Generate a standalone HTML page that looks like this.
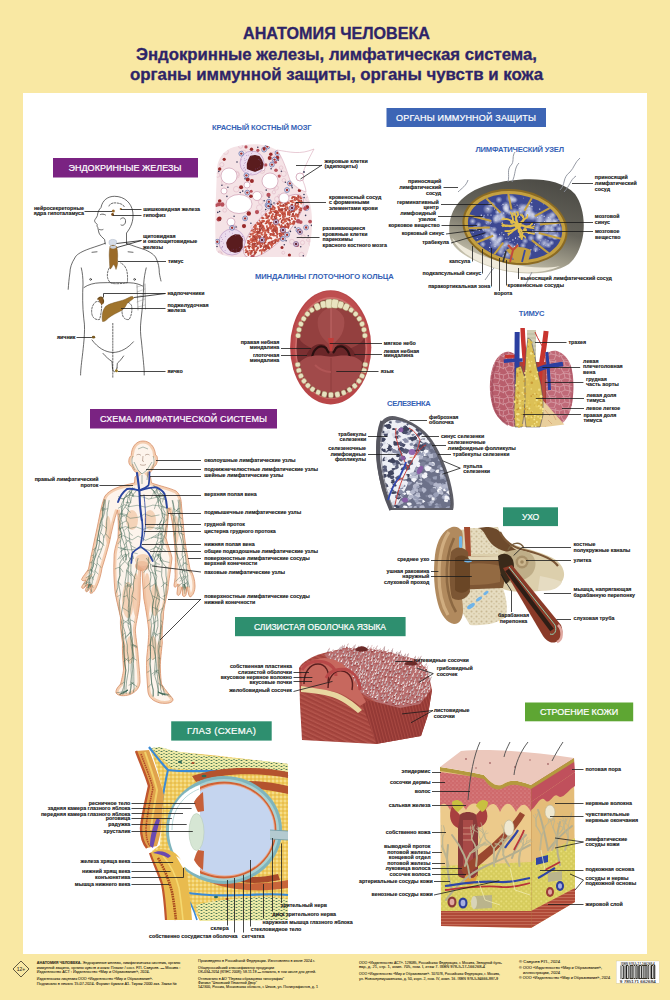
<!DOCTYPE html>
<html><head><meta charset="utf-8">
<style>
html,body{margin:0;padding:0;width:670px;height:1000px;overflow:hidden;background:#f9e8a3;}
svg{position:absolute;left:0;top:0;display:block;}
text{font-family:"Liberation Sans",sans-serif;}
.t{font-weight:bold;fill:#2e2468;stroke:#2e2468;stroke-width:0.3;}
.b{font-weight:normal;fill:#fff;stroke:#fff;stroke-width:0.2;font-size:9px;}
.h{font-weight:bold;fill:#3562b6;font-size:7.6px;}
.l{font-size:5.6px;fill:#1a1a1a;font-weight:bold;}
.ln{stroke:#1a1a1a;stroke-width:0.7;fill:none;}
.f{font-size:3.6px;fill:#3a3320;}
</style></head><body>
<svg width="670" height="1000" viewBox="0 0 670 1000">
<!-- white panel -->
<rect x="23" y="93" width="624" height="861" fill="#ffffff"/>

<!-- title -->
<text class="t" x="243" y="38.5" font-size="16" textLength="187" lengthAdjust="spacingAndGlyphs">АНАТОМИЯ ЧЕЛОВЕКА</text>
<text class="t" x="136" y="59.8" font-size="16" textLength="401" lengthAdjust="spacingAndGlyphs">Эндокринные железы, лимфатическая система,</text>
<text class="t" x="130" y="80.4" font-size="16" textLength="413" lengthAdjust="spacingAndGlyphs">органы иммунной защиты, органы чувств и кожа</text>

<!-- banners -->
<rect x="53" y="158" width="145" height="19.5" fill="#7a2382"/>
<text class="b" x="68.5" y="171" textLength="113" lengthAdjust="spacing">ЭНДОКРИННЫЕ ЖЕЛЕЗЫ</text>
<rect x="386.5" y="108" width="159.5" height="19" fill="#3d65b5"/>
<text class="b" x="396" y="120.8" textLength="140" lengthAdjust="spacing">ОРГАНЫ ИММУННОЙ ЗАЩИТЫ</text>
<rect x="90" y="409" width="187" height="19.5" fill="#7a2382"/>
<text class="b" x="100" y="422" textLength="167" lengthAdjust="spacing">СХЕМА ЛИМФАТИЧЕСКОЙ СИСТЕМЫ</text>
<rect x="503" y="507.3" width="55" height="18.8" fill="#2e8f6f"/>
<text class="b" x="522" y="519.7" style="font-size:8.6px" textLength="17.3" lengthAdjust="spacing">УХО</text>
<rect x="235" y="617" width="170.6" height="19.2" fill="#2e8f6f"/>
<text class="b" x="254" y="630" style="font-size:8.5px" textLength="132" lengthAdjust="spacing">СЛИЗИСТАЯ ОБОЛОЧКА ЯЗЫКА</text>
<rect x="171.2" y="721.3" width="100.5" height="19.3" fill="#2e8f6f"/>
<text class="b" x="187" y="734.3" style="font-size:9.6px" textLength="69" lengthAdjust="spacing">ГЛАЗ (СХЕМА)</text>
<rect x="525" y="702.5" width="108.2" height="18.8" fill="#5ea633"/>
<text class="b" x="540" y="715.3" textLength="78.2" lengthAdjust="spacing">СТРОЕНИЕ КОЖИ</text>

<!-- section headings (blue) -->
<text class="h" x="212" y="130" textLength="99.6" lengthAdjust="spacing">КРАСНЫЙ КОСТНЫЙ МОЗГ</text>
<text class="h" x="475.4" y="151.7" textLength="88.6" lengthAdjust="spacing">ЛИМФАТИЧЕСКИЙ УЗЕЛ</text>
<text class="h" x="255" y="279.3" textLength="138.8" lengthAdjust="spacing">МИНДАЛИНЫ ГЛОТОЧНОГО КОЛЬЦА</text>
<text class="h" x="518.8" y="315.6" textLength="25.6" lengthAdjust="spacing">ТИМУС</text>
<text class="h" x="387" y="405.9" textLength="43.7" lengthAdjust="spacing">СЕЛЕЗЕНКА</text>

<!-- ILLUSTRATIONS -->
<defs>
  <linearGradient id="lnOut" x1="0.6" y1="0" x2="0.2" y2="1">
    <stop offset="0" stop-color="#4e4d47"/>
    <stop offset="0.4" stop-color="#65635a"/>
    <stop offset="0.7" stop-color="#a39f8d"/>
    <stop offset="1" stop-color="#e6e1cc"/>
  </linearGradient>
  <radialGradient id="blueLobe" cx="0.5" cy="0.5" r="0.6">
    <stop offset="0" stop-color="#8a93c4"/>
    <stop offset="1" stop-color="#3e4a94"/>
  </radialGradient>
  <pattern id="speck" width="6" height="6" patternUnits="userSpaceOnUse">
    <circle cx="1.5" cy="1.5" r="0.8" fill="#dfe3f5"/>
    <circle cx="4.5" cy="4" r="0.6" fill="#c9cfee"/>
  </pattern>
</defs>
<!-- LYMPH NODE -->
<g id="lymphnode">
<path d="M449.5,235 C447,212 460,193 488,185 C518,177 558,175 575,194 C588,212 587,248 569,264 C549,277 512,276 485,265 C465,257 451,248 449.5,235 Z" fill="url(#lnOut)"/>
<path d="M452,238 C458,252 480,266 510,271 C530,274 548,272 560,266 C540,270 505,266 478,254 C462,247 455,241 452,238Z" fill="#efeadb"/>
<defs><radialGradient id="cloud"><stop offset="0" stop-color="#e8ecf8" stop-opacity="0.95"/><stop offset="1" stop-color="#e8ecf8" stop-opacity="0"/></radialGradient></defs>
<g transform="rotate(10 515 227)">
<ellipse cx="515" cy="227" rx="53" ry="37.5" fill="#8a6a24"/>
<ellipse cx="515" cy="227" rx="51" ry="35.5" fill="#c4a040"/>
<ellipse cx="515" cy="227" rx="47.5" ry="32.5" fill="#3c4892"/>
</g>
<clipPath id="lnclip"><ellipse cx="515" cy="227" rx="47.5" ry="32.5" transform="rotate(10 515 227)"/></clipPath>
<g clip-path="url(#lnclip)">
<circle cx="551.5" cy="242.8" r="2.9" fill="url(#cloud)" opacity="0.8"/>
<circle cx="512.3" cy="199.7" r="4.4" fill="url(#cloud)" opacity="0.8"/>
<circle cx="506.5" cy="244.0" r="4.3" fill="url(#cloud)" opacity="0.8"/>
<circle cx="549.3" cy="221.9" r="3.9" fill="url(#cloud)" opacity="0.8"/>
<circle cx="493.7" cy="239.3" r="4.3" fill="url(#cloud)" opacity="0.8"/>
<circle cx="486.6" cy="236.3" r="4.1" fill="url(#cloud)" opacity="0.8"/>
<circle cx="503.2" cy="218.1" r="3.1" fill="url(#cloud)" opacity="0.8"/>
<circle cx="506.1" cy="205.7" r="4.6" fill="url(#cloud)" opacity="0.8"/>
<circle cx="536.7" cy="232.1" r="3.8" fill="url(#cloud)" opacity="0.8"/>
<circle cx="514.6" cy="212.1" r="4.4" fill="url(#cloud)" opacity="0.8"/>
<circle cx="493.8" cy="236.1" r="4.6" fill="url(#cloud)" opacity="0.8"/>
<circle cx="548.5" cy="245.2" r="3.3" fill="url(#cloud)" opacity="0.8"/>
<circle cx="500.6" cy="238.5" r="3.7" fill="url(#cloud)" opacity="0.8"/>
<circle cx="527.4" cy="214.1" r="3.9" fill="url(#cloud)" opacity="0.8"/>
<circle cx="491.8" cy="233.2" r="2.8" fill="url(#cloud)" opacity="0.8"/>
<circle cx="505.9" cy="208.8" r="3.7" fill="url(#cloud)" opacity="0.8"/>
<circle cx="499.4" cy="219.0" r="4.5" fill="url(#cloud)" opacity="0.8"/>
<circle cx="533.3" cy="216.8" r="4.5" fill="url(#cloud)" opacity="0.8"/>
<circle cx="507.1" cy="210.9" r="3.2" fill="url(#cloud)" opacity="0.8"/>
<circle cx="539.3" cy="236.6" r="3.6" fill="url(#cloud)" opacity="0.8"/>
<circle cx="485.1" cy="228.7" r="3.9" fill="url(#cloud)" opacity="0.8"/>
<circle cx="531.1" cy="238.0" r="3.9" fill="url(#cloud)" opacity="0.8"/>
<circle cx="494.0" cy="229.5" r="3.2" fill="url(#cloud)" opacity="0.8"/>
<circle cx="553.6" cy="223.5" r="4.3" fill="url(#cloud)" opacity="0.8"/>
<circle cx="497.6" cy="242.2" r="4.3" fill="url(#cloud)" opacity="0.8"/>
<circle cx="483.1" cy="218.1" r="2.6" fill="url(#cloud)" opacity="0.8"/>
<circle cx="509.9" cy="212.4" r="3.3" fill="url(#cloud)" opacity="0.8"/>
<circle cx="472.6" cy="221.3" r="3.5" fill="url(#cloud)" opacity="0.8"/>
<circle cx="501.4" cy="214.9" r="4.8" fill="url(#cloud)" opacity="0.8"/>
<circle cx="515.5" cy="248.6" r="4.2" fill="url(#cloud)" opacity="0.8"/>
<circle cx="505.9" cy="208.2" r="4.1" fill="url(#cloud)" opacity="0.8"/>
<circle cx="559.1" cy="228.9" r="3.9" fill="url(#cloud)" opacity="0.8"/>
<circle cx="495.5" cy="218.0" r="3.7" fill="url(#cloud)" opacity="0.8"/>
<circle cx="497.4" cy="212.1" r="2.8" fill="url(#cloud)" opacity="0.8"/>
<circle cx="528.6" cy="253.4" r="3.0" fill="url(#cloud)" opacity="0.8"/>
<circle cx="478.6" cy="224.8" r="3.1" fill="url(#cloud)" opacity="0.8"/>
<circle cx="525.6" cy="208.0" r="4.9" fill="url(#cloud)" opacity="0.8"/>
<circle cx="523.0" cy="245.6" r="3.4" fill="url(#cloud)" opacity="0.8"/>
<circle cx="510.9" cy="246.2" r="3.6" fill="url(#cloud)" opacity="0.8"/>
<circle cx="482.8" cy="244.2" r="3.3" fill="url(#cloud)" opacity="0.8"/>
<circle cx="550.3" cy="235.9" r="3.6" fill="url(#cloud)" opacity="0.8"/>
<circle cx="552.3" cy="231.0" r="4.3" fill="url(#cloud)" opacity="0.8"/>
<circle cx="492.8" cy="204.7" r="3.2" fill="url(#cloud)" opacity="0.8"/>
<circle cx="529.4" cy="211.7" r="4.6" fill="url(#cloud)" opacity="0.8"/>
<circle cx="547.1" cy="226.8" r="3.6" fill="url(#cloud)" opacity="0.8"/>
<circle cx="488.1" cy="209.2" r="5.4" fill="url(#cloud)" opacity="0.75"/>
<circle cx="550.1" cy="218.0" r="5.8" fill="url(#cloud)" opacity="0.75"/>
<circle cx="545.9" cy="230.9" r="5.8" fill="url(#cloud)" opacity="0.75"/>
<circle cx="490.7" cy="204.5" r="3.3" fill="url(#cloud)" opacity="0.75"/>
<circle cx="488.9" cy="230.5" r="4.6" fill="url(#cloud)" opacity="0.75"/>
<circle cx="495.8" cy="220.5" r="3.7" fill="url(#cloud)" opacity="0.75"/>
<circle cx="507.4" cy="254.7" r="5.3" fill="url(#cloud)" opacity="0.75"/>
<circle cx="535.8" cy="249.2" r="3.4" fill="url(#cloud)" opacity="0.75"/>
<circle cx="497.3" cy="216.0" r="3.0" fill="url(#cloud)" opacity="0.75"/>
<circle cx="532.8" cy="214.3" r="3.6" fill="url(#cloud)" opacity="0.75"/>
<circle cx="555.2" cy="224.0" r="3.9" fill="url(#cloud)" opacity="0.75"/>
<circle cx="547.1" cy="221.6" r="5.0" fill="url(#cloud)" opacity="0.75"/>
<circle cx="526.8" cy="254.4" r="5.1" fill="url(#cloud)" opacity="0.75"/>
<circle cx="555.0" cy="221.2" r="3.9" fill="url(#cloud)" opacity="0.75"/>
<circle cx="499.0" cy="239.9" r="3.4" fill="url(#cloud)" opacity="0.75"/>
<circle cx="540.5" cy="234.5" r="4.8" fill="url(#cloud)" opacity="0.75"/>
<circle cx="551.1" cy="227.5" r="4.0" fill="url(#cloud)" opacity="0.75"/>
<circle cx="500.6" cy="251.8" r="4.4" fill="url(#cloud)" opacity="0.75"/>
<circle cx="502.2" cy="246.8" r="5.1" fill="url(#cloud)" opacity="0.75"/>
<circle cx="555.0" cy="237.2" r="3.1" fill="url(#cloud)" opacity="0.75"/>
<circle cx="514.9" cy="199.9" r="3.1" fill="url(#cloud)" opacity="0.75"/>
<circle cx="521.9" cy="207.6" r="4.7" fill="url(#cloud)" opacity="0.75"/>
<circle cx="537.1" cy="227.9" r="3.5" fill="url(#cloud)" opacity="0.75"/>
<circle cx="539.5" cy="222.2" r="5.3" fill="url(#cloud)" opacity="0.75"/>
<circle cx="552.9" cy="214.8" r="4.0" fill="url(#cloud)" opacity="0.75"/>
<circle cx="495.0" cy="244.6" r="5.3" fill="url(#cloud)" opacity="0.75"/>
<circle cx="544.3" cy="243.1" r="5.4" fill="url(#cloud)" opacity="0.75"/>
<circle cx="529.0" cy="215.5" r="5.8" fill="url(#cloud)" opacity="0.75"/>
<circle cx="539.1" cy="237.6" r="4.8" fill="url(#cloud)" opacity="0.75"/>
<circle cx="539.9" cy="217.4" r="5.8" fill="url(#cloud)" opacity="0.75"/>
<circle cx="488.1" cy="221.7" r="4.0" fill="url(#cloud)" opacity="0.75"/>
<circle cx="525.1" cy="241.0" r="3.4" fill="url(#cloud)" opacity="0.75"/>
<circle cx="498.9" cy="199.7" r="3.5" fill="url(#cloud)" opacity="0.75"/>
<circle cx="556.0" cy="235.8" r="4.6" fill="url(#cloud)" opacity="0.75"/>
<circle cx="493.1" cy="237.0" r="4.8" fill="url(#cloud)" opacity="0.75"/>
<circle cx="529.4" cy="208.1" r="4.3" fill="url(#cloud)" opacity="0.75"/>
<circle cx="553.9" cy="236.7" r="3.1" fill="url(#cloud)" opacity="0.75"/>
<circle cx="475.4" cy="228.1" r="3.4" fill="url(#cloud)" opacity="0.75"/>
<circle cx="510.2" cy="198.5" r="4.9" fill="url(#cloud)" opacity="0.75"/>
<circle cx="520.6" cy="211.5" r="4.3" fill="url(#cloud)" opacity="0.75"/>
<circle cx="539.3" cy="249.6" r="0.4" fill="#d8def2"/>
<circle cx="470.9" cy="236.1" r="0.6" fill="#d8def2"/>
<circle cx="543.3" cy="224.1" r="0.5" fill="#d8def2"/>
<circle cx="511.2" cy="207.1" r="0.4" fill="#d8def2"/>
<circle cx="499.5" cy="234.3" r="0.5" fill="#d8def2"/>
<circle cx="559.7" cy="224.8" r="0.6" fill="#d8def2"/>
<circle cx="490.1" cy="227.1" r="0.3" fill="#d8def2"/>
<circle cx="509.5" cy="253.4" r="0.6" fill="#d8def2"/>
<circle cx="489.7" cy="247.4" r="0.6" fill="#d8def2"/>
<circle cx="503.0" cy="204.4" r="0.6" fill="#d8def2"/>
<circle cx="491.1" cy="245.9" r="0.4" fill="#d8def2"/>
<circle cx="476.5" cy="229.4" r="0.6" fill="#d8def2"/>
<circle cx="502.9" cy="256.0" r="0.6" fill="#d8def2"/>
<circle cx="502.3" cy="222.2" r="0.5" fill="#d8def2"/>
<circle cx="514.8" cy="251.2" r="0.5" fill="#d8def2"/>
<circle cx="529.2" cy="205.4" r="0.6" fill="#d8def2"/>
<circle cx="495.0" cy="246.3" r="0.6" fill="#d8def2"/>
<circle cx="526.9" cy="211.8" r="0.6" fill="#d8def2"/>
<circle cx="539.7" cy="209.1" r="0.7" fill="#d8def2"/>
<circle cx="544.5" cy="221.4" r="0.5" fill="#d8def2"/>
<circle cx="535.5" cy="251.0" r="0.7" fill="#d8def2"/>
<circle cx="479.2" cy="230.5" r="0.6" fill="#d8def2"/>
<circle cx="512.6" cy="213.8" r="0.6" fill="#d8def2"/>
<circle cx="484.1" cy="215.3" r="0.5" fill="#d8def2"/>
<circle cx="487.3" cy="208.4" r="0.6" fill="#d8def2"/>
<circle cx="512.2" cy="217.0" r="0.4" fill="#d8def2"/>
<circle cx="482.5" cy="235.6" r="0.4" fill="#d8def2"/>
<circle cx="501.6" cy="205.5" r="0.3" fill="#d8def2"/>
<circle cx="494.0" cy="229.6" r="0.3" fill="#d8def2"/>
<circle cx="531.2" cy="239.3" r="0.4" fill="#d8def2"/>
<circle cx="520.3" cy="236.7" r="0.5" fill="#d8def2"/>
<circle cx="490.4" cy="242.7" r="0.5" fill="#d8def2"/>
<circle cx="518.3" cy="256.2" r="0.3" fill="#d8def2"/>
<circle cx="495.9" cy="235.8" r="0.5" fill="#d8def2"/>
<circle cx="545.5" cy="245.3" r="0.4" fill="#d8def2"/>
<circle cx="547.8" cy="232.2" r="0.3" fill="#d8def2"/>
<circle cx="491.1" cy="222.2" r="0.5" fill="#d8def2"/>
<circle cx="553.9" cy="219.9" r="0.5" fill="#d8def2"/>
<circle cx="528.3" cy="205.2" r="0.4" fill="#d8def2"/>
<circle cx="535.8" cy="244.6" r="0.5" fill="#d8def2"/>
<circle cx="558.4" cy="218.9" r="0.5" fill="#d8def2"/>
<circle cx="489.7" cy="250.4" r="0.3" fill="#d8def2"/>
<circle cx="540.1" cy="240.7" r="0.5" fill="#d8def2"/>
<circle cx="536.7" cy="245.0" r="0.7" fill="#d8def2"/>
<circle cx="495.2" cy="240.4" r="0.4" fill="#d8def2"/>
<circle cx="503.4" cy="256.7" r="0.5" fill="#d8def2"/>
<circle cx="557.0" cy="219.9" r="0.5" fill="#d8def2"/>
<circle cx="512.2" cy="257.9" r="0.5" fill="#d8def2"/>
<circle cx="494.0" cy="235.4" r="0.7" fill="#d8def2"/>
<circle cx="491.8" cy="227.8" r="0.5" fill="#d8def2"/>
<circle cx="539.5" cy="243.0" r="0.5" fill="#d8def2"/>
<circle cx="504.5" cy="252.6" r="0.6" fill="#d8def2"/>
<circle cx="546.0" cy="228.8" r="0.4" fill="#d8def2"/>
<circle cx="550.9" cy="216.5" r="0.4" fill="#d8def2"/>
<circle cx="512.9" cy="239.9" r="0.7" fill="#d8def2"/>
<circle cx="506.0" cy="249.0" r="0.5" fill="#d8def2"/>
<circle cx="494.5" cy="209.0" r="0.6" fill="#d8def2"/>
<circle cx="543.3" cy="244.7" r="0.4" fill="#d8def2"/>
<circle cx="490.7" cy="223.5" r="0.4" fill="#d8def2"/>
<circle cx="486.6" cy="223.3" r="0.4" fill="#d8def2"/>
<circle cx="514.0" cy="204.6" r="0.3" fill="#d8def2"/>
<circle cx="514.6" cy="246.5" r="0.7" fill="#d8def2"/>
<circle cx="539.0" cy="213.1" r="0.3" fill="#d8def2"/>
<circle cx="519.9" cy="208.4" r="0.5" fill="#d8def2"/>
<circle cx="506.1" cy="204.4" r="0.5" fill="#d8def2"/>
<circle cx="537.5" cy="217.5" r="0.5" fill="#d8def2"/>
<circle cx="527.2" cy="215.9" r="0.4" fill="#d8def2"/>
<circle cx="522.8" cy="217.3" r="0.6" fill="#d8def2"/>
<circle cx="505.5" cy="209.1" r="0.4" fill="#d8def2"/>
<circle cx="523.3" cy="198.1" r="0.4" fill="#d8def2"/>
<circle cx="483.6" cy="229.9" r="0.5" fill="#d8def2"/>
<circle cx="505.8" cy="238.3" r="0.5" fill="#d8def2"/>
<circle cx="521.2" cy="216.7" r="0.4" fill="#d8def2"/>
<circle cx="531.7" cy="202.7" r="0.6" fill="#d8def2"/>
<circle cx="551.7" cy="231.0" r="0.7" fill="#d8def2"/>
<circle cx="551.5" cy="226.7" r="0.3" fill="#d8def2"/>
<circle cx="526.5" cy="215.0" r="0.6" fill="#d8def2"/>
<circle cx="550.2" cy="219.6" r="0.4" fill="#d8def2"/>
<circle cx="503.5" cy="255.5" r="0.4" fill="#d8def2"/>
<circle cx="494.0" cy="215.1" r="0.4" fill="#d8def2"/>
<circle cx="503.9" cy="219.7" r="0.3" fill="#d8def2"/>
<circle cx="503.1" cy="234.7" r="0.3" fill="#d8def2"/>
<circle cx="481.3" cy="215.3" r="0.7" fill="#d8def2"/>
<circle cx="533.5" cy="241.2" r="0.4" fill="#d8def2"/>
<circle cx="491.0" cy="215.1" r="0.7" fill="#d8def2"/>
<circle cx="503.8" cy="234.7" r="0.6" fill="#d8def2"/>
<circle cx="535.0" cy="246.0" r="0.5" fill="#d8def2"/>
<circle cx="541.9" cy="215.4" r="0.5" fill="#d8def2"/>
<circle cx="512.4" cy="248.5" r="0.4" fill="#d8def2"/>
<circle cx="515.1" cy="206.2" r="0.4" fill="#d8def2"/>
<circle cx="517.5" cy="244.6" r="0.6" fill="#d8def2"/>
<circle cx="530.9" cy="249.7" r="0.6" fill="#d8def2"/>
<circle cx="545.5" cy="239.3" r="0.3" fill="#d8def2"/>
<circle cx="538.4" cy="242.9" r="0.4" fill="#d8def2"/>
<circle cx="536.1" cy="213.0" r="0.4" fill="#d8def2"/>
<circle cx="519.3" cy="217.2" r="0.6" fill="#d8def2"/>
<circle cx="532.9" cy="231.3" r="0.7" fill="#d8def2"/>
<circle cx="506.1" cy="213.9" r="0.3" fill="#d8def2"/>
<circle cx="549.8" cy="222.9" r="0.6" fill="#d8def2"/>
<circle cx="536.8" cy="244.9" r="0.4" fill="#d8def2"/>
<circle cx="517.3" cy="243.8" r="0.5" fill="#d8def2"/>
<circle cx="499.6" cy="241.6" r="0.4" fill="#d8def2"/>
<circle cx="532.0" cy="206.3" r="0.6" fill="#d8def2"/>
<circle cx="477.2" cy="238.4" r="0.5" fill="#d8def2"/>
<circle cx="487.9" cy="214.9" r="0.6" fill="#d8def2"/>
<circle cx="501.4" cy="234.1" r="0.3" fill="#d8def2"/>
<circle cx="519.5" cy="237.0" r="0.7" fill="#d8def2"/>
<circle cx="476.9" cy="230.1" r="0.3" fill="#d8def2"/>
<circle cx="473.2" cy="232.4" r="0.5" fill="#d8def2"/>
<circle cx="488.9" cy="235.6" r="0.3" fill="#d8def2"/>
<circle cx="525.8" cy="237.8" r="0.4" fill="#d8def2"/>
<circle cx="483.2" cy="245.9" r="0.4" fill="#d8def2"/>
<circle cx="514.4" cy="242.6" r="0.4" fill="#d8def2"/>
<circle cx="510.0" cy="241.3" r="0.5" fill="#d8def2"/>
<circle cx="557.8" cy="233.0" r="0.4" fill="#d8def2"/>
<circle cx="548.4" cy="217.7" r="0.6" fill="#d8def2"/>
<circle cx="471.4" cy="232.3" r="0.3" fill="#d8def2"/>
<circle cx="503.5" cy="213.1" r="0.6" fill="#d8def2"/>
<circle cx="512.5" cy="214.0" r="0.4" fill="#d8def2"/>
<circle cx="536.2" cy="229.3" r="0.3" fill="#d8def2"/>
<circle cx="478.2" cy="244.9" r="0.4" fill="#d8def2"/>
<circle cx="504.0" cy="245.3" r="0.4" fill="#d8def2"/>
<circle cx="510.9" cy="201.9" r="0.4" fill="#d8def2"/>
<circle cx="517.1" cy="251.2" r="0.7" fill="#d8def2"/>
<circle cx="498.0" cy="211.9" r="0.7" fill="#d8def2"/>
<circle cx="531.0" cy="227.4" r="0.6" fill="#d8def2"/>
<circle cx="501.9" cy="232.7" r="0.5" fill="#d8def2"/>
<circle cx="545.6" cy="225.6" r="0.4" fill="#d8def2"/>
<circle cx="528.6" cy="233.2" r="0.7" fill="#d8def2"/>
<circle cx="471.1" cy="228.7" r="0.3" fill="#d8def2"/>
<circle cx="515.6" cy="237.7" r="0.5" fill="#d8def2"/>
<circle cx="535.7" cy="232.6" r="0.5" fill="#d8def2"/>
<circle cx="509.6" cy="237.1" r="0.3" fill="#d8def2"/>
<circle cx="534.5" cy="224.6" r="0.5" fill="#d8def2"/>
<circle cx="489.6" cy="239.2" r="0.3" fill="#d8def2"/>
<circle cx="508.1" cy="238.0" r="0.5" fill="#d8def2"/>
<circle cx="544.2" cy="216.3" r="0.6" fill="#d8def2"/>
<circle cx="518.3" cy="236.7" r="0.5" fill="#d8def2"/>
<circle cx="482.8" cy="228.9" r="0.5" fill="#d8def2"/>
<circle cx="488.6" cy="209.0" r="0.7" fill="#d8def2"/>
<circle cx="504.9" cy="245.1" r="0.6" fill="#d8def2"/>
<circle cx="517.9" cy="239.0" r="0.4" fill="#d8def2"/>
<circle cx="548.1" cy="240.8" r="0.6" fill="#d8def2"/>
<circle cx="508.0" cy="238.5" r="0.3" fill="#d8def2"/>
<circle cx="515.5" cy="238.4" r="0.5" fill="#d8def2"/>
<circle cx="495.6" cy="220.1" r="0.3" fill="#d8def2"/>
<circle cx="510.2" cy="216.9" r="0.4" fill="#d8def2"/>
<circle cx="509.2" cy="244.3" r="0.3" fill="#d8def2"/>
<circle cx="493.8" cy="234.9" r="0.6" fill="#d8def2"/>
<circle cx="474.9" cy="217.0" r="0.6" fill="#d8def2"/>
<circle cx="517.0" cy="204.9" r="0.5" fill="#d8def2"/>
<circle cx="529.3" cy="205.2" r="0.7" fill="#d8def2"/>
<circle cx="510.0" cy="202.4" r="0.4" fill="#d8def2"/>
<circle cx="525.0" cy="210.4" r="0.4" fill="#d8def2"/>
<circle cx="532.9" cy="232.3" r="0.4" fill="#d8def2"/>
<circle cx="504.6" cy="212.9" r="0.3" fill="#d8def2"/>
<circle cx="517.8" cy="205.4" r="0.3" fill="#d8def2"/>
<circle cx="532.3" cy="230.9" r="0.4" fill="#d8def2"/>
<circle cx="543.3" cy="203.7" r="0.5" fill="#d8def2"/>
<circle cx="518.3" cy="245.8" r="0.4" fill="#d8def2"/>
<path d="M491.3,221.0 L458.6,212.6" stroke="#c4a040" stroke-width="2"/>
<path d="M500.6,212.6 L480.6,192.6" stroke="#c4a040" stroke-width="2"/>
<path d="M511.5,209.5 L506.6,185.4" stroke="#c4a040" stroke-width="2"/>
<path d="M524.5,210.7 L537.5,188.1" stroke="#c4a040" stroke-width="2"/>
<path d="M534.9,216.1 L562.3,201.1" stroke="#c4a040" stroke-width="2"/>
<path d="M539.9,224.6 L574.4,221.2" stroke="#c4a040" stroke-width="2"/>
<path d="M538.7,233.0 L571.4,241.4" stroke="#c4a040" stroke-width="2"/>
<path d="M531.8,240.1 L555.1,258.2" stroke="#c4a040" stroke-width="2"/>
<path d="M517.2,244.6 L520.2,268.8" stroke="#c4a040" stroke-width="2"/>
<path d="M503.2,242.6 L486.8,264.1" stroke="#c4a040" stroke-width="2"/>
<path d="M493.2,235.8 L463.0,248.0" stroke="#c4a040" stroke-width="2"/>
<path d="M489.8,227.6 L455.0,228.5" stroke="#c4a040" stroke-width="2"/>
</g>
<g stroke="#e2be4a" fill="none" stroke-linecap="round">
<path d="M517.9,225.5 Q522.6,224.6 525.1,226.6" stroke-width="2.4"/>
<path d="M525.1,226.6 Q526.7,227.2 530.7,227.5" stroke-width="1.8"/>
<path d="M530.7,227.5 Q531.9,228.6 533.7,228.4" stroke-width="1.3"/>
<path d="M530.7,227.5 Q533.7,227.1 534.2,226.1" stroke-width="1.3"/>
<path d="M525.1,226.6 Q528.4,226.0 530.4,225.9" stroke-width="1.8"/>
<path d="M530.4,225.9 Q530.5,224.3 532.4,223.9" stroke-width="1.3"/>
<path d="M530.4,225.9 Q531.3,223.4 532.3,223.8" stroke-width="1.3"/>
<path d="M516.5,226.3 Q518.6,227.7 522.5,232.0" stroke-width="2.4"/>
<path d="M522.5,232.0 Q524.3,231.1 529.1,232.8" stroke-width="1.8"/>
<path d="M529.1,232.8 Q531.4,232.7 534.2,233.3" stroke-width="1.3"/>
<path d="M529.1,232.8 Q530.2,233.6 534.0,234.1" stroke-width="1.3"/>
<path d="M522.5,232.0 Q522.5,235.4 521.2,236.1" stroke-width="1.8"/>
<path d="M521.2,236.1 Q520.4,237.1 522.2,239.0" stroke-width="1.3"/>
<path d="M521.2,236.1 Q521.6,237.6 521.5,239.3" stroke-width="1.3"/>
<path d="M519.2,225.3 Q518.2,228.3 519.0,231.5" stroke-width="2.4"/>
<path d="M519.0,231.5 Q520.0,232.1 520.3,235.0" stroke-width="1.8"/>
<path d="M520.3,235.0 Q520.8,236.8 519.7,236.9" stroke-width="1.3"/>
<path d="M520.3,235.0 Q522.3,235.6 521.5,236.9" stroke-width="1.3"/>
<path d="M519.0,231.5 Q519.9,232.2 522.3,235.5" stroke-width="1.8"/>
<path d="M522.3,235.5 Q523.1,238.3 521.2,238.2" stroke-width="1.3"/>
<path d="M522.3,235.5 Q525.3,236.3 525.4,237.9" stroke-width="1.3"/>
<path d="M518.2,226.8 Q515.4,229.2 512.9,230.4" stroke-width="2.4"/>
<path d="M512.9,230.4 Q511.8,229.9 508.4,231.3" stroke-width="1.8"/>
<path d="M508.4,231.3 Q507.9,231.2 505.0,231.0" stroke-width="1.3"/>
<path d="M508.4,231.3 Q507.9,230.5 505.8,231.4" stroke-width="1.3"/>
<path d="M512.9,230.4 Q511.6,233.1 510.4,233.0" stroke-width="1.8"/>
<path d="M510.4,233.0 Q507.9,235.5 508.3,235.0" stroke-width="1.3"/>
<path d="M510.4,233.0 Q509.7,233.3 508.0,233.4" stroke-width="1.3"/>
<path d="M518.8,225.8 Q515.0,224.6 510.3,226.1" stroke-width="2.4"/>
<path d="M510.3,226.1 Q508.8,225.0 504.9,225.5" stroke-width="1.8"/>
<path d="M504.9,225.5 Q503.8,225.6 502.0,223.5" stroke-width="1.3"/>
<path d="M504.9,225.5 Q502.5,225.8 501.9,225.5" stroke-width="1.3"/>
<path d="M510.3,226.1 Q508.8,225.5 505.6,226.0" stroke-width="1.8"/>
<path d="M505.6,226.0 Q505.9,225.8 503.4,225.0" stroke-width="1.3"/>
<path d="M505.6,226.0 Q505.1,225.3 502.8,226.5" stroke-width="1.3"/>
<path d="M519.9,225.5 Q516.2,223.4 512.6,221.3" stroke-width="2.4"/>
<path d="M512.6,221.3 Q508.8,219.5 506.7,219.2" stroke-width="1.8"/>
<path d="M506.7,219.2 Q504.7,219.9 503.1,218.0" stroke-width="1.3"/>
<path d="M506.7,219.2 Q504.5,218.5 501.7,219.3" stroke-width="1.3"/>
<path d="M512.6,221.3 Q513.6,220.0 512.2,216.1" stroke-width="1.8"/>
<path d="M512.2,216.1 Q515.2,213.2 515.3,212.8" stroke-width="1.3"/>
<path d="M512.2,216.1 Q511.1,213.4 510.5,212.4" stroke-width="1.3"/>
<path d="M517.8,224.7 Q516.4,220.7 516.0,218.7" stroke-width="2.4"/>
<path d="M516.0,218.7 Q516.3,217.4 515.4,215.1" stroke-width="1.8"/>
<path d="M515.4,215.1 Q513.7,214.0 512.9,213.3" stroke-width="1.3"/>
<path d="M515.4,215.1 Q513.9,212.6 513.3,213.1" stroke-width="1.3"/>
<path d="M516.0,218.7 Q515.9,217.4 518.1,214.9" stroke-width="1.8"/>
<path d="M518.1,214.9 Q516.9,212.0 518.1,212.0" stroke-width="1.3"/>
<path d="M518.1,214.9 Q518.9,213.8 516.7,211.9" stroke-width="1.3"/>
<path d="M518.8,225.4 Q520.4,222.7 523.1,220.6" stroke-width="2.4"/>
<path d="M523.1,220.6 Q524.2,218.7 523.2,216.4" stroke-width="1.8"/>
<path d="M523.2,216.4 Q520.2,215.4 520.2,214.5" stroke-width="1.3"/>
<path d="M523.2,216.4 Q522.4,215.9 521.9,214.2" stroke-width="1.3"/>
<path d="M523.1,220.6 Q526.2,217.7 526.8,217.7" stroke-width="1.8"/>
<path d="M526.8,217.7 Q527.7,215.0 527.6,214.7" stroke-width="1.3"/>
<path d="M526.8,217.7 Q527.8,216.3 527.6,215.3" stroke-width="1.3"/>
</g>
<g fill="#e2be4a"><circle cx="518" cy="226" r="3"/><circle cx="512" cy="222" r="2"/><circle cx="525" cy="230" r="2"/></g>
<path d="M506,250 C510,254 513,258 516,263 L528,263 C529,258 530,254 531,250 C523,246 513,246 506,250Z" fill="#c4a040"/>
<path d="M510,262 L513,250 L518,245 M513,250 L508,245" stroke="#c24a3a" stroke-width="2" fill="none"/>
<path d="M522,262 L525,250" stroke="#3a4aa0" stroke-width="1.8"/>
<path d="M503,262 L506,251" stroke="#333" stroke-width="1.6"/>
<g stroke="#8a8f9a" stroke-width="0.9" fill="none">
    <path d="M508,182 C510,174 506,170 512,164 C514,160 512,156 515,152"/>
    <path d="M512,182 C516,174 514,168 519,163"/>
    <path d="M560,190 C566,184 562,178 570,172 C574,168 575,162 580,158"/>
    <path d="M564,192 C570,186 570,180 576,176"/>
    <path d="M458,192 C462,188 466,186 468,180"/>
    <path d="M494,268 C490,272 488,276 485,280"/>
    <path d="M532,272 C530,276 528,280 525,286"/>
  </g>
</g>

<!-- MOUTH -->
<g id="mouth">
  <ellipse cx="330.7" cy="347.3" rx="40.6" ry="57.1" fill="#b84648"/>
  <ellipse cx="330.7" cy="345" rx="38" ry="54" fill="#c45656" opacity="0.5"/>
  <ellipse cx="331" cy="348" rx="36" ry="51" fill="#cf6e6c"/>
  <ellipse cx="331" cy="348.5" rx="34.5" ry="49.5" fill="#7c3032"/>
  <path d="M299,338 C299,314 313,303 331,303 C349,303 363,314 364,338 C360,347 345,351 331,351 C317,351 303,347 299,338Z" fill="#94403f"/>
  <path d="M318,318 C322,310 328,308 331,308 L331,345 C322,340 316,330 318,318Z" fill="#a85452" opacity="0.6"/>
  <path d="M344,318 C340,310 334,308 331,308 L331,345 C340,340 346,330 344,318Z" fill="#b05a58" opacity="0.6"/>
  <line x1="331" y1="305" x2="331" y2="346" stroke="#c87070" stroke-width="0.8"/>
  <path d="M306,356 C310,346 318,342 325,345 C327,348 328,352 331,354 C334,352 335,348 337,345 C344,342 352,346 356,356 Z" fill="#6a2628"/>
  <path d="M312,357 C314,348 320,344 326,348 C327,350 328,352 329,353 M350,357 C348,348 342,344 336,348 C335,350 334,352 333,353" stroke="#2a1010" stroke-width="2.2" fill="none"/>
  <path d="M328,338 C329,342 329,346 330,350 C330.5,352 331.5,352 332,350 C333,346 333,342 334,338 Z" fill="#c03c3a"/>
  <path d="M300,362 C306,355 318,354 331,357 C344,354 356,355 362,362 C362,380 350,392 331,393 C312,392 300,380 300,362Z" fill="#a14a4a"/>
  <path d="M331,358 L331,392" stroke="#8a3a3a" stroke-width="0.8"/>
  <path d="M315,365 C320,370 325,372 331,372" stroke="#c06060" stroke-width="2" fill="none" opacity="0.5"/>
<rect x="295.7" y="333.1" width="4.8" height="5" rx="2" fill="#e9e4c0" stroke="#9a8a5c" stroke-width="0.4" transform="rotate(-86 298.1 335.6)"/>
<rect x="296.6" y="327.2" width="4.8" height="5" rx="2" fill="#e9e4c0" stroke="#9a8a5c" stroke-width="0.4" transform="rotate(-76 299.0 329.7)"/>
<rect x="298.5" y="321.5" width="4.8" height="5" rx="2" fill="#e9e4c0" stroke="#9a8a5c" stroke-width="0.4" transform="rotate(-66 300.9 324.0)"/>
<rect x="301.3" y="316.2" width="4.8" height="5" rx="2" fill="#e9e4c0" stroke="#9a8a5c" stroke-width="0.4" transform="rotate(-56 303.7 318.7)"/>
<rect x="305.0" y="311.5" width="4.8" height="5" rx="2" fill="#e9e4c0" stroke="#9a8a5c" stroke-width="0.4" transform="rotate(-46 307.4 314.0)"/>
<rect x="309.4" y="307.6" width="4.8" height="5" rx="2" fill="#e9e4c0" stroke="#9a8a5c" stroke-width="0.4" transform="rotate(-36 311.8 310.1)"/>
<rect x="314.4" y="303.2" width="5.8" height="7" rx="2" fill="#e9e4c0" stroke="#9a8a5c" stroke-width="0.4" transform="rotate(-25 317.3 306.7)"/>
<rect x="320.5" y="301.0" width="5.8" height="7" rx="2" fill="#e9e4c0" stroke="#9a8a5c" stroke-width="0.4" transform="rotate(-14 323.4 304.5)"/>
<rect x="325.7" y="299.1" width="7" height="9" rx="2" fill="#e9e4c0" stroke="#9a8a5c" stroke-width="0.4" transform="rotate(-4 329.2 303.6)"/>
<rect x="331.5" y="299.2" width="7" height="9" rx="2" fill="#e9e4c0" stroke="#9a8a5c" stroke-width="0.4" transform="rotate(6 335.0 303.7)"/>
<rect x="337.8" y="301.3" width="5.8" height="7" rx="2" fill="#e9e4c0" stroke="#9a8a5c" stroke-width="0.4" transform="rotate(16 340.7 304.8)"/>
<rect x="343.3" y="303.5" width="5.8" height="7" rx="2" fill="#e9e4c0" stroke="#9a8a5c" stroke-width="0.4" transform="rotate(26 346.2 307.0)"/>
<rect x="348.8" y="307.6" width="4.8" height="5" rx="2" fill="#e9e4c0" stroke="#9a8a5c" stroke-width="0.4" transform="rotate(36 351.2 310.1)"/>
<rect x="353.2" y="311.5" width="4.8" height="5" rx="2" fill="#e9e4c0" stroke="#9a8a5c" stroke-width="0.4" transform="rotate(46 355.6 314.0)"/>
<rect x="356.9" y="316.2" width="4.8" height="5" rx="2" fill="#e9e4c0" stroke="#9a8a5c" stroke-width="0.4" transform="rotate(56 359.3 318.7)"/>
<rect x="359.7" y="321.5" width="4.8" height="5" rx="2" fill="#e9e4c0" stroke="#9a8a5c" stroke-width="0.4" transform="rotate(66 362.1 324.0)"/>
<rect x="361.6" y="327.2" width="4.8" height="5" rx="2" fill="#e9e4c0" stroke="#9a8a5c" stroke-width="0.4" transform="rotate(76 364.0 329.7)"/>
<rect x="362.5" y="333.1" width="4.8" height="5" rx="2" fill="#e9e4c0" stroke="#9a8a5c" stroke-width="0.4" transform="rotate(86 364.9 335.6)"/>
<rect x="295.4" y="362.1" width="4.6" height="5" rx="1.6" fill="#e6e1c0" stroke="#9a8a5c" stroke-width="0.4" transform="rotate(84 297.7 364.6)"/>
<rect x="296.5" y="367.9" width="4.6" height="5" rx="1.6" fill="#e6e1c0" stroke="#9a8a5c" stroke-width="0.4" transform="rotate(74 298.8 370.4)"/>
<rect x="298.6" y="373.4" width="4.6" height="5" rx="1.6" fill="#e6e1c0" stroke="#9a8a5c" stroke-width="0.4" transform="rotate(64 300.9 375.9)"/>
<rect x="301.7" y="378.5" width="4.6" height="5" rx="1.6" fill="#e6e1c0" stroke="#9a8a5c" stroke-width="0.4" transform="rotate(54 304.0 381.0)"/>
<rect x="305.6" y="383.0" width="4.6" height="5" rx="1.6" fill="#e6e1c0" stroke="#9a8a5c" stroke-width="0.4" transform="rotate(44 307.9 385.5)"/>
<rect x="310.2" y="386.7" width="4.6" height="5" rx="1.6" fill="#e6e1c0" stroke="#9a8a5c" stroke-width="0.4" transform="rotate(34 312.5 389.2)"/>
<rect x="315.9" y="389.8" width="4.6" height="5" rx="1.6" fill="#e6e1c0" stroke="#9a8a5c" stroke-width="0.4" transform="rotate(23 318.2 392.3)"/>
<rect x="321.9" y="391.5" width="5" height="5.6" rx="1.6" fill="#e6e1c0" stroke="#9a8a5c" stroke-width="0.4" transform="rotate(12 324.4 394.3)"/>
<rect x="328.4" y="392.2" width="5" height="5.6" rx="1.6" fill="#e6e1c0" stroke="#9a8a5c" stroke-width="0.4" transform="rotate(1 330.9 395.0)"/>
<rect x="334.9" y="391.7" width="5" height="5.6" rx="1.6" fill="#e6e1c0" stroke="#9a8a5c" stroke-width="0.4" transform="rotate(-10 337.4 394.5)"/>
<rect x="341.4" y="390.2" width="4.6" height="5" rx="1.6" fill="#e6e1c0" stroke="#9a8a5c" stroke-width="0.4" transform="rotate(-21 343.7 392.7)"/>
<rect x="347.2" y="387.3" width="4.6" height="5" rx="1.6" fill="#e6e1c0" stroke="#9a8a5c" stroke-width="0.4" transform="rotate(-32 349.5 389.8)"/>
<rect x="352.4" y="383.4" width="4.6" height="5" rx="1.6" fill="#e6e1c0" stroke="#9a8a5c" stroke-width="0.4" transform="rotate(-43 354.7 385.9)"/>
<rect x="356.7" y="378.5" width="4.6" height="5" rx="1.6" fill="#e6e1c0" stroke="#9a8a5c" stroke-width="0.4" transform="rotate(-54 359.0 381.0)"/>
<rect x="359.8" y="373.4" width="4.6" height="5" rx="1.6" fill="#e6e1c0" stroke="#9a8a5c" stroke-width="0.4" transform="rotate(-64 362.1 375.9)"/>
<rect x="361.9" y="367.9" width="4.6" height="5" rx="1.6" fill="#e6e1c0" stroke="#9a8a5c" stroke-width="0.4" transform="rotate(-74 364.2 370.4)"/>
<rect x="363.0" y="362.1" width="4.6" height="5" rx="1.6" fill="#e6e1c0" stroke="#9a8a5c" stroke-width="0.4" transform="rotate(-84 365.3 364.6)"/>
</g>


<!-- THYMUS -->
<defs>
  <pattern id="lungnet" width="14" height="12" patternUnits="userSpaceOnUse">
    <path d="M0,3 L4,1 L9,2 L14,3 M4,1 L5,6 L1,8 L0,7 M5,6 L10,7 L9,2 M10,7 L14,9 M1,8 L3,12 M10,7 L8,12 M14,3 L13,7 L14,9 M3,12 L8,12 M9,2 L10,0 M4,1 L3,0" stroke="#e2b4bc" stroke-width="0.55" fill="none"/>
  </pattern>
</defs>
<g id="thymus">
  <path d="M513,427 C500,422 494,414 492,404 C489,392 489,378 493,366 C496,358 501,353 506,352 C510,351 514,353 517,356 L517,427Z" fill="#b95e6c"/>
  <path d="M513,427 C500,422 494,414 492,404 C489,392 489,378 493,366 C496,358 501,353 506,352 C510,351 514,353 517,356 L517,427Z" fill="url(#lungnet)"/>
  <path d="M497,362 C492,372 491,388 493,402 C495,412 500,420 508,425" stroke="#a24a5a" stroke-width="2" fill="none" opacity="0.7"/>
  <path d="M545,425 L545,355 C548,352 552,350 557,351 C563,353 568,358 571,366 C574,376 574,392 572,404 C570,414 566,421 560,425Z" fill="#c06a78"/>
  <path d="M545,425 L545,355 C548,352 552,350 557,351 C563,353 568,358 571,366 C574,376 574,392 572,404 C570,414 566,421 560,425Z" fill="url(#lungnet)"/>
  <path d="M570,366 C573,378 573,394 571,406" stroke="#a85060" stroke-width="1.5" fill="none" opacity="0.6"/>
  <path d="M516,362 L546,362 L546,427 L516,427Z" fill="#a8403a"/>
  <path d="M522,370 L545,368 L545,400 L540,405 L524,405Z" fill="#b84a40"/>
  <rect x="527" y="330" width="9" height="36" fill="#cfcdb4"/>
  <g stroke="#a9a790" stroke-width="0.6"><line x1="527" y1="334" x2="536" y2="334"/><line x1="527" y1="338" x2="536" y2="338"/><line x1="527" y1="342" x2="536" y2="342"/><line x1="527" y1="346" x2="536" y2="346"/><line x1="527" y1="350" x2="536" y2="350"/><line x1="527" y1="354" x2="536" y2="354"/><line x1="527" y1="358" x2="536" y2="358"/><line x1="527" y1="362" x2="536" y2="362"/></g>
  <path d="M505,356.6 C510,356 514,356 519,356.5" stroke="#c8342e" stroke-width="3" fill="none"/>
  <path d="M522.6,328 C523,340 524,352 525.3,366" stroke="#c8342e" stroke-width="4.5" fill="none"/>
  <path d="M546.1,331 C545,342 543,354 541.4,364 C539,374 539,384 539.5,395" stroke="#c8342e" stroke-width="5" fill="none"/>
  <path d="M535,332 C538,340 543,346 545,352" stroke="#c8342e" stroke-width="1" fill="none"/>
  <path d="M517.2,332 C517,345 517,360 517,375 C517,385 517.5,392 518,398" stroke="#2b3fa0" stroke-width="5" fill="none"/>
  <path d="M503.8,361.3 C510,360.5 516,360 522.6,360" stroke="#2b3fa0" stroke-width="3.6" fill="none"/>
  <path d="M563,364 C556,365 548,366 542,368 C538,369.5 536,370.5 534,372" stroke="#2b3fa0" stroke-width="4.6" fill="none"/>
  <path d="M546.8,352 C548,364 549,376 549.5,390" stroke="#2b3fa0" stroke-width="3" fill="none"/>
  <path d="M513.2,427.1 L542.8,400.2 L564.3,424.4 L545,427 Z" fill="#e9cf9c"/>
  <path d="M545,410 L550,416 M553,414 L556,420 M548,420 L552,424" stroke="#c88a5a" stroke-width="0.5"/>
  <path d="M528,338 L531,340 L534,352 L537,368 L541,385 L543,400 L543,415 L540,427 L526,427 L524,410 L524,390 L525,370 L526,352Z" fill="#dcc056" stroke="#3a3a60" stroke-width="0.5"/>
  <path d="M516,368 L521,366 L525,378 L525,400 L524,415 L522,427 L515,427 L514,410 L515,390Z" fill="#dcc056" stroke="#3a3a60" stroke-width="0.5"/>
<circle cx="517.4" cy="399.5" r="0.9" fill="#c99a38"/>
<circle cx="519.1" cy="408.9" r="0.7" fill="#e6cc60"/>
<circle cx="529.4" cy="408.5" r="0.9" fill="#f4e48e"/>
<circle cx="531.3" cy="342.4" r="1.2" fill="#d9b848"/>
<circle cx="534.9" cy="376.2" r="1.0" fill="#f0dc80"/>
<circle cx="528.4" cy="346.7" r="0.6" fill="#c99a38"/>
<circle cx="517.3" cy="403.0" r="0.9" fill="#f0dc80"/>
<circle cx="536.9" cy="406.2" r="1.3" fill="#e6cc60"/>
<circle cx="530.4" cy="371.7" r="1.2" fill="#c99a38"/>
<circle cx="524.1" cy="377.5" r="0.8" fill="#f0dc80"/>
<circle cx="528.0" cy="360.4" r="0.7" fill="#f4e48e"/>
<circle cx="535.6" cy="426.4" r="0.9" fill="#f4e48e"/>
<circle cx="530.2" cy="404.8" r="1.0" fill="#d9b848"/>
<circle cx="515.7" cy="397.6" r="1.2" fill="#c99a38"/>
<circle cx="523.0" cy="406.1" r="0.8" fill="#c99a38"/>
<circle cx="517.6" cy="420.9" r="1.1" fill="#d9b848"/>
<circle cx="524.4" cy="398.9" r="1.2" fill="#e6cc60"/>
<circle cx="531.5" cy="417.3" r="1.0" fill="#f0dc80"/>
<circle cx="534.0" cy="422.1" r="0.7" fill="#d9b848"/>
<circle cx="514.3" cy="410.1" r="0.6" fill="#f0dc80"/>
<circle cx="521.5" cy="414.5" r="0.6" fill="#c99a38"/>
<circle cx="520.2" cy="372.3" r="1.1" fill="#c99a38"/>
<circle cx="516.6" cy="395.8" r="0.6" fill="#f0dc80"/>
<circle cx="519.0" cy="413.1" r="1.2" fill="#d9b848"/>
<circle cx="531.8" cy="375.2" r="1.2" fill="#e6cc60"/>
<circle cx="527.7" cy="348.8" r="0.8" fill="#e6cc60"/>
<circle cx="534.6" cy="423.8" r="0.8" fill="#f4e48e"/>
<circle cx="534.5" cy="405.2" r="0.7" fill="#d9b848"/>
<circle cx="516.6" cy="415.8" r="0.7" fill="#c99a38"/>
<circle cx="529.8" cy="365.8" r="1.2" fill="#f0dc80"/>
<circle cx="532.5" cy="352.7" r="0.7" fill="#f0dc80"/>
<circle cx="536.6" cy="405.6" r="1.1" fill="#e6cc60"/>
<circle cx="540.8" cy="407.2" r="0.9" fill="#f4e48e"/>
<circle cx="530.7" cy="414.6" r="0.8" fill="#d9b848"/>
<circle cx="535.0" cy="364.9" r="0.8" fill="#f4e48e"/>
<circle cx="517.2" cy="402.8" r="1.2" fill="#c99a38"/>
<circle cx="538.5" cy="381.1" r="0.7" fill="#e6cc60"/>
<circle cx="531.8" cy="382.8" r="1.3" fill="#c99a38"/>
<circle cx="522.2" cy="400.3" r="1.1" fill="#e6cc60"/>
<circle cx="518.3" cy="392.7" r="1.3" fill="#c99a38"/>
<circle cx="538.9" cy="405.9" r="1.0" fill="#f0dc80"/>
<circle cx="535.3" cy="379.3" r="0.9" fill="#e6cc60"/>
<circle cx="520.2" cy="400.8" r="1.1" fill="#f0dc80"/>
<circle cx="527.0" cy="357.8" r="0.8" fill="#f0dc80"/>
<circle cx="519.5" cy="420.1" r="0.6" fill="#f4e48e"/>
<circle cx="517.7" cy="370.3" r="1.2" fill="#e6cc60"/>
<circle cx="537.7" cy="393.7" r="1.1" fill="#e6cc60"/>
<circle cx="540.3" cy="400.3" r="0.8" fill="#c99a38"/>
<circle cx="532.3" cy="411.9" r="0.7" fill="#f4e48e"/>
<circle cx="518.7" cy="416.6" r="0.7" fill="#d9b848"/>
<circle cx="517.8" cy="384.1" r="1.3" fill="#e6cc60"/>
<circle cx="536.5" cy="378.5" r="1.3" fill="#f4e48e"/>
<circle cx="517.5" cy="375.9" r="0.9" fill="#c99a38"/>
<circle cx="531.2" cy="353.4" r="1.3" fill="#f4e48e"/>
<circle cx="531.7" cy="361.5" r="0.7" fill="#f0dc80"/>
<circle cx="525.0" cy="373.0" r="1.0" fill="#f0dc80"/>
<circle cx="518.2" cy="424.4" r="0.8" fill="#f4e48e"/>
<circle cx="532.8" cy="416.2" r="0.6" fill="#c99a38"/>
<circle cx="528.5" cy="339.6" r="0.9" fill="#e6cc60"/>
<circle cx="517.5" cy="388.5" r="1.0" fill="#f0dc80"/>
<circle cx="525.3" cy="386.8" r="1.0" fill="#d9b848"/>
<circle cx="539.2" cy="389.8" r="1.2" fill="#f0dc80"/>
<circle cx="514.7" cy="418.8" r="0.7" fill="#d9b848"/>
<circle cx="528.4" cy="384.4" r="1.0" fill="#e6cc60"/>
<circle cx="527.5" cy="409.6" r="0.7" fill="#c99a38"/>
<circle cx="538.6" cy="397.5" r="1.0" fill="#d9b848"/>
<circle cx="534.5" cy="396.1" r="0.6" fill="#d9b848"/>
<circle cx="519.7" cy="369.0" r="0.9" fill="#c99a38"/>
<circle cx="534.8" cy="403.0" r="0.9" fill="#e6cc60"/>
<circle cx="528.6" cy="403.0" r="1.0" fill="#e6cc60"/>
<circle cx="532.7" cy="352.0" r="0.9" fill="#c99a38"/>
<circle cx="517.3" cy="414.3" r="1.2" fill="#f4e48e"/>
<circle cx="534.4" cy="356.0" r="1.0" fill="#e6cc60"/>
<circle cx="542.9" cy="409.0" r="1.2" fill="#f4e48e"/>
<circle cx="529.0" cy="362.3" r="1.1" fill="#f0dc80"/>
<circle cx="517.9" cy="385.7" r="1.0" fill="#c99a38"/>
<circle cx="529.6" cy="370.1" r="0.8" fill="#e6cc60"/>
<circle cx="517.3" cy="396.9" r="1.0" fill="#e6cc60"/>
<circle cx="537.4" cy="405.1" r="0.8" fill="#d9b848"/>
<circle cx="526.2" cy="370.8" r="0.9" fill="#f0dc80"/>
<circle cx="518.8" cy="408.6" r="1.0" fill="#c99a38"/>
<circle cx="538.5" cy="403.8" r="1.3" fill="#d9b848"/>
<circle cx="531.2" cy="389.0" r="0.7" fill="#f0dc80"/>
<circle cx="519.5" cy="403.5" r="1.1" fill="#f0dc80"/>
<circle cx="523.7" cy="387.8" r="1.0" fill="#f0dc80"/>
<circle cx="534.9" cy="415.6" r="0.9" fill="#f4e48e"/>
<circle cx="520.3" cy="407.9" r="1.2" fill="#f4e48e"/>
<circle cx="518.6" cy="414.0" r="1.1" fill="#f4e48e"/>
<circle cx="536.8" cy="422.0" r="1.1" fill="#f4e48e"/>
<circle cx="518.8" cy="381.8" r="0.8" fill="#f0dc80"/>
<circle cx="534.7" cy="366.8" r="0.9" fill="#e6cc60"/>
<circle cx="541.1" cy="396.2" r="1.3" fill="#f4e48e"/>
<circle cx="519.7" cy="400.8" r="1.0" fill="#f0dc80"/>
<circle cx="533.0" cy="394.5" r="0.7" fill="#c99a38"/>
<circle cx="525.3" cy="376.8" r="1.1" fill="#f0dc80"/>
<circle cx="531.3" cy="376.4" r="0.6" fill="#d9b848"/>
<circle cx="533.2" cy="377.9" r="1.1" fill="#d9b848"/>
<circle cx="541.8" cy="404.9" r="0.9" fill="#c99a38"/>
<circle cx="517.4" cy="409.5" r="1.1" fill="#c99a38"/>
<circle cx="521.9" cy="424.7" r="0.7" fill="#f0dc80"/>
<circle cx="517.0" cy="393.4" r="0.8" fill="#d9b848"/>
<circle cx="515.7" cy="385.2" r="1.0" fill="#f4e48e"/>
<circle cx="519.2" cy="388.3" r="0.7" fill="#d9b848"/>
<circle cx="531.0" cy="411.3" r="1.1" fill="#e6cc60"/>
<circle cx="534.7" cy="417.4" r="0.6" fill="#f0dc80"/>
<circle cx="528.4" cy="418.0" r="0.9" fill="#e6cc60"/>
<circle cx="527.6" cy="360.1" r="0.8" fill="#d9b848"/>
<circle cx="524.2" cy="381.2" r="0.9" fill="#c99a38"/>
<circle cx="522.7" cy="408.9" r="0.8" fill="#d9b848"/>
<circle cx="534.3" cy="419.4" r="0.9" fill="#f4e48e"/>
<circle cx="534.8" cy="393.7" r="0.8" fill="#f0dc80"/>
<circle cx="541.1" cy="402.8" r="0.9" fill="#f4e48e"/>
<circle cx="518.2" cy="420.0" r="1.0" fill="#f0dc80"/>
<circle cx="517.5" cy="424.7" r="1.1" fill="#f4e48e"/>
<circle cx="519.6" cy="395.9" r="0.8" fill="#f0dc80"/>
<circle cx="523.7" cy="413.8" r="0.8" fill="#d9b848"/>
<circle cx="531.6" cy="412.5" r="0.9" fill="#c99a38"/>
<circle cx="522.8" cy="418.0" r="0.8" fill="#d9b848"/>
<circle cx="536.8" cy="400.1" r="1.2" fill="#f4e48e"/>
<circle cx="525.0" cy="393.6" r="1.2" fill="#c99a38"/>
<circle cx="519.0" cy="426.6" r="1.2" fill="#d9b848"/>
<circle cx="540.8" cy="418.2" r="1.3" fill="#f0dc80"/>
<circle cx="528.5" cy="400.5" r="0.7" fill="#e6cc60"/>
<circle cx="517.5" cy="419.0" r="1.1" fill="#f0dc80"/>
<circle cx="527.0" cy="406.2" r="0.7" fill="#f4e48e"/>
<circle cx="531.2" cy="396.1" r="0.9" fill="#c99a38"/>
<circle cx="524.9" cy="403.0" r="0.8" fill="#f4e48e"/>
<circle cx="538.1" cy="416.7" r="1.0" fill="#f0dc80"/>
<circle cx="522.3" cy="400.6" r="0.7" fill="#c99a38"/>
<circle cx="523.6" cy="394.2" r="0.8" fill="#f4e48e"/>
<circle cx="517.7" cy="388.7" r="0.8" fill="#e6cc60"/>
<circle cx="535.7" cy="391.9" r="0.7" fill="#d9b848"/>
<circle cx="525.1" cy="408.8" r="1.1" fill="#c99a38"/>
<circle cx="526.3" cy="416.5" r="1.0" fill="#f4e48e"/>
<circle cx="535.5" cy="421.9" r="0.7" fill="#d9b848"/>
<circle cx="532.3" cy="426.3" r="1.2" fill="#f0dc80"/>
<circle cx="514.8" cy="401.7" r="1.2" fill="#f0dc80"/>
<circle cx="542.8" cy="411.2" r="1.0" fill="#f4e48e"/>
<circle cx="541.3" cy="416.2" r="0.7" fill="#f0dc80"/>
<circle cx="540.5" cy="408.5" r="1.1" fill="#f0dc80"/>
<circle cx="517.3" cy="373.8" r="1.0" fill="#c99a38"/>
<circle cx="537.4" cy="372.1" r="0.9" fill="#f4e48e"/>
<circle cx="528.9" cy="419.9" r="1.2" fill="#d9b848"/>
<circle cx="527.2" cy="379.5" r="1.2" fill="#e6cc60"/>
<circle cx="533.7" cy="379.5" r="1.1" fill="#d9b848"/>
<circle cx="522.4" cy="392.7" r="1.0" fill="#f0dc80"/>
<circle cx="536.8" cy="394.2" r="0.7" fill="#c99a38"/>
<circle cx="517.9" cy="385.8" r="0.7" fill="#d9b848"/>
<circle cx="536.8" cy="375.0" r="0.8" fill="#e6cc60"/>
<circle cx="528.6" cy="344.0" r="1.1" fill="#e6cc60"/>
<circle cx="521.7" cy="425.1" r="1.3" fill="#d9b848"/>
</g>


<!-- SPLEEN -->
<defs>
  <pattern id="spl" width="9" height="8" patternUnits="userSpaceOnUse">
    <rect width="9" height="8" fill="#8b90a6"/>
    <path d="M1,1 C3,0 5,2 4,4 C3,6 1,5 1,3Z" fill="#5d6179"/>
    <path d="M6,4 C8,3 9,6 7,7 C5,8 5,5 6,4Z" fill="#e8eaf2"/>
    <circle cx="7" cy="1.5" r="0.8" fill="#c8a070"/>
  </pattern>
  <pattern id="spl2" width="8" height="8" patternUnits="userSpaceOnUse">
    <rect width="8" height="8" fill="#f2f3f7"/>
    <path d="M1,2 C3,0 6,1 5,3 C4,5 2,5 1,4Z" fill="#7c8098"/>
    <path d="M5,6 C7,5 8,7 6,8" stroke="#6a6e88" stroke-width="0.8" fill="none"/>
  </pattern>
</defs>
<g id="spleen">
<path d="M382,421 C386,416 392,415 398,417 C410,420 424,428 432,440 C442,455 450,475 453,495 C454,502 454,507 453,510 L391,510 C385,500 380,485 377,466 C375,450 376,432 382,421Z" fill="#5d5d66"/>
<clipPath id="splclip"><path d="M385,423 C389,419 394,419 399,420 C411,423 423,431 430,442 C440,457 447,476 450,495 C451,502 451,506 450,508 L394,508 C388,498 384,484 381,466 C379,450 380,433 385,423Z"/></clipPath>
<path d="M385,423 C389,419 394,419 399,420 C411,423 423,431 430,442 C440,457 447,476 450,495 C451,502 451,506 450,508 L394,508 C388,498 384,484 381,466 C379,450 380,433 385,423Z" fill="#eef0f6"/>
<g clip-path="url(#splclip)">
<path d="M428,438 C420,460 410,480 396,508 L455,510 L455,430Z" fill="#6c7189"/>
<path d="M425.7,475.4 423.7,477.3 420.0,478.1 419.4,475.8 419.5,474.2 420.8,472.9 423.0,473.4Z" fill="#b4b8cc"/>
<path d="M420.2,500.8 420.3,502.4 417.6,503.4 414.8,502.0 415.0,498.4 416.7,498.7 420.3,498.5Z" fill="#9aa0b8"/>
<path d="M419.5,445.9 418.6,446.9 417.6,448.3 415.3,446.6 415.9,445.8 416.7,444.7 418.2,444.8Z" fill="#8a8fa8"/>
<path d="M396.9,434.3 395.1,435.8 392.5,436.0 391.8,435.4 391.7,433.0 393.4,432.4 396.0,432.7Z" fill="#d8dbe6"/>
<path d="M437.1,498.7 435.8,500.2 431.9,500.9 431.6,499.1 431.6,496.6 432.9,495.5 435.7,496.6Z" fill="#8a8fa6"/>
<path d="M438.8,445.4 438.2,448.2 436.1,448.6 432.3,446.9 434.0,444.4 436.3,442.5 439.4,444.0Z" fill="#8a8fa6"/>
<path d="M425.2,463.8 425.5,465.8 422.6,465.8 419.9,466.0 419.3,463.5 423.0,461.5 426.0,462.5Z" fill="#7d829a"/>
<path d="M380.1,504.5 379.7,504.9 377.4,506.4 377.2,505.0 375.9,503.5 378.3,501.9 380.8,503.0Z" fill="#4a4f6a"/>
<path d="M443.7,417.6 443.4,418.2 442.1,418.8 441.2,418.0 441.1,417.3 441.9,416.7 443.0,416.8Z" fill="#b4b8cc"/>
<path d="M441.0,466.9 441.0,468.1 438.9,468.6 436.9,468.1 437.3,466.3 439.0,464.7 441.1,465.2Z" fill="#8a8fa6"/>
<path d="M402.2,452.6 401.3,454.5 399.8,454.7 399.0,453.7 398.7,452.2 399.9,451.8 400.9,452.5Z" fill="#4a4f6a"/>
<path d="M428.2,434.1 427.3,434.7 425.8,435.2 423.9,434.4 424.3,433.2 425.6,431.6 427.0,432.5Z" fill="#d8dbe6"/>
<path d="M401.3,493.5 400.8,494.4 399.1,494.5 398.1,494.5 397.7,492.4 399.3,492.6 401.5,492.3Z" fill="#575c78"/>
<path d="M450.2,465.3 448.4,467.0 446.5,467.1 445.2,466.2 444.6,464.8 447.0,464.2 447.9,464.7Z" fill="#f4f5fa"/>
<path d="M417.2,507.3 416.4,507.8 414.7,507.9 413.3,507.6 414.1,506.2 414.8,506.2 416.1,505.8Z" fill="#b4b8cc"/>
<path d="M402.3,494.1 400.6,495.0 399.8,496.0 397.4,494.7 396.3,492.7 398.4,490.9 401.0,492.0Z" fill="#3f445e"/>
<path d="M390.0,494.1 387.9,496.2 385.6,497.1 384.3,495.7 384.1,493.8 385.8,491.9 387.4,493.1Z" fill="#eceef4"/>
<path d="M404.5,483.2 403.6,484.9 401.8,484.8 399.5,483.7 399.2,482.1 401.0,482.2 402.7,482.4Z" fill="#eceef4"/>
<path d="M399.5,506.3 399.0,508.5 395.7,508.1 394.3,507.4 393.1,505.8 396.6,504.7 398.4,505.3Z" fill="#3f445e"/>
<path d="M452.2,432.0 452.1,433.3 450.4,434.8 448.7,433.0 448.5,431.6 448.8,430.0 452.7,430.9Z" fill="#c4c8d8"/>
<path d="M423.0,456.4 421.8,458.1 420.0,457.9 419.6,457.0 419.0,455.6 420.5,455.5 422.5,455.3Z" fill="#f4f5fa"/>
<path d="M396.0,429.5 394.4,430.0 393.9,430.2 392.3,429.8 392.0,428.8 393.3,427.9 394.6,428.3Z" fill="#3f445e"/>
<path d="M442.3,430.1 441.9,431.2 440.5,431.4 438.6,430.7 439.8,429.8 440.5,428.9 442.3,429.4Z" fill="#8a8fa6"/>
<path d="M406.0,463.2 405.6,465.3 404.7,465.5 402.6,464.6 402.0,461.7 403.7,461.2 405.5,462.4Z" fill="#d8dbe6"/>
<path d="M411.3,492.8 410.7,494.6 407.1,494.8 406.4,492.6 405.9,491.2 407.8,490.4 410.1,490.7Z" fill="#f4f5fa"/>
<path d="M394.4,477.2 393.9,478.5 391.7,479.3 389.8,478.2 390.4,476.6 391.4,475.4 393.7,475.5Z" fill="#4a4f6a"/>
<path d="M444.3,491.0 442.4,493.4 440.4,492.4 437.1,492.1 439.3,489.5 439.3,488.3 444.1,488.5Z" fill="#7d829a"/>
<path d="M444.1,422.4 442.9,423.4 441.9,424.5 440.0,423.1 440.5,422.0 442.5,421.4 444.0,420.7Z" fill="#8a8fa6"/>
<path d="M394.0,489.1 391.7,491.3 390.1,490.2 388.7,489.9 388.8,487.7 389.5,487.3 391.8,487.7Z" fill="#eceef4"/>
<path d="M405.8,486.1 403.8,486.9 403.1,487.1 401.7,486.5 401.7,485.1 403.5,485.2 404.2,484.7Z" fill="#575c78"/>
<path d="M416.6,489.7 415.6,491.0 412.5,491.0 412.2,489.5 412.3,488.3 413.3,487.6 415.8,487.2Z" fill="#9aa0b8"/>
<path d="M396.3,430.9 394.2,432.5 393.2,433.3 390.5,433.0 390.1,430.6 392.4,429.9 395.7,430.1Z" fill="#eceef4"/>
<path d="M451.3,426.7 451.3,427.5 449.9,428.3 448.8,426.9 448.6,425.9 450.1,424.9 451.1,426.2Z" fill="#9aa0b8"/>
<path d="M436.5,489.1 436.4,490.8 434.5,490.0 433.5,489.4 432.6,487.3 434.0,486.9 436.1,487.0Z" fill="#c4c8d8"/>
<path d="M393.4,417.0 392.5,417.5 391.4,418.3 390.7,417.2 390.5,416.3 391.5,415.4 392.9,415.4Z" fill="#eceef4"/>
<path d="M398.1,440.1 396.0,442.4 394.0,442.5 392.3,441.2 392.8,439.5 393.8,438.6 395.8,439.7Z" fill="#eceef4"/>
<path d="M404.5,422.9 404.2,423.4 402.4,423.9 401.0,423.2 401.2,421.4 403.0,421.5 404.7,421.7Z" fill="#d8dbe6"/>
<path d="M382.7,496.9 382.4,497.7 381.3,497.9 380.2,497.2 379.2,496.4 380.6,495.5 382.5,495.9Z" fill="#8a8fa8"/>
<path d="M448.7,496.6 446.6,498.8 443.6,499.5 441.4,498.1 442.9,495.1 444.1,493.9 446.6,493.4Z" fill="#9aa0b8"/>
<path d="M445.8,487.0 444.8,488.2 443.2,488.1 442.2,487.5 442.6,486.2 443.4,485.5 444.3,485.7Z" fill="#9aa0b8"/>
<path d="M401.4,436.9 400.0,437.4 399.1,437.4 398.2,436.6 397.2,435.9 398.6,434.8 400.3,435.7Z" fill="#8a8fa8"/>
<path d="M390.6,506.5 390.5,508.7 387.0,509.9 384.1,507.4 385.4,506.5 387.1,503.8 389.4,505.4Z" fill="#8a8fa8"/>
<path d="M442.9,459.4 441.9,462.0 439.7,461.2 437.7,460.7 438.7,459.0 439.8,457.8 442.2,458.2Z" fill="#9aa0b8"/>
<path d="M441.7,488.8 440.3,491.1 438.9,490.9 437.2,490.1 437.5,488.6 437.7,486.7 440.5,487.6Z" fill="#f4f5fa"/>
<path d="M405.7,444.4 404.0,447.3 401.9,446.4 398.9,445.5 399.9,443.2 400.8,442.2 403.1,443.3Z" fill="#4a4f6a"/>
<path d="M380.9,448.1 379.5,449.8 377.6,449.3 376.1,448.8 376.2,447.5 377.5,446.7 380.4,446.3Z" fill="#3f445e"/>
<path d="M422.5,433.7 420.1,435.3 418.9,436.1 416.6,435.6 417.5,433.9 419.1,432.0 421.3,432.1Z" fill="#3f445e"/>
<path d="M433.0,496.2 431.7,497.0 429.4,498.2 427.9,496.5 427.6,495.6 429.8,494.4 431.9,494.8Z" fill="#b4b8cc"/>
<path d="M406.5,421.0 405.8,422.2 404.4,422.8 402.9,421.7 401.9,420.5 403.8,419.2 405.8,419.6Z" fill="#3f445e"/>
<path d="M408.7,440.8 408.5,442.5 404.8,442.9 404.0,441.6 402.0,439.4 405.3,438.0 406.8,438.7Z" fill="#8a8fa8"/>
<path d="M435.8,470.1 433.6,471.8 431.5,472.6 429.5,471.7 429.9,469.9 431.3,467.8 432.9,469.1Z" fill="#b4b8cc"/>
<path d="M382.3,433.3 382.2,434.9 380.9,435.6 377.8,434.3 379.2,432.7 380.5,431.0 382.2,430.8Z" fill="#3f445e"/>
<path d="M428.3,431.5 428.2,433.5 426.0,434.4 423.3,432.0 423.9,430.6 426.0,429.3 428.4,429.1Z" fill="#4a4f6a"/>
<path d="M426.8,490.6 425.5,492.3 423.6,492.6 423.3,491.8 422.2,490.4 424.4,489.6 425.7,490.1Z" fill="#8a8fa6"/>
<path d="M412.7,495.5 412.1,497.5 411.1,497.5 409.9,496.3 410.1,495.2 411.1,493.9 412.4,494.8Z" fill="#f4f5fa"/>
<path d="M400.5,463.2 399.8,464.0 395.9,465.4 393.8,464.3 393.7,461.1 397.1,460.1 398.6,461.1Z" fill="#4a4f6a"/>
<path d="M429.4,467.7 428.5,468.7 426.2,469.9 423.9,469.1 423.9,466.8 425.2,464.8 428.2,464.5Z" fill="#b4b8cc"/>
<path d="M382.0,422.7 381.2,423.0 379.0,423.5 377.3,422.9 377.6,421.0 379.2,420.0 381.1,421.2Z" fill="#eceef4"/>
<path d="M385.3,470.9 385.2,472.3 382.6,473.2 380.9,472.7 381.6,470.2 382.9,469.1 385.7,469.3Z" fill="#8a8fa8"/>
<path d="M411.3,423.9 409.6,425.9 407.0,426.5 406.4,425.3 406.1,423.2 408.8,421.6 410.6,422.2Z" fill="#eceef4"/>
<path d="M405.8,428.4 405.9,430.0 403.5,430.6 403.0,428.9 403.1,427.8 404.4,426.5 406.0,426.9Z" fill="#d8dbe6"/>
<path d="M421.5,452.1 420.5,453.3 417.4,453.2 416.4,453.0 416.9,450.4 417.6,449.0 420.3,450.0Z" fill="#d8dbe6"/>
<path d="M438.7,493.1 437.8,494.9 435.6,496.5 434.2,494.1 433.6,492.2 435.4,491.8 437.4,491.6Z" fill="#7d829a"/>
<path d="M437.7,448.9 436.2,450.9 434.8,451.2 432.9,449.6 432.3,448.1 434.3,447.6 436.9,447.5Z" fill="#8a8fa6"/>
<path d="M410.5,422.4 409.6,423.1 407.2,424.0 406.7,422.6 406.7,421.5 406.7,420.4 408.9,421.1Z" fill="#eceef4"/>
<path d="M390.8,451.9 390.6,453.2 388.8,453.4 385.8,452.3 386.8,450.5 388.2,449.7 390.5,449.9Z" fill="#4a4f6a"/>
<path d="M406.3,459.3 405.6,461.0 403.3,461.1 400.8,460.8 400.7,459.0 403.7,457.2 405.7,457.3Z" fill="#d8dbe6"/>
<path d="M435.9,447.4 434.8,449.2 433.4,448.4 432.6,448.3 431.8,447.3 432.9,446.2 435.1,447.0Z" fill="#9aa0b8"/>
<path d="M419.9,435.6 419.7,436.4 417.5,436.7 416.5,435.5 416.5,434.9 417.4,433.7 419.3,434.0Z" fill="#575c78"/>
<path d="M392.1,446.6 390.8,449.4 387.6,449.0 386.2,447.1 387.3,445.5 387.2,443.5 390.1,444.8Z" fill="#3f445e"/>
<path d="M448.6,487.7 447.3,490.2 443.8,489.9 441.2,489.0 441.9,486.3 443.1,484.6 447.7,485.1Z" fill="#b4b8cc"/>
<path d="M411.2,435.3 409.8,435.9 408.8,436.0 408.0,435.4 407.6,433.9 409.1,433.3 410.2,434.2Z" fill="#eceef4"/>
<path d="M412.8,423.0 411.9,424.0 410.7,425.4 408.6,424.1 409.2,422.4 409.9,422.0 412.1,422.4Z" fill="#3f445e"/>
<path d="M384.1,422.2 383.5,424.3 380.9,423.9 379.4,423.5 379.4,421.9 381.4,421.4 382.8,420.7Z" fill="#8a8fa8"/>
<path d="M449.9,497.7 449.5,499.9 447.1,499.3 445.3,498.9 445.2,497.2 447.4,497.0 449.0,496.9Z" fill="#b4b8cc"/>
<path d="M419.1,441.1 419.4,441.9 417.9,441.7 416.3,441.9 416.3,439.8 417.6,439.8 418.6,440.2Z" fill="#8a8fa8"/>
<path d="M397.5,502.3 396.8,504.1 393.5,504.3 390.6,503.7 392.3,501.5 393.3,499.7 396.0,500.0Z" fill="#eceef4"/>
<path d="M441.8,489.9 440.1,490.8 437.3,491.7 434.9,490.1 434.9,489.2 437.5,486.5 439.0,487.7Z" fill="#8a8fa6"/>
<path d="M425.4,501.7 423.9,502.3 423.2,503.1 421.9,502.1 420.7,500.8 422.7,499.6 424.0,500.3Z" fill="#f4f5fa"/>
<path d="M434.9,447.0 433.4,448.2 430.9,449.3 429.8,448.5 430.4,446.1 431.3,445.0 435.0,444.8Z" fill="#8a8fa6"/>
<path d="M428.4,449.1 427.5,450.3 425.3,451.4 425.1,449.5 425.1,448.4 425.9,447.8 428.6,447.8Z" fill="#8a8fa6"/>
<path d="M411.6,479.9 411.1,482.0 407.9,481.9 405.7,480.0 406.2,479.2 407.2,477.1 410.0,477.5Z" fill="#575c78"/>
<path d="M431.7,467.4 429.6,470.9 425.8,471.2 425.1,469.6 424.8,466.9 427.4,465.8 429.7,466.6Z" fill="#f4f5fa"/>
<path d="M406.1,475.4 405.7,477.4 403.2,478.1 402.0,476.3 402.3,475.4 403.6,474.1 405.3,474.9Z" fill="#eceef4"/>
<path d="M402.8,453.7 401.0,456.1 399.4,456.1 397.7,455.0 396.6,452.5 399.6,452.8 401.2,451.6Z" fill="#575c78"/>
<path d="M424.3,440.4 424.0,442.1 422.5,443.3 419.3,441.9 420.1,440.1 421.8,438.8 425.3,438.5Z" fill="#3f445e"/>
<path d="M416.6,453.7 414.9,454.4 413.9,455.0 412.6,453.8 413.0,452.6 413.4,452.1 415.5,451.8Z" fill="#575c78"/>
<path d="M396.5,436.0 396.7,437.4 393.1,438.3 392.6,436.2 393.3,435.0 394.9,433.4 396.3,433.5Z" fill="#d8dbe6"/>
<path d="M431.7,502.6 430.1,504.4 428.9,504.1 427.8,503.4 427.1,502.2 429.1,501.7 430.4,502.4Z" fill="#8a8fa6"/>
<path d="M416.0,477.9 414.7,479.6 411.5,480.8 411.1,479.1 409.6,476.2 412.4,475.5 414.6,475.4Z" fill="#c4c8d8"/>
<path d="M386.0,439.0 384.1,441.8 380.4,442.1 379.4,440.1 379.7,438.5 380.8,437.4 383.9,437.6Z" fill="#3f445e"/>
<path d="M385.9,443.9 386.6,445.6 383.4,445.7 382.3,444.8 382.0,443.7 383.4,442.1 385.5,441.6Z" fill="#d8dbe6"/>
<path d="M415.5,416.7 413.9,418.4 410.9,419.5 409.5,417.7 409.2,416.4 411.7,415.3 413.6,415.4Z" fill="#4a4f6a"/>
<path d="M444.4,476.7 443.3,477.5 441.3,477.7 440.9,477.0 439.8,474.9 441.9,473.9 443.8,474.5Z" fill="#8a8fa6"/>
<path d="M428.3,440.2 427.2,441.4 426.2,442.3 424.3,440.9 424.2,439.8 426.1,438.3 426.7,439.5Z" fill="#eceef4"/>
<path d="M412.3,507.0 411.3,508.1 410.4,508.1 408.5,507.9 408.3,506.4 410.5,506.1 412.3,505.8Z" fill="#b4b8cc"/>
<path d="M438.0,455.2 436.7,457.1 433.5,458.6 431.2,456.4 431.6,454.0 433.0,452.7 436.1,453.1Z" fill="#8a8fa6"/>
<path d="M411.9,437.7 411.4,439.6 409.5,439.9 407.5,439.3 407.5,437.1 409.5,437.1 411.1,436.6Z" fill="#8a8fa8"/>
<path d="M397.3,506.6 395.9,509.2 393.5,510.7 391.8,508.1 391.5,506.5 393.4,505.5 395.8,505.4Z" fill="#3f445e"/>
<path d="M407.6,426.9 406.2,428.3 404.7,429.4 402.8,427.9 403.4,426.0 405.2,425.3 406.4,426.0Z" fill="#4a4f6a"/>
<path d="M448.9,497.3 447.2,498.9 444.2,499.4 443.1,497.8 441.9,496.5 444.7,495.7 446.9,496.2Z" fill="#b4b8cc"/>
<path d="M389.9,491.2 388.0,492.5 387.1,492.0 385.7,492.1 385.3,490.7 387.2,489.6 389.0,489.3Z" fill="#575c78"/>
<path d="M415.7,492.2 414.1,493.8 412.2,495.3 409.3,492.9 410.7,490.9 412.1,489.8 414.0,490.2Z" fill="#b4b8cc"/>
<path d="M457.0,440.0 455.9,441.1 454.5,442.4 453.0,440.1 452.4,439.1 455.0,437.2 457.2,438.3Z" fill="#b4b8cc"/>
<path d="M426.4,419.3 424.9,421.1 422.3,421.0 421.5,420.1 420.8,418.4 422.8,417.4 425.5,417.0Z" fill="#d8dbe6"/>
<path d="M402.6,441.8 401.4,443.0 400.3,443.5 398.8,442.3 398.6,440.7 399.8,440.2 401.6,440.6Z" fill="#d8dbe6"/>
<path d="M416.7,441.9 415.2,442.5 413.3,444.0 410.9,443.6 411.7,440.5 413.1,438.8 415.5,439.8Z" fill="#d8dbe6"/>
<path d="M446.5,485.2 445.4,487.0 443.4,488.7 440.9,486.1 441.0,484.7 442.5,483.0 444.2,483.9Z" fill="#9aa0b8"/>
<path d="M431.4,460.2 430.0,461.5 427.9,461.5 425.9,461.4 425.7,458.8 428.3,458.1 429.8,457.0Z" fill="#8a8fa6"/>
<path d="M416.5,474.2 414.8,475.5 413.2,476.1 410.4,474.7 409.9,473.0 413.3,472.2 416.1,472.0Z" fill="#b4b8cc"/>
<path d="M383.0,444.8 382.7,446.7 381.4,447.1 379.8,445.3 378.9,443.3 381.4,443.1 382.2,443.1Z" fill="#575c78"/>
<path d="M452.6,493.2 451.1,494.7 447.9,495.4 446.9,493.7 445.1,491.5 447.2,490.0 451.7,490.6Z" fill="#7d829a"/>
<path d="M436.1,433.3 435.4,434.9 433.9,435.6 433.2,433.5 432.2,431.9 434.4,430.9 435.1,431.9Z" fill="#c4c8d8"/>
<path d="M439.2,504.6 439.0,505.9 437.3,505.9 434.7,505.1 434.7,504.2 436.8,503.0 438.4,504.1Z" fill="#9aa0b8"/>
<path d="M420.4,470.7 418.4,471.8 417.3,471.5 416.5,471.0 416.1,469.7 416.9,469.0 418.5,469.5Z" fill="#7d829a"/>
<path d="M456.0,428.3 454.4,429.6 452.8,429.4 449.5,428.4 450.9,427.1 452.1,425.7 453.9,426.8Z" fill="#c4c8d8"/>
<path d="M449.9,476.7 448.5,477.4 447.7,477.9 446.8,477.3 446.6,475.9 447.4,475.4 448.9,475.8Z" fill="#f4f5fa"/>
<path d="M447.2,490.1 446.3,491.0 444.5,491.2 443.4,490.9 443.1,489.5 445.2,488.4 446.4,489.1Z" fill="#f4f5fa"/>
<path d="M432.9,416.6 431.9,417.9 429.3,418.8 426.9,417.6 427.0,415.1 428.5,414.2 430.7,415.7Z" fill="#eceef4"/>
<path d="M456.7,448.8 456.0,449.8 454.0,451.0 452.8,449.6 452.0,448.1 454.2,447.2 456.9,447.5Z" fill="#9aa0b8"/>
<path d="M412.5,461.8 413.2,464.3 410.1,465.4 407.6,462.8 407.7,460.7 410.6,460.0 413.1,460.4Z" fill="#575c78"/>
<path d="M428.2,495.5 427.8,496.4 426.8,497.5 425.4,496.2 425.7,495.0 426.7,495.0 427.7,494.7Z" fill="#7d829a"/>
<path d="M394.7,489.7 393.5,491.5 392.2,491.5 391.0,490.8 390.1,488.9 391.0,487.9 393.2,489.1Z" fill="#575c78"/>
<path d="M402.4,422.0 400.0,422.7 397.7,423.3 395.2,422.2 395.8,419.9 397.6,418.6 399.9,419.3Z" fill="#8a8fa8"/>
<path d="M388.9,483.8 387.7,485.9 385.7,485.5 384.9,484.5 384.7,483.7 385.4,482.1 387.6,482.7Z" fill="#eceef4"/>
<path d="M412.1,504.0 410.1,505.7 408.3,505.7 407.6,505.0 406.7,503.0 408.3,502.4 410.4,502.6Z" fill="#f4f5fa"/>
<path d="M440.9,438.3 440.0,439.8 438.8,441.0 436.2,438.8 436.5,437.7 437.9,436.5 441.4,436.7Z" fill="#b4b8cc"/>
<path d="M391.5,426.9 390.3,428.8 389.1,428.9 387.9,427.9 387.4,426.9 388.9,425.4 390.6,426.3Z" fill="#3f445e"/>
<path d="M434.5,498.8 434.6,500.5 431.8,500.4 431.7,499.7 431.6,498.0 431.7,497.1 434.9,497.8Z" fill="#f4f5fa"/>
<path d="M446.9,477.7 444.4,478.8 442.9,479.0 439.9,479.5 440.1,476.8 442.9,475.8 444.4,476.2Z" fill="#9aa0b8"/>
<path d="M402.8,443.9 401.8,445.6 398.6,445.6 395.9,444.8 396.7,442.1 399.6,441.9 401.0,441.3Z" fill="#575c78"/>
<path d="M403.9,428.1 403.3,429.5 402.0,429.5 400.4,428.6 400.2,427.1 401.3,426.7 403.4,427.1Z" fill="#8a8fa8"/>
<path d="M390.3,491.4 387.6,492.5 385.5,493.1 383.2,492.9 384.2,490.3 386.2,489.7 388.0,488.4Z" fill="#eceef4"/>
<path d="M414.0,420.9 414.1,423.0 411.1,422.9 410.0,421.6 409.2,420.7 410.8,419.0 413.4,420.3Z" fill="#d8dbe6"/>
<path d="M451.4,418.1 449.7,419.2 448.9,419.5 446.0,418.8 446.3,417.5 448.9,416.4 450.0,416.5Z" fill="#b4b8cc"/>
<path d="M402.8,497.3 402.8,498.1 400.4,498.5 400.1,497.5 399.9,496.2 400.5,495.8 402.0,496.3Z" fill="#b4b8cc"/>
<path d="M417.0,439.0 416.2,439.8 414.5,440.4 413.1,439.2 413.1,437.4 414.4,437.5 417.0,437.1Z" fill="#575c78"/>
<path d="M428.1,454.2 427.1,455.2 423.7,456.2 422.0,454.7 421.6,453.0 424.2,452.7 426.5,452.9Z" fill="#f4f5fa"/>
<path d="M413.1,496.3 412.8,497.6 409.9,499.8 408.1,497.7 408.8,495.2 410.8,493.1 412.0,495.1Z" fill="#f4f5fa"/>
<path d="M418.0,476.6 417.6,478.7 415.5,478.5 412.2,477.4 414.1,476.1 415.2,475.5 418.2,474.6Z" fill="#c4c8d8"/>
<path d="M406.0,458.9 403.3,460.5 401.4,461.7 398.3,459.9 399.3,457.5 401.4,455.2 404.8,456.1Z" fill="#575c78"/>
<path d="M400.2,496.8 399.4,498.9 397.3,499.0 396.4,498.1 395.6,495.5 396.6,494.9 399.7,495.8Z" fill="#4a4f6a"/>
<path d="M406.2,510.7 404.6,512.6 402.9,512.9 400.4,511.2 399.4,509.2 401.8,508.4 404.8,507.2Z" fill="#7d829a"/>
<path d="M419.6,486.9 418.1,488.2 415.8,488.8 412.9,487.8 412.9,485.3 415.2,483.6 418.4,483.6Z" fill="#b4b8cc"/>
<path d="M382.7,430.1 381.7,432.6 379.9,431.9 377.7,431.0 378.2,429.6 379.0,429.2 381.5,429.3Z" fill="#3f445e"/>
<path d="M435.7,447.7 435.1,448.3 434.2,448.8 432.8,448.2 432.0,446.8 434.1,446.1 434.9,446.3Z" fill="#9aa0b8"/>
<path d="M414.1,419.0 413.5,420.6 411.9,421.3 409.0,420.4 410.0,418.6 410.9,416.9 412.7,418.0Z" fill="#3f445e"/>
<path d="M391.4,446.7 389.0,448.1 387.8,449.3 385.5,447.3 385.8,445.8 387.9,443.9 389.1,445.3Z" fill="#3f445e"/>
<path d="M382.2,485.3 381.9,487.1 378.3,487.5 377.6,486.3 377.1,484.3 377.8,483.4 380.8,484.6Z" fill="#d8dbe6"/>
<path d="M444.3,437.1 443.2,439.3 440.6,440.2 438.9,438.7 438.4,435.4 440.7,436.2 443.2,436.2Z" fill="#f4f5fa"/>
<path d="M425.7,508.7 423.6,508.9 421.1,510.0 419.9,509.3 419.1,506.2 421.2,505.3 423.9,506.5Z" fill="#b4b8cc"/>
<path d="M451.0,489.9 449.5,491.7 447.4,492.0 446.1,490.6 445.9,488.6 447.1,487.4 449.2,488.7Z" fill="#b4b8cc"/>
<path d="M457.8,468.2 456.9,469.4 454.7,469.8 451.9,468.0 452.7,466.9 454.0,464.8 456.5,464.9Z" fill="#8a8fa6"/>
<path d="M395.2,481.7 394.2,483.2 392.3,483.7 390.7,482.5 390.9,481.4 392.4,481.2 394.1,481.3Z" fill="#3f445e"/>
<path d="M396.4,417.2 394.1,419.3 392.6,419.5 389.6,418.4 389.6,416.8 392.4,415.1 395.4,415.8Z" fill="#3f445e"/>
<path d="M385.6,506.7 383.7,509.0 380.9,509.5 378.4,508.8 378.2,506.3 381.3,504.0 383.8,504.8Z" fill="#d8dbe6"/>
<path d="M404.1,494.8 403.8,496.0 401.9,496.6 400.5,495.4 400.6,493.7 402.4,493.3 403.7,493.7Z" fill="#8a8fa6"/>
<path d="M403.8,502.1 402.6,503.7 400.6,503.9 399.1,503.4 400.2,501.5 400.8,500.5 402.6,500.7Z" fill="#b4b8cc"/>
<path d="M441.1,442.7 440.5,444.2 438.9,445.0 438.4,443.6 437.9,442.3 439.2,441.2 440.2,441.7Z" fill="#b4b8cc"/>
<path d="M455.0,417.4 454.0,418.8 451.6,419.4 450.2,417.4 449.4,415.2 451.8,415.7 453.5,416.0Z" fill="#f4f5fa"/>
<path d="M429.6,449.4 429.3,451.0 426.0,452.2 424.9,450.9 425.3,449.0 426.6,446.4 427.8,448.1Z" fill="#8a8fa6"/>
<path d="M382.1,478.7 381.5,480.8 378.2,480.3 375.9,480.2 376.4,477.9 378.9,476.2 381.1,476.7Z" fill="#575c78"/>
<path d="M380.5,464.4 380.3,466.0 378.1,465.3 376.3,464.4 375.9,462.5 377.9,462.9 380.8,462.4Z" fill="#eceef4"/>
<path d="M406.4,493.3 405.4,494.7 404.2,495.0 403.2,493.8 402.1,492.8 404.2,491.6 404.8,492.5Z" fill="#f4f5fa"/>
<path d="M417.3,498.1 416.3,499.9 414.0,500.4 413.3,499.3 411.7,497.0 414.0,495.7 416.9,496.7Z" fill="#b4b8cc"/>
<path d="M422.1,479.8 422.1,481.0 420.0,481.6 419.3,480.6 418.7,479.5 420.8,478.4 422.0,478.5Z" fill="#c4c8d8"/>
<path d="M409.2,416.2 405.6,417.9 404.3,419.1 402.7,416.9 400.9,415.2 405.0,414.8 406.9,415.2Z" fill="#8a8fa8"/>
<path d="M410.5,424.8 409.4,425.8 408.2,426.4 406.8,425.1 405.9,423.3 407.5,423.1 410.1,423.3Z" fill="#575c78"/>
<path d="M421.1,504.6 421.3,505.1 420.1,505.4 418.2,505.0 418.9,504.0 420.2,502.9 421.0,503.3Z" fill="#8a8fa6"/>
<path d="M400.3,447.6 401.4,448.9 398.0,450.0 396.3,448.6 397.0,446.7 398.0,446.1 399.9,444.8Z" fill="#d8dbe6"/>
<path d="M407.0,508.9 406.1,510.7 403.1,512.3 401.8,509.9 401.4,508.3 403.1,506.4 406.4,508.0Z" fill="#9aa0b8"/>
<path d="M397.2,487.2 395.9,489.1 393.8,490.3 392.3,488.1 391.6,487.0 393.9,485.9 395.2,485.9Z" fill="#eceef4"/>
<path d="M409.9,467.4 410.3,469.2 407.0,470.5 404.8,468.7 405.8,467.3 406.3,464.7 410.0,465.1Z" fill="#575c78"/>
<path d="M426.6,458.4 426.2,460.5 424.2,460.2 421.4,459.2 422.6,457.3 423.8,456.7 426.6,457.0Z" fill="#8a8fa6"/>
<path d="M386.3,485.1 385.8,486.2 384.0,486.4 382.0,485.6 382.4,484.2 383.7,482.3 386.8,483.6Z" fill="#3f445e"/>
<path d="M452.6,416.5 451.5,419.0 448.8,419.3 446.3,417.6 446.4,416.6 448.3,415.2 450.8,414.4Z" fill="#b4b8cc"/>
<path d="M434.1,502.2 432.7,503.3 431.5,504.0 429.9,503.2 429.5,501.6 431.4,500.5 433.6,500.5Z" fill="#b4b8cc"/>
<path d="M427.4,473.6 427.4,475.0 425.1,474.9 423.3,474.2 423.8,472.8 424.9,472.6 426.0,472.3Z" fill="#f4f5fa"/>
<path d="M407.7,507.0 407.3,508.5 404.8,508.0 403.1,507.3 403.3,505.7 404.9,505.6 406.9,506.0Z" fill="#f4f5fa"/>
<path d="M442.1,485.4 440.5,486.4 438.3,487.5 437.1,486.4 437.2,484.9 438.5,483.3 441.0,483.2Z" fill="#b4b8cc"/>
<path d="M423.5,491.1 422.3,491.5 419.8,491.7 418.4,490.8 418.4,489.9 419.4,488.0 422.0,487.9Z" fill="#8a8fa6"/>
<path d="M454.6,478.4 453.9,481.3 450.9,481.7 449.9,479.4 449.9,477.9 451.0,477.0 454.2,477.7Z" fill="#7d829a"/>
<path d="M411.8,483.3 410.1,484.7 409.2,485.5 407.4,484.9 407.9,482.6 407.7,481.2 411.9,481.9Z" fill="#9aa0b8"/>
<path d="M417.7,426.3 418.1,427.2 416.0,426.9 415.1,426.9 415.0,425.5 416.3,424.4 417.4,425.2Z" fill="#eceef4"/>
<path d="M443.6,492.9 442.3,495.0 439.9,494.1 436.8,494.1 437.4,490.8 440.4,490.7 441.4,490.5Z" fill="#c4c8d8"/>
<path d="M401.1,497.4 398.7,499.4 397.8,499.3 395.7,498.1 394.8,496.7 397.7,495.4 399.3,496.3Z" fill="#3f445e"/>
<path d="M455.4,483.7 454.5,484.2 452.7,484.7 451.6,484.4 451.1,483.0 452.4,481.3 454.9,481.6Z" fill="#9aa0b8"/>
<path d="M413.0,444.4 412.9,445.6 410.7,445.9 409.9,444.9 409.4,443.9 410.9,442.7 412.9,443.3Z" fill="#8a8fa8"/>
<path d="M446.0,425.6 446.5,427.9 443.7,427.4 440.9,427.0 442.4,425.3 443.1,424.1 445.7,424.4Z" fill="#f4f5fa"/>
<path d="M426.7,445.4 425.8,446.3 423.3,446.7 422.4,445.9 421.8,443.8 423.4,443.2 425.7,442.0Z" fill="#575c78"/>
<path d="M422.6,499.9 422.0,502.3 420.7,501.5 418.8,501.7 418.6,499.0 420.6,498.7 421.6,499.1Z" fill="#b4b8cc"/>
<path d="M454.2,447.8 452.8,448.2 450.2,448.7 447.7,447.4 447.2,445.7 450.1,444.7 453.5,445.2Z" fill="#b4b8cc"/>
<path d="M422.4,433.7 420.5,434.9 418.8,435.0 417.9,434.0 418.1,432.7 419.8,432.1 421.6,431.7Z" fill="#3f445e"/>
<path d="M415.2,438.3 413.8,439.9 411.9,440.0 409.2,439.3 409.8,437.2 411.8,436.9 413.5,436.8Z" fill="#3f445e"/>
<path d="M451.2,451.2 451.2,452.5 449.4,452.7 448.4,452.0 448.3,450.4 449.8,449.1 451.5,449.8Z" fill="#b4b8cc"/>
<path d="M448.9,509.2 447.8,511.0 445.7,510.9 444.8,510.3 445.2,508.8 446.2,507.0 449.2,507.6Z" fill="#b4b8cc"/>
<path d="M420.5,496.2 417.7,499.5 415.6,499.1 413.2,498.2 412.8,495.5 415.5,494.1 417.3,494.8Z" fill="#9aa0b8"/>
<path d="M420.9,470.4 419.2,472.0 417.4,473.5 415.8,471.3 414.7,469.3 416.0,467.1 419.8,469.1Z" fill="#9aa0b8"/>
<path d="M446.2,459.9 446.3,460.9 444.2,461.6 441.7,461.4 441.5,458.1 443.6,457.6 447.3,457.8Z" fill="#8a8fa6"/>
<path d="M441.2,506.0 442.4,507.2 438.7,508.2 436.8,506.8 437.6,504.8 439.4,503.7 441.1,503.8Z" fill="#7d829a"/>
<path d="M426.9,417.3 424.5,418.8 423.1,418.6 421.7,418.0 421.6,416.7 422.5,415.4 425.3,415.1Z" fill="#eceef4"/>
<path d="M418.0,453.1 416.2,455.0 413.7,455.9 413.4,453.8 412.0,453.0 414.3,452.1 416.6,451.8Z" fill="#eceef4"/>
<path d="M453.3,454.2 452.7,455.4 450.0,456.3 448.8,454.6 447.4,453.7 449.9,452.7 451.7,452.6Z" fill="#f4f5fa"/>
<path d="M437.0,477.9 436.4,479.7 435.1,479.4 433.2,479.3 432.5,477.0 434.1,476.4 436.8,476.0Z" fill="#9aa0b8"/>
<path d="M390.3,508.4 388.3,510.7 385.9,512.0 383.5,509.9 383.1,508.4 386.7,507.3 388.3,506.2Z" fill="#4a4f6a"/>
<path d="M425.0,447.0 424.3,448.4 419.9,448.6 418.4,447.3 418.7,444.8 419.6,444.2 422.4,444.5Z" fill="#3f445e"/>
<path d="M419.9,494.7 420.5,496.7 418.1,497.3 414.8,495.4 416.5,493.6 417.5,493.4 419.7,492.7Z" fill="#c4c8d8"/>
<path d="M406.9,479.1 405.3,480.8 402.5,480.3 401.2,479.6 401.5,478.8 403.4,476.5 405.3,476.8Z" fill="#575c78"/>
<path d="M452.4,453.9 451.7,454.3 449.0,455.7 447.3,453.9 448.3,452.6 449.7,451.8 451.6,451.3Z" fill="#f4f5fa"/>
<path d="M388.7,445.2 387.7,447.8 385.4,448.4 384.9,446.4 383.8,445.0 386.1,443.5 388.6,444.2Z" fill="#eceef4"/>
<path d="M437.7,416.9 436.4,419.7 434.5,418.7 433.6,417.7 432.6,416.8 434.1,415.5 436.3,416.2Z" fill="#3f445e"/>
<path d="M441.4,488.2 441.0,490.6 438.9,490.2 437.8,489.3 436.4,487.3 439.4,486.1 440.5,487.6Z" fill="#b4b8cc"/>
<path d="M407.1,465.7 406.8,467.1 405.4,466.8 404.6,466.2 404.5,465.3 405.3,464.1 406.8,465.0Z" fill="#8a8fa8"/>
<path d="M413.8,417.2 411.9,418.4 409.3,419.5 408.0,418.2 409.0,416.2 410.0,415.3 412.2,415.0Z" fill="#eceef4"/>
<path d="M382.8,436.2 381.8,437.4 379.4,438.2 377.9,437.8 378.4,435.9 380.1,435.0 381.2,435.4Z" fill="#d8dbe6"/>
<path d="M447.7,460.5 447.8,461.6 445.9,462.4 444.1,460.6 444.8,459.3 446.2,459.2 447.4,458.6Z" fill="#9aa0b8"/>
<path d="M443.6,423.5 441.9,424.3 440.3,424.6 438.1,424.1 439.0,422.9 440.1,422.4 442.6,422.6Z" fill="#f4f5fa"/>
<path d="M421.8,503.5 420.4,505.0 418.8,506.2 417.3,504.7 415.9,503.5 418.3,502.2 421.2,501.6Z" fill="#b4b8cc"/>
<path d="M454.8,431.5 453.9,433.2 452.3,434.5 448.5,433.0 448.5,431.0 452.4,428.4 455.7,429.8Z" fill="#9aa0b8"/>
<path d="M433.7,429.9 432.4,430.5 431.2,431.1 429.9,430.7 430.0,429.5 431.0,428.9 432.5,428.8Z" fill="#575c78"/>
<path d="M427.6,476.6 426.4,478.2 423.9,478.7 421.7,477.0 422.2,474.3 424.1,474.5 426.4,474.1Z" fill="#f4f5fa"/>
<path d="M385.7,449.9 385.8,452.4 383.6,452.1 381.2,449.9 380.7,449.0 383.1,447.9 384.7,447.5Z" fill="#3f445e"/>
<path d="M400.3,451.8 398.2,453.5 396.4,453.3 393.2,453.2 393.5,451.0 395.6,450.2 399.2,449.9Z" fill="#d8dbe6"/>
<path d="M386.1,493.4 384.6,495.0 383.4,495.5 382.6,494.2 382.7,493.3 383.2,492.8 385.3,493.0Z" fill="#4a4f6a"/>
<path d="M419.8,444.6 419.4,445.4 417.8,445.9 415.7,444.7 414.9,443.0 417.8,441.7 419.7,441.8Z" fill="#8a8fa8"/>
<path d="M404.8,449.6 403.0,451.5 401.8,452.1 398.3,450.7 398.0,448.7 400.9,446.8 402.7,447.5Z" fill="#3f445e"/>
<path d="M396.7,485.8 395.9,486.4 394.4,486.5 393.3,486.1 392.3,484.4 393.6,483.8 395.9,484.2Z" fill="#3f445e"/>
<path d="M385.5,434.7 382.8,435.8 381.4,436.2 377.7,434.6 377.7,432.9 381.2,431.8 384.4,432.2Z" fill="#eceef4"/>
<path d="M388.3,447.2 385.2,448.5 383.7,449.2 382.0,447.4 381.9,446.4 383.4,444.9 386.7,444.5Z" fill="#eceef4"/>
<path d="M412.4,452.8 411.4,453.5 410.2,454.3 408.1,453.9 408.4,452.0 409.9,451.1 412.0,452.0Z" fill="#eceef4"/>
<path d="M405.4,461.9 404.4,463.3 403.0,462.7 401.7,462.7 402.0,461.3 402.8,460.3 404.5,460.9Z" fill="#d8dbe6"/>
<path d="M448.0,479.3 447.1,480.1 445.6,480.7 443.9,479.7 444.5,478.7 445.8,477.6 447.6,477.9Z" fill="#8a8fa6"/>
<path d="M387.3,459.3 385.5,460.3 382.8,461.4 382.5,460.4 382.8,458.8 384.3,456.7 386.5,457.7Z" fill="#3f445e"/>
<path d="M418.4,489.4 417.9,492.2 416.1,491.7 413.8,490.4 413.4,489.2 414.8,487.8 416.9,488.7Z" fill="#b4b8cc"/>
<path d="M387.1,469.5 387.6,471.9 383.9,471.5 382.2,471.8 382.1,469.4 384.5,468.6 386.6,468.2Z" fill="#575c78"/>
<path d="M403.3,487.0 403.2,488.8 400.6,489.4 398.4,488.6 399.1,486.0 400.4,484.3 403.1,485.4Z" fill="#8a8fa8"/>
<path d="M398.7,432.5 398.1,434.3 397.0,435.0 395.5,433.3 395.6,432.4 396.9,430.2 398.2,431.0Z" fill="#575c78"/>
<path d="M389.1,427.2 389.2,428.5 386.8,428.3 384.7,428.1 383.5,425.4 386.8,424.2 387.9,425.5Z" fill="#3f445e"/>
<path d="M452.2,418.7 452.4,420.0 450.1,419.6 448.6,419.2 448.3,417.1 449.3,416.4 451.4,417.3Z" fill="#7d829a"/>
<path d="M442.0,487.9 442.0,489.0 440.2,488.6 438.8,488.4 439.2,487.3 439.9,486.6 441.4,486.3Z" fill="#f4f5fa"/>
<path d="M391.1,476.1 390.5,477.6 388.7,477.8 387.5,477.0 386.8,474.8 388.5,474.0 390.3,473.5Z" fill="#3f445e"/>
<path d="M405.4,465.6 403.5,467.2 402.3,467.0 400.2,465.9 399.3,463.4 401.9,463.7 403.8,464.0Z" fill="#4a4f6a"/>
<path d="M438.9,417.8 438.8,418.5 437.5,418.6 436.7,417.9 436.4,417.1 437.2,415.9 438.8,416.9Z" fill="#f4f5fa"/>
<path d="M410.3,432.5 408.5,434.5 406.7,435.4 404.6,434.3 404.0,431.3 406.3,430.4 408.1,431.1Z" fill="#d8dbe6"/>
<path d="M451.7,464.8 451.0,467.4 448.3,467.4 446.7,465.9 446.6,464.5 448.5,463.6 451.0,463.7Z" fill="#f4f5fa"/>
<path d="M443.2,468.8 442.3,470.1 440.7,470.1 439.6,468.6 440.0,467.7 440.8,466.9 442.1,467.6Z" fill="#c4c8d8"/>
<path d="M443.1,437.0 443.5,438.5 440.0,440.5 438.0,438.6 438.0,436.1 439.7,434.3 442.5,435.0Z" fill="#8a8fa6"/>
<path d="M417.7,445.8 417.4,447.3 414.7,448.1 414.1,446.6 412.9,444.9 415.3,444.1 416.8,443.9Z" fill="#575c78"/>
<path d="M449.7,508.0 448.9,508.6 447.4,509.6 446.8,508.4 446.2,507.6 447.9,506.9 448.4,507.1Z" fill="#8a8fa6"/>
<path d="M444.5,472.4 443.3,475.1 441.5,474.3 439.0,473.0 439.4,471.7 441.4,471.1 443.8,471.2Z" fill="#9aa0b8"/>
<path d="M431.8,442.6 429.9,443.2 428.5,443.7 426.7,442.3 426.2,441.4 427.5,439.8 430.8,440.0Z" fill="#f4f5fa"/>
<path d="M443.0,416.8 441.5,418.2 440.1,419.4 438.6,417.4 437.5,415.2 439.6,415.0 442.5,414.3Z" fill="#9aa0b8"/>
<path d="M398.1,437.0 398.8,438.6 396.0,438.7 394.5,437.6 395.0,436.0 395.9,435.9 398.4,435.7Z" fill="#3f445e"/>
<path d="M396.2,468.4 394.3,470.0 393.2,471.1 391.7,469.5 391.7,468.2 393.5,467.9 395.3,467.7Z" fill="#4a4f6a"/>
<path d="M434.9,464.3 434.6,465.5 432.3,465.9 430.9,464.4 430.7,462.9 432.4,461.8 434.4,462.5Z" fill="#f4f5fa"/>
<path d="M427.6,452.4 426.4,454.5 425.4,453.8 423.6,452.9 423.4,451.3 425.1,450.6 426.2,450.9Z" fill="#f4f5fa"/>
<path d="M456.0,489.2 454.6,490.0 452.8,490.5 451.0,489.4 451.6,488.1 452.8,486.9 454.1,487.4Z" fill="#f4f5fa"/>
<path d="M439.5,432.6 438.9,433.8 436.6,435.8 434.1,433.2 435.0,431.4 437.5,429.9 438.6,430.3Z" fill="#f4f5fa"/>
<path d="M394.0,451.7 392.6,452.3 389.9,453.4 388.9,451.8 389.3,450.9 390.6,449.2 392.5,450.4Z" fill="#eceef4"/>
<path d="M391.7,422.3 391.4,423.8 390.0,423.3 389.2,422.9 388.6,421.8 390.5,421.2 391.5,421.3Z" fill="#4a4f6a"/>
<path d="M409.5,450.8 406.8,454.0 404.7,453.3 403.4,453.3 401.9,450.6 405.3,448.2 409.1,449.8Z" fill="#575c78"/>
<path d="M407.2,422.9 405.0,425.1 402.8,425.7 401.3,423.9 401.1,421.8 403.1,421.9 406.9,421.4Z" fill="#eceef4"/>
<path d="M449.9,485.3 449.4,486.6 447.1,486.5 445.7,486.3 446.2,484.5 446.9,483.5 448.5,484.0Z" fill="#b4b8cc"/>
<path d="M430.8,453.1 428.7,455.4 426.4,455.3 424.6,453.8 424.2,452.3 426.5,450.9 430.0,451.5Z" fill="#9aa0b8"/>
<path d="M396.6,503.0 395.2,504.6 393.3,505.5 391.0,505.2 391.7,502.4 394.0,500.8 396.7,501.4Z" fill="#d8dbe6"/>
<path d="M411.8,426.5 410.9,427.5 409.9,428.1 407.0,427.3 407.9,425.1 409.2,424.3 412.4,424.6Z" fill="#eceef4"/>
<path d="M454.6,475.8 452.2,477.2 450.6,476.8 449.8,475.7 449.1,474.3 450.1,473.2 452.7,474.6Z" fill="#f4f5fa"/>
<path d="M447.3,486.0 446.5,487.7 443.2,487.8 441.4,487.8 441.6,485.8 443.9,484.6 446.4,483.9Z" fill="#b4b8cc"/>
<path d="M419.4,450.7 417.5,451.5 415.8,451.9 414.0,450.8 413.9,449.8 416.1,449.3 418.3,448.5Z" fill="#3f445e"/>
<path d="M390.0,432.8 388.6,433.7 385.7,434.5 382.8,432.8 384.3,430.9 386.3,429.7 389.3,430.0Z" fill="#d8dbe6"/>
<path d="M438.9,471.2 438.7,473.0 437.2,472.9 435.4,472.2 435.4,470.9 436.9,469.6 439.5,469.6Z" fill="#f4f5fa"/>
<path d="M385.5,490.2 385.3,491.8 383.3,492.1 381.5,490.7 381.7,489.7 383.2,487.9 385.6,488.0Z" fill="#8a8fa8"/>
<path d="M407.0,465.5 405.6,468.3 402.0,468.1 400.2,466.6 401.1,465.5 402.0,463.8 405.2,464.6Z" fill="#575c78"/>
<path d="M446.8,426.4 445.9,428.1 444.3,428.0 443.2,427.6 442.8,425.8 444.1,425.4 445.2,426.1Z" fill="#f4f5fa"/>
<path d="M425.2,419.7 423.9,422.6 420.6,421.7 419.3,421.7 418.0,419.6 420.7,417.5 423.8,418.5Z" fill="#eceef4"/>
<path d="M393.5,471.5 392.8,472.2 391.1,472.7 390.7,471.8 391.0,470.6 392.1,470.1 392.8,470.4Z" fill="#4a4f6a"/>
<path d="M451.1,419.1 450.0,420.6 447.9,421.8 446.7,420.4 446.8,419.0 448.6,418.1 450.6,418.5Z" fill="#f4f5fa"/>
<path d="M421.3,453.0 421.1,455.6 417.0,455.3 416.1,454.7 415.3,452.6 418.3,451.1 420.2,451.3Z" fill="#8a8fa8"/>
<path d="M422.3,423.6 420.2,424.5 418.6,424.5 415.7,424.0 416.2,421.3 418.5,420.0 420.2,420.8Z" fill="#eceef4"/>
<path d="M382.5,426.0 381.9,428.2 380.0,427.7 378.3,427.5 378.2,424.4 379.8,423.5 381.8,424.4Z" fill="#4a4f6a"/>
<path d="M446.8,454.7 444.9,455.2 443.3,456.0 441.5,455.3 441.4,452.6 443.6,452.2 444.1,452.8Z" fill="#f4f5fa"/>
<path d="M387.4,429.2 387.6,431.2 384.9,431.1 383.0,430.3 382.1,428.9 383.9,426.6 386.3,427.0Z" fill="#eceef4"/>
<path d="M439.3,453.0 438.9,454.3 436.6,454.6 435.9,453.7 435.8,452.4 437.1,451.3 438.4,452.1Z" fill="#7d829a"/>
<path d="M441.8,490.3 439.8,491.2 438.1,492.2 436.9,490.7 437.4,489.5 438.6,488.4 440.4,488.9Z" fill="#f4f5fa"/>
<path d="M451.7,456.4 450.7,457.4 449.4,457.1 447.9,456.7 448.2,455.0 449.9,454.0 451.3,455.3Z" fill="#9aa0b8"/>
<path d="M423.2,457.1 422.2,459.2 419.8,459.4 418.6,457.6 418.6,456.6 420.3,455.8 421.7,455.9Z" fill="#b4b8cc"/>
<path d="M422.5,483.0 421.9,485.1 418.7,484.3 416.1,483.7 415.9,481.9 418.4,481.5 419.7,481.4Z" fill="#c4c8d8"/>
<path d="M391.9,467.2 389.9,469.5 387.3,469.8 386.8,468.8 385.4,466.7 387.3,465.3 390.3,466.0Z" fill="#eceef4"/>
<path d="M431.4,478.8 430.5,481.8 427.9,482.4 424.8,480.3 424.9,478.3 428.0,477.2 429.1,478.2Z" fill="#7d829a"/>
<path d="M452.2,422.7 452.3,423.9 449.9,423.6 448.4,423.1 448.4,421.8 449.4,420.5 452.1,420.7Z" fill="#f4f5fa"/>
<path d="M438.7,445.0 438.7,446.1 436.7,445.7 436.2,445.2 436.2,443.9 436.6,443.6 438.5,443.7Z" fill="#8a8fa6"/>
<path d="M436.7,431.2 435.9,431.5 434.3,432.1 432.8,431.7 432.7,430.2 434.2,429.2 436.7,429.7Z" fill="#b4b8cc"/>
<path d="M443.7,475.2 443.1,477.4 440.7,477.6 439.6,475.6 440.1,474.4 441.1,472.8 443.6,473.9Z" fill="#b4b8cc"/>
<path d="M396.6,492.7 395.5,493.8 392.7,494.0 391.1,493.4 391.3,492.3 393.6,491.3 396.2,491.2Z" fill="#3f445e"/>
<path d="M428.3,452.3 426.6,453.1 424.9,453.9 424.7,452.6 423.5,450.6 425.5,449.5 428.5,450.3Z" fill="#f4f5fa"/>
<path d="M398.7,467.5 398.0,468.5 395.5,469.8 395.2,468.2 395.3,466.2 396.3,465.0 398.4,464.9Z" fill="#575c78"/>
<path d="M439.9,484.4 437.9,486.2 436.7,487.1 433.3,486.0 433.3,483.6 436.2,482.2 437.5,483.2Z" fill="#b4b8cc"/>
<path d="M400.9,496.9 399.2,497.6 397.8,497.7 395.3,497.7 394.8,495.6 396.7,494.8 398.8,495.3Z" fill="#8a8fa8"/>
<path d="M417.3,426.2 417.7,427.9 414.1,427.7 412.3,427.7 411.6,425.1 414.4,424.1 416.8,425.4Z" fill="#eceef4"/>
<path d="M444.0,417.9 443.6,418.9 442.4,419.1 441.0,418.4 440.2,417.4 442.7,415.9 443.9,416.8Z" fill="#8a8fa6"/>
<path d="M413.1,431.0 411.4,432.0 410.4,433.0 408.9,432.0 409.5,431.0 409.8,429.3 412.6,429.8Z" fill="#4a4f6a"/>
<path d="M384.4,432.3 384.3,433.1 381.9,432.9 380.5,433.3 380.7,431.5 381.7,430.8 384.2,430.8Z" fill="#4a4f6a"/>
<path d="M392.0,460.7 391.0,462.2 388.9,462.0 387.8,461.9 388.0,460.6 389.3,459.3 390.5,459.9Z" fill="#3f445e"/>
<path d="M455.0,508.4 454.3,510.0 451.7,510.7 449.8,509.1 450.3,507.8 452.0,506.2 453.8,506.9Z" fill="#8a8fa6"/>
<path d="M405.8,417.4 404.9,420.0 403.2,420.5 401.4,418.7 401.1,415.9 402.9,416.1 404.8,416.0Z" fill="#8a8fa8"/>
<path d="M441.9,421.3 441.3,422.7 439.8,424.1 437.7,422.0 436.9,419.3 439.7,418.8 442.1,419.4Z" fill="#c4c8d8"/>
<path d="M405.0,492.8 402.4,493.2 400.0,494.6 397.5,492.6 397.4,490.4 400.9,489.5 402.1,490.3Z" fill="#8a8fa8"/>
<path d="M429.5,423.9 428.4,425.0 426.9,425.5 425.4,424.8 425.1,423.3 426.8,422.3 428.2,423.2Z" fill="#d8dbe6"/>
<path d="M440.9,446.8 440.7,449.1 436.7,448.8 434.7,448.9 434.6,444.9 437.8,444.6 440.0,444.8Z" fill="#7d829a"/>
<path d="M396.9,451.4 395.7,452.5 393.9,453.0 392.9,451.8 392.6,451.1 393.0,448.9 395.9,450.0Z" fill="#575c78"/>
<path d="M420.3,463.2 419.3,464.7 417.5,465.6 416.3,464.4 416.6,462.7 417.3,461.6 419.8,462.6Z" fill="#f4f5fa"/>
<path d="M393.1,450.3 393.1,453.0 391.3,453.5 388.1,450.9 389.3,450.1 389.9,447.7 393.0,447.9Z" fill="#8a8fa8"/>
<path d="M403.1,457.2 403.0,458.4 400.8,458.7 398.9,458.2 399.3,456.2 401.4,455.1 402.8,455.7Z" fill="#8a8fa8"/>
<path d="M391.6,489.7 391.5,490.6 390.6,491.0 389.1,490.6 388.8,489.6 390.2,488.4 391.5,489.1Z" fill="#eceef4"/>
<path d="M403.6,450.0 403.1,451.0 401.7,451.1 400.2,450.2 400.4,449.4 401.5,448.8 402.8,448.6Z" fill="#4a4f6a"/>
<path d="M409.8,498.9 409.3,500.6 408.2,500.8 406.6,500.2 406.9,498.7 407.4,497.4 409.1,497.9Z" fill="#9aa0b8"/>
<path d="M424.8,506.4 423.4,507.1 422.9,507.9 421.7,506.9 421.7,505.8 422.9,505.3 423.7,505.4Z" fill="#b4b8cc"/>
<path d="M442.4,491.4 442.6,493.2 441.1,493.5 439.8,492.1 438.7,490.2 440.6,490.3 442.5,490.7Z" fill="#b4b8cc"/>
<path d="M381.2,487.2 380.8,489.0 379.4,488.5 377.0,488.3 377.1,486.2 378.9,485.0 380.9,485.4Z" fill="#eceef4"/>
<path d="M410.1,428.6 407.6,431.9 406.0,431.7 404.0,429.4 402.1,428.4 406.2,426.2 408.3,427.7Z" fill="#3f445e"/>
<path d="M405.1,467.2 403.6,467.9 400.8,468.8 399.2,467.5 399.8,466.1 401.8,464.7 404.8,464.4Z" fill="#eceef4"/>
<path d="M409.7,475.2 409.5,476.8 406.8,477.4 406.6,475.8 405.4,474.8 407.7,474.1 409.5,473.9Z" fill="#3f445e"/>
<path d="M449.1,490.0 449.0,490.9 446.8,491.8 445.7,490.4 445.0,489.1 446.0,487.6 448.8,489.2Z" fill="#9aa0b8"/>
<path d="M424.9,441.1 423.9,442.4 421.9,442.4 421.5,441.6 419.8,440.3 422.4,439.3 424.0,439.6Z" fill="#eceef4"/>
<path d="M443.5,425.2 442.3,426.0 440.5,426.1 438.7,425.1 439.7,424.0 439.8,422.7 442.1,422.3Z" fill="#c4c8d8"/>
<path d="M409.0,422.9 408.6,423.6 407.0,423.2 406.5,423.0 405.3,422.2 407.4,421.6 408.0,421.7Z" fill="#eceef4"/>
<path d="M421.1,481.3 421.2,482.7 418.9,483.1 417.8,482.4 418.0,480.9 419.0,480.1 420.5,480.5Z" fill="#7d829a"/>
<path d="M444.7,451.3 442.5,452.0 439.3,453.7 437.4,451.8 437.0,450.1 439.7,449.2 443.9,448.8Z" fill="#c4c8d8"/>
<path d="M432.9,455.6 433.1,458.1 429.3,458.2 428.8,456.7 427.8,454.7 429.5,453.9 433.0,453.7Z" fill="#b4b8cc"/>
<path d="M423.4,466.9 424.2,468.6 421.7,469.4 420.1,467.5 419.5,465.8 421.8,464.7 424.3,465.9Z" fill="#7d829a"/>
<path d="M454.1,422.2 453.1,424.1 451.2,424.4 447.9,423.7 449.9,422.3 452.0,419.8 453.2,419.8Z" fill="#8a8fa6"/>
<path d="M455.0,442.8 452.7,445.5 450.3,445.3 447.8,444.1 447.4,442.6 451.1,440.9 453.0,441.3Z" fill="#c4c8d8"/>
<path d="M396.3,508.1 395.3,509.1 392.9,509.2 391.8,508.7 391.3,507.7 393.0,506.5 395.3,506.7Z" fill="#eceef4"/>
<path d="M417.9,417.1 415.3,420.2 413.7,420.2 410.4,418.3 410.0,415.7 413.5,414.6 415.6,415.6Z" fill="#d8dbe6"/>
<path d="M414.3,496.8 413.2,497.8 410.0,498.7 408.2,497.6 409.4,495.1 411.1,494.8 412.4,495.3Z" fill="#b4b8cc"/>
<path d="M415.1,434.5 413.5,435.7 412.2,436.5 411.8,435.5 411.1,434.4 413.0,433.8 414.0,433.8Z" fill="#8a8fa8"/>
<path d="M457.1,441.0 455.7,442.8 454.5,443.2 453.5,441.5 453.2,440.0 453.7,439.3 455.6,440.1Z" fill="#9aa0b8"/>
<path d="M452.7,420.5 452.3,421.5 449.4,422.8 447.0,421.4 446.5,419.7 449.7,418.4 452.9,418.4Z" fill="#7d829a"/>
<path d="M400.6,455.5 399.4,456.8 397.8,457.2 395.8,456.2 396.7,454.7 398.0,453.9 399.8,454.5Z" fill="#3f445e"/>
<path d="M423.3,431.7 421.7,432.8 420.2,433.1 419.0,433.0 419.4,430.9 420.4,430.0 422.9,430.6Z" fill="#8a8fa8"/>
<path d="M396.6,451.2 395.2,453.4 393.0,452.8 391.7,451.1 392.2,450.1 392.9,449.2 395.0,449.5Z" fill="#8a8fa8"/>
<path d="M452.7,447.9 452.3,449.9 450.6,449.3 450.3,448.7 449.1,447.4 451.1,446.2 453.0,447.0Z" fill="#c4c8d8"/>
<path d="M417.0,448.3 417.2,449.4 414.7,450.1 414.0,448.6 413.0,446.9 414.8,446.5 416.2,446.7Z" fill="#8a8fa8"/>
<path d="M436.8,490.4 435.6,492.2 432.1,492.6 430.9,492.0 430.3,489.1 432.3,488.3 434.7,488.0Z" fill="#7d829a"/>
<path d="M383.1,485.8 382.3,487.6 380.4,487.9 378.9,485.6 378.6,484.1 380.1,483.5 383.0,483.9Z" fill="#575c78"/>
<path d="M386.8,476.3 386.4,477.1 384.2,478.0 381.9,477.3 382.9,474.8 384.5,473.8 386.3,474.3Z" fill="#3f445e"/>
<path d="M446.1,422.6 445.1,423.6 444.2,424.0 442.3,423.9 443.0,422.6 443.4,421.6 445.1,421.3Z" fill="#c4c8d8"/>
<path d="M416.9,479.5 415.4,481.1 414.3,482.4 411.6,480.5 411.5,479.2 412.9,477.9 416.3,478.2Z" fill="#f4f5fa"/>
<path d="M406.7,430.8 405.9,431.9 402.7,433.5 401.3,431.9 401.8,429.9 403.8,428.3 404.8,428.7Z" fill="#3f445e"/>
<path d="M452.0,474.8 451.6,476.0 449.2,476.9 446.9,475.1 447.7,473.6 449.2,472.8 451.6,472.4Z" fill="#9aa0b8"/>
<path d="M453.6,459.8 452.5,460.3 452.1,461.4 450.6,460.1 450.3,458.7 451.4,458.2 453.2,458.8Z" fill="#8a8fa6"/>
<path d="M419.6,473.4 420.1,474.8 417.9,474.7 415.7,474.8 416.0,472.4 417.9,472.5 419.4,471.7Z" fill="#9aa0b8"/>
<path d="M419.9,465.3 420.7,467.2 418.1,467.3 416.2,466.6 416.1,465.1 418.2,464.1 419.1,463.8Z" fill="#f4f5fa"/>
<path d="M453.0,432.8 452.7,433.5 451.3,433.9 450.2,433.4 450.4,432.1 451.2,431.5 452.7,431.5Z" fill="#f4f5fa"/>
<path d="M438.7,494.2 438.3,496.0 435.6,497.4 433.3,495.2 433.0,493.9 435.2,492.6 437.4,492.2Z" fill="#9aa0b8"/>
<path d="M400.9,429.9 400.7,431.4 399.6,431.5 398.2,430.3 398.3,429.6 399.5,428.2 400.2,428.6Z" fill="#3f445e"/>
<path d="M450.0,484.1 450.5,485.3 448.0,486.5 445.8,484.6 445.3,482.3 447.4,481.5 450.2,482.4Z" fill="#b4b8cc"/>
<path d="M444.3,426.9 443.5,428.0 440.5,428.4 438.9,427.0 438.9,426.0 441.1,424.8 443.0,424.3Z" fill="#9aa0b8"/>
<path d="M448.8,427.1 448.6,427.7 447.4,428.0 445.7,427.9 445.8,426.5 446.8,425.0 448.6,425.3Z" fill="#8a8fa6"/>
<path d="M387.8,458.9 387.1,460.4 385.2,460.3 384.2,459.4 384.5,458.5 384.8,456.8 386.4,457.5Z" fill="#d8dbe6"/>
<path d="M455.2,492.0 455.0,493.1 454.1,493.4 452.4,492.4 452.2,491.1 454.0,490.2 454.9,490.2Z" fill="#b4b8cc"/>
<path d="M451.9,481.2 450.9,483.9 449.2,484.6 446.4,483.7 446.6,480.9 448.6,480.6 451.4,480.5Z" fill="#b4b8cc"/>
<path d="M419.3,486.9 418.0,488.3 417.3,489.1 416.1,487.5 416.3,486.9 416.9,486.3 418.8,485.8Z" fill="#9aa0b8"/>
<path d="M399.1,425.6 397.7,426.6 395.9,427.5 395.5,426.7 395.9,425.2 396.8,424.1 397.8,425.1Z" fill="#eceef4"/>
<path d="M448.9,497.7 449.6,499.4 447.4,499.5 444.5,498.8 444.7,496.1 446.0,495.3 449.0,496.7Z" fill="#f4f5fa"/>
<path d="M424.0,455.0 423.7,456.2 421.0,455.8 419.7,455.0 420.1,454.1 420.9,453.3 423.1,452.1Z" fill="#9aa0b8"/>
<path d="M400.6,478.4 400.3,480.5 397.7,479.6 396.0,479.8 395.1,477.4 398.5,475.3 400.8,476.6Z" fill="#575c78"/>
<path d="M382.3,495.7 379.9,498.1 377.9,498.2 376.6,497.1 376.6,495.2 378.5,493.8 381.0,494.8Z" fill="#eceef4"/>
<path d="M453.1,438.1 450.4,440.1 448.8,441.8 446.8,439.2 446.3,437.8 448.8,436.0 450.8,436.3Z" fill="#8a8fa6"/>
<path d="M404.6,468.4 404.9,469.8 402.3,470.2 400.5,469.9 401.4,467.7 402.5,467.2 404.0,467.4Z" fill="#4a4f6a"/>
<path d="M380.2,501.3 379.4,502.4 378.4,502.4 377.9,501.8 377.6,501.1 378.0,499.9 380.2,500.5Z" fill="#4a4f6a"/>
<path d="M435.3,430.8 434.8,432.6 432.9,432.3 431.9,431.8 431.3,430.6 432.4,429.3 434.2,430.0Z" fill="#f4f5fa"/>
<path d="M410.8,432.7 410.1,434.6 407.6,435.3 406.2,434.1 406.2,432.6 407.1,430.6 409.5,431.7Z" fill="#8a8fa8"/>
<path d="M414.1,509.3 414.2,511.3 411.5,511.3 410.0,510.7 410.8,509.1 411.2,507.5 414.3,508.4Z" fill="#b4b8cc"/>
<path d="M426.6,489.9 425.5,491.2 423.8,493.3 421.9,490.5 421.8,489.5 422.5,487.1 425.9,488.6Z" fill="#b4b8cc"/>
<path d="M439.8,508.5 437.9,509.7 436.7,509.9 435.1,508.7 434.4,507.0 436.1,506.0 438.5,506.6Z" fill="#9aa0b8"/>
<path d="M454.4,437.7 453.1,438.5 451.0,439.3 450.7,438.7 449.8,436.8 451.4,436.7 453.4,435.8Z" fill="#8a8fa6"/>
<path d="M450.6,426.0 450.1,426.8 447.4,428.2 446.0,426.6 446.6,424.6 447.8,423.4 451.0,424.3Z" fill="#f4f5fa"/>
<path d="M443.1,434.7 440.8,436.3 439.3,437.6 438.0,435.7 436.4,434.4 438.3,433.5 442.3,433.5Z" fill="#8a8fa6"/>
<path d="M401.3,451.7 401.2,454.3 398.2,454.1 395.7,453.4 395.7,451.2 398.5,450.3 400.4,450.3Z" fill="#8a8fa8"/>
<path d="M386.8,468.0 386.4,469.4 383.9,468.8 381.5,468.0 382.5,466.2 384.5,465.2 386.8,465.9Z" fill="#575c78"/>
<path d="M399.0,443.9 397.0,445.4 394.4,445.7 393.5,444.2 393.3,442.1 394.0,440.8 396.7,442.0Z" fill="#3f445e"/>
<path d="M388.5,486.7 385.9,487.5 383.7,487.4 381.9,487.6 381.4,484.8 384.1,484.3 387.6,484.2Z" fill="#4a4f6a"/>
<path d="M432.5,504.8 431.5,505.4 429.8,505.9 428.6,505.4 428.4,504.2 429.8,503.4 431.2,504.0Z" fill="#9aa0b8"/>
<path d="M394.4,480.3 394.6,482.0 392.8,482.2 391.4,480.8 391.1,480.3 392.5,479.5 394.2,479.1Z" fill="#3f445e"/>
<path d="M429.9,428.0 430.0,429.2 428.2,429.0 425.9,428.6 426.0,427.5 428.3,426.4 429.9,426.8Z" fill="#4a4f6a"/>
<path d="M448.7,444.0 446.8,446.6 444.0,447.1 442.4,445.3 443.3,443.8 444.8,442.7 446.4,443.4Z" fill="#f4f5fa"/>
<path d="M396.6,464.5 395.4,465.4 393.4,465.5 392.6,464.4 392.2,462.8 394.2,462.7 395.4,462.0Z" fill="#8a8fa8"/>
<path d="M443.8,429.1 443.0,431.5 441.3,430.7 439.9,430.1 438.4,428.4 440.7,427.5 443.7,426.9Z" fill="#b4b8cc"/>
<path d="M395.7,460.2 395.0,462.3 393.0,463.5 389.3,462.0 390.2,459.4 392.6,457.4 394.8,459.7Z" fill="#3f445e"/>
<path d="M384.9,480.5 384.7,481.4 382.6,481.4 382.2,481.0 381.5,479.8 382.4,479.1 384.1,478.9Z" fill="#4a4f6a"/>
<path d="M401.7,451.8 401.2,453.1 398.7,453.4 398.7,452.6 397.9,451.0 399.3,450.5 400.8,450.4Z" fill="#8a8fa8"/>
<path d="M380.0,499.7 379.5,500.5 377.8,501.3 376.9,499.9 375.8,498.7 377.7,498.2 379.3,498.8Z" fill="#3f445e"/>
<path d="M454.6,476.0 453.6,477.9 450.1,478.0 449.2,475.8 449.2,473.6 451.7,474.0 454.0,473.5Z" fill="#9aa0b8"/>
<path d="M420.8,504.8 419.4,506.8 417.7,506.6 415.9,506.0 416.9,504.1 417.9,504.1 420.1,503.7Z" fill="#7d829a"/>
<path d="M417.2,438.5 414.4,440.1 412.2,441.4 410.6,440.1 411.6,437.8 413.6,436.7 415.4,435.5Z" fill="#3f445e"/>
<path d="M407.5,477.6 407.3,479.1 404.7,479.6 402.3,479.5 403.2,476.4 405.0,475.5 407.3,475.3Z" fill="#eceef4"/>
<path d="M401.1,504.1 400.1,505.1 398.4,505.4 396.5,504.9 396.7,503.9 398.2,503.3 399.5,503.1Z" fill="#b4b8cc"/>
<path d="M434.5,483.1 432.2,484.9 430.4,484.7 429.0,483.1 428.0,481.5 430.6,481.2 432.5,481.9Z" fill="#8a8fa6"/>
<path d="M453.9,492.7 451.2,495.9 448.9,494.6 448.1,493.7 446.1,492.3 449.9,489.5 452.8,490.3Z" fill="#f4f5fa"/>
<path d="M435.1,464.4 433.2,465.6 431.7,465.5 428.2,464.6 429.0,462.3 431.1,462.1 433.0,462.9Z" fill="#b4b8cc"/>
<path d="M382.4,437.1 379.6,439.3 377.6,439.7 376.6,438.1 375.9,437.0 378.3,435.9 380.6,435.7Z" fill="#4a4f6a"/>
<path d="M456.1,433.0 454.8,434.3 453.4,434.8 452.0,433.8 451.4,433.2 453.4,432.1 455.1,431.6Z" fill="#8a8fa6"/>
<path d="M392.8,452.4 390.5,454.2 388.7,453.8 386.9,453.1 387.0,452.1 388.6,451.1 391.5,450.5Z" fill="#d8dbe6"/>
<path d="M454.6,436.2 454.1,437.5 452.6,438.1 451.2,436.8 451.3,436.1 452.1,435.3 454.3,435.2Z" fill="#8a8fa6"/>
<path d="M419.4,493.9 418.7,495.1 417.6,495.4 416.1,494.5 415.8,492.8 417.6,492.6 419.0,492.5Z" fill="#b4b8cc"/>
<path d="M391.7,449.8 390.6,451.4 389.7,451.1 388.0,450.6 387.8,449.1 389.0,448.3 391.8,448.6Z" fill="#3f445e"/>
<path d="M406.1,421.6 405.4,423.0 403.2,422.7 402.6,422.1 402.5,421.2 403.4,420.1 404.2,420.6Z" fill="#8a8fa8"/>
<path d="M450.8,508.5 450.6,509.8 448.0,509.8 446.4,508.8 446.8,507.1 447.9,506.3 450.4,506.3Z" fill="#9aa0b8"/>
<path d="M448.1,500.6 447.5,502.2 445.7,502.0 443.9,501.3 444.3,499.6 445.6,499.0 448.1,499.7Z" fill="#f4f5fa"/>
<path d="M442.6,448.0 441.9,450.2 440.4,449.3 439.0,449.4 439.9,447.8 440.6,447.4 441.8,447.4Z" fill="#c4c8d8"/>
<path d="M387.7,435.0 387.5,437.0 385.1,436.9 384.0,435.4 383.2,433.6 385.7,433.7 388.1,433.5Z" fill="#4a4f6a"/>
<path d="M419.1,429.5 419.5,431.4 417.9,431.9 416.0,430.5 415.4,429.0 417.1,427.8 418.8,428.7Z" fill="#4a4f6a"/>
<path d="M391.5,426.0 389.6,427.5 387.5,428.9 386.1,426.7 385.0,425.4 388.0,423.9 389.4,423.7Z" fill="#3f445e"/>
<path d="M390.9,438.5 391.5,439.4 389.5,439.7 388.1,439.1 387.6,437.6 389.7,436.5 390.6,436.8Z" fill="#eceef4"/>
<path d="M404.7,485.7 402.9,487.2 400.5,488.4 399.0,486.8 398.9,485.4 401.5,484.2 403.3,484.5Z" fill="#d8dbe6"/>
<path d="M422.7,501.0 421.4,502.8 419.6,502.3 418.1,501.5 418.2,500.2 419.9,499.9 421.2,499.8Z" fill="#7d829a"/>
<path d="M408.1,432.3 406.1,434.3 404.3,433.9 403.0,433.9 402.4,431.5 404.4,431.3 406.4,430.8Z" fill="#4a4f6a"/>
<path d="M394.2,474.0 392.8,474.7 390.9,475.4 388.3,474.7 387.8,471.8 390.7,470.3 393.4,471.2Z" fill="#3f445e"/>
<path d="M424.9,448.3 423.3,451.0 420.7,451.0 419.6,449.7 418.0,447.8 421.2,445.9 422.3,447.3Z" fill="#4a4f6a"/>
<path d="M412.6,457.2 l-3.0,0.5" stroke="#d49a5a" stroke-width="0.7"/>
</g>
<path d="M385,423 C389,419 394,419 399,420 C411,423 423,431 430,442 C440,457 447,476 450,495 C451,502 451,506 450,508" stroke="#3e3e48" stroke-width="0.7" fill="none"/>
<path d="M382,421 C378,432 377,450 379,466 C381,482 385,497 391,510" stroke="#55555e" stroke-width="3.4" fill="none"/>
<path d="M384,424 C381,434 380,450 382,466 C384,482 388,496 393,508" stroke="#8a8a94" stroke-width="1" fill="none"/>
<path d="M395,505 C398,490 402,478 408,468 C414,458 418,450 420,440 M408,468 C404,460 400,452 398,445 M414,458 C418,452 422,446 426,445 M402,478 C398,480 394,484 392,488 M420,440 C417,434 413,430 409,428 M398,445 C396,438 395,432 396,428" stroke="#c8342e" stroke-width="0.9" fill="none"/>
<path d="M388,500 C391,490 395,482 400,476 C403,470 405,466 406,462" stroke="#3048b0" stroke-width="1.8" fill="none"/>
<g fill="#8a5aa8" opacity="0.9"><ellipse cx="412" cy="452" rx="3.5" ry="3"/><ellipse cx="401" cy="430" rx="2.5" ry="2.2"/><ellipse cx="420" cy="470" rx="2.5" ry="4.5" transform="rotate(30 420 470)"/><ellipse cx="405" cy="500" rx="3" ry="2.5"/><ellipse cx="403" cy="458" rx="2.5" ry="2"/></g>
</g>


<!-- EAR -->
<defs>
  <pattern id="bone" width="5" height="5" patternUnits="userSpaceOnUse">
    <rect width="5" height="5" fill="#e6dcc0"/>
    <circle cx="1.5" cy="1.5" r="1" fill="#c9b994"/>
    <circle cx="4" cy="3.8" r="0.8" fill="#d2c39e"/>
  </pattern>
  <linearGradient id="auric" x1="0" y1="0" x2="1" y2="0">
    <stop offset="0" stop-color="#c09a6c"/><stop offset="0.5" stop-color="#a6805a"/><stop offset="1" stop-color="#8d6844"/>
  </linearGradient>
</defs>
<g id="ear">
  <!-- temporal bone upper -->
  <path d="M458,530 L498,527 C500,535 506,542 515,545 C530,550 545,553 556,560 C566,568 566,578 560,584 C550,590 538,592 525,592 C512,592 505,590 500,588 L462,588 Z" fill="#dccfac"/>
  <rect x="470" y="528" width="28" height="26" fill="url(#bone)"/>
  <path d="M464,527 L470,527 L471,556 L466,556 Z" fill="#a44c30"/>
  <path d="M478,528 C485,529 486,540 494,546 C502,552 510,553 520,552 C512,548 506,542 500,532 C498,529 492,527 486,527Z" fill="#6d4a2c"/>
  <path d="M500,532 C506,544 515,548 528,551 C540,554 552,558 558,566" stroke="#7a5636" stroke-width="2.2" fill="none"/>
  <path d="M500,556 C506,550 518,548 528,552 C536,556 538,566 532,574 C524,582 512,584 504,582Z" fill="#bfae88"/>
  <circle cx="522" cy="562" r="6.5" fill="#a8916a"/><circle cx="522" cy="562" r="4" fill="#cbb68e"/><circle cx="522" cy="562" r="1.8" fill="#a08860"/>
  <path d="M508,550 C512,542 520,541 524,548" stroke="#7a6040" stroke-width="1.4" fill="none"/>
  <path d="M540,576 C550,578 558,580 562,582 C558,590 548,592 538,590Z" fill="#e6dcc2"/>
  <!-- lower bone porous -->
  <path d="M462,586 L502,586 C506,596 508,606 506,616 C500,623 485,626 470,625 L462,612Z" fill="url(#bone)"/>
  <!-- canal -->
  <path d="M452,557 L500,556 C505,566 506,576 503,588 L452,590 Z" fill="#7e5634"/>
  <path d="M452,557 L500,556 L500,560 L452,561Z" fill="#e4d8b8"/>
  <path d="M458,566 C472,562 488,563 500,566 L500,582 C488,585 470,586 458,584Z" fill="#936a42"/>
  <!-- middle ear cavity -->
  <path d="M498,556 C503,552 510,553 513,560 C516,570 512,580 506,584 C501,578 499,568 498,556Z" fill="#3a2a1a"/>
  <!-- auricle -->
  <path d="M452,527 C443,530 437,540 435,555 C433,572 434,590 438,604 C441,615 447,623 454,624 C460,624 463,618 463,610 C463,602 461,596 461,590 L461,560 C462,548 464,538 462,531 C459,527 456,526 452,527Z" fill="#b18a5e"/>
  <path d="M449,532 C442,542 439,558 439,575 C439,592 442,605 448,615" stroke="#d0ad80" stroke-width="3.2" fill="none"/>
  <path d="M454,538 C448,550 446,566 447,582 C448,594 451,604 456,612" stroke="#8c6842" stroke-width="2.6" fill="none"/>
  <path d="M451,552 C455,546 463,546 468,552 L470,592 C466,600 458,602 452,598 C449,588 449,564 451,552Z" fill="#7c5634"/>
  <path d="M455,558 C460,554 466,555 470,560 L470,588 C465,594 459,594 455,590Z" fill="#6a4626"/>
  <!-- blue spots -->
  <g fill="#70b4e8"><rect x="459" y="536" width="3.2" height="12" rx="1.6"/><ellipse cx="468" cy="561" rx="4" ry="1.4"/><ellipse cx="471" cy="606" rx="4.5" ry="2" transform="rotate(-35 471 606)"/><ellipse cx="479" cy="599" rx="3.5" ry="1.6" transform="rotate(-35 479 599)"/><ellipse cx="486" cy="593" rx="3" ry="1.4" transform="rotate(-35 486 593)"/></g>
  <!-- eustachian tube -->
  <path d="M503,568 L512,565 L561,625 C564,632 562,640 556,642 C550,644 546,640 543,636 Z" fill="#8a3a28"/>
  <path d="M507,570 L552,630" stroke="#2e1e16" stroke-width="4.5" fill="none"/>
  <path d="M509,567 L555,625 C557,630 555,636 550,634" stroke="#8fd0b0" stroke-width="1" fill="none"/>
  <path d="M558,625 C563,630 563,640 557,642" stroke="#e0a8a0" stroke-width="2.5" fill="none"/>
</g>


<!-- TONGUE -->
<defs>
  <pattern id="musc" width="6" height="4" patternUnits="userSpaceOnUse" patternTransform="rotate(25)">
    <rect width="6" height="4" fill="#a8463f"/>
    <path d="M0,1 L6,1.4" stroke="#c46a5e" stroke-width="0.6"/>
    <path d="M0,3 L6,2.7" stroke="#8e3630" stroke-width="0.5"/>
  </pattern>
  <pattern id="musc2" width="3" height="8" patternUnits="userSpaceOnUse" patternTransform="rotate(-15)">
    <rect width="3" height="8" fill="#9c3d38"/>
    <path d="M1,0 L1.3,8" stroke="#7e2c2a" stroke-width="0.6"/>
    <path d="M2.4,0 L2.4,8" stroke="#b85a50" stroke-width="0.4"/>
  </pattern>
</defs>
<g id="tongue">
  <path d="M299,668 C302,662 312,656 324,653 L345,648 L380,650 L418,660 L428,672 L432,690 L428,715 L421,736 L376,744 L302,740 L300,705 Z" fill="url(#musc)"/>
  <path d="M360,700 L398,704 L418,702 L432,690 L428,715 L421,736 L376,744 L368,720 Z" fill="url(#musc2)"/>
  <path d="M324,654 L345,648 L380,650 L418,660 L428,672 L431,690 L420,704 L400,708 L376,702 L356,690 L340,674 Z" fill="#b87070"/>
<path d="M345.7,648.2 L348.4,642.9 L347.6,648.2Z" fill="#9a4444"/>
<path d="M346.3,646.9 L348.4,642.9 L347.9,646.9Z" fill="#e8e0e0"/>
<path d="M341.4,649.2 L345.0,644.6 L343.9,649.2Z" fill="#b86060"/>
<path d="M342.3,648.1 L345.0,644.6 L344.3,648.1Z" fill="#d0c8cc"/>
<path d="M356.5,649.5 L359.1,645.5 L358.4,649.5Z" fill="#9a4444"/>
<path d="M357.1,648.5 L359.1,645.5 L358.6,648.5Z" fill="#d0c8cc"/>
<path d="M360.0,649.6 L362.1,645.6 L361.8,649.6Z" fill="#b86060"/>
<path d="M360.5,648.6 L362.1,645.6 L362.0,648.6Z" fill="#e8e0e0"/>
<path d="M369.2,649.7 L372.3,644.7 L371.5,649.7Z" fill="#b86060"/>
<path d="M369.9,648.4 L372.3,644.7 L371.7,648.4Z" fill="#f2eeee"/>
<path d="M352.5,649.9 L355.5,644.0 L354.5,649.9Z" fill="#a85050"/>
<path d="M353.2,648.4 L355.5,644.0 L354.8,648.4Z" fill="#d0c8cc"/>
<path d="M364.6,650.8 L368.8,645.3 L367.0,650.8Z" fill="#9a4444"/>
<path d="M365.6,649.4 L368.8,645.3 L367.5,649.4Z" fill="#d0c8cc"/>
<path d="M339.4,650.9 L342.8,644.8 L341.9,650.9Z" fill="#a85050"/>
<path d="M340.2,649.4 L342.8,644.8 L342.2,649.4Z" fill="#d0c8cc"/>
<path d="M382.2,651.0 L385.1,646.1 L384.3,651.0Z" fill="#9a4444"/>
<path d="M382.9,649.8 L385.1,646.1 L384.6,649.8Z" fill="#c8c0c4"/>
<path d="M349.9,651.3 L354.2,645.3 L352.1,651.3Z" fill="#a85050"/>
<path d="M350.9,649.8 L354.2,645.3 L352.7,649.8Z" fill="#e8e0e0"/>
<path d="M337.1,651.3 L340.8,646.5 L339.0,651.3Z" fill="#a85050"/>
<path d="M338.0,650.1 L340.8,646.5 L339.5,650.1Z" fill="#d0c8cc"/>
<path d="M373.4,651.5 L377.8,645.1 L375.4,651.5Z" fill="#9a4444"/>
<path d="M374.5,649.9 L377.8,645.1 L376.1,649.9Z" fill="#e8e0e0"/>
<path d="M362.1,651.7 L364.7,647.1 L364.3,651.7Z" fill="#a85050"/>
<path d="M362.7,650.6 L364.7,647.1 L364.5,650.6Z" fill="#c8c0c4"/>
<path d="M378.3,651.8 L380.6,647.7 L380.3,651.8Z" fill="#b86060"/>
<path d="M378.8,650.7 L380.6,647.7 L380.4,650.7Z" fill="#e8e0e0"/>
<path d="M358.8,652.1 L361.5,647.8 L360.6,652.1Z" fill="#9a4444"/>
<path d="M359.4,651.0 L361.5,647.8 L360.9,651.0Z" fill="#e8e0e0"/>
<path d="M346.3,652.3 L349.9,646.5 L348.1,652.3Z" fill="#a85050"/>
<path d="M347.2,650.8 L349.9,646.5 L348.6,650.8Z" fill="#c8c0c4"/>
<path d="M366.4,652.6 L370.4,647.5 L368.9,652.6Z" fill="#b86060"/>
<path d="M367.3,651.3 L370.4,647.5 L369.3,651.3Z" fill="#c8c0c4"/>
<path d="M370.4,652.6 L374.4,646.6 L372.8,652.6Z" fill="#9a4444"/>
<path d="M371.4,651.1 L374.4,646.6 L373.2,651.1Z" fill="#f2eeee"/>
<path d="M380.4,653.1 L384.3,647.1 L382.8,653.1Z" fill="#9a4444"/>
<path d="M381.3,651.6 L384.3,647.1 L383.3,651.6Z" fill="#f2eeee"/>
<path d="M376.1,653.2 L379.6,649.0 L378.2,653.2Z" fill="#b86060"/>
<path d="M376.9,652.1 L379.6,649.0 L378.6,652.1Z" fill="#c8c0c4"/>
<path d="M330.6,653.2 L333.3,649.1 L333.1,653.2Z" fill="#b86060"/>
<path d="M331.2,652.1 L333.3,649.1 L333.2,652.1Z" fill="#e8e0e0"/>
<path d="M326.3,653.3 L329.7,647.5 L328.4,653.3Z" fill="#a85050"/>
<path d="M327.1,651.8 L329.7,647.5 L328.8,651.8Z" fill="#d0c8cc"/>
<path d="M352.4,653.6 L356.0,647.7 L355.0,653.6Z" fill="#a85050"/>
<path d="M353.2,652.1 L356.0,647.7 L355.3,652.1Z" fill="#c8c0c4"/>
<path d="M356.4,653.6 L359.5,647.6 L358.7,653.6Z" fill="#b86060"/>
<path d="M357.2,652.1 L359.5,647.6 L359.0,652.1Z" fill="#c8c0c4"/>
<path d="M389.6,653.7 L393.2,648.1 L392.1,653.7Z" fill="#9a4444"/>
<path d="M390.5,652.3 L393.2,648.1 L392.4,652.3Z" fill="#d0c8cc"/>
<path d="M335.7,653.9 L339.1,649.3 L338.0,653.9Z" fill="#b86060"/>
<path d="M336.5,652.8 L339.1,649.3 L338.3,652.8Z" fill="#d0c8cc"/>
<path d="M341.4,654.2 L344.6,649.1 L343.6,654.2Z" fill="#b86060"/>
<path d="M342.2,652.9 L344.6,649.1 L343.9,652.9Z" fill="#c8c0c4"/>
<path d="M361.2,654.3 L364.1,650.1 L363.8,654.3Z" fill="#a85050"/>
<path d="M361.9,653.3 L364.1,650.1 L363.9,653.3Z" fill="#f2eeee"/>
<path d="M385.1,654.3 L388.5,648.9 L387.7,654.3Z" fill="#a85050"/>
<path d="M385.9,652.9 L388.5,648.9 L387.9,652.9Z" fill="#e8e0e0"/>
<path d="M372.7,654.5 L376.7,649.8 L375.2,654.5Z" fill="#a85050"/>
<path d="M373.6,653.3 L376.7,649.8 L375.7,653.3Z" fill="#e8e0e0"/>
<path d="M347.6,654.7 L350.8,650.2 L349.6,654.7Z" fill="#9a4444"/>
<path d="M348.3,653.5 L350.8,650.2 L349.9,653.5Z" fill="#d0c8cc"/>
<path d="M364.2,655.3 L367.4,651.1 L366.2,655.3Z" fill="#9a4444"/>
<path d="M364.9,654.2 L367.4,651.1 L366.5,654.2Z" fill="#d0c8cc"/>
<path d="M394.5,655.6 L397.3,651.2 L396.6,655.6Z" fill="#a85050"/>
<path d="M395.2,654.5 L397.3,651.2 L396.8,654.5Z" fill="#c8c0c4"/>
<path d="M397.1,656.1 L401.2,650.1 L399.3,656.1Z" fill="#9a4444"/>
<path d="M398.1,654.6 L401.2,650.1 L399.8,654.6Z" fill="#c8c0c4"/>
<path d="M352.3,656.4 L355.1,651.9 L354.5,656.4Z" fill="#a85050"/>
<path d="M352.9,655.2 L355.1,651.9 L354.7,655.2Z" fill="#c8c0c4"/>
<path d="M327.5,656.4 L330.4,652.3 L329.4,656.4Z" fill="#b86060"/>
<path d="M328.2,655.4 L330.4,652.3 L329.7,655.4Z" fill="#f2eeee"/>
<path d="M390.4,656.4 L393.6,652.2 L392.2,656.4Z" fill="#b86060"/>
<path d="M391.1,655.4 L393.6,652.2 L392.6,655.4Z" fill="#f2eeee"/>
<path d="M355.2,656.5 L358.3,650.8 L357.2,656.5Z" fill="#9a4444"/>
<path d="M355.9,655.0 L358.3,650.8 L357.5,655.0Z" fill="#d0c8cc"/>
<path d="M359.0,656.5 L361.9,651.1 L361.0,656.5Z" fill="#b86060"/>
<path d="M359.7,655.1 L361.9,651.1 L361.3,655.1Z" fill="#d0c8cc"/>
<path d="M332.8,656.5 L336.4,652.4 L335.4,656.5Z" fill="#9a4444"/>
<path d="M333.7,655.5 L336.4,652.4 L335.7,655.5Z" fill="#c8c0c4"/>
<path d="M376.9,656.9 L380.9,651.3 L379.3,656.9Z" fill="#a85050"/>
<path d="M377.8,655.5 L380.9,651.3 L379.8,655.5Z" fill="#d0c8cc"/>
<path d="M366.7,657.0 L371.2,650.7 L368.9,657.0Z" fill="#a85050"/>
<path d="M367.8,655.5 L371.2,650.7 L369.5,655.5Z" fill="#d0c8cc"/>
<path d="M344.8,657.4 L347.8,652.6 L346.6,657.4Z" fill="#b86060"/>
<path d="M345.5,656.2 L347.8,652.6 L347.0,656.2Z" fill="#f2eeee"/>
<path d="M381.2,657.5 L384.3,652.8 L383.6,657.5Z" fill="#9a4444"/>
<path d="M382.0,656.3 L384.3,652.8 L383.8,656.3Z" fill="#e8e0e0"/>
<path d="M341.9,657.5 L345.7,652.3 L344.4,657.5Z" fill="#9a4444"/>
<path d="M342.8,656.2 L345.7,652.3 L344.8,656.2Z" fill="#d0c8cc"/>
<path d="M399.1,657.6 L401.6,653.5 L401.7,657.6Z" fill="#b86060"/>
<path d="M399.7,656.6 L401.6,653.5 L401.7,656.6Z" fill="#c8c0c4"/>
<path d="M386.9,657.7 L390.3,653.1 L389.3,657.7Z" fill="#a85050"/>
<path d="M387.7,656.5 L390.3,653.1 L389.6,656.5Z" fill="#e8e0e0"/>
<path d="M339.0,657.8 L342.7,653.3 L341.1,657.8Z" fill="#b86060"/>
<path d="M339.9,656.7 L342.7,653.3 L341.6,656.7Z" fill="#e8e0e0"/>
<path d="M364.0,657.9 L367.6,653.9 L366.6,657.9Z" fill="#b86060"/>
<path d="M364.8,656.9 L367.6,653.9 L366.9,656.9Z" fill="#c8c0c4"/>
<path d="M349.9,658.1 L352.9,654.0 L352.5,658.1Z" fill="#9a4444"/>
<path d="M350.6,657.1 L352.9,654.0 L352.6,657.1Z" fill="#c8c0c4"/>
<path d="M329.9,658.2 L333.0,652.9 L332.1,658.2Z" fill="#a85050"/>
<path d="M330.6,656.8 L333.0,652.9 L332.4,656.8Z" fill="#d0c8cc"/>
<path d="M394.8,658.3 L398.5,652.1 L397.3,658.3Z" fill="#9a4444"/>
<path d="M395.7,656.7 L398.5,652.1 L397.7,656.7Z" fill="#e8e0e0"/>
<path d="M335.9,658.3 L338.7,654.0 L338.1,658.3Z" fill="#b86060"/>
<path d="M336.5,657.3 L338.7,654.0 L338.3,657.3Z" fill="#f2eeee"/>
<path d="M347.3,658.4 L350.5,652.1 L349.4,658.4Z" fill="#a85050"/>
<path d="M348.0,656.8 L350.5,652.1 L349.7,656.8Z" fill="#c8c0c4"/>
<path d="M402.2,658.5 L405.9,653.3 L404.3,658.5Z" fill="#9a4444"/>
<path d="M403.1,657.2 L405.9,653.3 L404.8,657.2Z" fill="#c8c0c4"/>
<path d="M384.1,658.7 L388.1,653.5 L386.7,658.7Z" fill="#9a4444"/>
<path d="M385.0,657.4 L388.1,653.5 L387.1,657.4Z" fill="#c8c0c4"/>
<path d="M405.3,658.8 L408.5,652.9 L407.7,658.8Z" fill="#9a4444"/>
<path d="M406.1,657.3 L408.5,652.9 L408.0,657.3Z" fill="#c8c0c4"/>
<path d="M353.3,658.9 L357.3,652.6 L355.1,658.9Z" fill="#9a4444"/>
<path d="M354.3,657.4 L357.3,652.6 L355.7,657.4Z" fill="#c8c0c4"/>
<path d="M372.2,659.0 L375.7,653.2 L374.7,659.0Z" fill="#9a4444"/>
<path d="M373.0,657.6 L375.7,653.2 L375.0,657.6Z" fill="#d0c8cc"/>
<path d="M376.6,659.7 L379.8,653.7 L378.9,659.7Z" fill="#9a4444"/>
<path d="M377.3,658.2 L379.8,653.7 L379.2,658.2Z" fill="#e8e0e0"/>
<path d="M356.5,659.8 L361.2,653.5 L358.3,659.8Z" fill="#a85050"/>
<path d="M357.6,658.2 L361.2,653.5 L359.1,658.2Z" fill="#c8c0c4"/>
<path d="M370.0,660.0 L373.4,654.1 L371.9,660.0Z" fill="#9a4444"/>
<path d="M370.8,658.5 L373.4,654.1 L372.3,658.5Z" fill="#e8e0e0"/>
<path d="M361.7,660.1 L364.7,654.3 L363.6,660.1Z" fill="#b86060"/>
<path d="M362.4,658.6 L364.7,654.3 L364.0,658.6Z" fill="#c8c0c4"/>
<path d="M412.7,660.1 L416.0,655.4 L414.9,660.1Z" fill="#b86060"/>
<path d="M413.5,658.9 L416.0,655.4 L415.2,658.9Z" fill="#c8c0c4"/>
<path d="M366.7,660.4 L369.4,655.7 L369.2,660.4Z" fill="#a85050"/>
<path d="M367.3,659.2 L369.4,655.7 L369.3,659.2Z" fill="#f2eeee"/>
<path d="M344.1,660.6 L347.3,655.8 L346.0,660.6Z" fill="#a85050"/>
<path d="M344.9,659.4 L347.3,655.8 L346.4,659.4Z" fill="#c8c0c4"/>
<path d="M328.6,660.8 L331.6,655.7 L330.9,660.8Z" fill="#a85050"/>
<path d="M329.3,659.5 L331.6,655.7 L331.1,659.5Z" fill="#d0c8cc"/>
<path d="M404.1,661.0 L407.5,655.8 L406.3,661.0Z" fill="#9a4444"/>
<path d="M404.9,659.7 L407.5,655.8 L406.7,659.7Z" fill="#f2eeee"/>
<path d="M417.6,661.1 L421.6,655.6 L419.6,661.1Z" fill="#a85050"/>
<path d="M418.5,659.7 L421.6,655.6 L420.2,659.7Z" fill="#c8c0c4"/>
<path d="M349.0,661.2 L352.8,656.3 L351.1,661.2Z" fill="#a85050"/>
<path d="M349.9,660.0 L352.8,656.3 L351.6,660.0Z" fill="#c8c0c4"/>
<path d="M391.2,661.2 L396.2,654.8 L393.8,661.2Z" fill="#b86060"/>
<path d="M392.4,659.6 L396.2,654.8 L394.5,659.6Z" fill="#f2eeee"/>
<path d="M395.0,661.3 L399.6,655.2 L396.9,661.3Z" fill="#b86060"/>
<path d="M396.1,659.8 L399.6,655.2 L397.7,659.8Z" fill="#c8c0c4"/>
<path d="M337.3,661.3 L339.5,657.1 L339.2,661.3Z" fill="#9a4444"/>
<path d="M337.8,660.3 L339.5,657.1 L339.3,660.3Z" fill="#f2eeee"/>
<path d="M352.0,661.5 L355.7,655.5 L354.2,661.5Z" fill="#a85050"/>
<path d="M352.8,660.0 L355.7,655.5 L354.6,660.0Z" fill="#f2eeee"/>
<path d="M333.2,661.7 L336.5,656.5 L335.5,661.7Z" fill="#b86060"/>
<path d="M334.0,660.4 L336.5,656.5 L335.8,660.4Z" fill="#d0c8cc"/>
<path d="M363.5,661.8 L366.5,657.7 L365.8,661.8Z" fill="#9a4444"/>
<path d="M364.2,660.8 L366.5,657.7 L366.0,660.8Z" fill="#f2eeee"/>
<path d="M407.0,661.8 L410.3,657.0 L409.2,661.8Z" fill="#b86060"/>
<path d="M407.8,660.6 L410.3,657.0 L409.5,660.6Z" fill="#f2eeee"/>
<path d="M372.8,661.9 L376.3,657.2 L375.0,661.9Z" fill="#a85050"/>
<path d="M373.6,660.7 L376.3,657.2 L375.4,660.7Z" fill="#d0c8cc"/>
<path d="M381.8,661.9 L384.9,656.3 L384.2,661.9Z" fill="#9a4444"/>
<path d="M382.5,660.5 L384.9,656.3 L384.4,660.5Z" fill="#f2eeee"/>
<path d="M399.3,662.1 L402.9,655.8 L401.1,662.1Z" fill="#a85050"/>
<path d="M400.2,660.5 L402.9,655.8 L401.6,660.5Z" fill="#c8c0c4"/>
<path d="M414.3,662.3 L419.2,656.2 L416.8,662.3Z" fill="#b86060"/>
<path d="M415.5,660.8 L419.2,656.2 L417.5,660.8Z" fill="#e8e0e0"/>
<path d="M369.4,662.8 L372.8,656.8 L371.8,662.8Z" fill="#b86060"/>
<path d="M370.2,661.3 L372.8,656.8 L372.1,661.3Z" fill="#e8e0e0"/>
<path d="M339.0,663.2 L343.1,658.0 L341.3,663.2Z" fill="#b86060"/>
<path d="M339.9,661.9 L343.1,658.0 L341.8,661.9Z" fill="#f2eeee"/>
<path d="M359.9,663.3 L363.7,657.1 L361.8,663.3Z" fill="#a85050"/>
<path d="M360.8,661.8 L363.7,657.1 L362.3,661.8Z" fill="#e8e0e0"/>
<path d="M419.3,663.4 L423.2,658.6 L421.6,663.4Z" fill="#9a4444"/>
<path d="M420.2,662.2 L423.2,658.6 L422.0,662.2Z" fill="#d0c8cc"/>
<path d="M366.7,663.5 L369.6,659.3 L369.0,663.5Z" fill="#a85050"/>
<path d="M367.4,662.4 L369.6,659.3 L369.2,662.4Z" fill="#c8c0c4"/>
<path d="M335.6,663.6 L339.9,658.2 L337.8,663.6Z" fill="#b86060"/>
<path d="M336.7,662.3 L339.9,658.2 L338.4,662.3Z" fill="#f2eeee"/>
<path d="M385.9,663.6 L389.9,658.5 L388.3,663.6Z" fill="#9a4444"/>
<path d="M386.8,662.4 L389.9,658.5 L388.7,662.4Z" fill="#f2eeee"/>
<path d="M375.8,663.7 L378.9,659.0 L377.9,663.7Z" fill="#a85050"/>
<path d="M376.5,662.5 L378.9,659.0 L378.2,662.5Z" fill="#e8e0e0"/>
<path d="M350.2,663.8 L354.8,657.6 L352.2,663.8Z" fill="#9a4444"/>
<path d="M351.3,662.3 L354.8,657.6 L352.9,662.3Z" fill="#e8e0e0"/>
<path d="M390.5,663.9 L393.1,659.4 L393.0,663.9Z" fill="#b86060"/>
<path d="M391.1,662.8 L393.1,659.4 L393.1,662.8Z" fill="#d0c8cc"/>
<path d="M393.5,663.9 L397.2,657.4 L395.8,663.9Z" fill="#a85050"/>
<path d="M394.4,662.3 L397.2,657.4 L396.2,662.3Z" fill="#c8c0c4"/>
<path d="M408.2,664.1 L412.0,658.4 L410.4,664.1Z" fill="#b86060"/>
<path d="M409.1,662.7 L412.0,658.4 L410.8,662.7Z" fill="#f2eeee"/>
<path d="M344.5,664.2 L347.8,658.9 L346.5,664.2Z" fill="#b86060"/>
<path d="M345.3,662.8 L347.8,658.9 L346.8,662.8Z" fill="#f2eeee"/>
<path d="M355.2,664.2 L358.6,659.9 L357.6,664.2Z" fill="#a85050"/>
<path d="M356.0,663.1 L358.6,659.9 L357.9,663.1Z" fill="#c8c0c4"/>
<path d="M373.1,664.4 L377.5,657.9 L375.0,664.4Z" fill="#b86060"/>
<path d="M374.1,662.8 L377.5,657.9 L375.7,662.8Z" fill="#f2eeee"/>
<path d="M378.3,664.4 L381.2,659.6 L380.5,664.4Z" fill="#9a4444"/>
<path d="M379.0,663.2 L381.2,659.6 L380.7,663.2Z" fill="#f2eeee"/>
<path d="M331.8,664.5 L335.0,658.5 L333.8,664.5Z" fill="#9a4444"/>
<path d="M332.5,663.0 L335.0,658.5 L334.2,663.0Z" fill="#f2eeee"/>
<path d="M382.8,664.5 L386.2,659.7 L385.2,664.5Z" fill="#a85050"/>
<path d="M383.6,663.3 L386.2,659.7 L385.5,663.3Z" fill="#e8e0e0"/>
<path d="M402.2,665.1 L405.3,659.9 L404.4,665.1Z" fill="#b86060"/>
<path d="M403.0,663.8 L405.3,659.9 L404.7,663.8Z" fill="#e8e0e0"/>
<path d="M398.1,665.1 L401.8,659.0 L400.0,665.1Z" fill="#a85050"/>
<path d="M399.0,663.6 L401.8,659.0 L400.5,663.6Z" fill="#e8e0e0"/>
<path d="M415.3,665.2 L419.3,660.0 L417.8,665.2Z" fill="#a85050"/>
<path d="M416.2,663.9 L419.3,660.0 L418.3,663.9Z" fill="#d0c8cc"/>
<path d="M363.0,665.6 L366.6,659.8 L365.3,665.6Z" fill="#b86060"/>
<path d="M363.9,664.2 L366.6,659.8 L365.7,664.2Z" fill="#d0c8cc"/>
<path d="M411.1,665.8 L415.1,660.4 L413.2,665.8Z" fill="#a85050"/>
<path d="M412.1,664.4 L415.1,660.4 L413.7,664.4Z" fill="#d0c8cc"/>
<path d="M337.4,665.8 L340.7,660.6 L339.7,665.8Z" fill="#9a4444"/>
<path d="M338.1,664.5 L340.7,660.6 L340.0,664.5Z" fill="#c8c0c4"/>
<path d="M346.4,665.8 L349.1,660.6 L348.6,665.8Z" fill="#9a4444"/>
<path d="M347.0,664.5 L349.1,660.6 L348.8,664.5Z" fill="#e8e0e0"/>
<path d="M353.1,666.0 L356.7,659.7 L355.4,666.0Z" fill="#9a4444"/>
<path d="M353.9,664.4 L356.7,659.7 L355.8,664.4Z" fill="#f2eeee"/>
<path d="M359.8,666.2 L363.4,660.3 L361.7,666.2Z" fill="#b86060"/>
<path d="M360.7,664.7 L363.4,660.3 L362.2,664.7Z" fill="#c8c0c4"/>
<path d="M334.1,666.2 L337.2,660.5 L336.2,666.2Z" fill="#a85050"/>
<path d="M334.8,664.8 L337.2,660.5 L336.5,664.8Z" fill="#f2eeee"/>
<path d="M392.2,666.3 L395.1,660.3 L394.4,666.3Z" fill="#9a4444"/>
<path d="M392.9,664.8 L395.1,660.3 L394.6,664.8Z" fill="#e8e0e0"/>
<path d="M387.9,666.3 L391.0,661.3 L390.3,666.3Z" fill="#b86060"/>
<path d="M388.6,665.0 L391.0,661.3 L390.5,665.0Z" fill="#e8e0e0"/>
<path d="M370.0,666.6 L373.5,660.2 L372.2,666.6Z" fill="#a85050"/>
<path d="M370.8,665.0 L373.5,660.2 L372.6,665.0Z" fill="#d0c8cc"/>
<path d="M395.8,666.8 L399.5,660.7 L398.0,666.8Z" fill="#9a4444"/>
<path d="M396.7,665.3 L399.5,660.7 L398.4,665.3Z" fill="#f2eeee"/>
<path d="M356.4,666.8 L359.8,660.5 L358.2,666.8Z" fill="#9a4444"/>
<path d="M357.2,665.3 L359.8,660.5 L358.7,665.3Z" fill="#e8e0e0"/>
<path d="M342.7,666.9 L346.5,660.5 L344.6,666.9Z" fill="#9a4444"/>
<path d="M343.6,665.3 L346.5,660.5 L345.1,665.3Z" fill="#e8e0e0"/>
<path d="M418.2,667.0 L421.7,662.8 L420.7,667.0Z" fill="#9a4444"/>
<path d="M419.0,666.0 L421.7,662.8 L421.0,666.0Z" fill="#f2eeee"/>
<path d="M377.5,667.1 L381.3,660.8 L379.6,667.1Z" fill="#b86060"/>
<path d="M378.4,665.5 L381.3,660.8 L380.1,665.5Z" fill="#d0c8cc"/>
<path d="M350.0,667.2 L353.5,662.1 L352.4,667.2Z" fill="#b86060"/>
<path d="M350.8,665.9 L353.5,662.1 L352.7,665.9Z" fill="#d0c8cc"/>
<path d="M406.2,667.2 L410.4,661.5 L408.0,667.2Z" fill="#a85050"/>
<path d="M407.2,665.8 L410.4,661.5 L408.7,665.8Z" fill="#f2eeee"/>
<path d="M366.1,667.3 L369.1,662.7 L368.6,667.3Z" fill="#9a4444"/>
<path d="M366.8,666.2 L369.1,662.7 L368.8,666.2Z" fill="#d0c8cc"/>
<path d="M401.1,667.7 L404.9,661.8 L403.3,667.7Z" fill="#b86060"/>
<path d="M402.0,666.2 L404.9,661.8 L403.8,666.2Z" fill="#e8e0e0"/>
<path d="M409.2,667.8 L411.6,663.4 L411.1,667.8Z" fill="#b86060"/>
<path d="M409.7,666.7 L411.6,663.4 L411.3,666.7Z" fill="#c8c0c4"/>
<path d="M381.2,667.8 L384.0,662.8 L383.0,667.8Z" fill="#9a4444"/>
<path d="M381.9,666.6 L384.0,662.8 L383.3,666.6Z" fill="#e8e0e0"/>
<path d="M422.6,668.4 L427.4,662.1 L425.2,668.4Z" fill="#b86060"/>
<path d="M423.8,666.8 L427.4,662.1 L425.8,666.8Z" fill="#e8e0e0"/>
<path d="M364.0,668.5 L366.8,663.2 L365.8,668.5Z" fill="#b86060"/>
<path d="M364.6,667.2 L366.8,663.2 L366.1,667.2Z" fill="#e8e0e0"/>
<path d="M345.9,668.8 L349.4,664.5 L347.8,668.8Z" fill="#b86060"/>
<path d="M346.7,667.8 L349.4,664.5 L348.3,667.8Z" fill="#f2eeee"/>
<path d="M338.1,668.9 L341.4,664.5 L340.3,668.9Z" fill="#b86060"/>
<path d="M338.9,667.8 L341.4,664.5 L340.7,667.8Z" fill="#e8e0e0"/>
<path d="M393.3,668.9 L397.1,664.5 L395.8,668.9Z" fill="#a85050"/>
<path d="M394.2,667.8 L397.1,664.5 L396.2,667.8Z" fill="#f2eeee"/>
<path d="M374.7,668.9 L378.4,664.0 L376.9,668.9Z" fill="#b86060"/>
<path d="M375.6,667.7 L378.4,664.0 L377.3,667.7Z" fill="#d0c8cc"/>
<path d="M413.5,669.0 L416.5,663.6 L415.7,669.0Z" fill="#b86060"/>
<path d="M414.2,667.7 L416.5,663.6 L416.0,667.7Z" fill="#e8e0e0"/>
<path d="M358.3,669.3 L361.2,664.2 L360.6,669.3Z" fill="#a85050"/>
<path d="M359.0,668.0 L361.2,664.2 L360.8,668.0Z" fill="#e8e0e0"/>
<path d="M389.6,669.5 L392.6,664.8 L391.6,669.5Z" fill="#b86060"/>
<path d="M390.3,668.3 L392.6,664.8 L391.9,668.3Z" fill="#f2eeee"/>
<path d="M370.9,669.5 L374.9,663.5 L372.9,669.5Z" fill="#9a4444"/>
<path d="M371.8,668.0 L374.9,663.5 L373.4,668.0Z" fill="#d0c8cc"/>
<path d="M399.0,669.6 L403.4,663.7 L401.1,669.6Z" fill="#9a4444"/>
<path d="M400.0,668.1 L403.4,663.7 L401.7,668.1Z" fill="#c8c0c4"/>
<path d="M407.2,669.9 L411.1,663.6 L409.3,669.9Z" fill="#a85050"/>
<path d="M408.1,668.3 L411.1,663.6 L409.8,668.3Z" fill="#e8e0e0"/>
<path d="M343.0,670.2 L347.0,663.9 L345.3,670.2Z" fill="#b86060"/>
<path d="M343.9,668.6 L347.0,663.9 L345.8,668.6Z" fill="#d0c8cc"/>
<path d="M424.6,670.3 L428.3,665.3 L426.9,670.3Z" fill="#9a4444"/>
<path d="M425.4,669.1 L428.3,665.3 L427.3,669.1Z" fill="#f2eeee"/>
<path d="M416.4,670.3 L419.0,666.1 L418.4,670.3Z" fill="#b86060"/>
<path d="M417.0,669.3 L419.0,666.1 L418.6,669.3Z" fill="#f2eeee"/>
<path d="M396.2,670.4 L399.4,664.4 L398.7,670.4Z" fill="#b86060"/>
<path d="M396.9,668.9 L399.4,664.4 L398.9,668.9Z" fill="#e8e0e0"/>
<path d="M382.8,670.4 L387.6,664.0 L385.3,670.4Z" fill="#a85050"/>
<path d="M384.0,668.8 L387.6,664.0 L385.9,668.8Z" fill="#e8e0e0"/>
<path d="M385.9,670.5 L390.3,664.5 L387.7,670.5Z" fill="#a85050"/>
<path d="M387.0,669.0 L390.3,664.5 L388.4,669.0Z" fill="#e8e0e0"/>
<path d="M380.0,670.6 L383.9,664.8 L382.6,670.6Z" fill="#a85050"/>
<path d="M380.9,669.1 L383.9,664.8 L383.0,669.1Z" fill="#e8e0e0"/>
<path d="M340.0,670.8 L343.7,665.8 L342.5,670.8Z" fill="#9a4444"/>
<path d="M340.8,669.5 L343.7,665.8 L342.8,669.5Z" fill="#c8c0c4"/>
<path d="M365.5,671.2 L369.8,664.7 L368.1,671.2Z" fill="#9a4444"/>
<path d="M366.5,669.6 L369.8,664.7 L368.5,669.6Z" fill="#e8e0e0"/>
<path d="M377.0,671.3 L380.0,666.0 L378.9,671.3Z" fill="#b86060"/>
<path d="M377.7,669.9 L380.0,666.0 L379.2,669.9Z" fill="#c8c0c4"/>
<path d="M337.2,671.5 L340.1,666.8 L339.3,671.5Z" fill="#b86060"/>
<path d="M337.9,670.3 L340.1,666.8 L339.6,670.3Z" fill="#f2eeee"/>
<path d="M403.0,671.5 L406.2,666.4 L405.5,671.5Z" fill="#9a4444"/>
<path d="M403.7,670.2 L406.2,666.4 L405.8,670.2Z" fill="#e8e0e0"/>
<path d="M392.9,671.7 L395.9,665.7 L395.0,671.7Z" fill="#a85050"/>
<path d="M393.6,670.2 L395.9,665.7 L395.3,670.2Z" fill="#f2eeee"/>
<path d="M413.7,671.7 L416.7,666.6 L416.1,671.7Z" fill="#b86060"/>
<path d="M414.4,670.4 L416.7,666.6 L416.3,670.4Z" fill="#f2eeee"/>
<path d="M419.3,671.9 L423.4,665.7 L421.3,671.9Z" fill="#b86060"/>
<path d="M420.3,670.3 L423.4,665.7 L421.9,670.3Z" fill="#d0c8cc"/>
<path d="M345.3,671.9 L348.7,667.8 L347.5,671.9Z" fill="#a85050"/>
<path d="M346.1,670.9 L348.7,667.8 L347.9,670.9Z" fill="#f2eeee"/>
<path d="M358.3,671.9 L360.9,667.5 L360.4,671.9Z" fill="#a85050"/>
<path d="M358.9,670.8 L360.9,667.5 L360.6,670.8Z" fill="#f2eeee"/>
<path d="M374.2,672.1 L376.7,667.4 L376.2,672.1Z" fill="#b86060"/>
<path d="M374.7,670.9 L376.7,667.4 L376.4,670.9Z" fill="#f2eeee"/>
<path d="M388.7,672.2 L391.8,666.6 L391.2,672.2Z" fill="#9a4444"/>
<path d="M389.5,670.8 L391.8,666.6 L391.4,670.8Z" fill="#c8c0c4"/>
<path d="M409.0,672.2 L412.1,667.5 L411.5,672.2Z" fill="#9a4444"/>
<path d="M409.7,671.0 L412.1,667.5 L411.7,671.0Z" fill="#e8e0e0"/>
<path d="M369.8,672.4 L373.8,666.4 L371.9,672.4Z" fill="#9a4444"/>
<path d="M370.7,670.9 L373.8,666.4 L372.5,670.9Z" fill="#f2eeee"/>
<path d="M354.8,672.4 L357.8,666.8 L356.7,672.4Z" fill="#9a4444"/>
<path d="M355.5,671.0 L357.8,666.8 L357.0,671.0Z" fill="#f2eeee"/>
<path d="M349.3,672.8 L352.1,667.6 L351.6,672.8Z" fill="#9a4444"/>
<path d="M349.9,671.5 L352.1,667.6 L351.7,671.5Z" fill="#e8e0e0"/>
<path d="M422.1,672.9 L425.5,666.9 L424.4,672.9Z" fill="#b86060"/>
<path d="M422.9,671.4 L425.5,666.9 L424.7,671.4Z" fill="#d0c8cc"/>
<path d="M381.8,673.3 L385.2,668.7 L384.2,673.3Z" fill="#b86060"/>
<path d="M382.6,672.1 L385.2,668.7 L384.5,672.1Z" fill="#d0c8cc"/>
<path d="M363.4,673.3 L366.1,668.9 L365.4,673.3Z" fill="#9a4444"/>
<path d="M364.0,672.2 L366.1,668.9 L365.6,672.2Z" fill="#d0c8cc"/>
<path d="M360.2,673.4 L364.0,667.8 L362.8,673.4Z" fill="#a85050"/>
<path d="M361.1,672.0 L364.0,667.8 L363.1,672.0Z" fill="#c8c0c4"/>
<path d="M378.9,673.5 L381.7,667.7 L381.1,673.5Z" fill="#a85050"/>
<path d="M379.6,672.0 L381.7,667.7 L381.3,672.0Z" fill="#c8c0c4"/>
<path d="M397.2,673.8 L400.7,669.1 L399.7,673.8Z" fill="#9a4444"/>
<path d="M398.0,672.6 L400.7,669.1 L400.0,672.6Z" fill="#d0c8cc"/>
<path d="M385.3,674.2 L388.8,670.1 L387.7,674.2Z" fill="#9a4444"/>
<path d="M386.1,673.1 L388.8,670.1 L388.0,673.1Z" fill="#c8c0c4"/>
<path d="M343.0,674.3 L346.5,669.0 L345.2,674.3Z" fill="#9a4444"/>
<path d="M343.8,673.0 L346.5,669.0 L345.6,673.0Z" fill="#f2eeee"/>
<path d="M413.4,674.4 L417.1,668.2 L415.6,674.4Z" fill="#b86060"/>
<path d="M414.3,672.8 L417.1,668.2 L416.0,672.8Z" fill="#e8e0e0"/>
<path d="M417.0,674.4 L421.6,668.2 L419.1,674.4Z" fill="#b86060"/>
<path d="M418.1,672.9 L421.6,668.2 L419.7,672.9Z" fill="#e8e0e0"/>
<path d="M394.9,674.5 L397.5,669.7 L396.9,674.5Z" fill="#9a4444"/>
<path d="M395.5,673.3 L397.5,669.7 L397.1,673.3Z" fill="#c8c0c4"/>
<path d="M352.5,674.8 L355.9,669.8 L354.9,674.8Z" fill="#b86060"/>
<path d="M353.3,673.6 L355.9,669.8 L355.2,673.6Z" fill="#d0c8cc"/>
<path d="M368.4,674.9 L371.9,669.8 L370.2,674.9Z" fill="#a85050"/>
<path d="M369.2,673.6 L371.9,669.8 L370.6,673.6Z" fill="#d0c8cc"/>
<path d="M407.8,674.9 L411.7,669.9 L410.3,674.9Z" fill="#9a4444"/>
<path d="M408.7,673.7 L411.7,669.9 L410.7,673.7Z" fill="#d0c8cc"/>
<path d="M356.7,675.2 L360.5,669.6 L358.5,675.2Z" fill="#b86060"/>
<path d="M357.6,673.8 L360.5,669.6 L359.1,673.8Z" fill="#d0c8cc"/>
<path d="M392.2,675.2 L396.7,669.3 L394.1,675.2Z" fill="#9a4444"/>
<path d="M393.3,673.7 L396.7,669.3 L394.8,673.7Z" fill="#c8c0c4"/>
<path d="M424.3,675.3 L428.3,669.7 L426.5,675.3Z" fill="#b86060"/>
<path d="M425.2,673.9 L428.3,669.7 L427.0,673.9Z" fill="#c8c0c4"/>
<path d="M376.1,675.3 L379.6,669.4 L378.6,675.3Z" fill="#9a4444"/>
<path d="M376.9,673.9 L379.6,669.4 L378.9,673.9Z" fill="#d0c8cc"/>
<path d="M404.2,675.7 L408.4,669.2 L406.8,675.7Z" fill="#a85050"/>
<path d="M405.2,674.1 L408.4,669.2 L407.3,674.1Z" fill="#c8c0c4"/>
<path d="M373.3,675.8 L377.3,670.5 L375.6,675.8Z" fill="#a85050"/>
<path d="M374.2,674.5 L377.3,670.5 L376.1,674.5Z" fill="#f2eeee"/>
<path d="M419.9,675.9 L422.9,671.1 L421.9,675.9Z" fill="#a85050"/>
<path d="M420.6,674.7 L422.9,671.1 L422.2,674.7Z" fill="#f2eeee"/>
<path d="M380.5,676.0 L384.1,671.0 L382.5,676.0Z" fill="#a85050"/>
<path d="M381.4,674.8 L384.1,671.0 L382.9,674.8Z" fill="#f2eeee"/>
<path d="M400.4,676.0 L403.1,671.7 L402.7,676.0Z" fill="#b86060"/>
<path d="M401.0,675.0 L403.1,671.7 L402.9,675.0Z" fill="#c8c0c4"/>
<path d="M362.0,676.3 L365.8,671.4 L363.9,676.3Z" fill="#9a4444"/>
<path d="M362.9,675.1 L365.8,671.4 L364.5,675.1Z" fill="#e8e0e0"/>
<path d="M359.4,676.3 L364.0,669.8 L361.3,676.3Z" fill="#a85050"/>
<path d="M360.5,674.7 L364.0,669.8 L362.0,674.7Z" fill="#f2eeee"/>
<path d="M347.2,677.1 L351.9,670.9 L349.5,677.1Z" fill="#b86060"/>
<path d="M348.3,675.6 L351.9,670.9 L350.1,675.6Z" fill="#d0c8cc"/>
<path d="M354.6,677.1 L358.0,672.9 L356.8,677.1Z" fill="#a85050"/>
<path d="M355.4,676.1 L358.0,672.9 L357.1,676.1Z" fill="#d0c8cc"/>
<path d="M364.6,677.2 L367.5,671.1 L366.7,677.2Z" fill="#b86060"/>
<path d="M365.3,675.7 L367.5,671.1 L366.9,675.7Z" fill="#e8e0e0"/>
<path d="M426.9,677.2 L429.7,672.1 L428.8,677.2Z" fill="#a85050"/>
<path d="M427.5,675.9 L429.7,672.1 L429.1,675.9Z" fill="#e8e0e0"/>
<path d="M384.0,677.5 L387.8,671.2 L386.2,677.5Z" fill="#9a4444"/>
<path d="M384.9,675.9 L387.8,671.2 L386.6,675.9Z" fill="#e8e0e0"/>
<path d="M343.4,677.6 L346.5,672.4 L345.7,677.6Z" fill="#9a4444"/>
<path d="M344.1,676.3 L346.5,672.4 L346.0,676.3Z" fill="#d0c8cc"/>
<path d="M370.7,677.7 L374.9,671.6 L372.6,677.7Z" fill="#b86060"/>
<path d="M371.7,676.2 L374.9,671.6 L373.2,676.2Z" fill="#e8e0e0"/>
<path d="M387.9,677.8 L392.1,671.5 L390.1,677.8Z" fill="#a85050"/>
<path d="M388.9,676.2 L392.1,671.5 L390.7,676.2Z" fill="#e8e0e0"/>
<path d="M390.5,677.9 L394.7,671.9 L392.9,677.9Z" fill="#9a4444"/>
<path d="M391.5,676.4 L394.7,671.9 L393.4,676.4Z" fill="#c8c0c4"/>
<path d="M357.2,678.1 L361.2,671.7 L359.6,678.1Z" fill="#9a4444"/>
<path d="M358.1,676.5 L361.2,671.7 L360.1,676.5Z" fill="#e8e0e0"/>
<path d="M394.2,678.1 L397.6,673.8 L396.2,678.1Z" fill="#b86060"/>
<path d="M395.0,677.0 L397.6,673.8 L396.6,677.0Z" fill="#f2eeee"/>
<path d="M405.1,678.2 L408.1,673.5 L407.2,678.2Z" fill="#a85050"/>
<path d="M405.8,677.0 L408.1,673.5 L407.4,677.0Z" fill="#c8c0c4"/>
<path d="M415.2,678.2 L419.2,672.5 L417.1,678.2Z" fill="#a85050"/>
<path d="M416.1,676.8 L419.2,672.5 L417.7,676.8Z" fill="#c8c0c4"/>
<path d="M410.4,678.3 L414.4,671.9 L412.9,678.3Z" fill="#b86060"/>
<path d="M411.4,676.7 L414.4,671.9 L413.3,676.7Z" fill="#e8e0e0"/>
<path d="M423.3,678.6 L427.5,673.4 L425.8,678.6Z" fill="#9a4444"/>
<path d="M424.3,677.3 L427.5,673.4 L426.3,677.3Z" fill="#f2eeee"/>
<path d="M379.3,678.7 L382.0,674.5 L381.3,678.7Z" fill="#9a4444"/>
<path d="M379.9,677.6 L382.0,674.5 L381.5,677.6Z" fill="#f2eeee"/>
<path d="M351.5,678.7 L355.4,672.4 L354.0,678.7Z" fill="#a85050"/>
<path d="M352.4,677.1 L355.4,672.4 L354.4,677.1Z" fill="#f2eeee"/>
<path d="M367.1,678.8 L370.0,673.2 L369.0,678.8Z" fill="#a85050"/>
<path d="M367.8,677.4 L370.0,673.2 L369.3,677.4Z" fill="#d0c8cc"/>
<path d="M419.7,678.8 L423.4,672.8 L422.2,678.8Z" fill="#9a4444"/>
<path d="M420.6,677.3 L423.4,672.8 L422.6,677.3Z" fill="#d0c8cc"/>
<path d="M397.7,678.9 L400.3,674.7 L399.8,678.9Z" fill="#b86060"/>
<path d="M398.3,677.9 L400.3,674.7 L400.0,677.9Z" fill="#f2eeee"/>
<path d="M401.6,679.0 L406.2,673.1 L403.7,679.0Z" fill="#b86060"/>
<path d="M402.7,677.5 L406.2,673.1 L404.4,677.5Z" fill="#d0c8cc"/>
<path d="M362.3,679.5 L365.2,675.2 L364.2,679.5Z" fill="#a85050"/>
<path d="M363.0,678.4 L365.2,675.2 L364.5,678.4Z" fill="#c8c0c4"/>
<path d="M348.9,679.5 L352.4,675.1 L351.0,679.5Z" fill="#a85050"/>
<path d="M349.7,678.4 L352.4,675.1 L351.4,678.4Z" fill="#f2eeee"/>
<path d="M344.9,679.8 L347.8,675.5 L347.4,679.8Z" fill="#a85050"/>
<path d="M345.6,678.7 L347.8,675.5 L347.6,678.7Z" fill="#f2eeee"/>
<path d="M372.1,679.9 L375.2,675.7 L374.4,679.9Z" fill="#a85050"/>
<path d="M372.8,678.9 L375.2,675.7 L374.7,678.9Z" fill="#d0c8cc"/>
<path d="M374.9,680.0 L379.2,674.0 L376.8,680.0Z" fill="#9a4444"/>
<path d="M375.9,678.5 L379.2,674.0 L377.4,678.5Z" fill="#c8c0c4"/>
<path d="M359.6,680.0 L363.7,673.7 L361.8,680.0Z" fill="#9a4444"/>
<path d="M360.6,678.4 L363.7,673.7 L362.3,678.4Z" fill="#e8e0e0"/>
<path d="M356.5,680.6 L360.8,674.6 L358.8,680.6Z" fill="#9a4444"/>
<path d="M357.6,679.1 L360.8,674.6 L359.4,679.1Z" fill="#e8e0e0"/>
<path d="M369.5,680.7 L373.0,676.2 L372.1,680.7Z" fill="#b86060"/>
<path d="M370.3,679.6 L373.0,676.2 L372.3,679.6Z" fill="#f2eeee"/>
<path d="M409.5,681.0 L412.2,676.4 L411.4,681.0Z" fill="#9a4444"/>
<path d="M410.1,679.9 L412.2,676.4 L411.7,679.9Z" fill="#d0c8cc"/>
<path d="M390.5,681.1 L393.3,677.1 L392.5,681.1Z" fill="#a85050"/>
<path d="M391.1,680.1 L393.3,677.1 L392.8,680.1Z" fill="#e8e0e0"/>
<path d="M403.8,681.3 L406.7,677.2 L405.8,681.3Z" fill="#a85050"/>
<path d="M404.5,680.3 L406.7,677.2 L406.1,680.3Z" fill="#c8c0c4"/>
<path d="M427.7,681.6 L431.8,676.3 L429.9,681.6Z" fill="#9a4444"/>
<path d="M428.7,680.2 L431.8,676.3 L430.4,680.2Z" fill="#c8c0c4"/>
<path d="M417.2,681.6 L420.2,677.3 L419.4,681.6Z" fill="#a85050"/>
<path d="M417.9,680.5 L420.2,677.3 L419.7,680.5Z" fill="#c8c0c4"/>
<path d="M413.0,682.0 L416.3,677.4 L415.1,682.0Z" fill="#9a4444"/>
<path d="M413.8,680.9 L416.3,677.4 L415.4,680.9Z" fill="#e8e0e0"/>
<path d="M397.4,682.3 L399.8,677.6 L399.4,682.3Z" fill="#a85050"/>
<path d="M398.0,681.1 L399.8,677.6 L399.5,681.1Z" fill="#c8c0c4"/>
<path d="M384.1,682.4 L387.4,676.3 L386.6,682.4Z" fill="#b86060"/>
<path d="M384.9,680.9 L387.4,676.3 L386.8,680.9Z" fill="#f2eeee"/>
<path d="M380.8,682.5 L383.8,677.4 L383.3,682.5Z" fill="#a85050"/>
<path d="M381.5,681.2 L383.8,677.4 L383.5,681.2Z" fill="#e8e0e0"/>
<path d="M358.3,682.7 L361.1,678.5 L360.9,682.7Z" fill="#b86060"/>
<path d="M358.9,681.7 L361.1,678.5 L361.0,681.7Z" fill="#c8c0c4"/>
<path d="M378.0,682.9 L380.8,678.1 L379.8,682.9Z" fill="#9a4444"/>
<path d="M378.6,681.7 L380.8,678.1 L380.1,681.7Z" fill="#e8e0e0"/>
<path d="M351.5,683.0 L355.5,677.6 L353.7,683.0Z" fill="#b86060"/>
<path d="M352.5,681.7 L355.5,677.6 L354.2,681.7Z" fill="#c8c0c4"/>
<path d="M363.0,683.0 L366.7,677.8 L365.1,683.0Z" fill="#9a4444"/>
<path d="M363.9,681.7 L366.7,677.8 L365.5,681.7Z" fill="#f2eeee"/>
<path d="M367.0,683.1 L370.0,677.4 L368.9,683.1Z" fill="#b86060"/>
<path d="M367.7,681.6 L370.0,677.4 L369.2,681.6Z" fill="#e8e0e0"/>
<path d="M425.8,683.3 L429.9,676.9 L427.7,683.3Z" fill="#a85050"/>
<path d="M426.8,681.7 L429.9,676.9 L428.3,681.7Z" fill="#d0c8cc"/>
<path d="M388.8,683.3 L391.5,678.9 L391.0,683.3Z" fill="#9a4444"/>
<path d="M389.5,682.2 L391.5,678.9 L391.2,682.2Z" fill="#c8c0c4"/>
<path d="M393.7,683.4 L397.3,677.5 L396.1,683.4Z" fill="#9a4444"/>
<path d="M394.5,682.0 L397.3,677.5 L396.4,682.0Z" fill="#f2eeee"/>
<path d="M374.0,683.5 L376.6,679.1 L376.3,683.5Z" fill="#b86060"/>
<path d="M374.6,682.4 L376.6,679.1 L376.4,682.4Z" fill="#f2eeee"/>
<path d="M421.6,683.5 L426.2,677.2 L423.9,683.5Z" fill="#a85050"/>
<path d="M422.7,682.0 L426.2,677.2 L424.5,682.0Z" fill="#e8e0e0"/>
<path d="M407.6,683.6 L410.7,678.9 L409.5,683.6Z" fill="#9a4444"/>
<path d="M408.4,682.4 L410.7,678.9 L409.8,682.4Z" fill="#f2eeee"/>
<path d="M369.9,684.7 L373.5,678.4 L372.0,684.7Z" fill="#a85050"/>
<path d="M370.7,683.1 L373.5,678.4 L372.4,683.1Z" fill="#f2eeee"/>
<path d="M418.8,684.8 L422.8,679.0 L421.4,684.8Z" fill="#a85050"/>
<path d="M419.7,683.3 L422.8,679.0 L421.8,683.3Z" fill="#f2eeee"/>
<path d="M401.4,684.8 L404.4,680.6 L403.9,684.8Z" fill="#b86060"/>
<path d="M402.0,683.7 L404.4,680.6 L404.1,683.7Z" fill="#e8e0e0"/>
<path d="M360.1,684.8 L364.8,678.5 L362.3,684.8Z" fill="#9a4444"/>
<path d="M361.3,683.3 L364.8,678.5 L363.0,683.3Z" fill="#f2eeee"/>
<path d="M383.2,685.0 L386.4,679.3 L385.1,685.0Z" fill="#b86060"/>
<path d="M383.9,683.6 L386.4,679.3 L385.5,683.6Z" fill="#d0c8cc"/>
<path d="M412.4,685.1 L415.4,679.6 L414.7,685.1Z" fill="#a85050"/>
<path d="M413.1,683.8 L415.4,679.6 L415.0,683.8Z" fill="#e8e0e0"/>
<path d="M357.4,685.2 L359.9,681.0 L359.6,685.2Z" fill="#a85050"/>
<path d="M358.0,684.1 L359.9,681.0 L359.7,684.1Z" fill="#f2eeee"/>
<path d="M405.1,685.2 L408.4,680.0 L407.0,685.2Z" fill="#a85050"/>
<path d="M405.9,683.9 L408.4,680.0 L407.4,683.9Z" fill="#e8e0e0"/>
<path d="M396.1,685.3 L399.7,680.3 L398.6,685.3Z" fill="#b86060"/>
<path d="M396.9,684.0 L399.7,680.3 L399.0,684.0Z" fill="#f2eeee"/>
<path d="M409.6,685.5 L412.4,681.1 L412.0,685.5Z" fill="#9a4444"/>
<path d="M410.2,684.4 L412.4,681.1 L412.2,684.4Z" fill="#f2eeee"/>
<path d="M352.0,685.7 L355.2,679.3 L354.3,685.7Z" fill="#b86060"/>
<path d="M352.7,684.1 L355.2,679.3 L354.5,684.1Z" fill="#f2eeee"/>
<path d="M363.0,685.7 L366.1,680.7 L365.2,685.7Z" fill="#9a4444"/>
<path d="M363.8,684.5 L366.1,680.7 L365.5,684.5Z" fill="#c8c0c4"/>
<path d="M389.3,685.9 L391.9,681.3 L391.5,685.9Z" fill="#9a4444"/>
<path d="M389.9,684.8 L391.9,681.3 L391.7,684.8Z" fill="#d0c8cc"/>
<path d="M372.2,685.9 L375.7,679.7 L374.7,685.9Z" fill="#9a4444"/>
<path d="M373.0,684.4 L375.7,679.7 L375.0,684.4Z" fill="#d0c8cc"/>
<path d="M399.4,686.5 L404.2,680.1 L401.4,686.5Z" fill="#9a4444"/>
<path d="M400.6,684.9 L404.2,680.1 L402.1,684.9Z" fill="#e8e0e0"/>
<path d="M407.0,686.8 L410.6,682.8 L409.5,686.8Z" fill="#9a4444"/>
<path d="M407.9,685.8 L410.6,682.8 L409.8,685.8Z" fill="#e8e0e0"/>
<path d="M379.9,686.9 L383.2,680.7 L382.3,686.9Z" fill="#a85050"/>
<path d="M380.6,685.3 L383.2,680.7 L382.6,685.3Z" fill="#c8c0c4"/>
<path d="M367.6,686.9 L371.2,681.4 L369.5,686.9Z" fill="#b86060"/>
<path d="M368.4,685.5 L371.2,681.4 L370.0,685.5Z" fill="#c8c0c4"/>
<path d="M423.6,687.3 L427.4,680.8 L425.9,687.3Z" fill="#a85050"/>
<path d="M424.5,685.7 L427.4,680.8 L426.3,685.7Z" fill="#e8e0e0"/>
<path d="M384.4,687.6 L388.2,681.8 L386.9,687.6Z" fill="#a85050"/>
<path d="M385.3,686.1 L388.2,681.8 L387.3,686.1Z" fill="#c8c0c4"/>
<path d="M413.2,687.6 L417.2,682.0 L415.7,687.6Z" fill="#a85050"/>
<path d="M414.1,686.2 L417.2,682.0 L416.1,686.2Z" fill="#e8e0e0"/>
<path d="M359.5,687.8 L363.1,681.4 L361.4,687.8Z" fill="#9a4444"/>
<path d="M360.4,686.2 L363.1,681.4 L361.9,686.2Z" fill="#c8c0c4"/>
<path d="M392.1,688.0 L395.3,682.3 L394.3,688.0Z" fill="#a85050"/>
<path d="M392.9,686.6 L395.3,682.3 L394.6,686.6Z" fill="#d0c8cc"/>
<path d="M403.8,688.0 L407.5,683.3 L405.8,688.0Z" fill="#b86060"/>
<path d="M404.7,686.8 L407.5,683.3 L406.3,686.8Z" fill="#f2eeee"/>
<path d="M375.6,688.2 L378.8,682.3 L377.8,688.2Z" fill="#9a4444"/>
<path d="M376.4,686.7 L378.8,682.3 L378.1,686.7Z" fill="#e8e0e0"/>
<path d="M426.8,688.2 L430.5,682.9 L429.0,688.2Z" fill="#a85050"/>
<path d="M427.7,686.9 L430.5,682.9 L429.4,686.9Z" fill="#c8c0c4"/>
<path d="M394.9,688.4 L397.8,683.9 L397.1,688.4Z" fill="#b86060"/>
<path d="M395.5,687.2 L397.8,683.9 L397.4,687.2Z" fill="#c8c0c4"/>
<path d="M417.3,688.4 L421.7,682.3 L419.9,688.4Z" fill="#b86060"/>
<path d="M418.4,686.9 L421.7,682.3 L420.4,686.9Z" fill="#e8e0e0"/>
<path d="M354.7,688.4 L358.6,683.4 L357.1,688.4Z" fill="#9a4444"/>
<path d="M355.6,687.2 L358.6,683.4 L357.5,687.2Z" fill="#e8e0e0"/>
<path d="M411.0,688.6 L414.9,683.2 L413.1,688.6Z" fill="#9a4444"/>
<path d="M411.9,687.2 L414.9,683.2 L413.6,687.2Z" fill="#c8c0c4"/>
<path d="M387.5,688.6 L391.2,682.8 L389.6,688.6Z" fill="#a85050"/>
<path d="M388.4,687.2 L391.2,682.8 L390.1,687.2Z" fill="#c8c0c4"/>
<path d="M362.1,688.9 L365.2,684.2 L363.9,688.9Z" fill="#b86060"/>
<path d="M362.8,687.8 L365.2,684.2 L364.3,687.8Z" fill="#e8e0e0"/>
<path d="M380.6,689.4 L384.4,684.7 L382.8,689.4Z" fill="#b86060"/>
<path d="M381.5,688.2 L384.4,684.7 L383.2,688.2Z" fill="#f2eeee"/>
<path d="M401.3,689.5 L405.5,683.3 L403.6,689.5Z" fill="#b86060"/>
<path d="M402.3,688.0 L405.5,683.3 L404.1,688.0Z" fill="#e8e0e0"/>
<path d="M420.1,689.9 L423.1,684.6 L422.4,689.9Z" fill="#a85050"/>
<path d="M420.8,688.6 L423.1,684.6 L422.6,688.6Z" fill="#d0c8cc"/>
<path d="M372.4,690.0 L375.1,685.8 L374.8,690.0Z" fill="#a85050"/>
<path d="M373.0,688.9 L375.1,685.8 L374.9,688.9Z" fill="#d0c8cc"/>
<path d="M424.4,690.2 L427.8,685.1 L426.9,690.2Z" fill="#b86060"/>
<path d="M425.2,688.9 L427.8,685.1 L427.2,688.9Z" fill="#c8c0c4"/>
<path d="M369.2,690.4 L372.6,684.7 L371.6,690.4Z" fill="#a85050"/>
<path d="M370.0,688.9 L372.6,684.7 L371.9,688.9Z" fill="#c8c0c4"/>
<path d="M385.4,690.4 L389.3,685.4 L387.7,690.4Z" fill="#b86060"/>
<path d="M386.3,689.2 L389.3,685.4 L388.2,689.2Z" fill="#d0c8cc"/>
<path d="M389.9,690.5 L392.5,686.0 L391.7,690.5Z" fill="#9a4444"/>
<path d="M390.5,689.4 L392.5,686.0 L392.0,689.4Z" fill="#e8e0e0"/>
<path d="M415.1,690.5 L418.3,685.5 L417.0,690.5Z" fill="#a85050"/>
<path d="M415.8,689.3 L418.3,685.5 L417.4,689.3Z" fill="#e8e0e0"/>
<path d="M393.2,690.8 L396.2,684.7 L395.5,690.8Z" fill="#a85050"/>
<path d="M393.9,689.3 L396.2,684.7 L395.7,689.3Z" fill="#d0c8cc"/>
<path d="M417.3,691.0 L420.7,685.3 L419.8,691.0Z" fill="#9a4444"/>
<path d="M418.1,689.6 L420.7,685.3 L420.1,689.6Z" fill="#f2eeee"/>
<path d="M357.6,691.0 L361.6,685.1 L359.6,691.0Z" fill="#9a4444"/>
<path d="M358.5,689.5 L361.6,685.1 L360.1,689.5Z" fill="#e8e0e0"/>
<path d="M427.2,691.1 L430.5,685.9 L429.5,691.1Z" fill="#b86060"/>
<path d="M428.0,689.8 L430.5,685.9 L429.8,689.8Z" fill="#e8e0e0"/>
<path d="M364.0,691.1 L367.8,686.1 L366.5,691.1Z" fill="#a85050"/>
<path d="M364.9,689.9 L367.8,686.1 L366.9,689.9Z" fill="#e8e0e0"/>
<path d="M382.9,691.2 L386.7,685.7 L385.1,691.2Z" fill="#a85050"/>
<path d="M383.8,689.8 L386.7,685.7 L385.5,689.8Z" fill="#e8e0e0"/>
<path d="M376.9,691.7 L380.9,685.5 L378.8,691.7Z" fill="#a85050"/>
<path d="M377.9,690.1 L380.9,685.5 L379.4,690.1Z" fill="#c8c0c4"/>
<path d="M398.7,691.8 L402.6,687.1 L400.9,691.8Z" fill="#9a4444"/>
<path d="M399.6,690.6 L402.6,687.1 L401.4,690.6Z" fill="#d0c8cc"/>
<path d="M422.0,691.9 L425.9,686.9 L424.5,691.9Z" fill="#b86060"/>
<path d="M422.9,690.6 L425.9,686.9 L424.9,690.6Z" fill="#e8e0e0"/>
<path d="M395.8,691.9 L398.4,686.8 L397.7,691.9Z" fill="#a85050"/>
<path d="M396.4,690.6 L398.4,686.8 L397.9,690.6Z" fill="#f2eeee"/>
<path d="M410.0,692.1 L414.5,686.5 L412.5,692.1Z" fill="#a85050"/>
<path d="M411.0,690.7 L414.5,686.5 L413.1,690.7Z" fill="#d0c8cc"/>
<path d="M401.6,692.2 L404.5,686.9 L403.7,692.2Z" fill="#b86060"/>
<path d="M402.3,690.8 L404.5,686.9 L403.9,690.8Z" fill="#f2eeee"/>
<path d="M387.3,692.8 L392.2,686.5 L389.7,692.8Z" fill="#a85050"/>
<path d="M388.5,691.3 L392.2,686.5 L390.4,691.3Z" fill="#e8e0e0"/>
<path d="M372.1,693.1 L374.8,689.0 L374.1,693.1Z" fill="#b86060"/>
<path d="M372.7,692.1 L374.8,689.0 L374.4,692.1Z" fill="#d0c8cc"/>
<path d="M390.9,693.2 L393.5,688.0 L392.7,693.2Z" fill="#a85050"/>
<path d="M391.5,691.9 L393.5,688.0 L392.9,691.9Z" fill="#c8c0c4"/>
<path d="M369.1,693.3 L372.2,688.4 L371.1,693.3Z" fill="#b86060"/>
<path d="M369.8,692.1 L372.2,688.4 L371.5,692.1Z" fill="#e8e0e0"/>
<path d="M425.7,693.5 L428.1,689.0 L427.7,693.5Z" fill="#9a4444"/>
<path d="M426.3,692.4 L428.1,689.0 L427.8,692.4Z" fill="#e8e0e0"/>
<path d="M385.0,693.6 L389.0,688.0 L387.0,693.6Z" fill="#b86060"/>
<path d="M385.9,692.2 L389.0,688.0 L387.6,692.2Z" fill="#c8c0c4"/>
<path d="M361.5,693.7 L364.6,688.9 L363.4,693.7Z" fill="#a85050"/>
<path d="M362.3,692.5 L364.6,688.9 L363.7,692.5Z" fill="#f2eeee"/>
<path d="M379.0,693.9 L383.5,688.0 L381.1,693.9Z" fill="#b86060"/>
<path d="M380.1,692.4 L383.5,688.0 L381.8,692.4Z" fill="#e8e0e0"/>
<path d="M405.1,694.0 L408.5,689.1 L407.2,694.0Z" fill="#b86060"/>
<path d="M405.9,692.8 L408.5,689.1 L407.6,692.8Z" fill="#e8e0e0"/>
<path d="M419.7,694.0 L423.6,689.1 L421.7,694.0Z" fill="#b86060"/>
<path d="M420.6,692.8 L423.6,689.1 L422.2,692.8Z" fill="#e8e0e0"/>
<path d="M382.3,694.1 L386.8,688.2 L384.4,694.1Z" fill="#9a4444"/>
<path d="M383.4,692.6 L386.8,688.2 L385.1,692.6Z" fill="#f2eeee"/>
<path d="M415.7,694.2 L419.7,688.7 L418.3,694.2Z" fill="#b86060"/>
<path d="M416.6,692.8 L419.7,688.7 L418.7,692.8Z" fill="#c8c0c4"/>
<path d="M408.1,694.4 L412.1,688.7 L410.5,694.4Z" fill="#9a4444"/>
<path d="M409.0,693.0 L412.1,688.7 L410.9,693.0Z" fill="#d0c8cc"/>
<path d="M422.4,694.5 L425.5,689.6 L424.9,694.5Z" fill="#9a4444"/>
<path d="M423.1,693.3 L425.5,689.6 L425.1,693.3Z" fill="#d0c8cc"/>
<path d="M375.0,694.8 L378.2,690.2 L377.0,694.8Z" fill="#b86060"/>
<path d="M375.7,693.7 L378.2,690.2 L377.3,693.7Z" fill="#c8c0c4"/>
<path d="M394.4,695.0 L397.5,690.5 L396.7,695.0Z" fill="#9a4444"/>
<path d="M395.1,693.9 L397.5,690.5 L396.9,693.9Z" fill="#c8c0c4"/>
<path d="M365.8,695.3 L369.3,690.0 L367.7,695.3Z" fill="#a85050"/>
<path d="M366.7,693.9 L369.3,690.0 L368.2,693.9Z" fill="#f2eeee"/>
<path d="M388.6,695.4 L391.7,690.0 L390.4,695.4Z" fill="#b86060"/>
<path d="M389.3,694.1 L391.7,690.0 L390.8,694.1Z" fill="#e8e0e0"/>
<path d="M401.3,695.8 L404.5,690.9 L403.2,695.8Z" fill="#a85050"/>
<path d="M402.0,694.6 L404.5,690.9 L403.5,694.6Z" fill="#e8e0e0"/>
<path d="M371.2,695.9 L374.9,690.0 L373.4,695.9Z" fill="#b86060"/>
<path d="M372.1,694.4 L374.9,690.0 L373.8,694.4Z" fill="#e8e0e0"/>
<path d="M411.2,695.9 L415.6,689.9 L413.2,695.9Z" fill="#a85050"/>
<path d="M412.2,694.4 L415.6,689.9 L413.8,694.4Z" fill="#d0c8cc"/>
<path d="M398.7,696.5 L402.0,691.8 L400.5,696.5Z" fill="#9a4444"/>
<path d="M399.5,695.3 L402.0,691.8 L400.9,695.3Z" fill="#f2eeee"/>
<path d="M417.6,697.1 L420.2,692.4 L420.0,697.1Z" fill="#b86060"/>
<path d="M418.2,695.9 L420.2,692.4 L420.1,695.9Z" fill="#c8c0c4"/>
<path d="M368.2,697.2 L372.7,690.9 L370.1,697.2Z" fill="#a85050"/>
<path d="M369.3,695.7 L372.7,690.9 L370.8,695.7Z" fill="#d0c8cc"/>
<path d="M415.3,697.4 L418.3,691.2 L417.2,697.4Z" fill="#9a4444"/>
<path d="M416.0,695.8 L418.3,691.2 L417.5,695.8Z" fill="#d0c8cc"/>
<path d="M386.6,697.4 L390.2,691.7 L389.0,697.4Z" fill="#a85050"/>
<path d="M387.5,695.9 L390.2,691.7 L389.3,695.9Z" fill="#c8c0c4"/>
<path d="M392.8,697.4 L396.9,691.1 L394.8,697.4Z" fill="#9a4444"/>
<path d="M393.7,695.9 L396.9,691.1 L395.3,695.9Z" fill="#f2eeee"/>
<path d="M375.6,697.4 L378.6,693.0 L378.0,697.4Z" fill="#9a4444"/>
<path d="M376.3,696.3 L378.6,693.0 L378.2,696.3Z" fill="#f2eeee"/>
<path d="M423.7,697.5 L427.0,693.0 L426.2,697.5Z" fill="#b86060"/>
<path d="M424.5,696.4 L427.0,693.0 L426.4,696.4Z" fill="#e8e0e0"/>
<path d="M382.7,697.7 L386.0,693.5 L385.1,697.7Z" fill="#9a4444"/>
<path d="M383.5,696.7 L386.0,693.5 L385.4,696.7Z" fill="#e8e0e0"/>
<path d="M408.0,698.0 L411.5,691.9 L410.0,698.0Z" fill="#a85050"/>
<path d="M408.8,696.4 L411.5,691.9 L410.5,696.4Z" fill="#d0c8cc"/>
<path d="M379.9,698.3 L383.9,692.8 L381.7,698.3Z" fill="#9a4444"/>
<path d="M380.8,696.9 L383.9,692.8 L382.3,696.9Z" fill="#d0c8cc"/>
<path d="M420.4,698.3 L422.9,693.7 L422.3,698.3Z" fill="#9a4444"/>
<path d="M421.0,697.2 L422.9,693.7 L422.5,697.2Z" fill="#f2eeee"/>
<path d="M390.0,698.6 L393.4,694.4 L392.2,698.6Z" fill="#a85050"/>
<path d="M390.8,697.5 L393.4,694.4 L392.5,697.5Z" fill="#e8e0e0"/>
<path d="M370.3,698.7 L373.6,694.4 L372.6,698.7Z" fill="#a85050"/>
<path d="M371.0,697.6 L373.6,694.4 L372.9,697.6Z" fill="#f2eeee"/>
<path d="M373.5,699.3 L377.0,694.3 L375.9,699.3Z" fill="#9a4444"/>
<path d="M374.3,698.0 L377.0,694.3 L376.3,698.0Z" fill="#f2eeee"/>
<path d="M413.3,699.4 L415.8,695.0 L415.6,699.4Z" fill="#9a4444"/>
<path d="M413.9,698.3 L415.8,695.0 L415.7,698.3Z" fill="#f2eeee"/>
<path d="M403.2,699.9 L407.5,694.5 L405.5,699.9Z" fill="#9a4444"/>
<path d="M404.2,698.5 L407.5,694.5 L406.1,698.5Z" fill="#c8c0c4"/>
<path d="M406.5,700.1 L410.2,695.0 L408.3,700.1Z" fill="#9a4444"/>
<path d="M407.4,698.8 L410.2,695.0 L408.8,698.8Z" fill="#c8c0c4"/>
<path d="M393.4,700.2 L396.2,695.3 L395.5,700.2Z" fill="#a85050"/>
<path d="M394.0,699.0 L396.2,695.3 L395.7,699.0Z" fill="#f2eeee"/>
<path d="M399.0,700.7 L402.2,694.8 L401.0,700.7Z" fill="#9a4444"/>
<path d="M399.8,699.2 L402.2,694.8 L401.4,699.2Z" fill="#c8c0c4"/>
<path d="M380.7,700.7 L384.8,695.2 L382.9,700.7Z" fill="#a85050"/>
<path d="M381.6,699.3 L384.8,695.2 L383.5,699.3Z" fill="#c8c0c4"/>
<path d="M387.5,700.7 L390.8,694.4 L389.4,700.7Z" fill="#a85050"/>
<path d="M388.3,699.1 L390.8,694.4 L389.8,699.1Z" fill="#e8e0e0"/>
<path d="M375.7,701.0 L378.4,695.6 L377.7,701.0Z" fill="#b86060"/>
<path d="M376.3,699.7 L378.4,695.6 L377.9,699.7Z" fill="#c8c0c4"/>
<path d="M395.5,701.3 L399.9,694.9 L398.0,701.3Z" fill="#a85050"/>
<path d="M396.5,699.7 L399.9,694.9 L398.5,699.7Z" fill="#e8e0e0"/>
<path d="M419.5,701.4 L422.6,696.4 L421.5,701.4Z" fill="#a85050"/>
<path d="M420.2,700.2 L422.6,696.4 L421.8,700.2Z" fill="#c8c0c4"/>
<path d="M390.0,702.4 L392.5,698.1 L392.1,702.4Z" fill="#b86060"/>
<path d="M390.5,701.3 L392.5,698.1 L392.2,701.3Z" fill="#e8e0e0"/>
<path d="M410.0,702.4 L412.7,697.5 L411.9,702.4Z" fill="#9a4444"/>
<path d="M410.6,701.2 L412.7,697.5 L412.1,701.2Z" fill="#c8c0c4"/>
<path d="M416.1,702.4 L420.0,696.4 L418.3,702.4Z" fill="#9a4444"/>
<path d="M417.0,700.9 L420.0,696.4 L418.8,700.9Z" fill="#d0c8cc"/>
<path d="M385.2,703.0 L389.6,696.6 L387.6,703.0Z" fill="#9a4444"/>
<path d="M386.2,701.4 L389.6,696.6 L388.1,701.4Z" fill="#d0c8cc"/>
<path d="M402.4,703.1 L406.3,698.4 L404.8,703.1Z" fill="#9a4444"/>
<path d="M403.3,701.9 L406.3,698.4 L405.2,701.9Z" fill="#e8e0e0"/>
<path d="M382.4,703.7 L385.9,698.9 L384.5,703.7Z" fill="#b86060"/>
<path d="M383.2,702.5 L385.9,698.9 L384.9,702.5Z" fill="#f2eeee"/>
<path d="M405.8,703.8 L409.3,699.5 L408.0,703.8Z" fill="#9a4444"/>
<path d="M406.6,702.7 L409.3,699.5 L408.4,702.7Z" fill="#e8e0e0"/>
<path d="M413.0,704.2 L416.1,699.8 L415.0,704.2Z" fill="#b86060"/>
<path d="M413.7,703.1 L416.1,699.8 L415.3,703.1Z" fill="#d0c8cc"/>
<path d="M391.5,704.5 L395.8,698.1 L393.9,704.5Z" fill="#9a4444"/>
<path d="M392.5,702.9 L395.8,698.1 L394.5,702.9Z" fill="#d0c8cc"/>
<path d="M399.5,704.6 L403.2,699.4 L401.4,704.6Z" fill="#b86060"/>
<path d="M400.3,703.3 L403.2,699.4 L401.9,703.3Z" fill="#d0c8cc"/>
<path d="M409.2,705.0 L413.4,699.2 L411.5,705.0Z" fill="#a85050"/>
<path d="M410.2,703.5 L413.4,699.2 L412.0,703.5Z" fill="#f2eeee"/>
<path d="M396.8,705.8 L400.4,700.9 L399.1,705.8Z" fill="#9a4444"/>
<path d="M397.7,704.6 L400.4,700.9 L399.5,704.6Z" fill="#f2eeee"/>
<path d="M401.8,706.1 L404.6,702.0 L403.7,706.1Z" fill="#b86060"/>
<path d="M402.4,705.1 L404.6,702.0 L404.0,705.1Z" fill="#d0c8cc"/>
<path d="M394.2,706.2 L397.3,701.1 L396.2,706.2Z" fill="#9a4444"/>
<path d="M395.0,704.9 L397.3,701.1 L396.5,704.9Z" fill="#f2eeee"/>
  <path d="M301,667 C305,662 314,659 324,658 C334,658 344,663 350,672 C356,684 362,694 366,702 L360,706 C352,700 344,694 336,692 C326,690 316,690 302,690 Z" fill="#c7685e"/>
  <path d="M301,686 C312,688 324,689 334,692 C344,695 354,702 362,710 L358,713 C350,706 341,700 332,697 C322,694 312,693 301,692Z" fill="#e8d6a0"/>
  
  <path d="M304,684 C304,672 310,664 318,664 C326,664 330,672 328,682" stroke="#5a1e1e" stroke-width="1.4" fill="none"/>
  <path d="M302,670 C306,662 316,660 324,662 C332,664 336,670 336,676" stroke="#b84848" stroke-width="3" fill="none"/>
  <path d="M328,688 C328,678 334,670 342,671 C350,672 354,680 352,690" stroke="#5a1e1e" stroke-width="1.4" fill="none"/>
  <path d="M326,678 C330,670 340,668 348,670 C356,674 360,682 360,690" stroke="#b84848" stroke-width="3" fill="none"/>
  <path d="M404,664 C408,660 415,660 418,664 C414,666 408,666 404,664Z" fill="#6a2a28"/>
  <path d="M355,650 C358,645 366,645 368,650 C364,652 358,652 355,650Z" fill="#6a2a28"/>
  
</g>


<!-- EYE -->
<defs>
  <pattern id="fat" width="4" height="4" patternUnits="userSpaceOnUse">
    <rect width="4" height="4" fill="#f0cc5e"/>
    <circle cx="1" cy="1" r="0.9" fill="#f8e4a0"/>
    <circle cx="3" cy="3" r="0.9" fill="#e4b84c"/>
  </pattern>
  <pattern id="gdots" width="5" height="3" patternUnits="userSpaceOnUse">
    <rect width="5" height="3" fill="#eeeaa6"/>
    <ellipse cx="1.5" cy="1.5" rx="1.1" ry="0.6" fill="#3d6b4e"/>
    <ellipse cx="4" cy="0.5" rx="0.8" ry="0.5" fill="#5c8a5e"/>
  </pattern>
  <clipPath id="eyeR"><rect x="199.5" y="760" width="100" height="140"/></clipPath>
</defs>
<g id="eye">
  <!-- orbit fat region -->
  <path d="M150,749 L220,756 L288,764 L288,919 L200,921 C190,905 184,885 178,870 L176,858 C170,852 160,850 152,851 L160,845 L163,800 C162,785 158,770 150,749Z" fill="url(#fat)"/>
  <!-- top band with green dots -->
  <path d="M151,748 L160,747 C175,752 200,755 230,758 C255,760 275,762 288,764 L288,776 C270,772 250,770 228,770 C205,770 185,770 172,768 C165,762 158,755 151,748Z" fill="url(#gdots)"/>
  <!-- bottom band -->
  <path d="M196,905 C215,900 240,898 262,897 C272,897 282,898 288,899 L288,920 L201,921 C199,915 197,910 196,905Z" fill="url(#gdots)"/>
  <!-- blue fascia -->
  <path d="M149,747 C156,756 162,764 168,770 C180,772 205,771 230,771 C255,771 275,773 288,776" stroke="#3a8ad6" stroke-width="2.2" fill="none"/>
  <path d="M168,770 C165,782 163,795 161,808" stroke="#3a8ad6" stroke-width="2" fill="none"/>
  <path d="M183,892 C198,895 220,896 245,895 C265,894 280,894 288,895" stroke="#3a8ad6" stroke-width="2.2" fill="none"/>
  <path d="M183,892 C190,900 194,910 197,920" stroke="#3a8ad6" stroke-width="1.6" fill="none"/>
  <!-- muscles -->
  
  <path d="M200,874 C225,884 255,886 288,880 L288,888 C255,893 225,890 205,880Z" fill="#c8643a"/>
  <path d="M230,874 C245,878 262,878 278,874 L280,880 C262,884 245,884 232,880Z" fill="#a84a2a"/>
  <!-- eyeball -->
  <path d="M192,776 C220,766 255,766 288,772 L288,778 C255,772 222,773 196,782Z" fill="#b4532e"/>
  <path d="M200,786 C228,778 262,780 288,786 L288,794 C262,788 232,786 206,792Z" fill="#b4532e"/>
  <ellipse cx="224" cy="830" rx="58" ry="54" fill="#7fb4bc"/>
  <ellipse cx="224" cy="830" rx="55" ry="51" fill="#a9d1d2"/>
  <ellipse cx="224" cy="830" rx="52.5" ry="48.5" fill="#d4e6e8"/>
  <ellipse cx="224" cy="830" rx="52.5" ry="48.5" fill="#cf6234" clip-path="url(#eyeR)"/>
  <ellipse cx="224.5" cy="830" rx="50.5" ry="46.5" fill="#e9a88e" clip-path="url(#eyeR)"/>
  <ellipse cx="225" cy="830" rx="49" ry="45.5" fill="#c5d5ef" clip-path="url(#eyeR)"/>
  <path d="M169,830 C169,806 182,791 200,785 L200,876 C182,869 169,854 169,830Z" fill="#ffffff"/>
  <path d="M172,830 C172,809 184,795 199,789" stroke="#a9d1d2" stroke-width="0.8" fill="none"/>
  <path d="M270,830 L288,831 L288,840 L270,839Z" fill="#b3cad0"/>
  <path d="M270,830 L288,831 M270,839 L288,840" stroke="#6d9aa6" stroke-width="0.8"/>
  <!-- iris & ciliary -->
  <path d="M194,802 C197,797 200,794 203,792 L204,811 L198,812 C196,809 195,805 194,802Z" fill="#c6603a"/>
  <path d="M194,860 C197,865 200,868 203,870 L204,851 L198,850 C196,853 195,857 194,860Z" fill="#c6603a"/>
  <!-- lens -->
  <ellipse cx="196.5" cy="832" rx="7.5" ry="18.5" fill="#d6e6d4" stroke="#b8ccb8" stroke-width="0.6"/>
  <!-- upper lid -->
  <path d="M136,751 C140,762 146,775 149,786 C146,800 142,815 141,828 C141,836 143,843 147,848 L157,846 C160,838 162,826 162,812 L164,795 C160,780 155,765 149,750 Z" fill="#e0a24c"/>
  <path d="M136,751 C140,762 146,775 149,786 C146,800 142,815 141,828 C141,836 143,843 147,848" stroke="#c0562e" stroke-width="2.4" fill="none"/>
  <path d="M141,754 C145,765 150,777 153,788 C150,802 147,815 146,828 C146,836 147,842 150,846" stroke="#b24a2a" stroke-width="1.6" stroke-dasharray="1.5 0.8" fill="none"/>
  <path d="M145,752 C149,764 154,777 157,790 C155,803 152,816 151,830" stroke="#f2d068" stroke-width="2" fill="none"/>
  <path d="M150,846 C150,836 153,826 157,818 L160,820 C157,830 155,840 153,848Z" fill="#6a4ab0"/>
  <!-- lower lid -->
  <path d="M150,853 C156,848 167,848 175,853 C181,858 185,866 187,876 C189,889 191,904 192,920 L166,920 C165,905 164,893 162,884 C158,872 153,862 150,853 Z" fill="#e9bb4e"/>
  <path d="M150,853 C153,862 158,872 162,884 C164,893 165,905 166,920" stroke="#c0562e" stroke-width="2.2" fill="none"/>
  <path d="M158,858 C164,868 169,880 172,892 C174,902 175,912 176,920" stroke="#a8481e" stroke-width="2.6" stroke-dasharray="1.6 0.8" fill="none"/>
  <path d="M163,856 C170,864 176,876 179,888 C181,900 182,910 183,920" stroke="#f4d870" stroke-width="1.6" fill="none"/>
  <path d="M153,853 C158,850 166,851 171,856 L168,858 C163,855 158,854 153,853Z" fill="#6a4ab0"/>
  <path d="M176,856 C180,858 184,862 186,866 L183,868Z" fill="#ffffff"/>
  <!-- small vessels in fat -->
  <g fill="#2e6a5a"><ellipse cx="180" cy="762" rx="2" ry="1.2"/><ellipse cx="204" cy="776" rx="2.5" ry="1.3"/><ellipse cx="216" cy="897" rx="2" ry="1.2"/></g>
  <g fill="#a84a2a"><ellipse cx="193" cy="763" rx="1.6" ry="1"/><ellipse cx="227" cy="899" rx="1.6" ry="1"/></g>
</g>


<!-- SKIN -->
<defs>
  <pattern id="fatY" width="5" height="5" patternUnits="userSpaceOnUse">
    <rect width="5" height="5" fill="#d6cc5c"/>
    <circle cx="1.3" cy="1.3" r="1.1" fill="#e6dc78"/>
    <circle cx="3.8" cy="3.7" r="1.1" fill="#e2d66c"/>
  </pattern>
  <pattern id="derm" width="4" height="4" patternUnits="userSpaceOnUse">
    <rect width="4" height="4" fill="#cf6a6c"/>
    <circle cx="1" cy="1" r="0.6" fill="#e6a4a4"/>
    <circle cx="3" cy="3" r="0.5" fill="#dc9090"/>
  </pattern>
  <pattern id="mus" width="6" height="3" patternUnits="userSpaceOnUse">
    <rect width="6" height="3" fill="#b04a38"/>
    <line x1="0" y1="0.5" x2="6" y2="0.5" stroke="#d08068" stroke-width="0.6"/>
  </pattern>
</defs>
<g id="skin">
  <!-- right face -->
  <path d="M531,785 L574,758 L575,902 L531,928 Z" fill="#e4bc78"/>
  <path d="M531,785 L574,758 L575,772 L531,802 Z" fill="#c0505c"/>
  <path d="M531,802 L575,772 L575,786 C568,790 563,800 558,796 C553,792 550,806 545,800 C540,795 536,808 531,810Z" fill="#c0505c"/>
  <path d="M531,862 L575,838 L575,888 L531,911 Z" fill="url(#fatY)"/>
  <path d="M531,911 L575,888 L575,902 L531,928 Z" fill="url(#mus)"/>
  <path d="M531,785 L531,928" stroke="#b07a40" stroke-width="0.6"/>
  <!-- front face -->
  <path d="M440,768 L531,785 L531,928 L441,926 Z" fill="#ecca8c"/>
  <path d="M440,772 C455,774 470,776 485,778 C492,785 498,790 505,785 C512,781 520,783 531,787 L531,812 C525,800 520,805 516,812 C510,800 505,802 500,812 C495,800 490,803 484,812 C478,800 470,802 466,810 C460,800 454,803 450,810 C446,802 443,803 440,806 Z" fill="url(#derm)"/>
  <path d="M441,866 L531,862 L531,912 L441,912 Z" fill="url(#fatY)"/>
  <path d="M441,911 L531,911 L531,928 L441,926 Z" fill="url(#mus)"/>
  <!-- epidermis band -->
  <path d="M440,767 C455,769 470,772 484,775 C490,782 497,789 505,783 C512,779 520,781 531,785 L531,789 C520,785 512,783 505,787 C497,793 489,787 484,779 C470,776 455,773 440,771Z" fill="#b49a3e"/>
  <path d="M531,785 L574,758 L574,762 L531,789Z" fill="#b49a3e"/>
  <!-- top face -->
  <path d="M440,767 L461,751 C490,748 530,752 574,758 L531,785 C520,781 512,779 505,783 C497,789 490,782 484,775 C470,772 455,769 440,767Z" fill="#ecc8bc"/>
  <g fill="#a86a6a"><circle cx="466" cy="759" r="0.9"/><circle cx="490" cy="763" r="0.9"/><circle cx="515" cy="767" r="0.9"/><circle cx="548" cy="764" r="0.9"/><circle cx="476" cy="768" r="0.8"/><circle cx="530" cy="760" r="0.8"/></g>
  <!-- hairs -->
  <g stroke="#4a4a4a" stroke-width="0.9" fill="none">
    <path d="M480,742 C474,755 470,775 468,800"/>
    <path d="M510,742 C507,748 505,752 504,757"/>
    <path d="M528,742 C520,752 515,765 514,775"/>
    <path d="M563,742 C559,748 555,755 552,761"/>
  </g>
  <!-- hair follicle -->
  <path d="M458,818 C460,810 476,810 478,818 L478,875 C476,880 460,880 458,875Z" fill="#8a3a3a"/>
  <path d="M463,820 L473,820 L473,872 L463,872Z" fill="#a84a48"/>
  <g stroke="#e8c0a0" stroke-width="0.6"><line x1="463" y1="828" x2="473" y2="828"/><line x1="463" y1="834" x2="473" y2="834"/><line x1="463" y1="840" x2="473" y2="840"/></g>
  <path d="M452,806 C448,815 450,825 458,828 L460,815Z M484,806 C490,815 488,825 478,828 L476,815Z" fill="#a84040"/>
  <path d="M452,802 C456,798 462,800 464,806 L458,812 C454,810 452,806 452,802Z M476,806 C478,800 484,798 488,802 C488,806 486,810 482,812Z" fill="#c8c040"/>
  <path d="M466,872 C470,880 474,880 478,872 L476,880 C472,888 466,886 464,880Z" fill="#e0a040"/>
  <!-- diagonal brown muscle (arrector) -->
  <path d="M460,868 C480,855 505,835 520,812 L525,815 C510,840 485,862 465,876Z" fill="#9a4830"/>
  <!-- nerve branches -->
  <g stroke="#b4ae90" stroke-width="2" fill="none" stroke-linecap="round">
    <path d="M446,900 C460,880 475,870 495,862 C510,856 520,850 530,845"/>
    <path d="M470,878 C468,860 460,845 452,835"/>
    <path d="M495,862 C498,850 505,840 512,832"/>
    <path d="M512,858 C515,848 520,840 526,835"/>
    <path d="M548,850 C545,835 542,820 538,810"/>
    <path d="M548,850 C556,840 564,832 572,826"/>
    <path d="M560,865 C556,850 556,835 560,822"/>
    <path d="M452,890 C447,875 446,860 448,845"/>
  </g>
  <!-- extra nerves -->
<clipPath id="skinclip"><path d="M441,800 L531,808 L531,870 L441,870Z M531,800 L575,775 L575,855 L531,870Z"/></clipPath>
<g clip-path="url(#skinclip)"><g stroke="#bcb592" fill="none" stroke-linecap="round" opacity="0.95">
<path d="M448.5,866.0 Q447.1,857.4 443.1,849.0" stroke-width="2.0"/>
<path d="M443.1,849.0 Q442.1,842.7 442.6,837.6" stroke-width="1.4"/>
<path d="M442.6,837.6 Q445.0,832.8 444.6,830.5" stroke-width="1.0"/>
<path d="M444.6,830.5 Q444.9,827.9 443.5,826.1" stroke-width="0.7"/>
<path d="M444.6,830.5 Q443.5,826.9 443.5,825.6" stroke-width="0.7"/>
<path d="M442.6,837.6 Q441.6,833.5 441.0,830.0" stroke-width="1.0"/>
<path d="M441.0,830.0 Q441.0,827.8 441.3,825.4" stroke-width="0.7"/>
<path d="M441.0,830.0 Q439.3,826.7 440.5,825.2" stroke-width="0.7"/>
<path d="M443.1,849.0 Q439.8,843.4 436.6,837.8" stroke-width="1.4"/>
<path d="M436.6,837.8 Q438.1,834.1 437.3,829.2" stroke-width="1.0"/>
<path d="M437.3,829.2 Q437.0,825.4 439.2,824.4" stroke-width="0.7"/>
<path d="M437.3,829.2 Q436.5,827.4 434.0,823.7" stroke-width="0.7"/>
<path d="M436.6,837.8 Q435.7,833.9 435.2,827.8" stroke-width="1.0"/>
<path d="M435.2,827.8 Q433.7,824.3 429.9,821.8" stroke-width="0.7"/>
<path d="M435.2,827.8 Q433.7,824.4 430.2,823.4" stroke-width="0.7"/>
<path d="M464.9,866.0 Q466.4,860.1 470.3,853.2" stroke-width="2.0"/>
<path d="M470.3,853.2 Q474.3,852.1 477.5,848.8" stroke-width="1.4"/>
<path d="M477.5,848.8 Q480.8,846.3 482.4,845.4" stroke-width="1.0"/>
<path d="M482.4,845.4 Q483.7,843.6 484.8,841.7" stroke-width="0.7"/>
<path d="M482.4,845.4 Q483.1,844.5 486.4,845.4" stroke-width="0.7"/>
<path d="M477.5,848.8 Q480.1,847.4 481.7,844.8" stroke-width="1.0"/>
<path d="M481.7,844.8 Q483.9,844.1 485.2,843.1" stroke-width="0.7"/>
<path d="M481.7,844.8 Q483.2,844.0 485.1,843.4" stroke-width="0.7"/>
<path d="M470.3,853.2 Q474.2,849.1 477.1,846.4" stroke-width="1.4"/>
<path d="M477.1,846.4 Q481.3,844.7 483.9,843.1" stroke-width="1.0"/>
<path d="M483.9,843.1 Q485.4,843.8 489.5,845.0" stroke-width="0.7"/>
<path d="M483.9,843.1 Q485.5,843.6 489.7,842.8" stroke-width="0.7"/>
<path d="M477.1,846.4 Q480.8,844.4 483.2,844.5" stroke-width="1.0"/>
<path d="M483.2,844.5 Q484.6,843.8 487.5,844.6" stroke-width="0.7"/>
<path d="M483.2,844.5 Q485.3,843.3 486.0,841.6" stroke-width="0.7"/>
<path d="M476.1,866.0 Q477.5,857.9 476.4,849.7" stroke-width="2.0"/>
<path d="M476.4,849.7 Q475.3,843.9 471.6,839.0" stroke-width="1.4"/>
<path d="M471.6,839.0 Q473.1,834.6 474.1,830.2" stroke-width="1.0"/>
<path d="M474.1,830.2 Q471.8,827.9 472.2,824.8" stroke-width="0.7"/>
<path d="M474.1,830.2 Q473.1,826.7 474.7,824.5" stroke-width="0.7"/>
<path d="M471.6,839.0 Q471.5,834.0 471.1,831.1" stroke-width="1.0"/>
<path d="M471.1,831.1 Q473.4,829.7 474.1,825.7" stroke-width="0.7"/>
<path d="M471.1,831.1 Q469.8,827.6 470.6,826.1" stroke-width="0.7"/>
<path d="M476.4,849.7 Q479.4,844.1 480.7,840.2" stroke-width="1.4"/>
<path d="M480.7,840.2 Q483.3,836.3 483.5,834.6" stroke-width="1.0"/>
<path d="M483.5,834.6 Q485.3,833.3 486.2,830.8" stroke-width="0.7"/>
<path d="M483.5,834.6 Q484.5,834.3 488.1,833.0" stroke-width="0.7"/>
<path d="M480.7,840.2 Q478.1,835.0 478.3,832.4" stroke-width="1.0"/>
<path d="M478.3,832.4 Q477.4,832.2 473.7,830.1" stroke-width="0.7"/>
<path d="M478.3,832.4 Q479.8,830.4 478.6,827.1" stroke-width="0.7"/>
<path d="M494.1,866.0 Q493.8,858.3 493.9,848.5" stroke-width="2.0"/>
<path d="M493.9,848.5 Q490.4,842.4 485.6,839.3" stroke-width="1.4"/>
<path d="M485.6,839.3 Q484.3,836.0 482.2,831.9" stroke-width="1.0"/>
<path d="M482.2,831.9 Q478.8,829.1 476.8,828.5" stroke-width="0.7"/>
<path d="M482.2,831.9 Q480.9,830.4 477.2,829.1" stroke-width="0.7"/>
<path d="M485.6,839.3 Q485.3,835.4 482.9,830.1" stroke-width="1.0"/>
<path d="M482.9,830.1 Q482.6,827.3 480.9,822.8" stroke-width="0.7"/>
<path d="M482.9,830.1 Q480.8,828.7 477.5,827.1" stroke-width="0.7"/>
<path d="M493.9,848.5 Q498.8,842.7 502.4,839.4" stroke-width="1.4"/>
<path d="M502.4,839.4 Q504.2,833.9 504.0,830.7" stroke-width="1.0"/>
<path d="M504.0,830.7 Q502.3,826.8 501.7,825.0" stroke-width="0.7"/>
<path d="M504.0,830.7 Q505.0,829.1 507.4,826.4" stroke-width="0.7"/>
<path d="M502.4,839.4 Q506.9,839.9 510.1,837.9" stroke-width="1.0"/>
<path d="M510.1,837.9 Q512.1,837.0 515.1,834.4" stroke-width="0.7"/>
<path d="M510.1,837.9 Q512.0,835.9 515.1,835.3" stroke-width="0.7"/>
<path d="M509.3,866.0 Q506.1,861.6 503.3,854.8" stroke-width="2.0"/>
<path d="M503.3,854.8 Q503.6,852.0 504.2,846.7" stroke-width="1.4"/>
<path d="M504.2,846.7 Q503.1,844.8 502.5,841.9" stroke-width="1.0"/>
<path d="M502.5,841.9 Q501.5,839.0 503.4,838.0" stroke-width="0.7"/>
<path d="M502.5,841.9 Q502.7,839.2 501.8,838.2" stroke-width="0.7"/>
<path d="M504.2,846.7 Q502.8,845.0 502.2,842.1" stroke-width="1.0"/>
<path d="M502.2,842.1 Q501.8,841.4 499.2,839.6" stroke-width="0.7"/>
<path d="M502.2,842.1 Q501.8,839.5 500.7,838.6" stroke-width="0.7"/>
<path d="M503.3,854.8 Q503.1,851.0 502.1,847.3" stroke-width="1.4"/>
<path d="M502.1,847.3 Q503.1,846.2 503.7,842.3" stroke-width="1.0"/>
<path d="M503.7,842.3 Q502.8,839.9 502.2,838.7" stroke-width="0.7"/>
<path d="M503.7,842.3 Q504.6,842.3 506.8,840.5" stroke-width="0.7"/>
<path d="M502.1,847.3 Q499.9,845.2 498.2,844.3" stroke-width="1.0"/>
<path d="M498.2,844.3 Q497.2,843.5 494.8,843.3" stroke-width="0.7"/>
<path d="M498.2,844.3 Q497.5,843.7 494.9,844.7" stroke-width="0.7"/>
<path d="M519.5,866.0 Q518.3,858.7 520.0,853.1" stroke-width="2.0"/>
<path d="M520.0,853.1 Q521.0,849.1 523.2,844.6" stroke-width="1.4"/>
<path d="M523.2,844.6 Q521.1,842.6 521.4,838.8" stroke-width="1.0"/>
<path d="M521.4,838.8 Q519.8,836.5 519.3,834.8" stroke-width="0.7"/>
<path d="M521.4,838.8 Q518.3,837.7 518.1,836.6" stroke-width="0.7"/>
<path d="M523.2,844.6 Q524.2,842.5 523.3,837.7" stroke-width="1.0"/>
<path d="M523.3,837.7 Q524.3,834.6 523.1,832.4" stroke-width="0.7"/>
<path d="M523.3,837.7 Q524.7,834.7 524.8,833.0" stroke-width="0.7"/>
<path d="M520.0,853.1 Q520.2,848.5 523.1,845.9" stroke-width="1.4"/>
<path d="M523.1,845.9 Q526.3,844.7 526.8,841.3" stroke-width="1.0"/>
<path d="M526.8,841.3 Q525.9,839.1 527.5,837.6" stroke-width="0.7"/>
<path d="M526.8,841.3 Q529.7,840.4 531.0,839.4" stroke-width="0.7"/>
<path d="M523.1,845.9 Q524.8,844.4 528.0,842.6" stroke-width="1.0"/>
<path d="M528.0,842.6 Q528.2,841.3 530.8,840.4" stroke-width="0.7"/>
<path d="M528.0,842.6 Q528.5,841.6 532.0,841.6" stroke-width="0.7"/>
<path d="M540.0,850.0 Q540.8,842.9 541.6,835.5" stroke-width="1.8"/>
<path d="M541.6,835.5 Q540.0,831.7 536.2,825.8" stroke-width="1.3"/>
<path d="M536.2,825.8 Q535.3,820.8 535.6,818.6" stroke-width="0.9"/>
<path d="M535.6,818.6 Q538.0,816.3 537.7,813.4" stroke-width="0.7"/>
<path d="M535.6,818.6 Q537.7,816.5 538.5,813.6" stroke-width="0.7"/>
<path d="M536.2,825.8 Q536.8,822.8 536.1,819.0" stroke-width="0.9"/>
<path d="M536.1,819.0 Q534.0,818.0 533.2,815.2" stroke-width="0.7"/>
<path d="M536.1,819.0 Q537.1,816.0 535.5,814.1" stroke-width="0.7"/>
<path d="M541.6,835.5 Q544.4,829.8 545.4,825.9" stroke-width="1.3"/>
<path d="M545.4,825.9 Q547.7,823.8 550.2,821.4" stroke-width="0.9"/>
<path d="M550.2,821.4 Q551.7,819.5 553.4,818.9" stroke-width="0.7"/>
<path d="M550.2,821.4 Q553.9,819.4 554.9,819.2" stroke-width="0.7"/>
<path d="M545.4,825.9 Q548.6,824.1 548.9,819.6" stroke-width="0.9"/>
<path d="M548.9,819.6 Q551.7,817.0 552.9,817.1" stroke-width="0.7"/>
<path d="M548.9,819.6 Q552.0,817.1 552.5,816.5" stroke-width="0.7"/>
<path d="M552.0,850.0 Q555.1,844.3 556.5,836.0" stroke-width="1.8"/>
<path d="M556.5,836.0 Q554.1,830.6 553.0,827.5" stroke-width="1.3"/>
<path d="M553.0,827.5 Q551.0,824.2 551.0,821.0" stroke-width="0.9"/>
<path d="M551.0,821.0 Q548.9,818.7 548.3,817.9" stroke-width="0.7"/>
<path d="M551.0,821.0 Q549.0,820.0 549.2,816.4" stroke-width="0.7"/>
<path d="M553.0,827.5 Q553.3,825.6 554.5,821.0" stroke-width="0.9"/>
<path d="M554.5,821.0 Q554.2,817.7 552.9,816.0" stroke-width="0.7"/>
<path d="M554.5,821.0 Q553.5,820.4 552.7,817.1" stroke-width="0.7"/>
<path d="M556.5,836.0 Q560.9,832.9 562.8,829.3" stroke-width="1.3"/>
<path d="M562.8,829.3 Q564.1,826.6 563.7,823.5" stroke-width="0.9"/>
<path d="M563.7,823.5 Q565.5,821.8 567.0,820.5" stroke-width="0.7"/>
<path d="M563.7,823.5 Q561.6,821.5 562.1,820.3" stroke-width="0.7"/>
<path d="M562.8,829.3 Q563.5,825.6 565.3,822.6" stroke-width="0.9"/>
<path d="M565.3,822.6 Q566.4,818.7 567.7,817.5" stroke-width="0.7"/>
<path d="M565.3,822.6 Q565.4,820.0 565.4,818.1" stroke-width="0.7"/>
<path d="M565.0,850.0 Q567.9,842.2 568.2,836.8" stroke-width="1.8"/>
<path d="M568.2,836.8 Q566.3,832.4 564.5,829.2" stroke-width="1.3"/>
<path d="M564.5,829.2 Q563.3,826.3 560.4,826.1" stroke-width="0.9"/>
<path d="M560.4,826.1 Q558.3,824.9 557.7,823.1" stroke-width="0.7"/>
<path d="M560.4,826.1 Q559.0,825.8 557.6,823.5" stroke-width="0.7"/>
<path d="M564.5,829.2 Q563.6,825.3 565.4,823.1" stroke-width="0.9"/>
<path d="M565.4,823.1 Q564.9,822.7 566.6,819.5" stroke-width="0.7"/>
<path d="M565.4,823.1 Q564.1,820.3 565.4,819.2" stroke-width="0.7"/>
<path d="M568.2,836.8 Q567.7,832.5 568.4,826.2" stroke-width="1.3"/>
<path d="M568.4,826.2 Q568.8,821.5 570.5,818.2" stroke-width="0.9"/>
<path d="M570.5,818.2 Q571.4,816.9 571.7,812.9" stroke-width="0.7"/>
<path d="M570.5,818.2 Q570.5,816.6 571.3,813.2" stroke-width="0.7"/>
<path d="M568.4,826.2 Q566.4,823.2 563.8,821.1" stroke-width="0.9"/>
<path d="M563.8,821.1 Q562.6,820.2 559.0,819.2" stroke-width="0.7"/>
<path d="M563.8,821.1 Q563.2,818.5 562.5,816.0" stroke-width="0.7"/>
</g>
</g>
  <!-- vessels -->
  <g stroke="#2f45a6" stroke-width="2.2" fill="none"><path d="M445,886 C460,884 480,880 500,882 C510,883 520,880 530,878"/><path d="M555,868 C548,872 542,876 538,878"/><path d="M505,848 C510,840 515,836 518,830"/></g>
  <g stroke="#b8343a" stroke-width="1.8" fill="none"><path d="M445,890 C462,888 482,885 502,887 C515,888 522,885 530,883"/><path d="M545,870 L560,862"/><path d="M514,850 C518,842 522,836 524,830"/></g>
  <!-- tubes bottom -->
  <ellipse cx="452" cy="902" rx="4.5" ry="5.5" fill="#8a3a38"/><ellipse cx="452" cy="902" rx="2.4" ry="3.2" fill="#e0a8a0"/>
  <ellipse cx="463" cy="903" rx="4.5" ry="5.5" fill="#2e3e9a"/><ellipse cx="463" cy="903" rx="2.4" ry="3.2" fill="#a8b0e0"/>
  <path d="M474,896 L492,895 L492,908 L474,909Z" fill="#bab48c"/><ellipse cx="474" cy="902.5" rx="3" ry="6.5" fill="#d8d4b8"/>
  <ellipse cx="560" cy="886" rx="4" ry="5" fill="#2e3e9a"/><ellipse cx="560" cy="886" rx="2" ry="2.8" fill="#a8b0e0"/>
  <ellipse cx="550" cy="892" rx="4" ry="5" fill="#9a3a38"/><ellipse cx="550" cy="892" rx="2" ry="2.8" fill="#e0a8a0"/>
  <path d="M548,873 L562,871 L562,880 L548,882Z" fill="#bab48c"/>
  <path d="M536,858 L548,855 L548,862 L536,865Z" fill="#2f45a6"/>
  <!-- glands -->
  <ellipse cx="509" cy="828" rx="5" ry="8" fill="#efe8d0" stroke="#b8b090" stroke-width="0.6"/>
  <ellipse cx="550" cy="812" rx="5" ry="7" fill="#efe8d0" stroke="#b8b090" stroke-width="0.6"/>
  <!-- fat cell lines -->
  <g stroke="#f2ecb8" stroke-width="0.7" fill="none"><path d="M478,880 L485,900 L500,905 M510,868 L515,890 L530,895 M541,850 L545,870"/></g>
</g>

<!-- MARROW -->
<g id="marrow">
<path d="M217,168 C218,158 224,150 234,147 C244,144 258,143 268,146 L277,150 C284,160 287,172 290,180 C294,186 300,190 306,192 C310,200 312,210 312,222 C312,236 310,248 306,257 L232,257 C224,256 218,254 216,250 C215,235 215,215 216,195 Z" fill="#f5e3e6"/>
<clipPath id="bmclip"><path d="M217,168 C218,158 224,150 234,147 C244,144 258,143 268,146 L277,150 C284,160 287,172 290,180 C294,186 300,190 306,192 C310,200 312,210 312,222 C312,236 310,248 306,257 L232,257 C224,256 218,254 216,250 C215,235 215,215 216,195 Z"/></clipPath>
<g clip-path="url(#bmclip)">
<circle cx="259.4" cy="207.7" r="2.9" fill="none" stroke="#d8a8bc" stroke-width="0.4"/>
<circle cx="260.7" cy="201.9" r="2.4" fill="none" stroke="#d8a8bc" stroke-width="0.4"/>
<circle cx="233.7" cy="202.3" r="2.4" fill="none" stroke="#d8a8bc" stroke-width="0.4"/>
<circle cx="292.1" cy="155.5" r="2.0" fill="none" stroke="#d8a8bc" stroke-width="0.4"/>
<circle cx="224.7" cy="235.7" r="2.5" fill="none" stroke="#d8a8bc" stroke-width="0.4"/>
<circle cx="220.0" cy="255.0" r="2.9" fill="none" stroke="#d8a8bc" stroke-width="0.4"/>
<circle cx="278.8" cy="213.9" r="1.7" fill="none" stroke="#d8a8bc" stroke-width="0.4"/>
<circle cx="217.4" cy="204.2" r="1.6" fill="none" stroke="#d8a8bc" stroke-width="0.4"/>
<circle cx="234.3" cy="172.1" r="1.5" fill="none" stroke="#d8a8bc" stroke-width="0.4"/>
<circle cx="260.5" cy="194.3" r="2.8" fill="none" stroke="#d8a8bc" stroke-width="0.4"/>
<circle cx="265.8" cy="216.7" r="2.2" fill="none" stroke="#d8a8bc" stroke-width="0.4"/>
<circle cx="279.6" cy="196.2" r="1.9" fill="none" stroke="#d8a8bc" stroke-width="0.4"/>
<circle cx="311.8" cy="256.5" r="2.8" fill="none" stroke="#d8a8bc" stroke-width="0.4"/>
<circle cx="283.9" cy="180.3" r="1.8" fill="none" stroke="#d8a8bc" stroke-width="0.4"/>
<circle cx="243.7" cy="152.9" r="2.6" fill="none" stroke="#d8a8bc" stroke-width="0.4"/>
<circle cx="254.4" cy="239.8" r="2.1" fill="none" stroke="#d8a8bc" stroke-width="0.4"/>
<circle cx="308.0" cy="239.9" r="1.5" fill="none" stroke="#d8a8bc" stroke-width="0.4"/>
<circle cx="236.1" cy="247.0" r="2.2" fill="none" stroke="#d8a8bc" stroke-width="0.4"/>
<circle cx="310.1" cy="189.5" r="1.6" fill="none" stroke="#d8a8bc" stroke-width="0.4"/>
<circle cx="276.4" cy="232.2" r="1.9" fill="none" stroke="#d8a8bc" stroke-width="0.4"/>
<circle cx="224.4" cy="182.2" r="2.9" fill="none" stroke="#d8a8bc" stroke-width="0.4"/>
<circle cx="288.8" cy="158.2" r="1.9" fill="none" stroke="#d8a8bc" stroke-width="0.4"/>
<circle cx="225.7" cy="151.7" r="2.7" fill="none" stroke="#d8a8bc" stroke-width="0.4"/>
<circle cx="233.1" cy="207.6" r="2.2" fill="none" stroke="#d8a8bc" stroke-width="0.4"/>
<circle cx="234.3" cy="227.0" r="1.7" fill="none" stroke="#d8a8bc" stroke-width="0.4"/>
<circle cx="277.8" cy="158.0" r="2.1" fill="none" stroke="#d8a8bc" stroke-width="0.4"/>
<circle cx="236.4" cy="175.2" r="3.0" fill="none" stroke="#d8a8bc" stroke-width="0.4"/>
<circle cx="293.1" cy="179.1" r="2.8" fill="none" stroke="#d8a8bc" stroke-width="0.4"/>
<circle cx="236.2" cy="189.2" r="2.8" fill="none" stroke="#d8a8bc" stroke-width="0.4"/>
<circle cx="277.6" cy="156.2" r="3.0" fill="none" stroke="#d8a8bc" stroke-width="0.4"/>
<circle cx="236.5" cy="173.9" r="2.7" fill="none" stroke="#d8a8bc" stroke-width="0.4"/>
<circle cx="247.6" cy="178.2" r="1.6" fill="none" stroke="#d8a8bc" stroke-width="0.4"/>
<circle cx="224.7" cy="210.3" r="1.9" fill="none" stroke="#d8a8bc" stroke-width="0.4"/>
<circle cx="273.7" cy="186.6" r="2.2" fill="none" stroke="#d8a8bc" stroke-width="0.4"/>
<circle cx="308.1" cy="199.2" r="2.4" fill="none" stroke="#d8a8bc" stroke-width="0.4"/>
<circle cx="299.2" cy="165.5" r="1.7" fill="none" stroke="#d8a8bc" stroke-width="0.4"/>
<circle cx="303.2" cy="236.6" r="1.9" fill="none" stroke="#d8a8bc" stroke-width="0.4"/>
<circle cx="234.2" cy="227.8" r="2.9" fill="none" stroke="#d8a8bc" stroke-width="0.4"/>
<circle cx="234.9" cy="251.4" r="2.8" fill="none" stroke="#d8a8bc" stroke-width="0.4"/>
<circle cx="273.9" cy="192.2" r="1.7" fill="none" stroke="#d8a8bc" stroke-width="0.4"/>
<circle cx="219.7" cy="252.8" r="1.9" fill="none" stroke="#d8a8bc" stroke-width="0.4"/>
<circle cx="283.6" cy="173.8" r="2.7" fill="none" stroke="#d8a8bc" stroke-width="0.4"/>
<circle cx="273.3" cy="177.9" r="1.8" fill="none" stroke="#d8a8bc" stroke-width="0.4"/>
<circle cx="285.2" cy="152.7" r="1.8" fill="none" stroke="#d8a8bc" stroke-width="0.4"/>
<circle cx="269.7" cy="240.5" r="2.4" fill="none" stroke="#d8a8bc" stroke-width="0.4"/>
<circle cx="242.9" cy="247.7" r="1.8" fill="none" stroke="#d8a8bc" stroke-width="0.4"/>
<circle cx="217.6" cy="175.1" r="2.2" fill="none" stroke="#d8a8bc" stroke-width="0.4"/>
<circle cx="221.8" cy="164.7" r="2.1" fill="none" stroke="#d8a8bc" stroke-width="0.4"/>
<circle cx="270.9" cy="159.7" r="2.0" fill="none" stroke="#d8a8bc" stroke-width="0.4"/>
<circle cx="301.5" cy="254.8" r="2.5" fill="none" stroke="#d8a8bc" stroke-width="0.4"/>
<circle cx="282.4" cy="210.5" r="1.7" fill="none" stroke="#d8a8bc" stroke-width="0.4"/>
<circle cx="219.4" cy="147.0" r="2.9" fill="none" stroke="#d8a8bc" stroke-width="0.4"/>
<circle cx="283.3" cy="252.8" r="1.5" fill="none" stroke="#d8a8bc" stroke-width="0.4"/>
<circle cx="277.1" cy="199.0" r="2.6" fill="none" stroke="#d8a8bc" stroke-width="0.4"/>
<circle cx="246.6" cy="256.9" r="1.6" fill="none" stroke="#d8a8bc" stroke-width="0.4"/>
<circle cx="268.4" cy="227.5" r="2.9" fill="none" stroke="#d8a8bc" stroke-width="0.4"/>
<circle cx="286.8" cy="223.8" r="2.7" fill="none" stroke="#d8a8bc" stroke-width="0.4"/>
<circle cx="303.8" cy="184.4" r="2.5" fill="none" stroke="#d8a8bc" stroke-width="0.4"/>
<circle cx="302.5" cy="242.6" r="2.1" fill="none" stroke="#d8a8bc" stroke-width="0.4"/>
<circle cx="291.9" cy="241.7" r="2.4" fill="none" stroke="#d8a8bc" stroke-width="0.4"/>
<circle cx="276.0" cy="187.8" r="2.4" fill="none" stroke="#d8a8bc" stroke-width="0.4"/>
<circle cx="274.5" cy="154.0" r="2.5" fill="none" stroke="#d8a8bc" stroke-width="0.4"/>
<circle cx="311.4" cy="243.5" r="2.6" fill="none" stroke="#d8a8bc" stroke-width="0.4"/>
<circle cx="253.3" cy="227.3" r="2.4" fill="none" stroke="#d8a8bc" stroke-width="0.4"/>
<circle cx="258.3" cy="238.9" r="1.6" fill="none" stroke="#d8a8bc" stroke-width="0.4"/>
<circle cx="288.0" cy="148.3" r="2.4" fill="none" stroke="#d8a8bc" stroke-width="0.4"/>
<circle cx="262.2" cy="170.8" r="2.5" fill="none" stroke="#d8a8bc" stroke-width="0.4"/>
<circle cx="263.7" cy="213.8" r="2.9" fill="none" stroke="#d8a8bc" stroke-width="0.4"/>
<circle cx="240.6" cy="146.3" r="2.0" fill="none" stroke="#d8a8bc" stroke-width="0.4"/>
<circle cx="281.1" cy="167.7" r="1.8" fill="none" stroke="#d8a8bc" stroke-width="0.4"/>
<ellipse cx="273.5" cy="226" rx="41" ry="15" transform="rotate(-47 273.5 226)" fill="#fbefee" stroke="#c898b0" stroke-width="0.7"/>
<ellipse cx="260.2" cy="236.3" rx="1.5" ry="1.0" fill="#b8463a" transform="rotate(51 260.2 236.3)"/>
<ellipse cx="279.9" cy="209.4" rx="1.2" ry="0.8" fill="#b8463a" transform="rotate(10 279.9 209.4)"/>
<ellipse cx="283.2" cy="223.0" rx="1.5" ry="1.0" fill="#d0604c" transform="rotate(159 283.2 223.0)"/>
<ellipse cx="278.9" cy="208.8" rx="1.1" ry="0.8" fill="#c85848" transform="rotate(116 278.9 208.8)"/>
<ellipse cx="249.6" cy="244.2" rx="1.2" ry="0.8" fill="#d0604c" transform="rotate(12 249.6 244.2)"/>
<ellipse cx="284.3" cy="213.4" rx="1.5" ry="0.8" fill="#c4503e" transform="rotate(121 284.3 213.4)"/>
<ellipse cx="254.7" cy="240.0" rx="1.4" ry="0.7" fill="#a83e34" transform="rotate(57 254.7 240.0)"/>
<ellipse cx="288.7" cy="225.1" rx="1.7" ry="0.8" fill="#c85848" transform="rotate(179 288.7 225.1)"/>
<ellipse cx="264.0" cy="228.8" rx="1.6" ry="1.1" fill="#c85848" transform="rotate(118 264.0 228.8)"/>
<ellipse cx="251.8" cy="251.8" rx="1.6" ry="0.8" fill="#a83e34" transform="rotate(85 251.8 251.8)"/>
<ellipse cx="287.2" cy="218.9" rx="1.4" ry="1.0" fill="#a83e34" transform="rotate(56 287.2 218.9)"/>
<ellipse cx="268.8" cy="228.0" rx="1.5" ry="0.9" fill="#c85848" transform="rotate(143 268.8 228.0)"/>
<ellipse cx="254.8" cy="236.7" rx="1.2" ry="1.0" fill="#c85848" transform="rotate(139 254.8 236.7)"/>
<ellipse cx="275.4" cy="229.1" rx="1.3" ry="0.7" fill="#b8463a" transform="rotate(1 275.4 229.1)"/>
<ellipse cx="265.8" cy="246.7" rx="1.2" ry="0.7" fill="#c85848" transform="rotate(42 265.8 246.7)"/>
<ellipse cx="268.4" cy="247.8" rx="1.4" ry="0.7" fill="#a83e34" transform="rotate(107 268.4 247.8)"/>
<ellipse cx="252.5" cy="237.9" rx="1.5" ry="0.8" fill="#d0604c" transform="rotate(127 252.5 237.9)"/>
<ellipse cx="275.8" cy="218.6" rx="1.5" ry="1.0" fill="#a83e34" transform="rotate(157 275.8 218.6)"/>
<ellipse cx="283.6" cy="234.2" rx="1.2" ry="0.9" fill="#c85848" transform="rotate(150 283.6 234.2)"/>
<ellipse cx="301.0" cy="202.9" rx="1.6" ry="0.8" fill="#d0604c" transform="rotate(80 301.0 202.9)"/>
<ellipse cx="294.9" cy="200.0" rx="1.2" ry="0.8" fill="#c4503e" transform="rotate(22 294.9 200.0)"/>
<ellipse cx="266.0" cy="237.8" rx="1.2" ry="0.9" fill="#c4503e" transform="rotate(91 266.0 237.8)"/>
<ellipse cx="293.4" cy="223.7" rx="1.6" ry="0.9" fill="#b8463a" transform="rotate(6 293.4 223.7)"/>
<ellipse cx="274.6" cy="228.8" rx="1.2" ry="0.7" fill="#b8463a" transform="rotate(44 274.6 228.8)"/>
<ellipse cx="270.6" cy="243.9" rx="1.3" ry="0.9" fill="#d0604c" transform="rotate(90 270.6 243.9)"/>
<ellipse cx="268.1" cy="231.3" rx="1.5" ry="0.7" fill="#c4503e" transform="rotate(51 268.1 231.3)"/>
<ellipse cx="291.9" cy="216.2" rx="1.5" ry="0.7" fill="#b8463a" transform="rotate(3 291.9 216.2)"/>
<ellipse cx="280.0" cy="211.3" rx="1.3" ry="0.7" fill="#d0604c" transform="rotate(40 280.0 211.3)"/>
<ellipse cx="297.7" cy="216.2" rx="1.6" ry="1.0" fill="#d0604c" transform="rotate(110 297.7 216.2)"/>
<ellipse cx="293.9" cy="216.2" rx="1.1" ry="0.8" fill="#b8463a" transform="rotate(120 293.9 216.2)"/>
<ellipse cx="274.6" cy="223.3" rx="1.5" ry="1.0" fill="#b8463a" transform="rotate(147 274.6 223.3)"/>
<ellipse cx="291.9" cy="204.8" rx="1.4" ry="1.0" fill="#a83e34" transform="rotate(165 291.9 204.8)"/>
<ellipse cx="254.3" cy="254.7" rx="1.4" ry="0.9" fill="#c85848" transform="rotate(133 254.3 254.7)"/>
<ellipse cx="273.2" cy="232.1" rx="1.4" ry="0.9" fill="#c4503e" transform="rotate(72 273.2 232.1)"/>
<ellipse cx="275.6" cy="231.0" rx="1.4" ry="0.9" fill="#d0604c" transform="rotate(69 275.6 231.0)"/>
<ellipse cx="278.2" cy="206.8" rx="1.1" ry="1.0" fill="#d0604c" transform="rotate(149 278.2 206.8)"/>
<ellipse cx="293.1" cy="215.0" rx="1.5" ry="0.7" fill="#d0604c" transform="rotate(81 293.1 215.0)"/>
<ellipse cx="268.1" cy="221.8" rx="1.1" ry="0.7" fill="#b8463a" transform="rotate(119 268.1 221.8)"/>
<ellipse cx="253.9" cy="239.4" rx="1.5" ry="0.9" fill="#c4503e" transform="rotate(52 253.9 239.4)"/>
<ellipse cx="281.3" cy="234.2" rx="1.3" ry="1.0" fill="#a83e34" transform="rotate(35 281.3 234.2)"/>
<ellipse cx="283.1" cy="212.7" rx="1.5" ry="1.0" fill="#d0604c" transform="rotate(178 283.1 212.7)"/>
<ellipse cx="280.6" cy="233.7" rx="1.2" ry="0.8" fill="#b8463a" transform="rotate(167 280.6 233.7)"/>
<ellipse cx="277.4" cy="233.6" rx="1.4" ry="0.8" fill="#d0604c" transform="rotate(86 277.4 233.6)"/>
<ellipse cx="261.5" cy="242.4" rx="1.6" ry="0.9" fill="#c4503e" transform="rotate(159 261.5 242.4)"/>
<ellipse cx="269.2" cy="242.5" rx="1.6" ry="0.8" fill="#a83e34" transform="rotate(167 269.2 242.5)"/>
<ellipse cx="257.4" cy="243.4" rx="1.4" ry="0.8" fill="#b8463a" transform="rotate(24 257.4 243.4)"/>
<ellipse cx="270.6" cy="210.0" rx="1.1" ry="0.9" fill="#c85848" transform="rotate(124 270.6 210.0)"/>
<ellipse cx="273.1" cy="243.8" rx="1.3" ry="0.8" fill="#d0604c" transform="rotate(91 273.1 243.8)"/>
<ellipse cx="285.6" cy="210.2" rx="1.3" ry="0.9" fill="#c4503e" transform="rotate(152 285.6 210.2)"/>
<ellipse cx="296.8" cy="208.5" rx="1.2" ry="1.1" fill="#d0604c" transform="rotate(132 296.8 208.5)"/>
<ellipse cx="265.5" cy="214.8" rx="1.5" ry="0.8" fill="#b8463a" transform="rotate(99 265.5 214.8)"/>
<ellipse cx="274.7" cy="226.9" rx="1.3" ry="0.7" fill="#c85848" transform="rotate(108 274.7 226.9)"/>
<ellipse cx="293.9" cy="215.4" rx="1.6" ry="0.8" fill="#d0604c" transform="rotate(34 293.9 215.4)"/>
<ellipse cx="273.0" cy="226.4" rx="1.5" ry="1.1" fill="#c4503e" transform="rotate(105 273.0 226.4)"/>
<ellipse cx="270.8" cy="226.7" rx="1.4" ry="1.0" fill="#c4503e" transform="rotate(28 270.8 226.7)"/>
<ellipse cx="267.5" cy="217.4" rx="1.2" ry="0.8" fill="#b8463a" transform="rotate(162 267.5 217.4)"/>
<ellipse cx="294.7" cy="198.8" rx="1.6" ry="0.7" fill="#c4503e" transform="rotate(123 294.7 198.8)"/>
<ellipse cx="293.3" cy="209.0" rx="1.7" ry="0.9" fill="#c85848" transform="rotate(66 293.3 209.0)"/>
<ellipse cx="272.3" cy="216.0" rx="1.5" ry="1.0" fill="#d0604c" transform="rotate(23 272.3 216.0)"/>
<ellipse cx="296.7" cy="214.6" rx="1.6" ry="1.0" fill="#c85848" transform="rotate(14 296.7 214.6)"/>
<ellipse cx="285.6" cy="203.3" rx="1.6" ry="1.1" fill="#c4503e" transform="rotate(115 285.6 203.3)"/>
<ellipse cx="255.0" cy="251.9" rx="1.2" ry="1.0" fill="#c85848" transform="rotate(158 255.0 251.9)"/>
<ellipse cx="255.5" cy="226.2" rx="1.4" ry="0.8" fill="#b8463a" transform="rotate(52 255.5 226.2)"/>
<ellipse cx="255.8" cy="240.2" rx="1.6" ry="1.0" fill="#c4503e" transform="rotate(21 255.8 240.2)"/>
<ellipse cx="301.0" cy="208.4" rx="1.4" ry="1.1" fill="#b8463a" transform="rotate(23 301.0 208.4)"/>
<ellipse cx="295.2" cy="218.9" rx="1.4" ry="0.9" fill="#c4503e" transform="rotate(40 295.2 218.9)"/>
<ellipse cx="284.3" cy="219.4" rx="1.2" ry="0.8" fill="#a83e34" transform="rotate(24 284.3 219.4)"/>
<ellipse cx="268.4" cy="244.4" rx="1.7" ry="0.9" fill="#d0604c" transform="rotate(130 268.4 244.4)"/>
<ellipse cx="282.2" cy="209.5" rx="1.5" ry="0.9" fill="#b8463a" transform="rotate(4 282.2 209.5)"/>
<ellipse cx="254.5" cy="226.5" rx="1.4" ry="0.8" fill="#d0604c" transform="rotate(128 254.5 226.5)"/>
<ellipse cx="274.5" cy="229.2" rx="1.7" ry="0.9" fill="#b8463a" transform="rotate(180 274.5 229.2)"/>
<ellipse cx="299.3" cy="200.2" rx="1.5" ry="0.8" fill="#c4503e" transform="rotate(21 299.3 200.2)"/>
<ellipse cx="255.5" cy="253.0" rx="1.7" ry="0.8" fill="#a83e34" transform="rotate(145 255.5 253.0)"/>
<ellipse cx="276.8" cy="228.2" rx="1.6" ry="0.8" fill="#c85848" transform="rotate(85 276.8 228.2)"/>
<ellipse cx="298.5" cy="207.2" rx="1.2" ry="0.9" fill="#d0604c" transform="rotate(42 298.5 207.2)"/>
<ellipse cx="258.7" cy="236.7" rx="1.5" ry="1.0" fill="#a83e34" transform="rotate(4 258.7 236.7)"/>
<ellipse cx="266.0" cy="223.3" rx="1.4" ry="0.9" fill="#c4503e" transform="rotate(159 266.0 223.3)"/>
<ellipse cx="260.4" cy="225.1" rx="1.6" ry="0.8" fill="#a83e34" transform="rotate(13 260.4 225.1)"/>
<ellipse cx="257.8" cy="232.4" rx="1.5" ry="0.9" fill="#a83e34" transform="rotate(78 257.8 232.4)"/>
<ellipse cx="253.8" cy="250.0" rx="1.4" ry="0.9" fill="#b8463a" transform="rotate(13 253.8 250.0)"/>
<ellipse cx="263.4" cy="227.1" rx="1.6" ry="0.8" fill="#c85848" transform="rotate(107 263.4 227.1)"/>
<ellipse cx="258.7" cy="223.4" rx="1.6" ry="0.8" fill="#a83e34" transform="rotate(177 258.7 223.4)"/>
<ellipse cx="299.5" cy="212.3" rx="1.1" ry="1.0" fill="#a83e34" transform="rotate(178 299.5 212.3)"/>
<ellipse cx="283.7" cy="199.7" rx="1.5" ry="0.8" fill="#c4503e" transform="rotate(80 283.7 199.7)"/>
<ellipse cx="295.0" cy="217.0" rx="1.2" ry="0.8" fill="#b8463a" transform="rotate(176 295.0 217.0)"/>
<ellipse cx="253.1" cy="236.2" rx="1.3" ry="1.0" fill="#d0604c" transform="rotate(29 253.1 236.2)"/>
<ellipse cx="280.4" cy="202.6" rx="1.6" ry="0.8" fill="#d0604c" transform="rotate(57 280.4 202.6)"/>
<ellipse cx="256.3" cy="234.3" rx="1.4" ry="0.7" fill="#c4503e" transform="rotate(135 256.3 234.3)"/>
<ellipse cx="276.4" cy="217.6" rx="1.2" ry="0.8" fill="#c85848" transform="rotate(48 276.4 217.6)"/>
<ellipse cx="292.8" cy="214.6" rx="1.1" ry="0.7" fill="#a83e34" transform="rotate(165 292.8 214.6)"/>
<ellipse cx="257.4" cy="248.7" rx="1.5" ry="0.9" fill="#c85848" transform="rotate(152 257.4 248.7)"/>
<ellipse cx="295.0" cy="197.7" rx="1.4" ry="1.0" fill="#c85848" transform="rotate(140 295.0 197.7)"/>
<ellipse cx="295.9" cy="203.2" rx="1.4" ry="1.0" fill="#a83e34" transform="rotate(154 295.9 203.2)"/>
<ellipse cx="268.5" cy="219.0" rx="1.6" ry="0.7" fill="#d0604c" transform="rotate(29 268.5 219.0)"/>
<ellipse cx="259.2" cy="232.8" rx="1.6" ry="1.0" fill="#c85848" transform="rotate(127 259.2 232.8)"/>
<ellipse cx="272.7" cy="243.6" rx="1.2" ry="0.9" fill="#b8463a" transform="rotate(10 272.7 243.6)"/>
<ellipse cx="277.8" cy="221.3" rx="1.7" ry="1.0" fill="#c4503e" transform="rotate(156 277.8 221.3)"/>
<ellipse cx="277.5" cy="203.6" rx="1.2" ry="0.8" fill="#a83e34" transform="rotate(79 277.5 203.6)"/>
<ellipse cx="266.0" cy="235.0" rx="1.5" ry="0.9" fill="#c4503e" transform="rotate(151 266.0 235.0)"/>
<ellipse cx="254.0" cy="246.1" rx="1.4" ry="0.9" fill="#b8463a" transform="rotate(152 254.0 246.1)"/>
<ellipse cx="271.0" cy="208.8" rx="1.4" ry="1.0" fill="#a83e34" transform="rotate(46 271.0 208.8)"/>
<ellipse cx="301.4" cy="200.8" rx="1.4" ry="0.7" fill="#a83e34" transform="rotate(70 301.4 200.8)"/>
<ellipse cx="262.7" cy="244.0" rx="1.1" ry="0.8" fill="#c4503e" transform="rotate(98 262.7 244.0)"/>
<ellipse cx="258.3" cy="231.8" rx="1.1" ry="0.8" fill="#a83e34" transform="rotate(152 258.3 231.8)"/>
<ellipse cx="266.6" cy="221.9" rx="1.4" ry="0.9" fill="#b8463a" transform="rotate(80 266.6 221.9)"/>
<ellipse cx="256.6" cy="239.9" rx="1.2" ry="0.9" fill="#a83e34" transform="rotate(91 256.6 239.9)"/>
<ellipse cx="283.5" cy="228.6" rx="1.5" ry="0.7" fill="#d0604c" transform="rotate(55 283.5 228.6)"/>
<ellipse cx="278.0" cy="212.2" rx="1.7" ry="1.0" fill="#c4503e" transform="rotate(60 278.0 212.2)"/>
<ellipse cx="295.3" cy="205.0" rx="1.2" ry="0.9" fill="#a83e34" transform="rotate(125 295.3 205.0)"/>
<ellipse cx="273.3" cy="206.5" rx="1.7" ry="0.8" fill="#b8463a" transform="rotate(42 273.3 206.5)"/>
<ellipse cx="262.0" cy="239.8" rx="1.2" ry="0.8" fill="#c85848" transform="rotate(108 262.0 239.8)"/>
<ellipse cx="254.8" cy="250.7" rx="1.5" ry="0.7" fill="#d0604c" transform="rotate(100 254.8 250.7)"/>
<ellipse cx="264.0" cy="250.2" rx="1.4" ry="0.8" fill="#d0604c" transform="rotate(64 264.0 250.2)"/>
<ellipse cx="257.9" cy="247.8" rx="1.5" ry="0.9" fill="#b8463a" transform="rotate(87 257.9 247.8)"/>
<ellipse cx="282.8" cy="216.6" rx="1.1" ry="0.7" fill="#a83e34" transform="rotate(118 282.8 216.6)"/>
<ellipse cx="287.4" cy="203.1" rx="1.7" ry="1.1" fill="#c4503e" transform="rotate(0 287.4 203.1)"/>
<ellipse cx="285.1" cy="227.2" rx="1.6" ry="1.1" fill="#c85848" transform="rotate(176 285.1 227.2)"/>
<ellipse cx="261.7" cy="253.2" rx="1.6" ry="0.8" fill="#d0604c" transform="rotate(101 261.7 253.2)"/>
<ellipse cx="298.5" cy="197.3" rx="1.5" ry="1.0" fill="#c85848" transform="rotate(75 298.5 197.3)"/>
<ellipse cx="294.5" cy="222.0" rx="1.5" ry="0.9" fill="#b8463a" transform="rotate(123 294.5 222.0)"/>
<ellipse cx="265.2" cy="240.1" rx="1.3" ry="1.0" fill="#d0604c" transform="rotate(46 265.2 240.1)"/>
<ellipse cx="260.7" cy="243.5" rx="1.6" ry="0.9" fill="#c85848" transform="rotate(107 260.7 243.5)"/>
<ellipse cx="292.0" cy="205.7" rx="1.2" ry="0.9" fill="#b8463a" transform="rotate(171 292.0 205.7)"/>
<ellipse cx="257.5" cy="235.2" rx="1.4" ry="1.0" fill="#c4503e" transform="rotate(34 257.5 235.2)"/>
<ellipse cx="254.4" cy="236.3" rx="1.7" ry="1.1" fill="#a83e34" transform="rotate(12 254.4 236.3)"/>
<ellipse cx="262.4" cy="226.5" rx="1.3" ry="1.1" fill="#c4503e" transform="rotate(138 262.4 226.5)"/>
<ellipse cx="300.9" cy="198.2" rx="1.3" ry="1.0" fill="#c4503e" transform="rotate(166 300.9 198.2)"/>
<ellipse cx="288.4" cy="227.0" rx="1.4" ry="1.0" fill="#b8463a" transform="rotate(142 288.4 227.0)"/>
<ellipse cx="283.1" cy="206.1" rx="1.1" ry="0.8" fill="#b8463a" transform="rotate(141 283.1 206.1)"/>
<ellipse cx="266.9" cy="247.1" rx="1.4" ry="0.8" fill="#a83e34" transform="rotate(157 266.9 247.1)"/>
<ellipse cx="285.6" cy="233.0" rx="1.2" ry="0.8" fill="#d0604c" transform="rotate(63 285.6 233.0)"/>
<ellipse cx="293.0" cy="208.9" rx="1.4" ry="1.1" fill="#c85848" transform="rotate(16 293.0 208.9)"/>
<ellipse cx="265.7" cy="246.8" rx="1.7" ry="0.9" fill="#c4503e" transform="rotate(180 265.7 246.8)"/>
<ellipse cx="290.8" cy="224.0" rx="1.6" ry="0.8" fill="#d0604c" transform="rotate(163 290.8 224.0)"/>
<ellipse cx="280.8" cy="205.4" rx="1.5" ry="0.8" fill="#b8463a" transform="rotate(33 280.8 205.4)"/>
<ellipse cx="277.1" cy="237.4" rx="1.3" ry="0.8" fill="#b8463a" transform="rotate(95 277.1 237.4)"/>
<ellipse cx="262.0" cy="218.2" rx="1.3" ry="0.7" fill="#c4503e" transform="rotate(24 262.0 218.2)"/>
<ellipse cx="259.8" cy="226.4" rx="1.1" ry="0.8" fill="#b8463a" transform="rotate(17 259.8 226.4)"/>
<ellipse cx="266.4" cy="239.4" rx="1.6" ry="0.7" fill="#b8463a" transform="rotate(99 266.4 239.4)"/>
<ellipse cx="283.9" cy="214.1" rx="1.2" ry="0.9" fill="#c4503e" transform="rotate(112 283.9 214.1)"/>
<ellipse cx="273.9" cy="228.7" rx="1.2" ry="1.0" fill="#c4503e" transform="rotate(116 273.9 228.7)"/>
<ellipse cx="268.6" cy="221.0" rx="1.4" ry="0.9" fill="#a83e34" transform="rotate(138 268.6 221.0)"/>
<ellipse cx="279.1" cy="224.7" rx="1.4" ry="0.9" fill="#c4503e" transform="rotate(72 279.1 224.7)"/>
<ellipse cx="280.7" cy="230.8" rx="1.2" ry="0.9" fill="#d0604c" transform="rotate(65 280.7 230.8)"/>
<ellipse cx="291.8" cy="209.1" rx="1.7" ry="0.9" fill="#a83e34" transform="rotate(32 291.8 209.1)"/>
<ellipse cx="274.9" cy="211.9" rx="1.4" ry="1.0" fill="#b8463a" transform="rotate(50 274.9 211.9)"/>
<ellipse cx="268.9" cy="243.3" rx="1.1" ry="0.9" fill="#b8463a" transform="rotate(14 268.9 243.3)"/>
<ellipse cx="261.6" cy="251.6" rx="1.2" ry="0.8" fill="#d0604c" transform="rotate(99 261.6 251.6)"/>
<ellipse cx="270.9" cy="222.7" rx="1.7" ry="0.8" fill="#c4503e" transform="rotate(161 270.9 222.7)"/>
<ellipse cx="285.7" cy="201.1" rx="1.2" ry="0.8" fill="#b8463a" transform="rotate(177 285.7 201.1)"/>
<ellipse cx="261.5" cy="233.0" rx="1.2" ry="1.1" fill="#d0604c" transform="rotate(177 261.5 233.0)"/>
<ellipse cx="250.8" cy="240.3" rx="1.6" ry="0.8" fill="#d0604c" transform="rotate(18 250.8 240.3)"/>
<ellipse cx="283.6" cy="217.7" rx="1.3" ry="0.9" fill="#c85848" transform="rotate(129 283.6 217.7)"/>
<ellipse cx="274.6" cy="217.2" rx="1.4" ry="0.8" fill="#a83e34" transform="rotate(73 274.6 217.2)"/>
<ellipse cx="284.9" cy="202.4" rx="1.3" ry="1.0" fill="#a83e34" transform="rotate(153 284.9 202.4)"/>
<ellipse cx="252.0" cy="234.3" rx="1.4" ry="0.8" fill="#d0604c" transform="rotate(112 252.0 234.3)"/>
<ellipse cx="285.7" cy="205.6" rx="1.5" ry="0.8" fill="#c4503e" transform="rotate(105 285.7 205.6)"/>
<ellipse cx="263.9" cy="230.7" rx="1.3" ry="0.8" fill="#d0604c" transform="rotate(26 263.9 230.7)"/>
<ellipse cx="280.5" cy="227.0" rx="1.4" ry="0.8" fill="#c4503e" transform="rotate(93 280.5 227.0)"/>
<ellipse cx="280.4" cy="238.7" rx="1.5" ry="0.8" fill="#c4503e" transform="rotate(18 280.4 238.7)"/>
<ellipse cx="262.9" cy="220.8" rx="1.4" ry="1.0" fill="#d0604c" transform="rotate(15 262.9 220.8)"/>
<ellipse cx="265.9" cy="235.5" rx="1.4" ry="0.9" fill="#b8463a" transform="rotate(127 265.9 235.5)"/>
<ellipse cx="265.4" cy="242.1" rx="1.1" ry="1.1" fill="#c4503e" transform="rotate(178 265.4 242.1)"/>
<ellipse cx="254.5" cy="247.5" rx="1.6" ry="0.7" fill="#a83e34" transform="rotate(119 254.5 247.5)"/>
<ellipse cx="263.2" cy="249.1" rx="1.2" ry="0.9" fill="#c4503e" transform="rotate(143 263.2 249.1)"/>
<ellipse cx="295.8" cy="208.2" rx="1.4" ry="0.7" fill="#c85848" transform="rotate(60 295.8 208.2)"/>
<ellipse cx="274.4" cy="207.6" rx="1.2" ry="0.9" fill="#b8463a" transform="rotate(13 274.4 207.6)"/>
<ellipse cx="252.6" cy="246.4" rx="1.5" ry="1.0" fill="#c4503e" transform="rotate(40 252.6 246.4)"/>
<ellipse cx="257.6" cy="232.6" rx="1.2" ry="0.8" fill="#a83e34" transform="rotate(139 257.6 232.6)"/>
<ellipse cx="260.3" cy="222.7" rx="1.7" ry="0.9" fill="#c85848" transform="rotate(128 260.3 222.7)"/>
<ellipse cx="283.2" cy="205.6" rx="1.3" ry="0.8" fill="#c85848" transform="rotate(109 283.2 205.6)"/>
<ellipse cx="296.0" cy="214.6" rx="1.3" ry="0.7" fill="#a83e34" transform="rotate(79 296.0 214.6)"/>
<ellipse cx="275.6" cy="227.2" rx="1.6" ry="1.0" fill="#a83e34" transform="rotate(95 275.6 227.2)"/>
<ellipse cx="275.6" cy="241.5" rx="1.3" ry="1.1" fill="#d0604c" transform="rotate(1 275.6 241.5)"/>
<ellipse cx="287.9" cy="212.5" rx="1.3" ry="0.9" fill="#b8463a" transform="rotate(94 287.9 212.5)"/>
<ellipse cx="299.7" cy="201.2" rx="1.1" ry="0.8" fill="#c85848" transform="rotate(30 299.7 201.2)"/>
<ellipse cx="274.7" cy="243.0" rx="1.6" ry="0.8" fill="#c4503e" transform="rotate(150 274.7 243.0)"/>
<ellipse cx="255.8" cy="246.3" rx="1.5" ry="0.8" fill="#a83e34" transform="rotate(22 255.8 246.3)"/>
<ellipse cx="257.0" cy="237.4" rx="1.3" ry="0.8" fill="#c4503e" transform="rotate(64 257.0 237.4)"/>
<ellipse cx="283.1" cy="227.5" rx="1.5" ry="0.7" fill="#d0604c" transform="rotate(174 283.1 227.5)"/>
<ellipse cx="267.2" cy="237.3" rx="1.2" ry="0.7" fill="#c4503e" transform="rotate(175 267.2 237.3)"/>
<ellipse cx="292.9" cy="214.1" rx="1.5" ry="1.0" fill="#a83e34" transform="rotate(113 292.9 214.1)"/>
<ellipse cx="259.6" cy="241.6" rx="1.6" ry="1.1" fill="#c4503e" transform="rotate(91 259.6 241.6)"/>
<ellipse cx="286.3" cy="227.2" rx="1.5" ry="0.9" fill="#c4503e" transform="rotate(176 286.3 227.2)"/>
<ellipse cx="266.9" cy="226.3" rx="1.2" ry="0.8" fill="#c4503e" transform="rotate(104 266.9 226.3)"/>
<ellipse cx="264.1" cy="236.9" rx="1.4" ry="1.0" fill="#a83e34" transform="rotate(99 264.1 236.9)"/>
<ellipse cx="274.4" cy="222.1" rx="1.5" ry="0.8" fill="#c85848" transform="rotate(149 274.4 222.1)"/>
<ellipse cx="264.0" cy="246.8" rx="1.4" ry="0.9" fill="#a83e34" transform="rotate(118 264.0 246.8)"/>
<ellipse cx="262.6" cy="230.0" rx="1.5" ry="0.9" fill="#a83e34" transform="rotate(23 262.6 230.0)"/>
<ellipse cx="288.7" cy="203.0" rx="1.3" ry="0.9" fill="#d0604c" transform="rotate(11 288.7 203.0)"/>
<ellipse cx="298.5" cy="214.1" rx="1.4" ry="0.9" fill="#b8463a" transform="rotate(143 298.5 214.1)"/>
<ellipse cx="275.9" cy="214.8" rx="1.2" ry="1.0" fill="#c4503e" transform="rotate(26 275.9 214.8)"/>
<ellipse cx="287.3" cy="223.5" rx="1.1" ry="1.0" fill="#b8463a" transform="rotate(145 287.3 223.5)"/>
<ellipse cx="272.7" cy="219.4" rx="1.6" ry="0.7" fill="#d0604c" transform="rotate(39 272.7 219.4)"/>
<ellipse cx="276.2" cy="232.0" rx="1.2" ry="0.8" fill="#c4503e" transform="rotate(43 276.2 232.0)"/>
<ellipse cx="288.1" cy="213.0" rx="1.5" ry="1.0" fill="#d0604c" transform="rotate(67 288.1 213.0)"/>
<ellipse cx="248.3" cy="253.5" rx="1.3" ry="0.9" fill="#d0604c" transform="rotate(67 248.3 253.5)"/>
<ellipse cx="247.3" cy="251.2" rx="1.5" ry="0.9" fill="#b8463a" transform="rotate(41 247.3 251.2)"/>
<ellipse cx="276.2" cy="235.8" rx="1.6" ry="0.8" fill="#c85848" transform="rotate(13 276.2 235.8)"/>
<ellipse cx="267.9" cy="245.1" rx="1.2" ry="0.9" fill="#c85848" transform="rotate(94 267.9 245.1)"/>
<ellipse cx="284.3" cy="205.8" rx="1.6" ry="0.7" fill="#d0604c" transform="rotate(140 284.3 205.8)"/>
<ellipse cx="275.6" cy="212.3" rx="1.7" ry="1.1" fill="#a83e34" transform="rotate(26 275.6 212.3)"/>
<ellipse cx="267.1" cy="222.4" rx="1.5" ry="0.7" fill="#c4503e" transform="rotate(143 267.1 222.4)"/>
<ellipse cx="294.2" cy="197.1" rx="1.2" ry="0.8" fill="#c4503e" transform="rotate(77 294.2 197.1)"/>
<ellipse cx="288.0" cy="225.0" rx="1.6" ry="1.0" fill="#c85848" transform="rotate(21 288.0 225.0)"/>
<ellipse cx="255.2" cy="230.1" rx="1.5" ry="0.9" fill="#c85848" transform="rotate(90 255.2 230.1)"/>
<ellipse cx="271.9" cy="245.3" rx="1.2" ry="1.0" fill="#d0604c" transform="rotate(156 271.9 245.3)"/>
<ellipse cx="254.6" cy="252.5" rx="1.3" ry="0.7" fill="#b8463a" transform="rotate(130 254.6 252.5)"/>
<ellipse cx="260.4" cy="240.9" rx="1.6" ry="0.9" fill="#c4503e" transform="rotate(20 260.4 240.9)"/>
<ellipse cx="287.7" cy="223.8" rx="1.2" ry="0.9" fill="#a83e34" transform="rotate(35 287.7 223.8)"/>
<ellipse cx="261.0" cy="245.9" rx="1.6" ry="0.9" fill="#a83e34" transform="rotate(17 261.0 245.9)"/>
<ellipse cx="250.8" cy="252.6" rx="1.7" ry="0.8" fill="#b8463a" transform="rotate(34 250.8 252.6)"/>
<ellipse cx="276.6" cy="228.7" rx="1.3" ry="0.7" fill="#c85848" transform="rotate(167 276.6 228.7)"/>
<ellipse cx="258.8" cy="243.6" rx="1.2" ry="1.1" fill="#c85848" transform="rotate(163 258.8 243.6)"/>
<ellipse cx="278.8" cy="207.7" rx="1.4" ry="0.9" fill="#c85848" transform="rotate(125 278.8 207.7)"/>
<ellipse cx="291.7" cy="201.3" rx="1.1" ry="0.9" fill="#c4503e" transform="rotate(127 291.7 201.3)"/>
<ellipse cx="260.9" cy="250.3" rx="1.3" ry="0.9" fill="#c85848" transform="rotate(159 260.9 250.3)"/>
<ellipse cx="292.2" cy="197.8" rx="1.6" ry="0.9" fill="#b8463a" transform="rotate(106 292.2 197.8)"/>
<ellipse cx="268.1" cy="230.2" rx="1.3" ry="1.1" fill="#d0604c" transform="rotate(59 268.1 230.2)"/>
<ellipse cx="271.1" cy="228.2" rx="1.6" ry="1.1" fill="#d0604c" transform="rotate(80 271.1 228.2)"/>
<ellipse cx="253.1" cy="229.9" rx="1.5" ry="0.8" fill="#b8463a" transform="rotate(163 253.1 229.9)"/>
<ellipse cx="261.7" cy="228.1" rx="1.5" ry="1.0" fill="#a83e34" transform="rotate(166 261.7 228.1)"/>
<ellipse cx="279.2" cy="233.7" rx="1.1" ry="0.8" fill="#a83e34" transform="rotate(163 279.2 233.7)"/>
<ellipse cx="272.1" cy="234.4" rx="1.3" ry="0.9" fill="#c4503e" transform="rotate(21 272.1 234.4)"/>
<ellipse cx="279.9" cy="215.7" rx="1.3" ry="1.1" fill="#c4503e" transform="rotate(129 279.9 215.7)"/>
<ellipse cx="259.3" cy="236.3" rx="1.3" ry="0.8" fill="#c85848" transform="rotate(55 259.3 236.3)"/>
<ellipse cx="288.1" cy="219.3" rx="1.7" ry="1.1" fill="#d0604c" transform="rotate(175 288.1 219.3)"/>
<ellipse cx="254.0" cy="241.2" rx="1.6" ry="1.0" fill="#d0604c" transform="rotate(45 254.0 241.2)"/>
<ellipse cx="285.7" cy="221.3" rx="1.5" ry="0.9" fill="#c85848" transform="rotate(164 285.7 221.3)"/>
<ellipse cx="254.6" cy="232.0" rx="1.7" ry="0.9" fill="#d0604c" transform="rotate(32 254.6 232.0)"/>
<ellipse cx="268.6" cy="216.4" rx="1.6" ry="1.0" fill="#a83e34" transform="rotate(145 268.6 216.4)"/>
<ellipse cx="270.9" cy="238.2" rx="1.5" ry="1.0" fill="#c4503e" transform="rotate(26 270.9 238.2)"/>
<ellipse cx="275.2" cy="222.6" rx="1.2" ry="1.0" fill="#c4503e" transform="rotate(12 275.2 222.6)"/>
<ellipse cx="271.4" cy="242.3" rx="1.3" ry="1.1" fill="#b8463a" transform="rotate(93 271.4 242.3)"/>
<ellipse cx="262.4" cy="225.6" rx="1.3" ry="0.9" fill="#c85848" transform="rotate(60 262.4 225.6)"/>
<ellipse cx="271.7" cy="217.0" rx="1.6" ry="1.1" fill="#c85848" transform="rotate(128 271.7 217.0)"/>
<ellipse cx="256.0" cy="240.4" rx="1.3" ry="1.0" fill="#d0604c" transform="rotate(10 256.0 240.4)"/>
<ellipse cx="289.4" cy="220.2" rx="1.7" ry="1.1" fill="#a83e34" transform="rotate(49 289.4 220.2)"/>
<ellipse cx="255.7" cy="238.5" rx="1.6" ry="1.1" fill="#a83e34" transform="rotate(127 255.7 238.5)"/>
<ellipse cx="266.0" cy="235.0" rx="1.3" ry="0.7" fill="#c85848" transform="rotate(144 266.0 235.0)"/>
<ellipse cx="272.5" cy="230.3" rx="1.7" ry="1.0" fill="#d0604c" transform="rotate(85 272.5 230.3)"/>
<ellipse cx="266.6" cy="215.7" rx="1.3" ry="1.0" fill="#b8463a" transform="rotate(68 266.6 215.7)"/>
<ellipse cx="269.5" cy="213.2" rx="1.2" ry="0.9" fill="#a83e34" transform="rotate(54 269.5 213.2)"/>
<ellipse cx="283.0" cy="216.7" rx="1.5" ry="0.7" fill="#d0604c" transform="rotate(121 283.0 216.7)"/>
<ellipse cx="283.2" cy="227.4" rx="1.5" ry="0.9" fill="#a83e34" transform="rotate(102 283.2 227.4)"/>
<ellipse cx="281.5" cy="231.0" rx="1.4" ry="1.0" fill="#a83e34" transform="rotate(57 281.5 231.0)"/>
<ellipse cx="278.4" cy="215.1" rx="1.3" ry="0.9" fill="#a83e34" transform="rotate(23 278.4 215.1)"/>
<ellipse cx="282.2" cy="202.0" rx="1.3" ry="1.1" fill="#a83e34" transform="rotate(111 282.2 202.0)"/>
<ellipse cx="265.1" cy="230.5" rx="1.5" ry="0.9" fill="#d0604c" transform="rotate(64 265.1 230.5)"/>
<ellipse cx="254.7" cy="237.4" rx="1.4" ry="1.1" fill="#a83e34" transform="rotate(34 254.7 237.4)"/>
<ellipse cx="270.6" cy="227.9" rx="1.4" ry="1.1" fill="#a83e34" transform="rotate(90 270.6 227.9)"/>
<ellipse cx="251.6" cy="239.3" rx="1.3" ry="0.9" fill="#b8463a" transform="rotate(6 251.6 239.3)"/>
<ellipse cx="276.5" cy="215.6" rx="1.2" ry="0.8" fill="#a83e34" transform="rotate(156 276.5 215.6)"/>
<ellipse cx="251.3" cy="239.2" rx="1.3" ry="1.1" fill="#d0604c" transform="rotate(55 251.3 239.2)"/>
<ellipse cx="295.7" cy="206.7" rx="1.7" ry="0.8" fill="#c85848" transform="rotate(57 295.7 206.7)"/>
<ellipse cx="281.4" cy="209.6" rx="1.6" ry="1.1" fill="#d0604c" transform="rotate(44 281.4 209.6)"/>
<ellipse cx="287.1" cy="198.2" rx="1.5" ry="0.8" fill="#d0604c" transform="rotate(81 287.1 198.2)"/>
<ellipse cx="302.2" cy="202.4" rx="1.1" ry="0.9" fill="#d0604c" transform="rotate(171 302.2 202.4)"/>
<ellipse cx="276.8" cy="229.9" rx="1.3" ry="0.9" fill="#c4503e" transform="rotate(125 276.8 229.9)"/>
<ellipse cx="259.8" cy="221.0" rx="1.2" ry="0.7" fill="#d0604c" transform="rotate(63 259.8 221.0)"/>
<ellipse cx="280.6" cy="205.7" rx="1.2" ry="0.7" fill="#c4503e" transform="rotate(173 280.6 205.7)"/>
<ellipse cx="274.4" cy="209.0" rx="1.6" ry="0.9" fill="#c85848" transform="rotate(128 274.4 209.0)"/>
<ellipse cx="253.8" cy="247.9" rx="1.4" ry="0.9" fill="#d0604c" transform="rotate(135 253.8 247.9)"/>
<ellipse cx="265.2" cy="234.9" rx="1.5" ry="0.8" fill="#c4503e" transform="rotate(48 265.2 234.9)"/>
<ellipse cx="277.9" cy="220.6" rx="1.5" ry="0.9" fill="#d0604c" transform="rotate(101 277.9 220.6)"/>
<ellipse cx="279.7" cy="235.4" rx="1.1" ry="0.8" fill="#b8463a" transform="rotate(85 279.7 235.4)"/>
<ellipse cx="276.9" cy="224.6" rx="1.1" ry="0.8" fill="#d0604c" transform="rotate(91 276.9 224.6)"/>
<ellipse cx="268.5" cy="243.7" rx="1.1" ry="1.0" fill="#c85848" transform="rotate(17 268.5 243.7)"/>
<ellipse cx="286.9" cy="201.7" rx="1.5" ry="1.0" fill="#a83e34" transform="rotate(147 286.9 201.7)"/>
<ellipse cx="248.6" cy="253.6" rx="1.2" ry="1.0" fill="#c85848" transform="rotate(67 248.6 253.6)"/>
<ellipse cx="249.5" cy="246.3" rx="1.6" ry="0.7" fill="#b8463a" transform="rotate(8 249.5 246.3)"/>
<ellipse cx="292.1" cy="209.6" rx="1.5" ry="1.1" fill="#c4503e" transform="rotate(11 292.1 209.6)"/>
<ellipse cx="264.9" cy="234.9" rx="1.4" ry="1.1" fill="#a83e34" transform="rotate(61 264.9 234.9)"/>
<ellipse cx="280.5" cy="205.8" rx="1.5" ry="0.7" fill="#b8463a" transform="rotate(47 280.5 205.8)"/>
<ellipse cx="288.5" cy="214.3" rx="1.7" ry="1.0" fill="#c4503e" transform="rotate(160 288.5 214.3)"/>
<ellipse cx="266.6" cy="230.3" rx="1.4" ry="0.7" fill="#c4503e" transform="rotate(7 266.6 230.3)"/>
<ellipse cx="262.7" cy="231.9" rx="1.3" ry="0.8" fill="#c85848" transform="rotate(151 262.7 231.9)"/>
<ellipse cx="284.5" cy="231.8" rx="1.4" ry="0.9" fill="#b8463a" transform="rotate(164 284.5 231.8)"/>
<ellipse cx="278.5" cy="203.4" rx="1.4" ry="0.7" fill="#b8463a" transform="rotate(138 278.5 203.4)"/>
<ellipse cx="298.5" cy="196.4" rx="1.5" ry="1.1" fill="#b8463a" transform="rotate(61 298.5 196.4)"/>
<ellipse cx="250.4" cy="234.3" rx="1.1" ry="1.0" fill="#b8463a" transform="rotate(96 250.4 234.3)"/>
<ellipse cx="266.6" cy="214.1" rx="1.2" ry="0.7" fill="#c85848" transform="rotate(78 266.6 214.1)"/>
<ellipse cx="280.2" cy="215.2" rx="1.3" ry="1.0" fill="#c85848" transform="rotate(41 280.2 215.2)"/>
<ellipse cx="264.5" cy="239.5" rx="1.7" ry="0.7" fill="#d0604c" transform="rotate(167 264.5 239.5)"/>
<ellipse cx="257.5" cy="242.8" rx="1.5" ry="1.1" fill="#c4503e" transform="rotate(47 257.5 242.8)"/>
<ellipse cx="267.0" cy="237.7" rx="1.5" ry="1.1" fill="#c85848" transform="rotate(147 267.0 237.7)"/>
<ellipse cx="255.8" cy="229.0" rx="1.3" ry="0.9" fill="#d0604c" transform="rotate(33 255.8 229.0)"/>
<ellipse cx="268.4" cy="229.6" rx="1.3" ry="0.9" fill="#b8463a" transform="rotate(49 268.4 229.6)"/>
<ellipse cx="255.6" cy="236.4" rx="1.3" ry="0.8" fill="#c4503e" transform="rotate(177 255.6 236.4)"/>
<ellipse cx="281.6" cy="226.8" rx="1.2" ry="0.9" fill="#d0604c" transform="rotate(86 281.6 226.8)"/>
<ellipse cx="284.4" cy="221.1" rx="1.5" ry="0.7" fill="#c85848" transform="rotate(59 284.4 221.1)"/>
<ellipse cx="296.7" cy="198.7" rx="1.6" ry="1.1" fill="#a83e34" transform="rotate(107 296.7 198.7)"/>
<ellipse cx="255.6" cy="228.3" rx="1.3" ry="1.0" fill="#b8463a" transform="rotate(118 255.6 228.3)"/>
<ellipse cx="276.5" cy="232.6" rx="1.2" ry="0.9" fill="#b8463a" transform="rotate(175 276.5 232.6)"/>
<ellipse cx="249.1" cy="241.3" rx="1.5" ry="0.8" fill="#c85848" transform="rotate(165 249.1 241.3)"/>
<ellipse cx="257.1" cy="244.6" rx="1.4" ry="0.7" fill="#a83e34" transform="rotate(121 257.1 244.6)"/>
<ellipse cx="255.5" cy="226.5" rx="1.5" ry="1.0" fill="#d0604c" transform="rotate(74 255.5 226.5)"/>
<ellipse cx="285.0" cy="208.9" rx="1.6" ry="0.8" fill="#a83e34" transform="rotate(2 285.0 208.9)"/>
<ellipse cx="289.3" cy="217.7" rx="1.2" ry="0.7" fill="#c4503e" transform="rotate(166 289.3 217.7)"/>
<ellipse cx="297.9" cy="203.4" rx="1.4" ry="0.9" fill="#c85848" transform="rotate(72 297.9 203.4)"/>
<ellipse cx="254.2" cy="227.5" rx="1.6" ry="0.9" fill="#d0604c" transform="rotate(67 254.2 227.5)"/>
<ellipse cx="293.5" cy="210.9" rx="1.6" ry="1.1" fill="#a83e34" transform="rotate(57 293.5 210.9)"/>
<ellipse cx="284.6" cy="213.1" rx="1.1" ry="0.8" fill="#d0604c" transform="rotate(155 284.6 213.1)"/>
<ellipse cx="284.9" cy="213.8" rx="1.6" ry="0.7" fill="#a83e34" transform="rotate(64 284.9 213.8)"/>
<ellipse cx="264.7" cy="234.5" rx="1.3" ry="0.9" fill="#d0604c" transform="rotate(44 264.7 234.5)"/>
<ellipse cx="254.6" cy="243.5" rx="1.2" ry="0.7" fill="#b8463a" transform="rotate(179 254.6 243.5)"/>
<ellipse cx="256.4" cy="241.1" rx="1.2" ry="0.9" fill="#c4503e" transform="rotate(83 256.4 241.1)"/>
<ellipse cx="272.6" cy="209.5" rx="1.4" ry="0.8" fill="#c85848" transform="rotate(34 272.6 209.5)"/>
<ellipse cx="271.4" cy="244.9" rx="1.2" ry="0.9" fill="#c4503e" transform="rotate(105 271.4 244.9)"/>
<ellipse cx="269.3" cy="248.0" rx="1.6" ry="1.1" fill="#c4503e" transform="rotate(79 269.3 248.0)"/>
<ellipse cx="283.4" cy="232.0" rx="1.6" ry="1.0" fill="#c4503e" transform="rotate(0 283.4 232.0)"/>
<ellipse cx="272.9" cy="214.1" rx="1.1" ry="0.8" fill="#b8463a" transform="rotate(170 272.9 214.1)"/>
<ellipse cx="280.5" cy="236.4" rx="1.3" ry="1.0" fill="#a83e34" transform="rotate(109 280.5 236.4)"/>
<ellipse cx="276.0" cy="229.8" rx="1.7" ry="0.8" fill="#c4503e" transform="rotate(166 276.0 229.8)"/>
<ellipse cx="248.7" cy="243.2" rx="1.7" ry="0.8" fill="#a83e34" transform="rotate(30 248.7 243.2)"/>
<ellipse cx="263.1" cy="217.9" rx="1.6" ry="0.9" fill="#c4503e" transform="rotate(32 263.1 217.9)"/>
<ellipse cx="256.9" cy="250.2" rx="1.6" ry="0.9" fill="#c85848" transform="rotate(116 256.9 250.2)"/>
<ellipse cx="286.5" cy="202.3" rx="1.1" ry="0.8" fill="#d0604c" transform="rotate(94 286.5 202.3)"/>
<ellipse cx="282.6" cy="210.9" rx="1.2" ry="0.7" fill="#b8463a" transform="rotate(59 282.6 210.9)"/>
<ellipse cx="249.3" cy="248.0" rx="1.2" ry="0.9" fill="#c4503e" transform="rotate(120 249.3 248.0)"/>
<ellipse cx="262.3" cy="221.3" rx="1.7" ry="0.7" fill="#d0604c" transform="rotate(76 262.3 221.3)"/>
<ellipse cx="250.7" cy="254.1" rx="1.1" ry="0.8" fill="#c85848" transform="rotate(74 250.7 254.1)"/>
<ellipse cx="297.1" cy="215.7" rx="1.5" ry="1.0" fill="#c4503e" transform="rotate(18 297.1 215.7)"/>
<ellipse cx="266.7" cy="216.1" rx="1.3" ry="0.8" fill="#c85848" transform="rotate(16 266.7 216.1)"/>
<ellipse cx="294.7" cy="208.7" rx="1.4" ry="0.9" fill="#d0604c" transform="rotate(144 294.7 208.7)"/>
<ellipse cx="276.5" cy="213.4" rx="1.5" ry="0.8" fill="#a83e34" transform="rotate(125 276.5 213.4)"/>
<ellipse cx="293.4" cy="197.1" rx="1.1" ry="0.9" fill="#b8463a" transform="rotate(5 293.4 197.1)"/>
<ellipse cx="265.9" cy="249.2" rx="1.2" ry="0.9" fill="#a83e34" transform="rotate(69 265.9 249.2)"/>
<ellipse cx="270.5" cy="226.1" rx="1.6" ry="0.9" fill="#c85848" transform="rotate(13 270.5 226.1)"/>
<ellipse cx="276.4" cy="228.0" rx="1.5" ry="0.8" fill="#c4503e" transform="rotate(1 276.4 228.0)"/>
<ellipse cx="293.0" cy="222.7" rx="1.6" ry="0.9" fill="#d0604c" transform="rotate(84 293.0 222.7)"/>
<ellipse cx="252.3" cy="241.5" rx="1.7" ry="0.9" fill="#d0604c" transform="rotate(118 252.3 241.5)"/>
<ellipse cx="256.1" cy="236.8" rx="1.2" ry="0.9" fill="#c4503e" transform="rotate(131 256.1 236.8)"/>
<ellipse cx="271.4" cy="218.5" rx="1.3" ry="0.7" fill="#c85848" transform="rotate(135 271.4 218.5)"/>
<ellipse cx="270.4" cy="234.5" rx="1.5" ry="1.0" fill="#c85848" transform="rotate(75 270.4 234.5)"/>
<ellipse cx="253.7" cy="245.6" rx="1.4" ry="0.9" fill="#d0604c" transform="rotate(71 253.7 245.6)"/>
<ellipse cx="271.4" cy="242.5" rx="1.6" ry="1.1" fill="#c85848" transform="rotate(154 271.4 242.5)"/>
<ellipse cx="286.0" cy="210.0" rx="1.2" ry="1.1" fill="#b8463a" transform="rotate(54 286.0 210.0)"/>
<ellipse cx="248.4" cy="242.3" rx="1.7" ry="1.1" fill="#c4503e" transform="rotate(104 248.4 242.3)"/>
<ellipse cx="288.4" cy="213.3" rx="1.6" ry="0.9" fill="#c4503e" transform="rotate(103 288.4 213.3)"/>
<ellipse cx="269.7" cy="237.4" rx="1.5" ry="0.8" fill="#c85848" transform="rotate(101 269.7 237.4)"/>
<ellipse cx="245.3" cy="247.0" rx="1.2" ry="0.8" fill="#c85848" transform="rotate(44 245.3 247.0)"/>
<ellipse cx="282.1" cy="213.0" rx="1.5" ry="0.8" fill="#c4503e" transform="rotate(125 282.1 213.0)"/>
<ellipse cx="267.6" cy="246.8" rx="1.5" ry="1.0" fill="#d0604c" transform="rotate(147 267.6 246.8)"/>
<ellipse cx="272.6" cy="225.3" rx="1.5" ry="0.8" fill="#d0604c" transform="rotate(104 272.6 225.3)"/>
<ellipse cx="283.1" cy="231.6" rx="1.3" ry="0.8" fill="#b8463a" transform="rotate(68 283.1 231.6)"/>
<ellipse cx="251.1" cy="242.4" rx="1.6" ry="0.8" fill="#d0604c" transform="rotate(153 251.1 242.4)"/>
<ellipse cx="273.2" cy="219.4" rx="1.4" ry="0.8" fill="#c4503e" transform="rotate(166 273.2 219.4)"/>
<ellipse cx="260.4" cy="244.4" rx="1.2" ry="0.9" fill="#c85848" transform="rotate(70 260.4 244.4)"/>
<ellipse cx="289.4" cy="210.7" rx="1.7" ry="0.8" fill="#a83e34" transform="rotate(59 289.4 210.7)"/>
<ellipse cx="300.3" cy="197.3" rx="1.4" ry="0.8" fill="#c85848" transform="rotate(80 300.3 197.3)"/>
<ellipse cx="268.1" cy="220.7" rx="1.5" ry="1.0" fill="#d0604c" transform="rotate(12 268.1 220.7)"/>
<ellipse cx="259.8" cy="250.5" rx="1.2" ry="0.8" fill="#b8463a" transform="rotate(127 259.8 250.5)"/>
<ellipse cx="268.4" cy="232.4" rx="1.2" ry="0.9" fill="#b8463a" transform="rotate(14 268.4 232.4)"/>
<ellipse cx="291.9" cy="218.9" rx="1.2" ry="0.9" fill="#c4503e" transform="rotate(67 291.9 218.9)"/>
<ellipse cx="276.3" cy="240.0" rx="1.5" ry="0.8" fill="#b8463a" transform="rotate(50 276.3 240.0)"/>
<ellipse cx="274.2" cy="211.5" rx="1.4" ry="0.7" fill="#c4503e" transform="rotate(161 274.2 211.5)"/>
<ellipse cx="248.1" cy="240.9" rx="1.2" ry="0.7" fill="#c85848" transform="rotate(32 248.1 240.9)"/>
<ellipse cx="271.3" cy="211.7" rx="1.6" ry="0.9" fill="#c85848" transform="rotate(164 271.3 211.7)"/>
<ellipse cx="281.0" cy="230.1" rx="1.2" ry="0.9" fill="#a83e34" transform="rotate(7 281.0 230.1)"/>
<ellipse cx="273.0" cy="241.2" rx="1.3" ry="0.8" fill="#b8463a" transform="rotate(113 273.0 241.2)"/>
<ellipse cx="293.9" cy="221.5" rx="1.3" ry="0.9" fill="#b8463a" transform="rotate(74 293.9 221.5)"/>
<ellipse cx="267.1" cy="248.0" rx="1.6" ry="0.9" fill="#c4503e" transform="rotate(112 267.1 248.0)"/>
<ellipse cx="274.2" cy="235.4" rx="1.2" ry="1.0" fill="#c4503e" transform="rotate(156 274.2 235.4)"/>
<ellipse cx="284.8" cy="212.0" rx="1.2" ry="0.9" fill="#d0604c" transform="rotate(135 284.8 212.0)"/>
<ellipse cx="256.6" cy="231.7" rx="1.3" ry="0.8" fill="#d0604c" transform="rotate(173 256.6 231.7)"/>
<ellipse cx="249.7" cy="236.7" rx="1.3" ry="0.8" fill="#a83e34" transform="rotate(0 249.7 236.7)"/>
<ellipse cx="279.8" cy="209.9" rx="1.5" ry="0.8" fill="#a83e34" transform="rotate(164 279.8 209.9)"/>
<ellipse cx="245.5" cy="247.0" rx="1.4" ry="0.9" fill="#d0604c" transform="rotate(141 245.5 247.0)"/>
<ellipse cx="257.6" cy="229.3" rx="1.6" ry="1.1" fill="#d0604c" transform="rotate(75 257.6 229.3)"/>
<ellipse cx="285.9" cy="198.8" rx="1.5" ry="1.0" fill="#b8463a" transform="rotate(159 285.9 198.8)"/>
<ellipse cx="275.4" cy="225.5" rx="1.5" ry="0.9" fill="#d0604c" transform="rotate(76 275.4 225.5)"/>
<ellipse cx="282.5" cy="227.3" rx="1.3" ry="0.8" fill="#b8463a" transform="rotate(110 282.5 227.3)"/>
<ellipse cx="277.3" cy="212.4" rx="1.7" ry="0.9" fill="#b8463a" transform="rotate(86 277.3 212.4)"/>
<ellipse cx="282.8" cy="214.6" rx="1.2" ry="0.8" fill="#c4503e" transform="rotate(157 282.8 214.6)"/>
<ellipse cx="252.7" cy="244.0" rx="1.5" ry="1.0" fill="#a83e34" transform="rotate(140 252.7 244.0)"/>
<ellipse cx="262.8" cy="250.2" rx="1.2" ry="1.0" fill="#d0604c" transform="rotate(180 262.8 250.2)"/>
<ellipse cx="265.2" cy="232.8" rx="1.2" ry="1.1" fill="#d0604c" transform="rotate(45 265.2 232.8)"/>
<ellipse cx="297.4" cy="199.0" rx="1.4" ry="1.1" fill="#c85848" transform="rotate(22 297.4 199.0)"/>
<ellipse cx="285.1" cy="219.8" rx="1.7" ry="1.1" fill="#c85848" transform="rotate(114 285.1 219.8)"/>
<ellipse cx="261.3" cy="224.6" rx="1.1" ry="1.0" fill="#c85848" transform="rotate(124 261.3 224.6)"/>
<ellipse cx="261.5" cy="223.0" rx="1.2" ry="0.9" fill="#a83e34" transform="rotate(108 261.5 223.0)"/>
<ellipse cx="270.9" cy="234.1" rx="1.2" ry="1.1" fill="#b8463a" transform="rotate(139 270.9 234.1)"/>
<ellipse cx="289.5" cy="212.8" rx="1.5" ry="0.9" fill="#a83e34" transform="rotate(175 289.5 212.8)"/>
<ellipse cx="282.9" cy="214.5" rx="1.3" ry="0.9" fill="#a83e34" transform="rotate(36 282.9 214.5)"/>
<ellipse cx="275.3" cy="227.2" rx="1.2" ry="0.8" fill="#c85848" transform="rotate(49 275.3 227.2)"/>
<ellipse cx="298.0" cy="206.2" rx="1.6" ry="1.1" fill="#c4503e" transform="rotate(26 298.0 206.2)"/>
<ellipse cx="286.8" cy="203.5" rx="1.3" ry="1.0" fill="#d0604c" transform="rotate(106 286.8 203.5)"/>
<ellipse cx="297.0" cy="206.1" rx="1.1" ry="0.9" fill="#c85848" transform="rotate(14 297.0 206.1)"/>
<ellipse cx="288.0" cy="202.5" rx="1.3" ry="1.1" fill="#c85848" transform="rotate(8 288.0 202.5)"/>
<ellipse cx="270.1" cy="224.2" rx="1.3" ry="1.0" fill="#b8463a" transform="rotate(26 270.1 224.2)"/>
<ellipse cx="280.3" cy="210.2" rx="1.5" ry="1.1" fill="#a83e34" transform="rotate(159 280.3 210.2)"/>
<ellipse cx="252.9" cy="240.2" rx="1.5" ry="1.0" fill="#b8463a" transform="rotate(135 252.9 240.2)"/>
<ellipse cx="254.1" cy="245.1" rx="1.6" ry="0.7" fill="#c4503e" transform="rotate(57 254.1 245.1)"/>
<ellipse cx="268.4" cy="247.8" rx="1.3" ry="0.7" fill="#a83e34" transform="rotate(102 268.4 247.8)"/>
<ellipse cx="294.5" cy="210.1" rx="1.3" ry="0.9" fill="#a83e34" transform="rotate(91 294.5 210.1)"/>
<ellipse cx="300.1" cy="201.9" rx="1.1" ry="0.9" fill="#d0604c" transform="rotate(131 300.1 201.9)"/>
<ellipse cx="275.1" cy="240.0" rx="1.4" ry="1.0" fill="#c85848" transform="rotate(141 275.1 240.0)"/>
<ellipse cx="290.0" cy="222.9" rx="1.3" ry="0.8" fill="#c85848" transform="rotate(152 290.0 222.9)"/>
<ellipse cx="272.0" cy="241.9" rx="1.4" ry="1.1" fill="#b8463a" transform="rotate(101 272.0 241.9)"/>
<ellipse cx="252.9" cy="245.0" rx="1.4" ry="0.7" fill="#b8463a" transform="rotate(145 252.9 245.0)"/>
<ellipse cx="281.5" cy="225.4" rx="1.2" ry="1.0" fill="#b8463a" transform="rotate(73 281.5 225.4)"/>
<ellipse cx="275.4" cy="230.9" rx="1.4" ry="1.0" fill="#a83e34" transform="rotate(148 275.4 230.9)"/>
<ellipse cx="284.7" cy="216.6" rx="1.3" ry="0.8" fill="#c85848" transform="rotate(21 284.7 216.6)"/>
<ellipse cx="288.1" cy="227.5" rx="1.5" ry="0.7" fill="#b8463a" transform="rotate(73 288.1 227.5)"/>
<ellipse cx="254.1" cy="232.2" rx="1.4" ry="0.8" fill="#c85848" transform="rotate(61 254.1 232.2)"/>
<ellipse cx="248.3" cy="254.5" rx="1.6" ry="0.8" fill="#c4503e" transform="rotate(80 248.3 254.5)"/>
<ellipse cx="266.3" cy="237.2" rx="1.5" ry="0.8" fill="#c85848" transform="rotate(68 266.3 237.2)"/>
<ellipse cx="267.2" cy="227.9" rx="1.4" ry="0.8" fill="#c85848" transform="rotate(71 267.2 227.9)"/>
<ellipse cx="285.2" cy="226.5" rx="1.1" ry="1.1" fill="#b8463a" transform="rotate(19 285.2 226.5)"/>
<ellipse cx="295.9" cy="206.5" rx="1.5" ry="0.8" fill="#c4503e" transform="rotate(76 295.9 206.5)"/>
<ellipse cx="261.7" cy="234.4" rx="1.6" ry="1.0" fill="#c85848" transform="rotate(45 261.7 234.4)"/>
<ellipse cx="293.2" cy="202.3" rx="1.6" ry="0.8" fill="#d0604c" transform="rotate(170 293.2 202.3)"/>
<ellipse cx="281.3" cy="235.6" rx="1.4" ry="1.1" fill="#c85848" transform="rotate(17 281.3 235.6)"/>
<ellipse cx="277.5" cy="231.2" rx="1.5" ry="0.7" fill="#d0604c" transform="rotate(87 277.5 231.2)"/>
<ellipse cx="270.9" cy="212.1" rx="1.4" ry="1.0" fill="#c85848" transform="rotate(48 270.9 212.1)"/>
<ellipse cx="275.4" cy="241.8" rx="1.6" ry="0.8" fill="#a83e34" transform="rotate(95 275.4 241.8)"/>
<ellipse cx="285.7" cy="207.0" rx="1.5" ry="1.0" fill="#d0604c" transform="rotate(50 285.7 207.0)"/>
<ellipse cx="248.7" cy="241.3" rx="1.3" ry="0.8" fill="#b8463a" transform="rotate(62 248.7 241.3)"/>
<ellipse cx="262.2" cy="239.8" rx="1.7" ry="0.8" fill="#a83e34" transform="rotate(26 262.2 239.8)"/>
<ellipse cx="266.8" cy="230.7" rx="1.1" ry="0.9" fill="#c4503e" transform="rotate(102 266.8 230.7)"/>
<ellipse cx="267.6" cy="222.3" rx="1.5" ry="0.8" fill="#c4503e" transform="rotate(170 267.6 222.3)"/>
<ellipse cx="259.6" cy="237.9" rx="1.3" ry="1.1" fill="#b8463a" transform="rotate(114 259.6 237.9)"/>
<ellipse cx="300.6" cy="210.6" rx="1.2" ry="0.9" fill="#d0604c" transform="rotate(171 300.6 210.6)"/>
<ellipse cx="282.9" cy="233.3" rx="1.3" ry="0.8" fill="#a83e34" transform="rotate(73 282.9 233.3)"/>
<ellipse cx="288.5" cy="213.7" rx="1.6" ry="1.1" fill="#c85848" transform="rotate(172 288.5 213.7)"/>
<ellipse cx="272.8" cy="207.9" rx="1.4" ry="0.9" fill="#c85848" transform="rotate(95 272.8 207.9)"/>
<ellipse cx="256.7" cy="238.1" rx="1.3" ry="1.0" fill="#c4503e" transform="rotate(27 256.7 238.1)"/>
<ellipse cx="285.4" cy="225.7" rx="1.5" ry="0.9" fill="#b8463a" transform="rotate(67 285.4 225.7)"/>
<ellipse cx="284.4" cy="219.1" rx="1.1" ry="0.8" fill="#c85848" transform="rotate(28 284.4 219.1)"/>
<ellipse cx="296.3" cy="215.1" rx="1.3" ry="1.0" fill="#d0604c" transform="rotate(133 296.3 215.1)"/>
<ellipse cx="292.9" cy="211.1" rx="1.1" ry="0.7" fill="#a83e34" transform="rotate(9 292.9 211.1)"/>
<ellipse cx="264.7" cy="245.2" rx="1.4" ry="1.1" fill="#d0604c" transform="rotate(138 264.7 245.2)"/>
<ellipse cx="294.2" cy="210.5" rx="1.6" ry="1.1" fill="#c85848" transform="rotate(99 294.2 210.5)"/>
<ellipse cx="264.3" cy="243.1" rx="1.1" ry="0.9" fill="#a83e34" transform="rotate(69 264.3 243.1)"/>
<ellipse cx="282.4" cy="220.1" rx="1.7" ry="0.9" fill="#c4503e" transform="rotate(125 282.4 220.1)"/>
<ellipse cx="289.7" cy="215.0" rx="1.4" ry="0.7" fill="#b8463a" transform="rotate(130 289.7 215.0)"/>
<ellipse cx="270.2" cy="223.0" rx="1.3" ry="1.1" fill="#b8463a" transform="rotate(15 270.2 223.0)"/>
<ellipse cx="286.3" cy="204.4" rx="1.7" ry="0.8" fill="#a83e34" transform="rotate(30 286.3 204.4)"/>
<ellipse cx="285.0" cy="220.9" rx="1.7" ry="0.8" fill="#d0604c" transform="rotate(21 285.0 220.9)"/>
<ellipse cx="248.5" cy="246.4" rx="1.2" ry="1.0" fill="#c85848" transform="rotate(93 248.5 246.4)"/>
<ellipse cx="283.5" cy="214.4" rx="1.6" ry="1.0" fill="#c4503e" transform="rotate(58 283.5 214.4)"/>
<ellipse cx="254.9" cy="244.2" rx="1.5" ry="0.8" fill="#a83e34" transform="rotate(123 254.9 244.2)"/>
<ellipse cx="293.5" cy="223.7" rx="1.4" ry="0.9" fill="#c4503e" transform="rotate(163 293.5 223.7)"/>
<ellipse cx="268.8" cy="223.1" rx="1.6" ry="0.8" fill="#d0604c" transform="rotate(118 268.8 223.1)"/>
<ellipse cx="278.0" cy="240.8" rx="1.2" ry="1.0" fill="#b8463a" transform="rotate(112 278.0 240.8)"/>
<ellipse cx="245.8" cy="249.7" rx="1.7" ry="0.7" fill="#d0604c" transform="rotate(122 245.8 249.7)"/>
<ellipse cx="298.4" cy="200.8" rx="1.3" ry="0.9" fill="#c4503e" transform="rotate(54 298.4 200.8)"/>
<ellipse cx="281.5" cy="226.8" rx="1.4" ry="0.9" fill="#c4503e" transform="rotate(22 281.5 226.8)"/>
<ellipse cx="263.2" cy="230.1" rx="1.2" ry="0.9" fill="#d0604c" transform="rotate(95 263.2 230.1)"/>
<ellipse cx="292.4" cy="200.7" rx="1.4" ry="0.9" fill="#c85848" transform="rotate(161 292.4 200.7)"/>
<ellipse cx="285.1" cy="214.8" rx="1.6" ry="0.9" fill="#c85848" transform="rotate(87 285.1 214.8)"/>
<ellipse cx="259.9" cy="229.4" rx="1.7" ry="0.9" fill="#a83e34" transform="rotate(54 259.9 229.4)"/>
<ellipse cx="283.8" cy="228.6" rx="1.5" ry="0.9" fill="#b8463a" transform="rotate(100 283.8 228.6)"/>
<ellipse cx="251.9" cy="230.8" rx="1.2" ry="0.8" fill="#c85848" transform="rotate(35 251.9 230.8)"/>
<ellipse cx="280.3" cy="218.9" rx="1.4" ry="0.7" fill="#a83e34" transform="rotate(131 280.3 218.9)"/>
<ellipse cx="265.7" cy="239.0" rx="1.2" ry="0.9" fill="#c85848" transform="rotate(79 265.7 239.0)"/>
<ellipse cx="272.1" cy="230.9" rx="1.2" ry="0.8" fill="#b8463a" transform="rotate(160 272.1 230.9)"/>
<ellipse cx="268.2" cy="238.6" rx="1.5" ry="0.8" fill="#c4503e" transform="rotate(156 268.2 238.6)"/>
<ellipse cx="277.1" cy="234.3" rx="1.4" ry="0.7" fill="#b8463a" transform="rotate(49 277.1 234.3)"/>
<ellipse cx="281.2" cy="232.4" rx="1.4" ry="0.8" fill="#d0604c" transform="rotate(61 281.2 232.4)"/>
<ellipse cx="273.8" cy="230.3" rx="1.3" ry="0.8" fill="#a83e34" transform="rotate(79 273.8 230.3)"/>
<ellipse cx="281.9" cy="209.6" rx="1.6" ry="0.9" fill="#a83e34" transform="rotate(116 281.9 209.6)"/>
<ellipse cx="262.2" cy="243.0" rx="1.3" ry="1.0" fill="#c4503e" transform="rotate(89 262.2 243.0)"/>
<ellipse cx="263.6" cy="221.3" rx="1.5" ry="1.1" fill="#c4503e" transform="rotate(152 263.6 221.3)"/>
<ellipse cx="270.1" cy="213.2" rx="1.3" ry="0.8" fill="#c85848" transform="rotate(128 270.1 213.2)"/>
<ellipse cx="279.4" cy="202.0" rx="1.5" ry="0.7" fill="#d0604c" transform="rotate(53 279.4 202.0)"/>
<ellipse cx="248.6" cy="246.6" rx="1.5" ry="0.9" fill="#a83e34" transform="rotate(28 248.6 246.6)"/>
<ellipse cx="260.3" cy="226.7" rx="1.5" ry="0.9" fill="#a83e34" transform="rotate(129 260.3 226.7)"/>
<ellipse cx="283.3" cy="205.2" rx="1.3" ry="1.0" fill="#a83e34" transform="rotate(120 283.3 205.2)"/>
<ellipse cx="252.9" cy="248.0" rx="1.5" ry="1.1" fill="#b8463a" transform="rotate(41 252.9 248.0)"/>
<ellipse cx="257.4" cy="232.3" rx="1.3" ry="0.8" fill="#a83e34" transform="rotate(39 257.4 232.3)"/>
<ellipse cx="290.9" cy="206.6" rx="1.7" ry="0.8" fill="#c4503e" transform="rotate(173 290.9 206.6)"/>
<ellipse cx="278.9" cy="209.8" rx="1.1" ry="0.9" fill="#b8463a" transform="rotate(118 278.9 209.8)"/>
<ellipse cx="262.8" cy="226.2" rx="1.1" ry="1.0" fill="#c4503e" transform="rotate(154 262.8 226.2)"/>
<ellipse cx="291.7" cy="211.4" rx="1.6" ry="0.9" fill="#a83e34" transform="rotate(129 291.7 211.4)"/>
<ellipse cx="263.1" cy="250.2" rx="1.6" ry="1.0" fill="#c85848" transform="rotate(39 263.1 250.2)"/>
<ellipse cx="288.8" cy="212.4" rx="1.4" ry="0.9" fill="#c4503e" transform="rotate(29 288.8 212.4)"/>
<ellipse cx="255.7" cy="225.1" rx="1.2" ry="1.0" fill="#c4503e" transform="rotate(30 255.7 225.1)"/>
<ellipse cx="275.4" cy="219.4" rx="1.3" ry="0.8" fill="#a83e34" transform="rotate(53 275.4 219.4)"/>
<ellipse cx="253.5" cy="245.6" rx="1.2" ry="0.8" fill="#c4503e" transform="rotate(107 253.5 245.6)"/>
<ellipse cx="272.1" cy="234.4" rx="1.6" ry="0.9" fill="#c85848" transform="rotate(148 272.1 234.4)"/>
<ellipse cx="290.5" cy="201.2" rx="1.3" ry="0.8" fill="#c4503e" transform="rotate(50 290.5 201.2)"/>
<ellipse cx="251.8" cy="250.9" rx="1.6" ry="0.8" fill="#b8463a" transform="rotate(2 251.8 250.9)"/>
<ellipse cx="259.1" cy="224.2" rx="1.6" ry="1.0" fill="#b8463a" transform="rotate(4 259.1 224.2)"/>
<ellipse cx="259.8" cy="232.1" rx="1.6" ry="0.8" fill="#c4503e" transform="rotate(81 259.8 232.1)"/>
<ellipse cx="259.3" cy="242.8" rx="1.7" ry="1.0" fill="#c4503e" transform="rotate(90 259.3 242.8)"/>
<ellipse cx="275.7" cy="216.1" rx="1.4" ry="1.0" fill="#c4503e" transform="rotate(161 275.7 216.1)"/>
<ellipse cx="297.9" cy="203.6" rx="1.5" ry="0.7" fill="#c4503e" transform="rotate(53 297.9 203.6)"/>
<ellipse cx="287.7" cy="208.0" rx="1.7" ry="1.0" fill="#c4503e" transform="rotate(80 287.7 208.0)"/>
<ellipse cx="272.6" cy="225.5" rx="1.3" ry="1.0" fill="#c4503e" transform="rotate(44 272.6 225.5)"/>
<ellipse cx="267.9" cy="246.5" rx="1.1" ry="0.8" fill="#b8463a" transform="rotate(75 267.9 246.5)"/>
<ellipse cx="261.0" cy="246.6" rx="1.7" ry="0.8" fill="#a83e34" transform="rotate(135 261.0 246.6)"/>
<ellipse cx="278.6" cy="214.8" rx="1.3" ry="0.8" fill="#d0604c" transform="rotate(57 278.6 214.8)"/>
<ellipse cx="278.9" cy="239.3" rx="1.2" ry="0.7" fill="#b8463a" transform="rotate(76 278.9 239.3)"/>
<ellipse cx="257.5" cy="223.4" rx="1.7" ry="1.1" fill="#c85848" transform="rotate(82 257.5 223.4)"/>
<ellipse cx="276.3" cy="210.9" rx="1.5" ry="0.9" fill="#c4503e" transform="rotate(40 276.3 210.9)"/>
<ellipse cx="260.9" cy="246.6" rx="1.4" ry="0.9" fill="#b8463a" transform="rotate(148 260.9 246.6)"/>
<ellipse cx="296.1" cy="209.3" rx="1.2" ry="1.0" fill="#d0604c" transform="rotate(129 296.1 209.3)"/>
<ellipse cx="277.8" cy="240.0" rx="1.5" ry="0.8" fill="#d0604c" transform="rotate(159 277.8 240.0)"/>
<ellipse cx="280.7" cy="211.8" rx="1.6" ry="1.1" fill="#d0604c" transform="rotate(16 280.7 211.8)"/>
<ellipse cx="252.8" cy="233.7" rx="1.5" ry="1.1" fill="#d0604c" transform="rotate(0 252.8 233.7)"/>
<ellipse cx="246.3" cy="252.2" rx="1.5" ry="0.9" fill="#b8463a" transform="rotate(167 246.3 252.2)"/>
<ellipse cx="300.7" cy="210.3" rx="1.2" ry="0.9" fill="#a83e34" transform="rotate(153 300.7 210.3)"/>
<ellipse cx="250.5" cy="252.7" rx="1.5" ry="0.9" fill="#c4503e" transform="rotate(100 250.5 252.7)"/>
<ellipse cx="300.0" cy="209.5" rx="1.7" ry="1.1" fill="#c85848" transform="rotate(152 300.0 209.5)"/>
<ellipse cx="267.6" cy="229.1" rx="1.4" ry="0.7" fill="#a83e34" transform="rotate(114 267.6 229.1)"/>
<ellipse cx="284.3" cy="200.9" rx="1.6" ry="1.0" fill="#b8463a" transform="rotate(176 284.3 200.9)"/>
<ellipse cx="265.9" cy="246.0" rx="1.7" ry="1.0" fill="#a83e34" transform="rotate(135 265.9 246.0)"/>
<ellipse cx="271.7" cy="246.6" rx="1.5" ry="0.7" fill="#c85848" transform="rotate(87 271.7 246.6)"/>
<ellipse cx="249.6" cy="250.5" rx="1.2" ry="0.8" fill="#d0604c" transform="rotate(168 249.6 250.5)"/>
<ellipse cx="273.1" cy="234.7" rx="1.2" ry="1.0" fill="#c4503e" transform="rotate(140 273.1 234.7)"/>
<ellipse cx="282.5" cy="232.3" rx="1.1" ry="1.0" fill="#c4503e" transform="rotate(15 282.5 232.3)"/>
<ellipse cx="259.8" cy="230.5" rx="1.6" ry="0.9" fill="#a83e34" transform="rotate(122 259.8 230.5)"/>
<ellipse cx="252.7" cy="247.9" rx="1.3" ry="0.9" fill="#c4503e" transform="rotate(29 252.7 247.9)"/>
<ellipse cx="264.8" cy="250.2" rx="1.2" ry="1.0" fill="#b8463a" transform="rotate(91 264.8 250.2)"/>
<ellipse cx="266.4" cy="218.1" rx="1.2" ry="0.9" fill="#c4503e" transform="rotate(171 266.4 218.1)"/>
<ellipse cx="270.4" cy="227.8" rx="1.3" ry="0.9" fill="#d0604c" transform="rotate(15 270.4 227.8)"/>
<ellipse cx="287.4" cy="199.9" rx="1.1" ry="0.8" fill="#b8463a" transform="rotate(99 287.4 199.9)"/>
<ellipse cx="281.5" cy="221.8" rx="1.5" ry="0.8" fill="#a83e34" transform="rotate(99 281.5 221.8)"/>
<ellipse cx="273.6" cy="234.0" rx="1.6" ry="0.8" fill="#b8463a" transform="rotate(138 273.6 234.0)"/>
<ellipse cx="229" cy="176" rx="8" ry="8" fill="#ffffff" stroke="#c890a8" stroke-width="0.6"/>
<ellipse cx="239" cy="204" rx="13" ry="9.5" fill="#ffffff" stroke="#c890a8" stroke-width="0.6"/>
<ellipse cx="270" cy="181" rx="8" ry="8" fill="#ffffff" stroke="#c890a8" stroke-width="0.6"/>
<ellipse cx="284" cy="198" rx="5" ry="5" fill="#ffffff" stroke="#c890a8" stroke-width="0.6"/>
<ellipse cx="257" cy="196" rx="4.5" ry="4.5" fill="#ffffff" stroke="#c890a8" stroke-width="0.6"/>
<ellipse cx="224" cy="191" rx="3" ry="3" fill="#ffffff" stroke="#c890a8" stroke-width="0.6"/>
<ellipse cx="231" cy="222" rx="4" ry="4" fill="#ffffff" stroke="#c890a8" stroke-width="0.6"/>
<ellipse cx="224" cy="242" rx="3" ry="3" fill="#ffffff" stroke="#c890a8" stroke-width="0.6"/>
<ellipse cx="262" cy="168" rx="3" ry="3" fill="#ffffff" stroke="#c890a8" stroke-width="0.6"/>
<ellipse cx="247" cy="185" rx="3" ry="3" fill="#ffffff" stroke="#c890a8" stroke-width="0.6"/>
<ellipse cx="300" cy="177" rx="3.5" ry="3.5" fill="#ffffff" stroke="#c890a8" stroke-width="0.6"/>
<circle cx="252" cy="163" r="12" fill="#ecdcee" stroke="#b890c0" stroke-width="0.6"/>
<path d="M262.6,164.0 L261.8,167.9 L258.2,169.6 L255.0,170.9 L251.7,169.7 L247.8,168.2 L247.8,164.0 L248.9,160.5 L250.8,156.8 L255.0,156.1 L259.0,157.0 L261.2,160.4Z" fill="#5a1c1e" stroke="#5a1c1e" stroke-width="2" stroke-linejoin="round"/>
<circle cx="257.6" cy="168.7" r="0.4" fill="#8a5a9a"/>
<circle cx="259.1" cy="167.1" r="0.4" fill="#8a5a9a"/>
<circle cx="243.8" cy="165.6" r="0.4" fill="#8a5a9a"/>
<circle cx="260.8" cy="161.8" r="0.4" fill="#8a5a9a"/>
<circle cx="255.5" cy="169.0" r="0.4" fill="#8a5a9a"/>
<circle cx="248.2" cy="155.1" r="0.4" fill="#8a5a9a"/>
<circle cx="244.7" cy="167.7" r="0.4" fill="#8a5a9a"/>
<circle cx="243.9" cy="168.2" r="0.4" fill="#8a5a9a"/>
<circle cx="246.8" cy="159.6" r="0.4" fill="#8a5a9a"/>
<circle cx="244.7" cy="163.2" r="0.4" fill="#8a5a9a"/>
<circle cx="244.6" cy="158.8" r="0.4" fill="#8a5a9a"/>
<circle cx="252.8" cy="151.8" r="0.4" fill="#8a5a9a"/>
<circle cx="251.5" cy="153.7" r="0.4" fill="#8a5a9a"/>
<circle cx="245.4" cy="162.7" r="0.4" fill="#8a5a9a"/>
<circle cx="251.1" cy="156.0" r="0.4" fill="#8a5a9a"/>
<circle cx="245.3" cy="169.3" r="0.4" fill="#8a5a9a"/>
<circle cx="251.0" cy="173.6" r="0.4" fill="#8a5a9a"/>
<circle cx="241.2" cy="159.8" r="0.4" fill="#8a5a9a"/>
<circle cx="260.4" cy="164.2" r="0.4" fill="#8a5a9a"/>
<circle cx="248.0" cy="171.2" r="0.4" fill="#8a5a9a"/>
<circle cx="246.5" cy="155.6" r="0.4" fill="#8a5a9a"/>
<circle cx="259.8" cy="159.9" r="0.4" fill="#8a5a9a"/>
<circle cx="245.1" cy="170.3" r="0.4" fill="#8a5a9a"/>
<circle cx="245.0" cy="160.5" r="0.4" fill="#8a5a9a"/>
<circle cx="258.4" cy="159.6" r="0.4" fill="#8a5a9a"/>
<circle cx="232" cy="242" r="13" fill="#ecdcee" stroke="#b890c0" stroke-width="0.6"/>
<path d="M241.7,243.0 L241.8,246.9 L239.4,250.7 L235.0,251.7 L230.7,250.5 L228.0,247.0 L227.2,243.0 L228.7,239.4 L231.5,237.0 L235.0,235.3 L239.3,235.5 L241.9,239.0Z" fill="#5a1c1e" stroke="#5a1c1e" stroke-width="2" stroke-linejoin="round"/>
<circle cx="243.1" cy="240.7" r="0.4" fill="#8a5a9a"/>
<circle cx="222.4" cy="239.3" r="0.4" fill="#8a5a9a"/>
<circle cx="221.7" cy="247.8" r="0.4" fill="#8a5a9a"/>
<circle cx="235.8" cy="235.5" r="0.4" fill="#8a5a9a"/>
<circle cx="240.5" cy="235.9" r="0.4" fill="#8a5a9a"/>
<circle cx="225.1" cy="250.4" r="0.4" fill="#8a5a9a"/>
<circle cx="222.7" cy="247.0" r="0.4" fill="#8a5a9a"/>
<circle cx="221.8" cy="241.7" r="0.4" fill="#8a5a9a"/>
<circle cx="242.3" cy="236.4" r="0.4" fill="#8a5a9a"/>
<circle cx="223.3" cy="243.1" r="0.4" fill="#8a5a9a"/>
<circle cx="229.7" cy="231.8" r="0.4" fill="#8a5a9a"/>
<circle cx="239.8" cy="247.3" r="0.4" fill="#8a5a9a"/>
<circle cx="230.1" cy="252.1" r="0.4" fill="#8a5a9a"/>
<circle cx="236.1" cy="249.1" r="0.4" fill="#8a5a9a"/>
<circle cx="231.9" cy="250.1" r="0.4" fill="#8a5a9a"/>
<circle cx="221.4" cy="237.4" r="0.4" fill="#8a5a9a"/>
<circle cx="225.5" cy="234.0" r="0.4" fill="#8a5a9a"/>
<circle cx="232.6" cy="233.2" r="0.4" fill="#8a5a9a"/>
<circle cx="222.7" cy="246.5" r="0.4" fill="#8a5a9a"/>
<circle cx="234.9" cy="252.5" r="0.4" fill="#8a5a9a"/>
<circle cx="242.2" cy="236.5" r="0.4" fill="#8a5a9a"/>
<circle cx="242.9" cy="246.7" r="0.4" fill="#8a5a9a"/>
<circle cx="233.2" cy="249.2" r="0.4" fill="#8a5a9a"/>
<circle cx="225.7" cy="236.3" r="0.4" fill="#8a5a9a"/>
<circle cx="236.3" cy="251.1" r="0.4" fill="#8a5a9a"/>
<circle cx="267.5" cy="205.1" r="2.4" fill="#e8e8f4" stroke="#5a6aa8" stroke-width="0.7"/><circle cx="267.5" cy="205.1" r="1.2" fill="#a03030"/>
<circle cx="277.4" cy="157.6" r="1.8" fill="#9a2a2a"/>
<circle cx="281.4" cy="171.3" r="0.8" fill="#3a3a5a"/>
<circle cx="304.0" cy="194.5" r="0.8" fill="#3a3a5a"/>
<circle cx="222.3" cy="204.5" r="2.2" fill="#b8505a"/>
<circle cx="218.8" cy="171.4" r="0.8" fill="#3a3a5a"/>
<circle cx="251.5" cy="149.3" r="1.7" fill="#9a2a2a"/>
<circle cx="265.7" cy="209.6" r="0.8" fill="#3a3a5a"/>
<circle cx="274.5" cy="159.6" r="2.4" fill="#e8e8f4" stroke="#5a6aa8" stroke-width="0.7"/><circle cx="274.5" cy="159.6" r="1.2" fill="#a03030"/>
<circle cx="286.1" cy="240.7" r="0.8" fill="#3a3a5a"/>
<circle cx="226.9" cy="196.4" r="0.8" fill="#3a3a5a"/>
<circle cx="282.9" cy="238.8" r="2.4" fill="#e8e8f4" stroke="#5a6aa8" stroke-width="0.7"/><circle cx="282.9" cy="238.8" r="1.2" fill="#a03030"/>
<circle cx="298.4" cy="230.1" r="2.4" fill="#e8e8f4" stroke="#5a6aa8" stroke-width="0.7"/><circle cx="298.4" cy="230.1" r="1.2" fill="#a03030"/>
<circle cx="297.1" cy="244.9" r="2.0" fill="#b8505a"/>
<circle cx="219.7" cy="201.0" r="1.8" fill="#9a2a2a"/>
<circle cx="279.2" cy="176.1" r="1.6" fill="#b8505a"/>
<circle cx="247.3" cy="192.6" r="2.4" fill="#e8e8f4" stroke="#5a6aa8" stroke-width="0.7"/><circle cx="247.3" cy="192.6" r="1.2" fill="#a03030"/>
<circle cx="289.4" cy="255.0" r="1.6" fill="#9a2a2a"/>
<circle cx="265.8" cy="145.8" r="0.8" fill="#3a3a5a"/>
<circle cx="219.6" cy="211.5" r="0.8" fill="#3a3a5a"/>
<circle cx="246.0" cy="146.9" r="1.6" fill="#b8505a"/>
<circle cx="270.8" cy="204.7" r="0.8" fill="#3a3a5a"/>
<circle cx="271.1" cy="168.7" r="0.8" fill="#3a3a5a"/>
<circle cx="247.7" cy="179.5" r="2.0" fill="#9a2a2a"/>
<circle cx="278.2" cy="160.1" r="0.8" fill="#3a3a5a"/>
<circle cx="217.8" cy="212.4" r="0.8" fill="#3a3a5a"/>
<circle cx="268.8" cy="201.7" r="2.4" fill="#e8e8f4" stroke="#5a6aa8" stroke-width="0.7"/><circle cx="268.8" cy="201.7" r="1.2" fill="#a03030"/>
<circle cx="245.0" cy="178.7" r="0.8" fill="#3a3a5a"/>
<circle cx="277.4" cy="153.0" r="2.4" fill="#e8e8f4" stroke="#5a6aa8" stroke-width="0.7"/><circle cx="277.4" cy="153.0" r="1.2" fill="#a03030"/>
<circle cx="257.0" cy="212.1" r="2.1" fill="#b8505a"/>
<circle cx="268.4" cy="206.1" r="2.4" fill="#e8e8f4" stroke="#5a6aa8" stroke-width="0.7"/><circle cx="268.4" cy="206.1" r="1.2" fill="#a03030"/>
<circle cx="306.5" cy="208.0" r="2.4" fill="#e8e8f4" stroke="#5a6aa8" stroke-width="0.7"/><circle cx="306.5" cy="208.0" r="1.2" fill="#a03030"/>
<circle cx="250.9" cy="196.2" r="1.8" fill="#9a2a2a"/>
<circle cx="241.3" cy="153.6" r="2.4" fill="#e8e8f4" stroke="#5a6aa8" stroke-width="0.7"/><circle cx="241.3" cy="153.6" r="1.2" fill="#a03030"/>
<circle cx="218.6" cy="219.4" r="2.1" fill="#b8505a"/>
<circle cx="246.4" cy="175.4" r="2.4" fill="#e8e8f4" stroke="#5a6aa8" stroke-width="0.7"/><circle cx="246.4" cy="175.4" r="1.2" fill="#a03030"/>
<circle cx="244.0" cy="226.1" r="2.1" fill="#9a2a2a"/>
<circle cx="300.7" cy="222.1" r="1.9" fill="#b8505a"/>
<circle cx="271.6" cy="204.4" r="0.8" fill="#3a3a5a"/>
<circle cx="274.0" cy="203.0" r="0.8" fill="#3a3a5a"/>
<circle cx="241.1" cy="187.3" r="2.0" fill="#9a2a2a"/>
<circle cx="295.1" cy="227.4" r="0.8" fill="#3a3a5a"/>
<circle cx="236.1" cy="227.0" r="0.8" fill="#3a3a5a"/>
<circle cx="218.9" cy="204.3" r="2.1" fill="#b8505a"/>
<circle cx="267.4" cy="146.5" r="2.4" fill="#e8e8f4" stroke="#5a6aa8" stroke-width="0.7"/><circle cx="267.4" cy="146.5" r="1.2" fill="#a03030"/>
<circle cx="217.0" cy="246.5" r="0.8" fill="#3a3a5a"/>
<circle cx="269.7" cy="158.0" r="2.0" fill="#9a2a2a"/>
<circle cx="227.9" cy="187.2" r="0.8" fill="#3a3a5a"/>
<circle cx="291.8" cy="185.9" r="0.8" fill="#3a3a5a"/>
<circle cx="268.5" cy="194.9" r="2.1" fill="#b8505a"/>
<circle cx="248.8" cy="213.5" r="2.2" fill="#9a2a2a"/>
<circle cx="310.1" cy="221.6" r="1.9" fill="#b8505a"/>
<circle cx="237.0" cy="162.0" r="0.8" fill="#3a3a5a"/>
<circle cx="287.0" cy="190.0" r="2.4" fill="#e8e8f4" stroke="#5a6aa8" stroke-width="0.7"/><circle cx="287.0" cy="190.0" r="1.2" fill="#a03030"/>
<circle cx="245.1" cy="218.4" r="2.4" fill="#e8e8f4" stroke="#5a6aa8" stroke-width="0.7"/><circle cx="245.1" cy="218.4" r="1.2" fill="#a03030"/>
<circle cx="219.7" cy="169.0" r="1.7" fill="#9a2a2a"/>
<circle cx="289.8" cy="183.4" r="2.4" fill="#e8e8f4" stroke="#5a6aa8" stroke-width="0.7"/><circle cx="289.8" cy="183.4" r="1.2" fill="#a03030"/>
<circle cx="242.7" cy="191.1" r="0.8" fill="#3a3a5a"/>
<circle cx="240.2" cy="192.5" r="0.8" fill="#3a3a5a"/>
<circle cx="252.5" cy="256.8" r="2.1" fill="#b8505a"/>
<circle cx="220.2" cy="220.1" r="0.8" fill="#3a3a5a"/>
<circle cx="217.3" cy="241.7" r="2.4" fill="#e8e8f4" stroke="#5a6aa8" stroke-width="0.7"/><circle cx="217.3" cy="241.7" r="1.2" fill="#a03030"/>
<circle cx="250.9" cy="223.3" r="0.8" fill="#3a3a5a"/>
<circle cx="311.5" cy="225.4" r="0.8" fill="#3a3a5a"/>
<circle cx="282.0" cy="247.4" r="1.5" fill="#9a2a2a"/>
<circle cx="266.2" cy="190.1" r="0.8" fill="#3a3a5a"/>
<circle cx="276.0" cy="170.2" r="1.8" fill="#b8505a"/>
<circle cx="269.0" cy="197.3" r="0.8" fill="#3a3a5a"/>
<circle cx="221.9" cy="185.3" r="0.8" fill="#3a3a5a"/>
<circle cx="299.5" cy="190.4" r="1.7" fill="#9a2a2a"/>
<circle cx="300.7" cy="246.8" r="0.8" fill="#3a3a5a"/>
<circle cx="298.2" cy="221.2" r="2.2" fill="#b8505a"/>
<circle cx="232.1" cy="227.8" r="2.4" fill="#e8e8f4" stroke="#5a6aa8" stroke-width="0.7"/><circle cx="232.1" cy="227.8" r="1.2" fill="#a03030"/>
<circle cx="219.5" cy="218.7" r="2.1" fill="#9a2a2a"/>
<circle cx="257.9" cy="150.3" r="1.6" fill="#b8505a"/>
<circle cx="290.4" cy="231.4" r="0.8" fill="#3a3a5a"/>
<circle cx="251.9" cy="180.9" r="2.0" fill="#9a2a2a"/>
<circle cx="216.5" cy="205.2" r="1.7" fill="#b8505a"/>
<circle cx="306.1" cy="227.5" r="2.4" fill="#e8e8f4" stroke="#5a6aa8" stroke-width="0.7"/><circle cx="306.1" cy="227.5" r="1.2" fill="#a03030"/>
<circle cx="234.1" cy="216.3" r="0.8" fill="#3a3a5a"/>
<circle cx="285.4" cy="182.3" r="0.8" fill="#3a3a5a"/>
<circle cx="287.1" cy="234.7" r="2.4" fill="#e8e8f4" stroke="#5a6aa8" stroke-width="0.7"/><circle cx="287.1" cy="234.7" r="1.2" fill="#a03030"/>
<circle cx="304.1" cy="197.6" r="0.8" fill="#3a3a5a"/>
<circle cx="269.8" cy="206.6" r="0.8" fill="#3a3a5a"/>
<circle cx="303.3" cy="255.8" r="0.8" fill="#3a3a5a"/>
<circle cx="270.8" cy="154.3" r="1.7" fill="#9a2a2a"/>
<circle cx="251.2" cy="191.3" r="1.5" fill="#b8505a"/>
<circle cx="307.3" cy="207.1" r="1.8" fill="#9a2a2a"/>
<circle cx="305.6" cy="215.4" r="0.8" fill="#3a3a5a"/>
<circle cx="265.8" cy="164.9" r="1.6" fill="#b8505a"/>
<circle cx="224.2" cy="159.3" r="1.6" fill="#9a2a2a"/>
<circle cx="264.1" cy="149.6" r="2.4" fill="#e8e8f4" stroke="#5a6aa8" stroke-width="0.7"/><circle cx="264.1" cy="149.6" r="1.2" fill="#a03030"/>
<circle cx="305.1" cy="208.5" r="1.9" fill="#b8505a"/>
<circle cx="264.2" cy="200.8" r="0.8" fill="#3a3a5a"/>
<circle cx="284.3" cy="244.7" r="0.8" fill="#3a3a5a"/>
<circle cx="308.3" cy="235.8" r="0.8" fill="#3a3a5a"/>
<circle cx="257.8" cy="147.3" r="0.8" fill="#3a3a5a"/>
<circle cx="292.2" cy="187.7" r="0.8" fill="#3a3a5a"/>
<circle cx="271.9" cy="164.6" r="2.4" fill="#e8e8f4" stroke="#5a6aa8" stroke-width="0.7"/><circle cx="271.9" cy="164.6" r="1.2" fill="#a03030"/>
<circle cx="264.1" cy="148.6" r="1.5" fill="#9a2a2a"/>
<circle cx="275.5" cy="162.3" r="1.5" fill="#b8505a"/>
<circle cx="292" cy="208" r="2.5" fill="#e0d0e8" stroke="#6a4a7a" stroke-width="0.6"/><circle cx="292" cy="208" r="1.3" fill="#6a2a3a"/>
<circle cx="283" cy="230" r="2.5" fill="#e0d0e8" stroke="#6a4a7a" stroke-width="0.6"/><circle cx="283" cy="230" r="1.3" fill="#6a2a3a"/>
<circle cx="262" cy="240" r="2.5" fill="#e0d0e8" stroke="#6a4a7a" stroke-width="0.6"/><circle cx="262" cy="240" r="1.3" fill="#6a2a3a"/>
<circle cx="276" cy="222" r="2.5" fill="#e0d0e8" stroke="#6a4a7a" stroke-width="0.6"/><circle cx="276" cy="222" r="1.3" fill="#6a2a3a"/>
<circle cx="300" cy="232" r="2.5" fill="#e0d0e8" stroke="#6a4a7a" stroke-width="0.6"/><circle cx="300" cy="232" r="1.3" fill="#6a2a3a"/>
<circle cx="296" cy="244" r="2.5" fill="#e0d0e8" stroke="#6a4a7a" stroke-width="0.6"/><circle cx="296" cy="244" r="1.3" fill="#6a2a3a"/>
</g>
<path d="M277,150 C290,152 300,155 314,149 C308,160 303,170 302,178 C304,184 306,188 306,192" stroke="#d8a8b8" stroke-width="0.6" fill="none"/>
<path d="M277,150 C284,160 287,172 290,180 C294,186 300,190 306,192" stroke="#d8a8b8" stroke-width="0.6" fill="none"/>
<ellipse cx="300" cy="177" rx="4" ry="4" fill="#fff" stroke="#c890a8" stroke-width="0.7"/><circle cx="304" cy="172" r="0.9" fill="#3a3a5a"/>
</g>
<!-- ENDOCRINE FIGURE -->
<g id="endo" stroke="#2a2a2a" stroke-width="0.7" fill="none" stroke-linecap="round">
  <path d="M105.2,244 L104.6,239.5 C102.5,237.5 100,235.5 99,233 C98.2,231 98.4,229 97.8,227.5 C97,226.5 96.8,225.5 97.3,224.5 C96,223.5 94.6,222 94.6,220.6 C95,219 96.8,217.5 97.4,215.5 C97.8,212 99,209.5 101,207.5 C102.5,200 108,196.3 114.5,196.3 C124.5,196.3 131.5,203 132.8,212 C134,221 130.5,228 126.5,233 L126.5,244"/>
  <path d="M120.5,219 C123,216.5 126,218 125.5,222 C125,225 122.5,226 121,225"/>
  <path d="M99.5,229.5 C101,230 102,230 103,229.5"/>
  <path d="M100.5,214.5 C102,213.8 104,214 105.5,215"/>
  <path d="M109,206 C110,203.5 113,202.5 117,203 C121,203.5 124,205 124.5,207.5" stroke-dasharray="1.8 1.3"/>
  <path d="M105.2,243.3 C98,246 91,248 86.3,249.9 C80,252.5 76,255 74.8,258 C71.5,263 70,268 69.9,272.8 C69,279 68.6,284 68.2,289.3"/>
  <path d="M126.5,243.3 C133,246 140,248 145.4,249.9 C151,252.5 154.5,255 156,258 C158.5,263 159.3,268 159.3,272.8 C160,277 160.5,279 161,281"/>
  <path d="M81.3,267.9 C82.5,273 83,278 83,284 C82.5,295 82.4,306 83.8,318.8 C85,326 84.5,333 84,340 C83,352 81.5,362 81,368 C80.7,371 80.6,373 80.6,375"/>
  <path d="M146.2,267.9 C145,273 144,278 143.7,284 C143.5,295 142.5,308 141,320 C140,328 140.5,335 141.5,342 C142.5,352 143.5,362 144,368 C144.2,371 144.2,373 144.2,375"/>
  <path d="M84,287.5 C88,284.5 94,283 100,282.8 C110,282.5 122,282.5 130,282.8 C135,283 139,284 142.5,286"/>
  <path d="M92,252.3 L97,251.8 M128.1,251.8 L133,252.3"/>
  <circle cx="90.6" cy="279.4" r="0.9"/><circle cx="134.6" cy="279.4" r="0.9"/>
  <path d="M109.3,267.9 C107.5,271 107,275 107.6,277.8 C108.5,281 110,283 112.5,283.5 C117,284 123,283.5 127.3,282.7 C127.8,278 127.6,273.5 126.5,269.6 C125,266 123,264 120.8,263" stroke-dasharray="1.8 1.4"/>
  <path d="M92,340 C98,348 105,352 112.8,352.5 C121,352.3 128,348 133.4,341.8"/>
  <path d="M103,353.4 C106,357 109,359.5 112,361.5 L112.5,368 M123.6,356 C121.5,359 119.5,361.5 117.3,363.3 L117,368"/>
  <path d="M112.8,323.4 L112.8,377.6" stroke-dasharray="1.6 1.3"/>
  <path d="M95.6,302 C92,305 91,310 92,314.5 C93,318.5 96,320 99.5,319.5 C101,315 102,308 101.5,303.5 C100,301.5 97.5,301 95.6,302Z" stroke-dasharray="1.8 1.4"/>
  <path d="M124.5,302.5 C122,306 121.5,311 122.5,315 C123.5,318.5 126,320 129,319.5 C131.5,316 132.5,310 131.5,305.5 C130,302.5 127,301.5 124.5,302.5Z" stroke-dasharray="1.8 1.4"/>
  <path d="M137,287 L144,285 M137,292 L145,289 M137,297 L145,294 M137,302 L145,299 M138,307 L145,305" stroke-width="0.4" stroke="#888"/>
  <path d="M137,285 L138,310 M145,284 L145.5,309" stroke-width="0.4"/>
  <path d="M112.5,368 C112.8,372 115,374 117,368"/>
</g>
<g id="endo-glands">
  <path d="M109.5,240.5 C111,239 114.5,239 116.3,240.5 C117,242.5 116.5,244.5 115,245.3 C113,246 111,245.8 109.8,244.8 C108.8,243.5 108.8,241.8 109.5,240.5Z" fill="#d6dde8" stroke="#9aa6b8" stroke-width="0.4"/>
  <path d="M110,246 C112,245 114.5,245 116.5,246.5 C117.5,250 118,255 117.5,259 C118,262 117.5,266 116,269.5 C115,266 114,264 113,265 C112,267 111,269 110,269 C109.5,265 109.5,261 109.3,258 C109,254 109.3,250 110,246Z" fill="#9a6a28" stroke="#6a4a18" stroke-width="0.4"/>
  <path d="M110.5,244.5 C111.5,246.5 114.5,246.5 115.5,244.5 L116,248 C114,249 112,249 110.2,248Z" fill="#c8d0dc"/>
  <circle cx="113.3" cy="211" r="1.5" fill="#9a6a28"/><circle cx="112.6" cy="214.5" r="1.4" fill="#7a4a18"/><circle cx="120.8" cy="209" r="1.1" fill="#9a6a28"/>
  <path d="M98,299 C99,297 102,297 103,299 C104,301 103.5,304 101.5,305 C100,303 99,301 98,299Z" fill="#8a5a22"/>
  <path d="M102.5,321.5 C101.5,316 102.5,310 105.5,306.5 C109,303.5 115,302.5 120,301 C124,300 127,298.5 130,297 C132,296 134,296.5 133.5,298.5 C131.5,300.5 129,301.5 127,303.5 C126,306 124.5,308.5 121.5,310.5 C117,313 112,315 108.5,318 C106.5,320 104.5,322 102.5,321.5Z" fill="#a0742c" stroke="#6a4a18" stroke-width="0.4"/>
  <path d="M97.5,299.5 C98.5,297.5 101,296.5 102.5,297.8 C103.5,299.5 104,301.5 103,303.5" stroke="#6a4a18" stroke-width="1.2" fill="none"/>
  <ellipse cx="93.5" cy="337.2" rx="1.7" ry="1.4" fill="#7a5a22"/>
  <ellipse cx="116.5" cy="370.8" rx="1.4" ry="1.5" fill="#9a7a22"/>
</g>

<!-- LYMPH FIGURE -->
<g id="lymphfig">
<clipPath id="lfclip"><path d="M143,441 C150,441 155,447 155.5,455 C156.5,455 158,457 157.3,461 C156.8,464 155.5,466 154.2,466.5 C152.5,470.5 150,473 148,474 L150.5,477 L151.5,483 C160,486 170,488 176,491 C180,494 181.5,500 181.5,506 C183,520 184,535 186,548 C188,558 189,564 190,569 C193,573 195,580 195,586 C195,591 193,596 190,597 C188,595 188,590 187,587 L186,595 C185,597 183,597 182.5,595 L182,587 L180,594 C179,596 177,596 177,593 L178,584 C176,588 174,588 174,585 C175,580 175.5,575 175,571 C176,560 175,548 174,538 C173,526 171.5,516 169,508 C168,520 167,530 166,538 C168,546 171,552 172,558 C170,575 168,585 168.1,589 C166,600 163,610 163.3,618 C162,628 162,638 162.3,643 C161,655 160,664 160.4,669 C160.5,675 161,680 161.5,684 C165,690 170,695 173,699 C173.5,703 167,704 160,703 C153,701 149,698 148,692 C147,680 146,668 146.8,657 C148,645 149,635 148.7,630 C147,615 145,605 143.9,599 C143,590 142.5,580 142,571 L140.5,570 C140.2,580 140.2,590 140,599 C139,612 136,622 135.3,630 C136,640 138,650 138.2,657 C139,667 140,675 140,682 C139.5,688 136,692 130,694.5 C124,696.5 118,696 116,693 C115.5,689 118.5,686.5 120.6,684 C122,678 123.5,672 123.5,669 C123,660 122,650 122.5,643 C121,632 120,625 120.6,618 C118,605 115,595 114.8,589 C114,580 113.5,570 114,560 C113.5,552 116,545 118,538 C118.5,530 118.5,520 117.5,510 C114,520 111.5,532 109.5,542 C107,552 104.5,560 102,568 C101,575 99,582 96,588 C94,592 92,594 90,593 C90,590 91.5,587 92,585 L88,591 C86.5,592.5 85,591.5 85.5,589.5 L88,584 L84,588 C82.5,589 81,588 82,586 L86,580 C84,581 82,581 81.5,579.5 C83,576 86,573 88.5,569 C91,556 94.5,540 97.5,526 C100,514 102,502 105,496 C110,489 120,486 134.5,483 L135,477 L138,474 C134.5,472 132.5,469 131.8,466.5 C130,466 128.5,463.5 128.8,460.5 C129,457.5 130.5,456 131.2,455.5 C131.5,447 136,441 143,441 Z"/></clipPath>
<path d="M143,441 C150,441 155,447 155.5,455 C156.5,455 158,457 157.3,461 C156.8,464 155.5,466 154.2,466.5 C152.5,470.5 150,473 148,474 L150.5,477 L151.5,483 C160,486 170,488 176,491 C180,494 181.5,500 181.5,506 C183,520 184,535 186,548 C188,558 189,564 190,569 C193,573 195,580 195,586 C195,591 193,596 190,597 C188,595 188,590 187,587 L186,595 C185,597 183,597 182.5,595 L182,587 L180,594 C179,596 177,596 177,593 L178,584 C176,588 174,588 174,585 C175,580 175.5,575 175,571 C176,560 175,548 174,538 C173,526 171.5,516 169,508 C168,520 167,530 166,538 C168,546 171,552 172,558 C170,575 168,585 168.1,589 C166,600 163,610 163.3,618 C162,628 162,638 162.3,643 C161,655 160,664 160.4,669 C160.5,675 161,680 161.5,684 C165,690 170,695 173,699 C173.5,703 167,704 160,703 C153,701 149,698 148,692 C147,680 146,668 146.8,657 C148,645 149,635 148.7,630 C147,615 145,605 143.9,599 C143,590 142.5,580 142,571 L140.5,570 C140.2,580 140.2,590 140,599 C139,612 136,622 135.3,630 C136,640 138,650 138.2,657 C139,667 140,675 140,682 C139.5,688 136,692 130,694.5 C124,696.5 118,696 116,693 C115.5,689 118.5,686.5 120.6,684 C122,678 123.5,672 123.5,669 C123,660 122,650 122.5,643 C121,632 120,625 120.6,618 C118,605 115,595 114.8,589 C114,580 113.5,570 114,560 C113.5,552 116,545 118,538 C118.5,530 118.5,520 117.5,510 C114,520 111.5,532 109.5,542 C107,552 104.5,560 102,568 C101,575 99,582 96,588 C94,592 92,594 90,593 C90,590 91.5,587 92,585 L88,591 C86.5,592.5 85,591.5 85.5,589.5 L88,584 L84,588 C82.5,589 81,588 82,586 L86,580 C84,581 82,581 81.5,579.5 C83,576 86,573 88.5,569 C91,556 94.5,540 97.5,526 C100,514 102,502 105,496 C110,489 120,486 134.5,483 L135,477 L138,474 C134.5,472 132.5,469 131.8,466.5 C130,466 128.5,463.5 128.8,460.5 C129,457.5 130.5,456 131.2,455.5 C131.5,447 136,441 143,441 Z" fill="#fdf4ec"/>
<g clip-path="url(#lfclip)">
<path d="M143,441 C150,441 155,447 155.5,455 C156.5,455 158,457 157.3,461 C156.8,464 155.5,466 154.2,466.5 C152.5,470.5 150,473 148,474 L150.5,477 L151.5,483 C160,486 170,488 176,491 C180,494 181.5,500 181.5,506 C183,520 184,535 186,548 C188,558 189,564 190,569 C193,573 195,580 195,586 C195,591 193,596 190,597 C188,595 188,590 187,587 L186,595 C185,597 183,597 182.5,595 L182,587 L180,594 C179,596 177,596 177,593 L178,584 C176,588 174,588 174,585 C175,580 175.5,575 175,571 C176,560 175,548 174,538 C173,526 171.5,516 169,508 C168,520 167,530 166,538 C168,546 171,552 172,558 C170,575 168,585 168.1,589 C166,600 163,610 163.3,618 C162,628 162,638 162.3,643 C161,655 160,664 160.4,669 C160.5,675 161,680 161.5,684 C165,690 170,695 173,699 C173.5,703 167,704 160,703 C153,701 149,698 148,692 C147,680 146,668 146.8,657 C148,645 149,635 148.7,630 C147,615 145,605 143.9,599 C143,590 142.5,580 142,571 L140.5,570 C140.2,580 140.2,590 140,599 C139,612 136,622 135.3,630 C136,640 138,650 138.2,657 C139,667 140,675 140,682 C139.5,688 136,692 130,694.5 C124,696.5 118,696 116,693 C115.5,689 118.5,686.5 120.6,684 C122,678 123.5,672 123.5,669 C123,660 122,650 122.5,643 C121,632 120,625 120.6,618 C118,605 115,595 114.8,589 C114,580 113.5,570 114,560 C113.5,552 116,545 118,538 C118.5,530 118.5,520 117.5,510 C114,520 111.5,532 109.5,542 C107,552 104.5,560 102,568 C101,575 99,582 96,588 C94,592 92,594 90,593 C90,590 91.5,587 92,585 L88,591 C86.5,592.5 85,591.5 85.5,589.5 L88,584 L84,588 C82.5,589 81,588 82,586 L86,580 C84,581 82,581 81.5,579.5 C83,576 86,573 88.5,569 C91,556 94.5,540 97.5,526 C100,514 102,502 105,496 C110,489 120,486 134.5,483 L135,477 L138,474 C134.5,472 132.5,469 131.8,466.5 C130,466 128.5,463.5 128.8,460.5 C129,457.5 130.5,456 131.2,455.5 C131.5,447 136,441 143,441 Z" fill="none" stroke="#f0c29e" stroke-width="5" opacity="0.75"/>
<ellipse cx="136" cy="595" rx="3.5" ry="22" fill="#efbe9a" opacity="0.7"/>
<ellipse cx="147" cy="595" rx="3.5" ry="22" fill="#efbe9a" opacity="0.7"/>
<ellipse cx="124" cy="655" rx="2.5" ry="14" fill="#efbe9a" opacity="0.6"/>
<ellipse cx="159" cy="655" rx="2.5" ry="14" fill="#efbe9a" opacity="0.6"/>
<ellipse cx="142" cy="566" rx="7" ry="5" fill="#e2a07a" opacity="0.75"/>
<ellipse cx="108" cy="530" rx="3" ry="14" fill="#efbe9a" opacity="0.6"/>
<ellipse cx="176" cy="530" rx="3" ry="14" fill="#efbe9a" opacity="0.6"/>
<ellipse cx="128" cy="600" rx="6" ry="18" fill="#f0c4a2" opacity="0.7"/>
<ellipse cx="155" cy="600" rx="5" ry="16" fill="#f0c4a2" opacity="0.7"/>
<ellipse cx="130" cy="650" rx="4" ry="14" fill="#f0c4a2" opacity="0.7"/>
<ellipse cx="153" cy="648" rx="4" ry="12" fill="#f0c4a2" opacity="0.7"/>
<ellipse cx="143" cy="560" rx="8" ry="6" fill="#f0c4a2" opacity="0.7"/>
<ellipse cx="150" cy="520" rx="6" ry="10" fill="#f0c4a2" opacity="0.7"/>
<ellipse cx="132" cy="520" rx="6" ry="10" fill="#f0c4a2" opacity="0.7"/>

<path d="M121.4,693.4 L123.5,687.6 L124.9,681.7 L125.2,675.6 L125.9,670.2 L124.8,663.9 L124.3,657.7 L124.1,651.5 L124.4,645.7 L122.4,639.6 L121.7,633.3 L120.2,627.2 L119.0,620.2 L119.3,614.0 L117.9,607.8 L116.2,601.6 L115.5,594.0 L117.8,587.9 L118.0,581.6 L119.9,575.5 L119.6,567.3 L122.1,564.3 L124.9,561.4 L126.0,557.8 L126.6,554.1" stroke="#36614f" stroke-width="0.5" fill="none"/>
<path d="M124.9,681.7 Q121.9,683.9 118.8,685.3" stroke="#36614f" stroke-width="0.4" fill="none"/>
<path d="M119.0,620.2 Q116.4,621.7 113.1,624.3" stroke="#36614f" stroke-width="0.4" fill="none"/>
<path d="M115.5,594.0 Q113.1,595.0 109.5,596.7" stroke="#36614f" stroke-width="0.4" fill="none"/>
<path d="M118.0,581.6 Q120.0,582.9 121.4,585.4" stroke="#36614f" stroke-width="0.4" fill="none"/>
<path d="M119.6,567.3 Q118.2,567.3 114.8,569.0" stroke="#36614f" stroke-width="0.4" fill="none"/>
<path d="M124.9,561.4 Q126.4,563.1 129.4,566.1" stroke="#36614f" stroke-width="0.4" fill="none"/>
<path d="M123.6,693.6 L124.4,687.7 L124.2,681.6 L125.3,675.6 L125.8,670.2 L124.8,663.9 L124.3,657.7 L123.8,651.5 L123.4,645.9 L123.3,639.5 L122.5,633.2 L122.3,626.8 L121.1,620.2 L119.3,614.0 L119.1,607.7 L119.4,601.4 L120.6,594.6 L119.4,588.1 L118.3,581.6 L120.0,575.5 L119.9,567.5 L119.8,563.5 L121.4,560.1 L124.1,557.1 L125.9,553.8" stroke="#36614f" stroke-width="0.5" fill="none"/>
<path d="M124.3,657.7 Q125.9,659.3 129.0,661.3" stroke="#36614f" stroke-width="0.4" fill="none"/>
<path d="M123.4,645.9 Q121.4,648.8 119.4,651.0" stroke="#36614f" stroke-width="0.4" fill="none"/>
<path d="M119.1,607.7 Q116.3,609.5 115.2,610.0" stroke="#36614f" stroke-width="0.4" fill="none"/>
<path d="M120.6,594.6 Q118.4,596.0 117.3,596.7" stroke="#36614f" stroke-width="0.4" fill="none"/>
<path d="M119.9,567.5 Q122.4,570.5 123.1,572.2" stroke="#36614f" stroke-width="0.4" fill="none"/>
<path d="M126.2,693.9 L126.0,687.8 L126.5,681.8 L127.5,675.8 L128.6,670.1 L128.7,663.8 L128.3,657.5 L127.3,651.3 L127.3,645.3 L125.9,639.1 L125.2,632.8 L123.3,626.7 L123.1,620.1 L121.4,613.9 L122.5,607.6 L123.8,601.3 L124.1,595.0 L125.3,588.8 L125.0,582.4 L126.1,576.2 L126.7,569.9 L128.3,566.5 L128.0,562.5 L130.4,559.4 L132.1,556.0" stroke="#36614f" stroke-width="0.5" fill="none"/>
<path d="M128.3,657.5 Q125.9,660.5 122.6,662.4" stroke="#36614f" stroke-width="0.4" fill="none"/>
<path d="M125.2,632.8 Q122.3,634.7 120.0,637.9" stroke="#36614f" stroke-width="0.4" fill="none"/>
<path d="M123.1,620.1 Q126.7,622.4 130.0,624.5" stroke="#36614f" stroke-width="0.4" fill="none"/>
<path d="M122.5,607.6 Q125.7,609.7 128.7,611.7" stroke="#36614f" stroke-width="0.4" fill="none"/>
<path d="M125.0,582.4 Q129.1,585.1 131.4,587.8" stroke="#36614f" stroke-width="0.4" fill="none"/>
<path d="M126.7,569.9 Q128.6,573.7 130.9,576.2" stroke="#36614f" stroke-width="0.4" fill="none"/>
<path d="M129.2,694.1 L130.8,688.2 L130.7,682.1 L131.4,676.2 L131.0,670.0 L131.3,663.7 L132.2,657.4 L132.2,651.1 L131.0,644.7 L131.1,638.2 L131.3,631.8 L130.8,625.5 L130.0,619.8 L129.4,613.6 L129.3,607.3 L128.8,601.1 L127.3,595.4 L126.8,589.0 L128.0,582.8 L128.2,576.5 L128.0,570.4 L128.9,566.7 L128.8,562.7 L130.0,559.2 L132.5,556.2" stroke="#36614f" stroke-width="0.5" fill="none"/>
<path d="M130.7,682.1 Q134.8,685.2 137.4,687.0" stroke="#36614f" stroke-width="0.4" fill="none"/>
<path d="M132.2,657.4 Q133.9,658.4 136.8,660.4" stroke="#36614f" stroke-width="0.4" fill="none"/>
<path d="M131.0,644.7 Q135.0,646.7 137.3,648.1" stroke="#36614f" stroke-width="0.4" fill="none"/>
<path d="M130.0,619.8 Q133.4,620.6 134.9,622.6" stroke="#36614f" stroke-width="0.4" fill="none"/>
<path d="M127.3,595.4 Q125.3,596.5 123.1,596.8" stroke="#36614f" stroke-width="0.4" fill="none"/>
<path d="M128.0,570.4 Q129.7,573.9 132.7,575.5" stroke="#36614f" stroke-width="0.4" fill="none"/>
<path d="M130.2,694.2 L130.9,688.2 L132.0,682.3 L132.1,676.2 L132.6,669.9 L132.9,663.6 L133.3,657.3 L132.7,651.1 L132.4,644.5 L132.4,638.0 L130.8,631.9 L130.6,625.5 L128.6,619.9 L130.0,613.5 L130.7,607.3 L131.9,600.9 L131.9,596.0 L133.5,589.8 L133.4,583.4 L134.5,577.2 L135.9,573.2 L136.7,569.5 L136.8,565.6 L137.1,561.8 L138.1,558.2" stroke="#36614f" stroke-width="0.5" fill="none"/>
<path d="M132.0,682.3 Q132.4,684.2 134.4,684.6" stroke="#36614f" stroke-width="0.4" fill="none"/>
<path d="M133.3,657.3 Q130.2,659.8 128.8,660.8" stroke="#36614f" stroke-width="0.4" fill="none"/>
<path d="M132.4,644.5 Q135.6,645.4 139.7,648.1" stroke="#36614f" stroke-width="0.4" fill="none"/>
<path d="M130.8,631.9 Q128.3,635.2 124.9,637.3" stroke="#36614f" stroke-width="0.4" fill="none"/>
<path d="M131.9,596.0 Q134.4,598.5 136.3,599.8" stroke="#36614f" stroke-width="0.4" fill="none"/>
<path d="M133.4,583.4 Q131.2,586.0 127.4,587.0" stroke="#36614f" stroke-width="0.4" fill="none"/>
<path d="M132.9,694.4 L134.1,688.5 L133.9,682.4 L133.8,676.4 L133.8,669.8 L133.2,663.6 L134.0,657.3 L132.8,651.1 L132.6,644.4 L130.7,638.3 L130.3,632.0 L128.2,625.9 L128.2,619.9 L128.4,613.6 L128.3,607.3 L129.4,601.0 L129.3,595.6 L129.6,589.3 L131.4,583.2 L131.1,576.8 L130.8,571.4 L130.9,567.4 L130.9,563.5 L132.3,560.1 L132.6,556.2" stroke="#36614f" stroke-width="0.5" fill="none"/>
<path d="M133.9,682.4 Q131.1,684.4 128.6,685.3" stroke="#36614f" stroke-width="0.4" fill="none"/>
<path d="M132.6,644.4 Q136.2,646.3 139.3,648.2" stroke="#36614f" stroke-width="0.4" fill="none"/>
<path d="M130.3,632.0 Q128.0,636.3 124.6,638.7" stroke="#36614f" stroke-width="0.4" fill="none"/>
<path d="M128.2,619.9 Q125.1,622.3 123.1,623.7" stroke="#36614f" stroke-width="0.4" fill="none"/>
<path d="M131.4,583.2 Q128.8,585.6 125.7,586.3" stroke="#36614f" stroke-width="0.4" fill="none"/>
<path d="M130.8,571.4 Q132.5,575.5 135.3,578.9" stroke="#36614f" stroke-width="0.4" fill="none"/>
<path d="M152.9,696.6 L153.1,690.0 L151.7,683.5 L151.2,677.0 L150.4,670.2 L149.9,663.9 L150.2,657.7 L150.5,651.4 L150.3,644.6 L150.8,638.3 L150.8,631.9 L151.5,625.7 L150.8,619.5 L152.3,613.3 L152.5,607.1 L153.4,600.8 L152.1,595.6 L150.1,589.4 L150.0,583.1 L150.9,576.8 L150.4,572.4 L148.4,569.1 L148.4,565.2 L148.4,561.2 L146.2,558.1" stroke="#36614f" stroke-width="0.5" fill="none"/>
<path d="M150.4,670.2 Q149.3,671.7 146.3,672.6" stroke="#36614f" stroke-width="0.4" fill="none"/>
<path d="M150.3,644.6 Q152.0,645.6 155.0,648.5" stroke="#36614f" stroke-width="0.4" fill="none"/>
<path d="M150.8,619.5 Q148.1,620.1 145.3,622.6" stroke="#36614f" stroke-width="0.4" fill="none"/>
<path d="M152.5,607.1 Q155.6,608.0 157.4,610.5" stroke="#36614f" stroke-width="0.4" fill="none"/>
<path d="M152.1,595.6 Q156.0,597.5 160.1,600.1" stroke="#36614f" stroke-width="0.4" fill="none"/>
<path d="M150.0,583.1 Q147.5,585.8 143.5,589.0" stroke="#36614f" stroke-width="0.4" fill="none"/>
<path d="M150.4,572.4 Q153.8,572.8 155.5,574.4" stroke="#36614f" stroke-width="0.4" fill="none"/>
<path d="M148.4,565.2 Q146.7,568.8 143.7,572.7" stroke="#36614f" stroke-width="0.4" fill="none"/>
<path d="M153.5,696.5 L153.3,690.0 L151.7,683.5 L151.1,677.0 L150.8,670.2 L150.1,663.9 L150.5,657.7 L150.5,651.4 L150.2,644.5 L151.3,638.3 L153.1,632.2 L154.3,626.0 L153.6,619.7 L152.8,613.4 L152.5,607.1 L153.4,600.8 L155.1,595.3 L155.3,589.0 L155.7,582.7 L156.8,576.3 L154.5,570.9 L154.6,566.9 L155.1,562.8 L152.8,559.7 L151.5,556.2" stroke="#36614f" stroke-width="0.5" fill="none"/>
<path d="M151.7,683.5 Q148.6,687.1 146.7,688.8" stroke="#36614f" stroke-width="0.4" fill="none"/>
<path d="M150.5,657.7 Q147.4,660.4 145.5,662.8" stroke="#36614f" stroke-width="0.4" fill="none"/>
<path d="M150.2,644.5 Q148.9,645.7 146.4,646.9" stroke="#36614f" stroke-width="0.4" fill="none"/>
<path d="M153.1,632.2 Q154.3,634.5 156.4,636.1" stroke="#36614f" stroke-width="0.4" fill="none"/>
<path d="M157.9,696.0 L158.1,689.4 L156.9,683.0 L155.0,676.6 L154.7,670.0 L155.1,663.7 L155.7,657.5 L155.1,651.2 L155.3,645.2 L155.0,638.8 L156.1,632.6 L157.9,626.4 L157.9,620.1 L157.0,613.7 L157.2,607.4 L159.2,601.3 L159.0,595.0 L157.1,588.9 L156.2,582.6 L154.0,576.5 L152.4,571.6 L150.8,568.3 L150.5,564.4 L148.6,561.1 L148.3,557.3" stroke="#36614f" stroke-width="0.5" fill="none"/>
<path d="M154.7,670.0 Q156.2,672.0 158.6,673.4" stroke="#36614f" stroke-width="0.4" fill="none"/>
<path d="M155.7,657.5 Q153.4,658.4 152.4,660.1" stroke="#36614f" stroke-width="0.4" fill="none"/>
<path d="M157.9,620.1 Q154.4,622.4 152.4,623.8" stroke="#36614f" stroke-width="0.4" fill="none"/>
<path d="M156.2,582.6 Q153.9,584.8 150.3,586.6" stroke="#36614f" stroke-width="0.4" fill="none"/>
<path d="M150.5,564.4 Q152.2,565.3 154.9,565.5" stroke="#36614f" stroke-width="0.4" fill="none"/>
<path d="M158.3,696.0 L158.3,689.4 L158.0,682.8 L157.5,676.3 L156.4,669.9 L156.4,663.7 L155.5,657.5 L154.4,651.2 L153.0,644.9 L152.5,638.5 L154.4,632.4 L154.6,626.1 L155.1,619.9 L156.1,613.6 L155.5,607.3 L155.9,601.0 L157.6,595.1 L156.3,588.9 L154.9,582.8 L155.1,576.4 L155.7,570.5 L156.0,566.4 L155.8,562.5 L154.3,559.1 L153.5,555.5" stroke="#36614f" stroke-width="0.5" fill="none"/>
<path d="M158.0,682.8 Q161.0,685.9 165.0,687.5" stroke="#36614f" stroke-width="0.4" fill="none"/>
<path d="M154.4,632.4 Q156.1,634.8 158.3,635.8" stroke="#36614f" stroke-width="0.4" fill="none"/>
<path d="M155.5,607.3 Q157.9,609.5 159.0,610.7" stroke="#36614f" stroke-width="0.4" fill="none"/>
<path d="M157.6,595.1 Q161.4,598.7 165.3,600.4" stroke="#36614f" stroke-width="0.4" fill="none"/>
<path d="M155.7,570.5 Q157.7,570.7 161.0,571.9" stroke="#36614f" stroke-width="0.4" fill="none"/>
<path d="M155.8,562.5 Q157.4,564.2 159.9,564.4" stroke="#36614f" stroke-width="0.4" fill="none"/>
<path d="M162.6,695.5 L160.6,689.1 L160.3,682.6 L159.4,676.1 L159.2,669.8 L159.7,663.6 L159.7,657.3 L158.7,651.1 L159.7,645.7 L160.3,639.4 L160.9,633.1 L161.3,626.9 L163.5,620.5 L164.6,614.3 L165.6,608.1 L166.5,601.9 L166.2,594.4 L166.0,588.1 L167.0,581.8 L166.0,575.6 L165.8,566.9 L163.4,563.8 L160.8,560.8 L160.3,557.0 L157.3,554.1" stroke="#36614f" stroke-width="0.5" fill="none"/>
<path d="M159.2,669.8 Q155.5,671.6 153.7,675.3" stroke="#36614f" stroke-width="0.4" fill="none"/>
<path d="M159.7,657.3 Q160.8,659.5 162.9,660.5" stroke="#36614f" stroke-width="0.4" fill="none"/>
<path d="M159.7,645.7 Q162.4,647.4 165.8,650.8" stroke="#36614f" stroke-width="0.4" fill="none"/>
<path d="M160.9,633.1 Q158.3,633.8 156.5,634.6" stroke="#36614f" stroke-width="0.4" fill="none"/>
<path d="M166.2,594.4 Q165.4,596.0 162.7,596.4" stroke="#36614f" stroke-width="0.4" fill="none"/>
<path d="M167.0,581.8 Q163.9,583.8 161.1,587.0" stroke="#36614f" stroke-width="0.4" fill="none"/>
<path d="M165.8,566.9 Q169.0,568.7 171.7,569.3" stroke="#36614f" stroke-width="0.4" fill="none"/>
<path d="M160.8,560.8 Q164.5,561.0 169.6,562.6" stroke="#36614f" stroke-width="0.4" fill="none"/>
<path d="M164.6,695.2 L163.4,688.8 L161.0,682.5 L159.2,676.1 L158.0,669.9 L158.3,663.6 L158.2,657.4 L158.1,651.1 L158.2,645.5 L159.2,639.3 L160.2,633.1 L160.7,626.8 L160.8,620.3 L160.8,614.0 L162.9,607.9 L164.8,601.8 L164.4,594.6 L163.6,588.3 L163.2,582.1 L161.6,575.9 L161.9,568.2 L162.2,564.2 L161.7,560.4 L158.7,557.5 L157.0,554.2" stroke="#36614f" stroke-width="0.5" fill="none"/>
<path d="M158.0,669.9 Q154.9,671.5 151.6,674.2" stroke="#36614f" stroke-width="0.4" fill="none"/>
<path d="M158.2,657.4 Q159.0,659.0 161.8,659.3" stroke="#36614f" stroke-width="0.4" fill="none"/>
<path d="M160.8,620.3 Q163.3,623.5 165.9,625.7" stroke="#36614f" stroke-width="0.4" fill="none"/>
<path d="M162.9,607.9 Q160.5,609.3 158.2,612.1" stroke="#36614f" stroke-width="0.4" fill="none"/>
<path d="M163.2,582.1 Q165.7,584.4 169.5,586.0" stroke="#36614f" stroke-width="0.4" fill="none"/>
<path d="M84.8,587.1 L86.3,584.3 L86.9,581.2 L88.5,578.4 L89.1,575.4 L89.5,572.3 L90.8,569.5 L92.0,565.9 L91.9,562.0 L93.4,558.5 L93.9,554.8 L94.3,551.0 L95.9,547.5 L97.0,543.8 L97.1,539.8 L98.4,536.1 L98.6,532.1 L99.7,528.3 L99.8,524.4 L101.4,520.3 L102.5,516.2 L102.7,511.9 L102.7,507.6 L103.8,503.5 L103.7,499.1" stroke="#36614f" stroke-width="0.5" fill="none"/>
<path d="M86.9,581.2 Q84.3,582.5 83.0,584.0" stroke="#36614f" stroke-width="0.4" fill="none"/>
<path d="M90.8,569.5 Q93.0,570.4 93.3,572.6" stroke="#36614f" stroke-width="0.4" fill="none"/>
<path d="M91.9,562.0 Q88.8,562.9 86.0,565.2" stroke="#36614f" stroke-width="0.4" fill="none"/>
<path d="M93.9,554.8 Q90.9,555.8 87.2,558.2" stroke="#36614f" stroke-width="0.4" fill="none"/>
<path d="M97.1,539.8 Q99.7,540.8 101.4,542.8" stroke="#36614f" stroke-width="0.4" fill="none"/>
<path d="M102.7,507.6 Q100.2,508.8 96.2,509.7" stroke="#36614f" stroke-width="0.4" fill="none"/>
<path d="M87.6,587.9 L88.7,585.0 L88.9,581.8 L89.4,578.7 L89.9,575.6 L91.2,572.7 L91.8,569.7 L93.1,566.2 L93.1,562.3 L94.4,558.7 L95.6,555.2 L95.6,551.3 L96.1,547.6 L96.8,543.7 L97.5,539.9 L98.0,535.9 L98.9,532.1 L99.6,528.3 L100.8,524.6 L101.0,520.3 L102.7,516.3 L103.1,512.0 L103.4,507.7 L104.0,503.5 L104.5,499.3" stroke="#36614f" stroke-width="0.5" fill="none"/>
<path d="M88.9,581.8 Q85.8,583.6 82.7,584.4" stroke="#36614f" stroke-width="0.4" fill="none"/>
<path d="M89.9,575.6 Q88.1,576.5 85.8,577.7" stroke="#36614f" stroke-width="0.4" fill="none"/>
<path d="M95.6,555.2 Q93.4,557.3 92.4,557.8" stroke="#36614f" stroke-width="0.4" fill="none"/>
<path d="M96.1,547.6 Q93.4,550.0 91.0,550.7" stroke="#36614f" stroke-width="0.4" fill="none"/>
<path d="M97.5,539.9 Q100.9,541.3 102.7,544.5" stroke="#36614f" stroke-width="0.4" fill="none"/>
<path d="M103.4,507.7 Q99.7,509.5 95.9,511.6" stroke="#36614f" stroke-width="0.4" fill="none"/>
<path d="M88.2,588.1 L88.7,585.0 L89.8,582.0 L89.9,578.8 L91.2,576.0 L91.5,572.8 L91.9,569.7 L93.3,566.2 L93.7,562.5 L94.7,558.8 L96.1,555.3 L97.3,551.7 L98.5,548.1 L99.3,544.3 L99.5,540.3 L99.5,536.3 L100.6,532.5 L101.8,528.8 L102.1,524.8 L102.0,520.5 L103.5,516.4 L104.6,512.3 L105.1,508.1 L105.2,503.8 L105.3,499.5" stroke="#36614f" stroke-width="0.5" fill="none"/>
<path d="M89.8,582.0 Q92.0,585.6 93.2,587.9" stroke="#36614f" stroke-width="0.4" fill="none"/>
<path d="M91.2,576.0 Q93.2,577.1 93.5,580.2" stroke="#36614f" stroke-width="0.4" fill="none"/>
<path d="M91.9,569.7 Q89.8,569.5 87.2,571.2" stroke="#36614f" stroke-width="0.4" fill="none"/>
<path d="M93.7,562.5 Q94.5,563.5 96.6,565.7" stroke="#36614f" stroke-width="0.4" fill="none"/>
<path d="M99.5,540.3 Q101.0,542.3 104.2,545.8" stroke="#36614f" stroke-width="0.4" fill="none"/>
<path d="M100.6,532.5 Q103.3,534.5 104.1,538.0" stroke="#36614f" stroke-width="0.4" fill="none"/>
<path d="M102.1,524.8 Q104.1,525.8 106.3,528.3" stroke="#36614f" stroke-width="0.4" fill="none"/>
<path d="M105.1,508.1 Q102.4,509.9 99.3,510.7" stroke="#36614f" stroke-width="0.4" fill="none"/>
<path d="M90.4,588.7 L91.3,585.7 L92.2,582.7 L92.2,579.5 L93.6,576.6 L94.8,573.7 L95.0,570.5 L96.4,566.9 L97.1,563.2 L97.4,559.4 L98.8,555.9 L100.4,552.4 L101.6,548.8 L103.0,545.1 L103.4,541.1 L103.8,537.2 L105.6,533.6 L106.4,529.8 L106.6,525.7 L106.6,521.4 L107.1,517.2 L107.0,512.8 L107.9,508.6 L108.4,504.4 L109.2,500.2" stroke="#36614f" stroke-width="0.5" fill="none"/>
<path d="M93.6,576.6 Q91.1,578.9 87.2,579.3" stroke="#36614f" stroke-width="0.4" fill="none"/>
<path d="M95.0,570.5 Q96.3,572.2 98.3,574.3" stroke="#36614f" stroke-width="0.4" fill="none"/>
<path d="M97.1,563.2 Q100.2,565.9 101.2,567.9" stroke="#36614f" stroke-width="0.4" fill="none"/>
<path d="M98.8,555.9 Q100.0,557.4 101.2,559.7" stroke="#36614f" stroke-width="0.4" fill="none"/>
<path d="M101.6,548.8 Q98.8,549.4 97.5,550.6" stroke="#36614f" stroke-width="0.4" fill="none"/>
<path d="M105.6,533.6 Q107.9,536.5 112.0,541.1" stroke="#36614f" stroke-width="0.4" fill="none"/>
<path d="M107.9,508.6 Q105.6,508.9 102.1,510.9" stroke="#36614f" stroke-width="0.4" fill="none"/>
<path d="M182.9,588.5 L182.6,585.5 L182.8,582.4 L181.9,579.4 L180.8,576.5 L180.0,573.6 L180.2,570.4 L179.4,566.8 L178.2,563.2 L177.3,559.6 L177.3,555.8 L176.6,552.2 L176.9,548.4 L175.9,544.6 L175.6,540.8 L175.4,536.9 L175.4,533.0 L175.6,529.1 L175.9,525.1 L174.6,521.0 L174.9,516.8 L174.3,512.6 L174.3,508.4 L173.4,504.3 L172.7,500.2" stroke="#36614f" stroke-width="0.5" fill="none"/>
<path d="M182.8,582.4 Q180.2,584.5 176.1,588.2" stroke="#36614f" stroke-width="0.4" fill="none"/>
<path d="M180.8,576.5 Q178.8,578.2 175.6,581.5" stroke="#36614f" stroke-width="0.4" fill="none"/>
<path d="M175.6,540.8 Q172.8,543.5 169.9,546.6" stroke="#36614f" stroke-width="0.4" fill="none"/>
<path d="M175.4,533.0 Q174.3,536.0 171.4,537.7" stroke="#36614f" stroke-width="0.4" fill="none"/>
<path d="M184.9,588.2 L185.0,585.1 L184.4,582.1 L184.1,579.1 L183.8,576.0 L182.7,573.1 L182.0,570.1 L180.8,566.6 L179.8,563.0 L178.9,559.4 L177.4,555.8 L176.1,552.3 L175.3,548.6 L174.9,544.8 L174.8,540.9 L174.7,537.0 L174.7,533.1 L173.2,529.4 L173.0,525.3 L173.2,521.1 L173.7,516.9 L172.8,512.8 L173.4,508.5 L173.1,504.3 L172.1,500.2" stroke="#36614f" stroke-width="0.5" fill="none"/>
<path d="M184.4,582.1 Q185.6,583.9 188.0,584.4" stroke="#36614f" stroke-width="0.4" fill="none"/>
<path d="M183.8,576.0 Q182.2,577.4 180.4,578.6" stroke="#36614f" stroke-width="0.4" fill="none"/>
<path d="M182.0,570.1 Q184.1,571.0 187.0,572.3" stroke="#36614f" stroke-width="0.4" fill="none"/>
<path d="M175.3,548.6 Q173.6,550.6 171.9,551.9" stroke="#36614f" stroke-width="0.4" fill="none"/>
<path d="M174.8,540.9 Q172.0,542.4 169.7,544.7" stroke="#36614f" stroke-width="0.4" fill="none"/>
<path d="M174.7,533.1 Q172.6,535.8 169.0,539.0" stroke="#36614f" stroke-width="0.4" fill="none"/>
<path d="M173.4,508.5 Q176.8,511.5 181.4,512.7" stroke="#36614f" stroke-width="0.4" fill="none"/>
<path d="M187.4,587.8 L187.5,584.7 L187.2,581.6 L186.0,578.7 L185.3,575.8 L184.9,572.8 L184.1,569.8 L183.0,566.3 L183.3,562.5 L183.4,558.7 L182.1,555.2 L182.4,551.4 L182.7,547.6 L182.1,543.8 L181.4,540.0 L180.1,536.3 L178.8,532.6 L178.9,528.7 L177.8,524.9 L178.4,520.7 L179.0,516.5 L178.0,512.3 L178.3,508.1 L178.7,503.9 L178.0,499.8" stroke="#36614f" stroke-width="0.5" fill="none"/>
<path d="M185.3,575.8 Q182.7,578.3 179.9,581.5" stroke="#36614f" stroke-width="0.4" fill="none"/>
<path d="M184.1,569.8 Q181.9,572.1 181.6,572.6" stroke="#36614f" stroke-width="0.4" fill="none"/>
<path d="M183.3,562.5 Q186.6,564.2 188.1,564.6" stroke="#36614f" stroke-width="0.4" fill="none"/>
<path d="M182.7,547.6 Q186.3,549.9 189.3,551.0" stroke="#36614f" stroke-width="0.4" fill="none"/>
<path d="M178.8,532.6 Q182.2,534.0 184.4,535.0" stroke="#36614f" stroke-width="0.4" fill="none"/>
<path d="M177.8,524.9 Q182.5,526.8 185.4,530.0" stroke="#36614f" stroke-width="0.4" fill="none"/>
<path d="M179.0,516.5 Q183.2,519.8 185.6,521.2" stroke="#36614f" stroke-width="0.4" fill="none"/>
<path d="M178.3,508.1 Q177.8,509.8 175.2,512.1" stroke="#36614f" stroke-width="0.4" fill="none"/>
<path d="M189.4,587.4 L188.7,584.5 L188.0,581.5 L187.7,578.5 L187.7,575.4 L187.2,572.4 L186.4,569.5 L186.1,565.8 L186.1,562.1 L185.7,558.4 L185.4,554.7 L184.1,551.2 L183.6,547.5 L183.9,543.6 L183.0,539.8 L182.6,536.0 L181.1,532.3 L181.5,528.3 L180.7,524.7 L179.8,520.6 L179.7,516.4 L179.5,512.2 L180.0,508.0 L180.1,503.8 L179.7,499.6" stroke="#36614f" stroke-width="0.5" fill="none"/>
<path d="M188.0,581.5 Q185.6,583.2 184.8,584.2" stroke="#36614f" stroke-width="0.4" fill="none"/>
<path d="M187.7,575.4 Q185.6,578.2 181.6,581.5" stroke="#36614f" stroke-width="0.4" fill="none"/>
<path d="M186.4,569.5 Q188.9,571.0 193.1,573.3" stroke="#36614f" stroke-width="0.4" fill="none"/>
<path d="M186.1,562.1 Q183.7,563.9 181.1,566.4" stroke="#36614f" stroke-width="0.4" fill="none"/>
<path d="M185.4,554.7 Q181.9,557.4 180.1,560.7" stroke="#36614f" stroke-width="0.4" fill="none"/>
<path d="M180.0,508.0 Q178.1,509.0 175.8,511.3" stroke="#36614f" stroke-width="0.4" fill="none"/>
<path d="M123.4,560.9 L123.2,557.5 L121.4,554.4 L121.4,550.9 L120.9,547.5 L120.3,544.2 L120.7,540.3 L121.4,536.9 L121.3,533.5 L119.9,530.3 L119.5,527.0 L120.0,523.6 L120.2,519.6 L121.1,516.3 L121.9,513.0 L121.6,509.5 L121.0,505.9 L122.2,502.7 L124.3,498.9 L125.2,496.6 L126.3,494.4 L128.1,492.7 L129.5,490.8 L131.6,489.3 L132.8,487.2" stroke="#36614f" stroke-width="0.5" fill="none"/>
<path d="M121.4,554.4 Q119.9,557.2 117.6,559.6" stroke="#36614f" stroke-width="0.4" fill="none"/>
<path d="M120.9,547.5 Q122.7,548.5 126.3,549.8" stroke="#36614f" stroke-width="0.4" fill="none"/>
<path d="M120.7,540.3 Q119.1,542.9 117.6,544.1" stroke="#36614f" stroke-width="0.4" fill="none"/>
<path d="M121.3,533.5 Q118.8,535.4 116.7,537.0" stroke="#36614f" stroke-width="0.4" fill="none"/>
<path d="M124.3,498.9 Q120.7,498.4 118.2,498.6" stroke="#36614f" stroke-width="0.4" fill="none"/>
<path d="M126.3,494.4 Q126.2,496.3 127.9,497.8" stroke="#36614f" stroke-width="0.4" fill="none"/>
<path d="M129.5,490.8 Q129.4,492.9 130.8,495.7" stroke="#36614f" stroke-width="0.4" fill="none"/>
<path d="M126.5,560.3 L126.1,556.9 L125.5,553.6 L124.8,550.2 L125.0,546.7 L123.9,543.5 L122.7,540.1 L121.5,536.9 L121.9,533.5 L120.6,530.2 L119.9,526.9 L120.0,523.6 L118.6,519.3 L119.4,516.0 L121.0,512.9 L123.0,509.8 L125.1,506.8 L126.9,503.6 L127.5,501.0 L127.9,498.4 L129.2,496.4 L129.6,493.7 L131.0,491.8 L132.2,489.7 L134.4,488.2" stroke="#36614f" stroke-width="0.5" fill="none"/>
<path d="M125.5,553.6 Q122.3,555.6 119.7,559.0" stroke="#36614f" stroke-width="0.4" fill="none"/>
<path d="M125.0,546.7 Q122.2,549.6 120.1,552.4" stroke="#36614f" stroke-width="0.4" fill="none"/>
<path d="M121.9,533.5 Q118.5,535.4 117.1,538.0" stroke="#36614f" stroke-width="0.4" fill="none"/>
<path d="M119.9,526.9 Q119.0,528.1 116.9,530.7" stroke="#36614f" stroke-width="0.4" fill="none"/>
<path d="M118.6,519.3 Q115.8,521.2 113.0,522.5" stroke="#36614f" stroke-width="0.4" fill="none"/>
<path d="M121.0,512.9 Q122.4,514.1 125.5,517.0" stroke="#36614f" stroke-width="0.4" fill="none"/>
<path d="M125.1,506.8 Q127.5,509.8 130.6,512.4" stroke="#36614f" stroke-width="0.4" fill="none"/>
<path d="M127.5,501.0 Q128.5,505.0 129.2,507.4" stroke="#36614f" stroke-width="0.4" fill="none"/>
<path d="M129.2,496.4 Q129.5,499.9 131.0,502.7" stroke="#36614f" stroke-width="0.4" fill="none"/>
<path d="M131.0,491.8 Q131.9,493.4 133.0,496.8" stroke="#36614f" stroke-width="0.4" fill="none"/>
<path d="M130.2,559.6 L128.5,556.4 L128.9,552.9 L127.3,549.7 L126.8,546.4 L126.0,543.1 L126.2,539.8 L125.0,536.5 L124.5,533.2 L123.4,530.0 L122.0,526.7 L122.5,523.3 L121.1,519.8 L121.8,516.5 L122.0,513.1 L121.9,509.6 L122.7,506.3 L123.5,503.0 L123.7,498.5 L125.6,496.9 L127.9,495.5 L130.0,494.0 L131.3,492.0 L132.3,489.8 L134.5,488.3" stroke="#36614f" stroke-width="0.5" fill="none"/>
<path d="M128.9,552.9 Q127.6,555.7 125.1,556.8" stroke="#36614f" stroke-width="0.4" fill="none"/>
<path d="M126.8,546.4 Q124.0,548.9 122.3,550.8" stroke="#36614f" stroke-width="0.4" fill="none"/>
<path d="M126.2,539.8 Q129.0,541.5 132.1,543.3" stroke="#36614f" stroke-width="0.4" fill="none"/>
<path d="M122.0,526.7 Q120.5,528.7 119.9,530.4" stroke="#36614f" stroke-width="0.4" fill="none"/>
<path d="M131.3,492.0 Q133.0,494.4 134.0,497.1" stroke="#36614f" stroke-width="0.4" fill="none"/>
<path d="M133.6,558.9 L132.8,555.6 L132.3,552.2 L131.6,548.9 L130.9,545.5 L129.9,542.3 L129.7,539.4 L129.3,536.1 L129.3,532.7 L128.2,529.5 L128.7,526.1 L128.0,522.8 L126.4,520.9 L126.1,517.3 L127.3,514.1 L128.3,510.9 L128.0,507.3 L129.6,504.2 L130.3,502.9 L131.0,500.4 L131.2,497.7 L132.7,495.8 L133.8,493.7 L135.4,491.9 L136.9,489.9" stroke="#36614f" stroke-width="0.5" fill="none"/>
<path d="M132.3,552.2 Q135.0,553.4 137.6,553.6" stroke="#36614f" stroke-width="0.4" fill="none"/>
<path d="M130.9,545.5 Q134.2,547.7 135.6,547.9" stroke="#36614f" stroke-width="0.4" fill="none"/>
<path d="M129.7,539.4 Q127.0,541.3 124.5,544.9" stroke="#36614f" stroke-width="0.4" fill="none"/>
<path d="M129.3,532.7 Q131.1,534.7 132.7,535.5" stroke="#36614f" stroke-width="0.4" fill="none"/>
<path d="M128.7,526.1 Q126.5,528.0 124.3,530.5" stroke="#36614f" stroke-width="0.4" fill="none"/>
<path d="M126.4,520.9 Q124.0,521.8 120.4,524.3" stroke="#36614f" stroke-width="0.4" fill="none"/>
<path d="M127.3,514.1 Q123.9,516.0 121.4,516.7" stroke="#36614f" stroke-width="0.4" fill="none"/>
<path d="M130.3,502.9 Q128.9,502.4 125.7,502.6" stroke="#36614f" stroke-width="0.4" fill="none"/>
<path d="M151.0,559.0 L152.3,555.8 L154.2,552.7 L153.9,549.1 L155.6,546.0 L156.7,542.7 L157.8,539.8 L158.0,536.4 L159.0,533.2 L160.4,529.9 L159.6,526.5 L160.1,523.2 L161.7,520.1 L162.4,516.5 L161.8,513.1 L161.6,509.7 L161.3,506.3 L160.8,502.9 L160.1,498.6 L159.2,496.3 L158.0,494.2 L157.4,491.7 L156.5,489.4 L155.7,487.1 L153.3,485.8" stroke="#36614f" stroke-width="0.5" fill="none"/>
<path d="M155.6,546.0 Q156.6,546.8 158.2,549.3" stroke="#36614f" stroke-width="0.4" fill="none"/>
<path d="M159.0,533.2 Q154.9,535.9 151.0,538.4" stroke="#36614f" stroke-width="0.4" fill="none"/>
<path d="M159.6,526.5 Q157.0,527.8 155.2,528.9" stroke="#36614f" stroke-width="0.4" fill="none"/>
<path d="M161.7,520.1 Q160.1,523.9 157.0,525.8" stroke="#36614f" stroke-width="0.4" fill="none"/>
<path d="M161.8,513.1 Q164.5,515.1 168.9,515.5" stroke="#36614f" stroke-width="0.4" fill="none"/>
<path d="M160.1,498.6 Q162.4,498.3 165.9,499.7" stroke="#36614f" stroke-width="0.4" fill="none"/>
<path d="M158.0,494.2 Q160.5,493.7 163.7,494.4" stroke="#36614f" stroke-width="0.4" fill="none"/>
<path d="M156.5,489.4 Q155.0,490.7 155.0,493.5" stroke="#36614f" stroke-width="0.4" fill="none"/>
<path d="M153.7,559.7 L155.5,556.6 L156.1,553.2 L157.6,550.0 L159.3,546.9 L160.6,543.7 L161.0,540.1 L161.2,536.8 L160.8,533.3 L162.0,530.1 L162.2,526.8 L163.4,523.5 L163.9,519.6 L164.6,516.0 L165.0,512.5 L163.2,509.4 L162.7,506.0 L160.7,502.9 L159.0,499.3 L157.6,497.3 L155.4,496.0 L154.7,493.5 L154.1,491.0 L152.3,489.4 L150.8,487.5" stroke="#36614f" stroke-width="0.5" fill="none"/>
<path d="M161.0,540.1 Q162.9,543.3 165.2,544.6" stroke="#36614f" stroke-width="0.4" fill="none"/>
<path d="M160.8,533.3 Q164.4,537.5 168.0,540.2" stroke="#36614f" stroke-width="0.4" fill="none"/>
<path d="M162.2,526.8 Q160.3,527.8 156.7,529.9" stroke="#36614f" stroke-width="0.4" fill="none"/>
<path d="M162.7,506.0 Q167.5,508.6 170.9,509.4" stroke="#36614f" stroke-width="0.4" fill="none"/>
<path d="M159.0,499.3 Q158.1,501.4 158.1,503.1" stroke="#36614f" stroke-width="0.4" fill="none"/>
<path d="M155.4,496.0 Q158.2,496.2 161.2,496.8" stroke="#36614f" stroke-width="0.4" fill="none"/>
<path d="M156.5,560.4 L158.2,557.3 L158.9,553.9 L159.8,550.6 L161.5,547.5 L161.7,544.0 L162.6,540.3 L162.1,536.8 L162.1,533.5 L163.8,530.3 L163.0,526.8 L163.3,523.5 L164.6,519.5 L162.8,516.4 L162.9,512.9 L160.8,509.8 L158.9,506.8 L158.6,503.4 L158.0,500.0 L157.2,497.7 L156.7,495.1 L155.3,493.1 L154.0,491.1 L151.8,489.7 L150.7,487.5" stroke="#36614f" stroke-width="0.5" fill="none"/>
<path d="M158.9,553.9 Q161.0,558.2 163.3,560.8" stroke="#36614f" stroke-width="0.4" fill="none"/>
<path d="M162.1,533.5 Q159.2,535.1 155.0,537.0" stroke="#36614f" stroke-width="0.4" fill="none"/>
<path d="M158.0,500.0 Q155.3,504.7 154.3,509.2" stroke="#36614f" stroke-width="0.4" fill="none"/>
<path d="M154.0,491.1 Q153.2,494.9 150.8,498.8" stroke="#36614f" stroke-width="0.4" fill="none"/>
<path d="M160.2,561.3 L160.7,557.9 L160.5,554.3 L161.1,550.9 L162.3,547.6 L163.1,544.3 L163.2,540.3 L163.9,537.0 L165.3,533.8 L165.5,530.4 L166.1,527.1 L167.5,523.9 L167.3,518.9 L168.0,515.3 L167.5,512.0 L167.0,508.6 L166.4,505.3 L165.9,501.9 L164.2,495.9 L162.1,494.4 L160.5,492.6 L159.1,490.6 L157.4,488.8 L155.7,487.1 L154.0,485.4" stroke="#36614f" stroke-width="0.5" fill="none"/>
<path d="M160.5,554.3 Q157.7,554.8 155.5,556.6" stroke="#36614f" stroke-width="0.4" fill="none"/>
<path d="M162.3,547.6 Q163.8,550.1 166.1,551.3" stroke="#36614f" stroke-width="0.4" fill="none"/>
<path d="M163.2,540.3 Q160.4,541.5 156.0,544.5" stroke="#36614f" stroke-width="0.4" fill="none"/>
<path d="M167.3,518.9 Q164.3,523.0 161.4,526.1" stroke="#36614f" stroke-width="0.4" fill="none"/>
<path d="M167.5,512.0 Q170.8,514.3 173.4,515.7" stroke="#36614f" stroke-width="0.4" fill="none"/>
<path d="M164.2,495.9 Q162.9,499.7 162.4,502.4" stroke="#36614f" stroke-width="0.4" fill="none"/>
<path d="M160.5,492.6 Q159.4,497.3 157.7,500.0" stroke="#36614f" stroke-width="0.4" fill="none"/>
<path d="M157.4,488.8 Q156.2,491.5 156.6,493.3" stroke="#36614f" stroke-width="0.4" fill="none"/>
<path d="M118.0,496.4 L123.1,499.1 L128.9,495.1 L136.5,496.3 L142.0,496.7 L148.7,499.1 L157.6,497.1 L166.3,495.7" stroke="#36614f" stroke-width="0.4" fill="none"/>
<path d="M118.0,508.4 L124.4,504.7 L129.9,506.6 L137.2,505.3 L145.8,507.2 L152.8,505.1 L159.8,505.9 L166.1,508.2" stroke="#36614f" stroke-width="0.4" fill="none"/>
<path d="M118.0,514.2 L124.2,514.0 L130.1,518.3 L138.9,517.2 L144.6,514.1 L151.4,516.4 L159.5,514.9" stroke="#36614f" stroke-width="0.4" fill="none"/>
<path d="M118.0,529.4 L125.3,526.6 L130.6,528.3 L136.2,526.9 L143.0,529.5 L149.0,527.1 L157.6,528.3 L162.8,528.3" stroke="#36614f" stroke-width="0.4" fill="none"/>
<path d="M118.0,538.1 L123.4,535.6 L132.1,539.9 L138.1,536.1 L145.5,540.3 L153.1,537.0 L161.9,538.7" stroke="#36614f" stroke-width="0.4" fill="none"/>
<path d="M118.0,547.3 L124.3,549.5 L130.5,549.8 L136.4,549.1 L141.6,547.9 L149.4,550.5 L156.4,546.9 L162.7,550.5" stroke="#36614f" stroke-width="0.4" fill="none"/>
<path d="M128.0,690.0 Q125.8,691.4 119.0,695.2" stroke="#36614f" stroke-width="0.4" fill="none"/>
<path d="M128.0,690.0 Q125.7,691.3 121.6,695.8" stroke="#36614f" stroke-width="0.4" fill="none"/>
<path d="M128.0,690.0 Q125.1,693.0 120.2,694.1" stroke="#36614f" stroke-width="0.4" fill="none"/>
<path d="M128.0,690.0 Q124.9,692.0 120.5,693.8" stroke="#36614f" stroke-width="0.4" fill="none"/>
<path d="M128.0,690.0 Q123.5,692.2 118.8,694.9" stroke="#36614f" stroke-width="0.4" fill="none"/>
<path d="M128.0,690.0 Q125.5,691.9 114.8,692.9" stroke="#36614f" stroke-width="0.4" fill="none"/>
<path d="M158.0,692.0 Q161.6,695.0 165.3,694.2" stroke="#36614f" stroke-width="0.4" fill="none"/>
<path d="M158.0,692.0 Q161.4,693.5 165.5,695.3" stroke="#36614f" stroke-width="0.4" fill="none"/>
<path d="M158.0,692.0 Q162.1,694.9 168.6,694.5" stroke="#36614f" stroke-width="0.4" fill="none"/>
<path d="M158.0,692.0 Q161.4,693.7 171.3,694.8" stroke="#36614f" stroke-width="0.4" fill="none"/>
<path d="M158.0,692.0 Q162.3,694.8 166.2,694.2" stroke="#36614f" stroke-width="0.4" fill="none"/>
<path d="M158.0,692.0 Q160.6,693.6 171.6,696.7" stroke="#36614f" stroke-width="0.4" fill="none"/>
<path d="M90.0,584.0 L90.7,589.2" stroke="#36614f" stroke-width="0.35" fill="none"/>
<path d="M90.0,584.0 L88.1,590.4" stroke="#36614f" stroke-width="0.35" fill="none"/>
<path d="M90.0,584.0 L91.7,591.8" stroke="#36614f" stroke-width="0.35" fill="none"/>
<path d="M90.0,584.0 L91.4,592.4" stroke="#36614f" stroke-width="0.35" fill="none"/>
<path d="M90.0,584.0 L89.9,590.2" stroke="#36614f" stroke-width="0.35" fill="none"/>
<path d="M90.0,584.0 L85.3,593.8" stroke="#36614f" stroke-width="0.35" fill="none"/>
<path d="M184.0,584.0 L187.0,592.8" stroke="#36614f" stroke-width="0.35" fill="none"/>
<path d="M184.0,584.0 L182.0,591.8" stroke="#36614f" stroke-width="0.35" fill="none"/>
<path d="M184.0,584.0 L183.9,590.2" stroke="#36614f" stroke-width="0.35" fill="none"/>
<path d="M184.0,584.0 L187.6,591.9" stroke="#36614f" stroke-width="0.35" fill="none"/>
<path d="M184.0,584.0 L184.9,593.9" stroke="#36614f" stroke-width="0.35" fill="none"/>
<path d="M184.0,584.0 L188.6,594.2" stroke="#36614f" stroke-width="0.35" fill="none"/>
<path d="M136.5,455 C138,454 140,454 141,455.5 M145,455.5 C146,454 148,454 149.5,455 M143,456 L142.5,461 L144,461.5 M140,464.5 C142,465.5 144,465.5 146,464.5" stroke="#8a6a58" stroke-width="0.5" fill="none"/>
<path d="M134,462 L138,470 L142,474 L147,470 L152,462" stroke="#36614f" stroke-width="0.45" fill="none"/>
<path d="M138,449 L143,447 L148,449" stroke="#36614f" stroke-width="0.4" fill="none"/>
<path d="M137,472 L138,480 M148,472 L147,480 M142,475 L142,484" stroke="#36614f" stroke-width="0.45" fill="none"/>
<path d="M133,456 C131,460 132,466 135,470 M153,456 C155,460 154,466 151,470" stroke="#36614f" stroke-width="0.4" fill="none"/>
</g>
<path d="M143,441 C150,441 155,447 155.5,455 C156.5,455 158,457 157.3,461 C156.8,464 155.5,466 154.2,466.5 C152.5,470.5 150,473 148,474 L150.5,477 L151.5,483 C160,486 170,488 176,491 C180,494 181.5,500 181.5,506 C183,520 184,535 186,548 C188,558 189,564 190,569 C193,573 195,580 195,586 C195,591 193,596 190,597 C188,595 188,590 187,587 L186,595 C185,597 183,597 182.5,595 L182,587 L180,594 C179,596 177,596 177,593 L178,584 C176,588 174,588 174,585 C175,580 175.5,575 175,571 C176,560 175,548 174,538 C173,526 171.5,516 169,508 C168,520 167,530 166,538 C168,546 171,552 172,558 C170,575 168,585 168.1,589 C166,600 163,610 163.3,618 C162,628 162,638 162.3,643 C161,655 160,664 160.4,669 C160.5,675 161,680 161.5,684 C165,690 170,695 173,699 C173.5,703 167,704 160,703 C153,701 149,698 148,692 C147,680 146,668 146.8,657 C148,645 149,635 148.7,630 C147,615 145,605 143.9,599 C143,590 142.5,580 142,571 L140.5,570 C140.2,580 140.2,590 140,599 C139,612 136,622 135.3,630 C136,640 138,650 138.2,657 C139,667 140,675 140,682 C139.5,688 136,692 130,694.5 C124,696.5 118,696 116,693 C115.5,689 118.5,686.5 120.6,684 C122,678 123.5,672 123.5,669 C123,660 122,650 122.5,643 C121,632 120,625 120.6,618 C118,605 115,595 114.8,589 C114,580 113.5,570 114,560 C113.5,552 116,545 118,538 C118.5,530 118.5,520 117.5,510 C114,520 111.5,532 109.5,542 C107,552 104.5,560 102,568 C101,575 99,582 96,588 C94,592 92,594 90,593 C90,590 91.5,587 92,585 L88,591 C86.5,592.5 85,591.5 85.5,589.5 L88,584 L84,588 C82.5,589 81,588 82,586 L86,580 C84,581 82,581 81.5,579.5 C83,576 86,573 88.5,569 C91,556 94.5,540 97.5,526 C100,514 102,502 105,496 C110,489 120,486 134.5,483 L135,477 L138,474 C134.5,472 132.5,469 131.8,466.5 C130,466 128.5,463.5 128.8,460.5 C129,457.5 130.5,456 131.2,455.5 C131.5,447 136,441 143,441 Z" fill="none" stroke="#d8916a" stroke-width="0.8"/>
<g stroke="#2a45a0" fill="none" stroke-linecap="round">
<path d="M137,473 C138,480 139,487 139.5,493 L140,505 C140.5,510 141,515 141.8,520" stroke-width="2.1"/>
<path d="M149.5,472 C149.5,477 149.3,482 148.5,485.4 C146,488 143,489 140,490" stroke-width="1.7"/>
<path d="M118,502 C120,496 123,492 127,489 C131,488 135,489.5 139.5,490.5 C146,488.5 152,487 156.5,487.4 C160,489 163,491 164.5,494 C166,499 166.8,503 167,507.6" stroke-width="1.9"/>
<path d="M142,520 C143,528 142.5,535 141.5,540 L140.5,546.6 C137,549 134,551 132.2,553.4 C131.5,557 131.3,560 131.3,563 M140.5,546.6 C144,549 147,551 148.7,553.4 C150,556 151.5,558.5 152.6,561" stroke-width="1.7"/>
<path d="M144,495 C145,505 146,515 145.5,525 C145,532 144,537 143,541" stroke-width="0.8"/>
</g>
</g>
<!-- LABELS -->
<!-- LABELS START -->
<g class="lbl" font-size="5.3" font-weight="bold" fill="#151515" stroke="#151515" stroke-width="0.12">
<text x="84" y="210.4" text-anchor="end"><tspan x="84" dy="0">нейросекреторные</tspan><tspan x="84" dy="4.9">ядра гипоталамуса</tspan></text>
<text x="143.2" y="210.9" text-anchor="start">шишковидная железа</text>
<text x="143.2" y="217.1" text-anchor="start">гипофиз</text>
<text x="143" y="237.8" text-anchor="start"><tspan x="143" dy="0">щитовидная</tspan><tspan x="143" dy="5.4">и околощитовидные</tspan><tspan x="143" dy="5.4">железы</tspan></text>
<text x="168" y="262.8" text-anchor="start">тимус</text>
<text x="167.4" y="295.0" text-anchor="start">надпочечники</text>
<text x="167.4" y="306.6" text-anchor="start"><tspan x="167.4" dy="0">поджелудочная</tspan><tspan x="167.4" dy="5.8">железа</tspan></text>
<text x="75.5" y="338.8" text-anchor="end">яичник</text>
<text x="167.4" y="372.9" text-anchor="start">яичко</text>
<text x="324.6" y="162.8" text-anchor="start"><tspan x="324.6" dy="0">жировые клетки</tspan><tspan x="324.6" dy="5.5">(адипоциты)</tspan></text>
<text x="329" y="198.6" text-anchor="start"><tspan x="329" dy="0">кровеносный сосуд</tspan><tspan x="329" dy="5.5">с форменными</tspan><tspan x="329" dy="5.5">элементами крови</tspan></text>
<text x="322.5" y="230.0" text-anchor="start"><tspan x="322.5" dy="0">развивающиеся</tspan><tspan x="322.5" dy="5.55">кровяные клетки</tspan><tspan x="322.5" dy="5.55">паренхимы</tspan><tspan x="322.5" dy="5.55">красного костного мозга</tspan></text>
<text x="441.2" y="182.5" text-anchor="end"><tspan x="441.2" dy="0">приносящий</tspan><tspan x="441.2" dy="6.2">лимфатический</tspan><tspan x="441.2" dy="6.2">сосуд</tspan></text>
<text x="438.7" y="203.8" text-anchor="end"><tspan x="438.7" dy="0">герминативный</tspan><tspan x="438.7" dy="5.6">центр</tspan></text>
<text x="436" y="215.0" text-anchor="end"><tspan x="436" dy="0">лимфоидный</tspan><tspan x="436" dy="6.2">узелок</tspan></text>
<text x="439.7" y="226.8" text-anchor="end">корковое вещество</text>
<text x="444.2" y="235.2" text-anchor="end">корковый синус</text>
<text x="449" y="244.4" text-anchor="end">трабекула</text>
<text x="594.8" y="179.1" text-anchor="start"><tspan x="594.8" dy="0">приносящий</tspan><tspan x="594.8" dy="5.9">лимфатический</tspan><tspan x="594.8" dy="5.9">сосуд</tspan></text>
<text x="594.8" y="218.1" text-anchor="start"><tspan x="594.8" dy="0">мозговой</tspan><tspan x="594.8" dy="5.8">синус</tspan></text>
<text x="595" y="232.8" text-anchor="start"><tspan x="595" dy="0">мозговое</tspan><tspan x="595" dy="6.1">вещество</tspan></text>
<text x="470.1" y="262.5" text-anchor="end">капсула</text>
<text x="481.2" y="275.0" text-anchor="end">подкапсульный синус</text>
<text x="490.1" y="287.9" text-anchor="end">паракортикальная зона</text>
<text x="494" y="295.3" text-anchor="start">ворота</text>
<text x="507.5" y="287.0" text-anchor="start">кровеносные сосуды</text>
<text x="520.6" y="280.4" text-anchor="start">выносящий лимфатический сосуд</text>
<text x="279.3" y="344.1" text-anchor="end"><tspan x="279.3" dy="0">правая небная</tspan><tspan x="279.3" dy="4.8">миндалина</tspan></text>
<text x="279.3" y="357.0" text-anchor="end"><tspan x="279.3" dy="0">глоточная</tspan><tspan x="279.3" dy="4.7">миндалина</tspan></text>
<text x="383.7" y="345.0" text-anchor="start">мягкое небо</text>
<text x="383.7" y="352.5" text-anchor="start"><tspan x="383.7" dy="0">левая небная</tspan><tspan x="383.7" dy="4.8">миндалина</tspan></text>
<text x="380.7" y="372.8" text-anchor="start">язык</text>
<text x="429" y="419.1" text-anchor="start"><tspan x="429" dy="0">фиброзная</tspan><tspan x="429" dy="5.3">оболочка</tspan></text>
<text x="366.3" y="435.5" text-anchor="end"><tspan x="366.3" dy="0">трабекулы</tspan><tspan x="366.3" dy="5.4">селезенки</tspan></text>
<text x="366" y="450.4" text-anchor="end"><tspan x="366" dy="0">селезеночные</tspan><tspan x="366" dy="5.4">лимфоидные</tspan><tspan x="366" dy="5.4">фолликулы</tspan></text>
<text x="440.9" y="437.9" text-anchor="start">синус селезенки</text>
<text x="447.8" y="443.8" text-anchor="start"><tspan x="447.8" dy="0">селезеночные</tspan><tspan x="447.8" dy="5.7">лимфоидные фолликулы</tspan></text>
<text x="452.8" y="456.4" text-anchor="start">трабекулы селезенки</text>
<text x="463.3" y="467.7" text-anchor="start"><tspan x="463.3" dy="0">пульпа</tspan><tspan x="463.3" dy="5.7">селезенки</tspan></text>
<text x="568.4" y="344.2" text-anchor="start">трахея</text>
<text x="583.1" y="362.8" text-anchor="start"><tspan x="583.1" dy="0">левая</tspan><tspan x="583.1" dy="5.5">плечеголовная</tspan><tspan x="583.1" dy="5.5">вена</tspan></text>
<text x="586" y="380.7" text-anchor="start"><tspan x="586" dy="0">грудная</tspan><tspan x="586" dy="5.2">часть аорты</tspan></text>
<text x="586.6" y="396.5" text-anchor="start"><tspan x="586.6" dy="0">левая доля</tspan><tspan x="586.6" dy="5.6">тимуса</tspan></text>
<text x="586" y="409.9" text-anchor="start">левое легкое</text>
<text x="583.4" y="416.6" text-anchor="start"><tspan x="583.4" dy="0">правая доля</tspan><tspan x="583.4" dy="5.3">тимуса</tspan></text>
<text x="204.2" y="461.7" text-anchor="start">околоушные лимфатические узлы</text>
<text x="204.2" y="470.7" text-anchor="start">поднижнечелюстные лимфатические узлы</text>
<text x="204.2" y="477.4" text-anchor="start">шейные лимфатические узлы</text>
<text x="204.2" y="496.4" text-anchor="start">верхняя полая вена</text>
<text x="204.2" y="514.4" text-anchor="start">подмышечные лимфатические узлы</text>
<text x="204.2" y="526.0" text-anchor="start">грудной проток</text>
<text x="204.2" y="532.9" text-anchor="start">цистерна грудного протока</text>
<text x="204.2" y="545.5" text-anchor="start">нижняя полая вена</text>
<text x="204.2" y="553.3" text-anchor="start">общие подвздошные лимфатические узлы</text>
<text x="204.2" y="573.5" text-anchor="start">паховые лимфатические узлы</text>
<text x="204.2" y="560.0" text-anchor="start"><tspan x="204.2" dy="0">поверхностные лимфатические сосуды</tspan><tspan x="204.2" dy="5.2">верхней конечности</tspan></text>
<text x="204.2" y="598.1" text-anchor="start"><tspan x="204.2" dy="0">поверхностные лимфатические сосуды</tspan><tspan x="204.2" dy="5.6">нижней конечности</tspan></text>
<text x="98.5" y="481.4" text-anchor="end"><tspan x="98.5" dy="0">правый лимфатический</tspan><tspan x="98.5" dy="5.7">проток</tspan></text>
<text x="429.3" y="561.0" text-anchor="end">среднее ухо</text>
<text x="429.3" y="572.6" text-anchor="end">ушная раковина</text>
<text x="429.3" y="577.9" text-anchor="end"><tspan x="429.3" dy="0">наружный</tspan><tspan x="429.3" dy="6.3">слуховой проход</tspan></text>
<text x="573.5" y="546.3" text-anchor="start"><tspan x="573.5" dy="0">костные</tspan><tspan x="573.5" dy="5.6">полукружные каналы</tspan></text>
<text x="573.5" y="562.0" text-anchor="start">улитка</text>
<text x="573.5" y="591.0" text-anchor="start"><tspan x="573.5" dy="0">мышца, напрягающая</tspan><tspan x="573.5" dy="6.1">барабанную перепонку</tspan></text>
<text x="573.5" y="620.3" text-anchor="start">слуховая труба</text>
<text x="513.5" y="617.3" text-anchor="middle"><tspan x="513.5" dy="0">барабанная</tspan><tspan x="513.5" dy="6.0">перепонка</tspan></text>
<text x="292" y="668.2" text-anchor="end"><tspan x="292" dy="0">собственная пластинка</tspan><tspan x="292" dy="5.6">слизистой оболочки</tspan></text>
<text x="292" y="679.0" text-anchor="end">вкусовое нервное волокно</text>
<text x="292" y="683.5" text-anchor="end">вкусовые почки</text>
<text x="292" y="692.4" text-anchor="end">желобовидный сосочек</text>
<text x="413.7" y="661.7" text-anchor="start">нитевидные сосочки</text>
<text x="436.7" y="670.0" text-anchor="start"><tspan x="436.7" dy="0">грибовидный</tspan><tspan x="436.7" dy="5.6">сосочек</tspan></text>
<text x="433.7" y="712.0" text-anchor="start"><tspan x="433.7" dy="0">листовидные</tspan><tspan x="433.7" dy="6.0">сосочки</tspan></text>
<text x="130.3" y="804.6" text-anchor="end">ресничное тело</text>
<text x="130.3" y="810.0" text-anchor="end">задняя камера глазного яблока</text>
<text x="130.3" y="815.5" text-anchor="end">передняя камера глазного яблока</text>
<text x="130.3" y="819.7" text-anchor="end">роговица</text>
<text x="130.3" y="825.6" text-anchor="end">радужка</text>
<text x="130.3" y="832.7" text-anchor="end">хрусталик</text>
<text x="130.3" y="863.4" text-anchor="end">железа хряща века</text>
<text x="130.3" y="872.5" text-anchor="end">нижний хрящ века</text>
<text x="130.3" y="878.9" text-anchor="end">конъюнктива</text>
<text x="130.3" y="886.3" text-anchor="end">мышца нижнего века</text>
<text x="280.6" y="907.4" text-anchor="start">зрительный нерв</text>
<text x="272.3" y="916.2" text-anchor="start">диск зрительного нерва</text>
<text x="262.5" y="923.5" text-anchor="start">наружная мышца глазного яблока</text>
<text x="228.7" y="930.4" text-anchor="end">склера</text>
<text x="250.7" y="931.0" text-anchor="start">стекловидное тело</text>
<text x="237.5" y="937.6" text-anchor="end">собственно сосудистая оболочка</text>
<text x="241.8" y="937.6" text-anchor="start">сетчатка</text>
<text x="430.5" y="773.4" text-anchor="end">эпидермис</text>
<text x="430.5" y="783.8" text-anchor="end">сосочки дермы</text>
<text x="430.5" y="793.2" text-anchor="end">волос</text>
<text x="430.5" y="806.6" text-anchor="end">сальная железа</text>
<text x="430.5" y="833.7" text-anchor="end">собственно кожа</text>
<text x="430.5" y="870.3" text-anchor="end">луковица волоса</text>
<text x="430.5" y="875.8" text-anchor="end">сосочек волоса</text>
<text x="430.5" y="847.6" text-anchor="end"><tspan x="430.5" dy="0">выводной проток</tspan><tspan x="430.5" dy="6.0">потовой железы</tspan></text>
<text x="430.5" y="858.8" text-anchor="end"><tspan x="430.5" dy="0">концевой отдел</tspan><tspan x="430.5" dy="5.8">потовой железы</tspan></text>
<text x="432.8" y="882.9" text-anchor="end">артериальные сосуды кожи</text>
<text x="432.8" y="895.9" text-anchor="end">венозные сосуды кожи</text>
<text x="585.5" y="770.7" text-anchor="start">потовая пора</text>
<text x="585.5" y="804.8" text-anchor="start">нервные волокна</text>
<text x="585.5" y="816.3" text-anchor="start"><tspan x="585.5" dy="0">чувствительные</tspan><tspan x="585.5" dy="5.8">нервные окончания</tspan></text>
<text x="585.5" y="840.8" text-anchor="start"><tspan x="585.5" dy="0">лимфатические</tspan><tspan x="585.5" dy="5.3">сосуды кожи</tspan></text>
<text x="585.5" y="871.3" text-anchor="start">подкожная основа</text>
<text x="585.5" y="880.1" text-anchor="start"><tspan x="585.5" dy="0">сосуды и нервы</tspan><tspan x="585.5" dy="5.2">подкожной основы</tspan></text>
<text x="585.5" y="906.0" text-anchor="start">жировой слой</text>
</g>
<g stroke="#1a1a1a" stroke-width="0.8" fill="none">
<path d="M84.5,211.5 L112,211.5"/>
<path d="M121,209.5 L141.5,209.5"/>
<path d="M113,215.5 L141.5,215.5"/>
<path d="M116.5,243.5 L141.5,240.5"/>
<path d="M117,247.5 L141.5,240.5"/>
<path d="M118,261.5 L166,261.5"/>
<path d="M103.5,297.5 L103.5,293.5 L165.5,293.5"/>
<path d="M134,297.5 L165.5,293.5"/>
<path d="M121,308.5 L165.5,308.5"/>
<path d="M76.5,337.5 L91.8,337.5"/>
<path d="M118,371.5 L165.5,371.5"/>
<path d="M296,165.5 L322,165.5"/>
<path d="M300.5,179 L322,165"/>
<path d="M296,202.5 L326,202.5"/>
<path d="M296.7,237.5 L319.5,237.5"/>
<path d="M443.5,187.5 L458,187.5"/>
<path d="M441,204.5 L492,204.5"/>
<path d="M438,216.5 L483,216.5"/>
<path d="M441.5,225.5 L477,225.5"/>
<path d="M446,234 L481.8,229.3"/>
<path d="M451,243 L485.4,232.8"/>
<path d="M572,183.5 L593,183.5"/>
<path d="M519,222.5 L593,222.5"/>
<path d="M522.4,231.5 L593,231.5"/>
<path d="M472.5,246 L472.5,261.5"/>
<path d="M482.5,249 L482.5,273.5"/>
<path d="M491.5,248 L491.5,286.5"/>
<path d="M499.5,258 L499.5,291"/>
<path d="M506.5,260 L506.5,285.5"/>
<path d="M518.5,268 L518.5,279"/>
<path d="M281,348.5 L311,348.5"/>
<path d="M281,355.5 L307,355.5"/>
<path d="M329.7,343.5 L382,343.5"/>
<path d="M354.3,354.5 L382,354.5"/>
<path d="M336.3,371.5 L378.5,371.5"/>
<path d="M409.6,420.5 L427,420.5"/>
<path d="M368,436.5 L387.2,436.5"/>
<path d="M368,454.5 L399,454.5"/>
<path d="M421.5,436.5 L439,436.5"/>
<path d="M432,445.5 L446,445.5"/>
<path d="M437.9,454.5 L451,454.5"/>
<path d="M442.4,460.7 L460.3,468.2 L442.4,474.2"/>
<path d="M535,342.5 L566.5,342.5"/>
<path d="M542.4,367.5 L580.2,367.5"/>
<path d="M544.9,382.5 L583.4,382.5"/>
<path d="M535.8,398.5 L584,398.5"/>
<path d="M562,408.5 L584,408.5"/>
<path d="M522.7,414.5 L581,414.5"/>
<path d="M156,460.5 L201,460.5"/>
<path d="M146,469.5 L201,469.5"/>
<path d="M150,476.5 L201,476.5"/>
<path d="M140,495.5 L201,495.5"/>
<path d="M168,513.5 L201,513.5"/>
<path d="M145,524.5 L201,524.5"/>
<path d="M144,531.5 L201,531.5"/>
<path d="M142,544.5 L201,544.5"/>
<path d="M150,551.5 L201,551.5"/>
<path d="M188,558.5 L201,558.5"/>
<path d="M152,566 L201,572"/>
<path d="M168,599.5 L201,599.5"/>
<path d="M160,640 L201,599"/>
<path d="M99.5,485.5 L133,485.5"/>
<path d="M431,560.5 L499,560.5"/>
<path d="M431,571.5 L438.4,571.5"/>
<path d="M431,576.5 L471.8,576.5"/>
<path d="M513.6,555.5 L522,547.5 L571,547.5"/>
<path d="M526,560.5 L571,560.5"/>
<path d="M543.9,593.5 L571,593.5"/>
<path d="M556.4,619.5 L571,619.5"/>
<path d="M501,574.3 L511.5,591 L511.5,612"/>
<path d="M293.5,672.5 L309,672.5"/>
<path d="M293.5,677.5 L312.4,677.5"/>
<path d="M293.5,681.5 L312,681.5"/>
<path d="M293.5,691.5 L332.5,681.4"/>
<path d="M395.2,661.5 L412.5,661.5"/>
<path d="M416.5,668 L433.3,673.6 L418.7,682.5"/>
<path d="M402,713.9 L433,710.5"/>
<path d="M410.9,722.8 L433,710.5"/>
<path d="M131.5,803.5 L195.3,803.5"/>
<path d="M131.5,808.5 L191.6,808.5"/>
<path d="M131.5,813.5 L183,813.5"/>
<path d="M131.5,818.5 L171.9,818.5"/>
<path d="M131.5,824.5 L186.7,824.5"/>
<path d="M131.5,831.5 L192.8,831.5"/>
<path d="M131.5,862.5 L173.1,862.5"/>
<path d="M131.5,871.5 L170.6,871.5"/>
<path d="M131.5,877.5 L183.5,877.5 L183.5,868"/>
<path d="M131.5,884.5 L169.4,884.5"/>
<path d="M281.5,843.4 L281.5,903"/>
<path d="M272.5,838 L272.5,911.5"/>
<path d="M263.5,884 L263.5,918.5"/>
<path d="M227.5,880 L227.5,925.5"/>
<path d="M250.5,860 L250.5,926.5"/>
<path d="M234.5,878 L234.5,932.5"/>
<path d="M243.5,875 L243.5,932.5"/>
<path d="M432,772.5 L441,772.5"/>
<path d="M432,782.5 L445,782.5"/>
<path d="M432,791.5 L470,791.5"/>
<path d="M432,805.5 L466,805.5"/>
<path d="M432,832.5 L446,832.5"/>
<path d="M432,852.5 L442,852.5"/>
<path d="M432,863.5 L445,863.5"/>
<path d="M432,868.5 L462,868.5"/>
<path d="M432,874.5 L466,874.5"/>
<path d="M434,881.5 L450,881.5"/>
<path d="M434,895 L499.3,880.7"/>
<path d="M572,769.5 L583.5,769.5"/>
<path d="M555,803.5 L583.5,803.5"/>
<path d="M550,816.5 L583.5,816.5"/>
<path d="M555,838 L583.5,842 L555,848"/>
<path d="M540,870.5 L583.5,870.5"/>
<path d="M570,874 L583.5,880 L575,890"/>
<path d="M548,904.5 L583.5,904.5"/>
</g>
<!-- LABELS END -->

<!-- footer -->
<g id="footer" font-size="3.7" fill="#2e2818" stroke="#2e2818" stroke-width="0.08">
  <path d="M21,961 L29,969 L21,977 L13,969 Z" fill="none" stroke="#3a3428" stroke-width="0.8"/>
  <text x="21" y="971" font-size="5" text-anchor="middle" fill="#3a3428">12+</text>
  <text x="36.8" y="963.8" font-weight="bold" textLength="143.5" lengthAdjust="spacingAndGlyphs">АНАТОМИЯ ЧЕЛОВЕКА. <tspan font-weight="normal">Эндокринные железы, лимфатическая система, органы</tspan></text>
  <text x="36.8" y="968.9" textLength="143.5" lengthAdjust="spacingAndGlyphs">иммунной защиты, органы чувств и кожа: Плакат / сост. Р.П. Савусев. — Москва :</text>
  <text x="36.8" y="973.4" textLength="113" lengthAdjust="spacingAndGlyphs">Издательство АСТ : Издательство «Мир и Образование», 2024.</text>
  <text x="36.8" y="979.8" textLength="116" lengthAdjust="spacingAndGlyphs">Издательская лицензия ООО «Издательство «Мир и Образование».</text>
  <text x="36.8" y="984.9" textLength="140" lengthAdjust="spacingAndGlyphs">Подписано в печать 15.07.2024. Формат бумаги А1. Тираж 2000 экз. Заказ №</text>
  <text x="198" y="962" textLength="117" lengthAdjust="spacingAndGlyphs">Произведено в Российской Федерации. Изготовлено в июле 2024 г.</text>
  <text x="198" y="968.7" textLength="76" lengthAdjust="spacingAndGlyphs">Общероссийский классификатор продукции</text>
  <text x="198" y="973" textLength="118" lengthAdjust="spacingAndGlyphs">ОК-034-2014 (КПЕС 2008); 58.11.19 — плакаты, в том числе для детей.</text>
  <text x="198" y="980.3" textLength="86" lengthAdjust="spacingAndGlyphs">Отпечатано в АО "Первая образцовая типография"</text>
  <text x="198" y="984" textLength="59" lengthAdjust="spacingAndGlyphs">Филиал "Чеховский Печатный Двор"</text>
  <text x="198" y="988.3" textLength="120" lengthAdjust="spacingAndGlyphs">142300, Россия, Московская область, г. Чехов, ул. Полиграфистов, д. 1</text>
  <text x="359" y="963.6" textLength="143" lengthAdjust="spacingAndGlyphs">ООО «Издательство АСТ». 129085, Российская Федерация, г. Москва, Звездный буль-</text>
  <text x="359" y="968.2" textLength="126" lengthAdjust="spacingAndGlyphs">вар, д. 21, стр. 1, комн. 705, пом. I, этаж 7.   ISBN 978-5-17-166268-4</text>
  <text x="359" y="975.4" textLength="141" lengthAdjust="spacingAndGlyphs">ООО «Издательство «Мир и Образование». 107078, Российская Федерация, г. Москва,</text>
  <text x="359" y="980.3" textLength="139" lengthAdjust="spacingAndGlyphs">ул. Новочеремушкинская, д. 50, корп. 2, пом. IV, комн. 16.   ISBN 978-5-94666-997-9</text>
  <text x="519" y="963.3" textLength="41" lengthAdjust="spacingAndGlyphs">© Савусев Р.П., 2024</text>
  <text x="519" y="969.2" textLength="83" lengthAdjust="spacingAndGlyphs">© ООО «Издательство «Мир и Образование»,</text>
  <text x="523" y="974" textLength="37" lengthAdjust="spacingAndGlyphs">иллюстрации, 2024</text>
  <text x="519" y="978.8" textLength="91" lengthAdjust="spacingAndGlyphs">© ООО «Издательство «Мир и Образование», 2024</text>
  <rect x="616.3" y="961" width="43" height="22.2" fill="#ffffff"/>
  <text x="637.8" y="964.6" font-size="2.6" text-anchor="middle" fill="#333" textLength="34" lengthAdjust="spacingAndGlyphs">ISBN 978-5-17-166268-4</text>
  <g fill="#222"><rect x="620.50" y="965.5" width="0.4" height="13.5"/>
<rect x="621.50" y="965.5" width="0.4" height="13.5"/>
<rect x="622.80" y="965.5" width="1.0" height="13.5"/>
<rect x="624.40" y="965.5" width="0.4" height="13.5"/>
<rect x="625.20" y="965.5" width="0.4" height="13.5"/>
<rect x="626.00" y="965.5" width="1.0" height="13.5"/>
<rect x="627.90" y="965.5" width="0.7" height="13.5"/>
<rect x="629.00" y="965.5" width="0.4" height="13.5"/>
<rect x="630.30" y="965.5" width="0.7" height="13.5"/>
<rect x="631.60" y="965.5" width="0.4" height="13.5"/>
<rect x="632.40" y="965.5" width="0.7" height="13.5"/>
<rect x="633.50" y="965.5" width="0.4" height="13.5"/>
<rect x="634.80" y="965.5" width="0.7" height="13.5"/>
<rect x="636.10" y="965.5" width="0.4" height="13.5"/>
<rect x="636.90" y="965.5" width="0.7" height="13.5"/>
<rect x="638.20" y="965.5" width="0.7" height="13.5"/>
<rect x="639.30" y="965.5" width="0.7" height="13.5"/>
<rect x="640.90" y="965.5" width="1.0" height="13.5"/>
<rect x="642.80" y="965.5" width="0.4" height="13.5"/>
<rect x="643.60" y="965.5" width="0.4" height="13.5"/>
<rect x="644.60" y="965.5" width="0.7" height="13.5"/>
<rect x="645.70" y="965.5" width="0.7" height="13.5"/>
<rect x="646.80" y="965.5" width="0.7" height="13.5"/>
<rect x="648.40" y="965.5" width="0.7" height="13.5"/>
<rect x="650.00" y="965.5" width="0.4" height="13.5"/>
<rect x="651.00" y="965.5" width="1.0" height="13.5"/>
<rect x="652.90" y="965.5" width="0.7" height="13.5"/>
<rect x="654.20" y="965.5" width="1.0" height="13.5"/></g>
  <text x="637.8" y="982.6" font-size="3.2" text-anchor="middle" fill="#222" textLength="36" lengthAdjust="spacingAndGlyphs">9 785171 662684</text>
</g>
</svg>
</body></html>
